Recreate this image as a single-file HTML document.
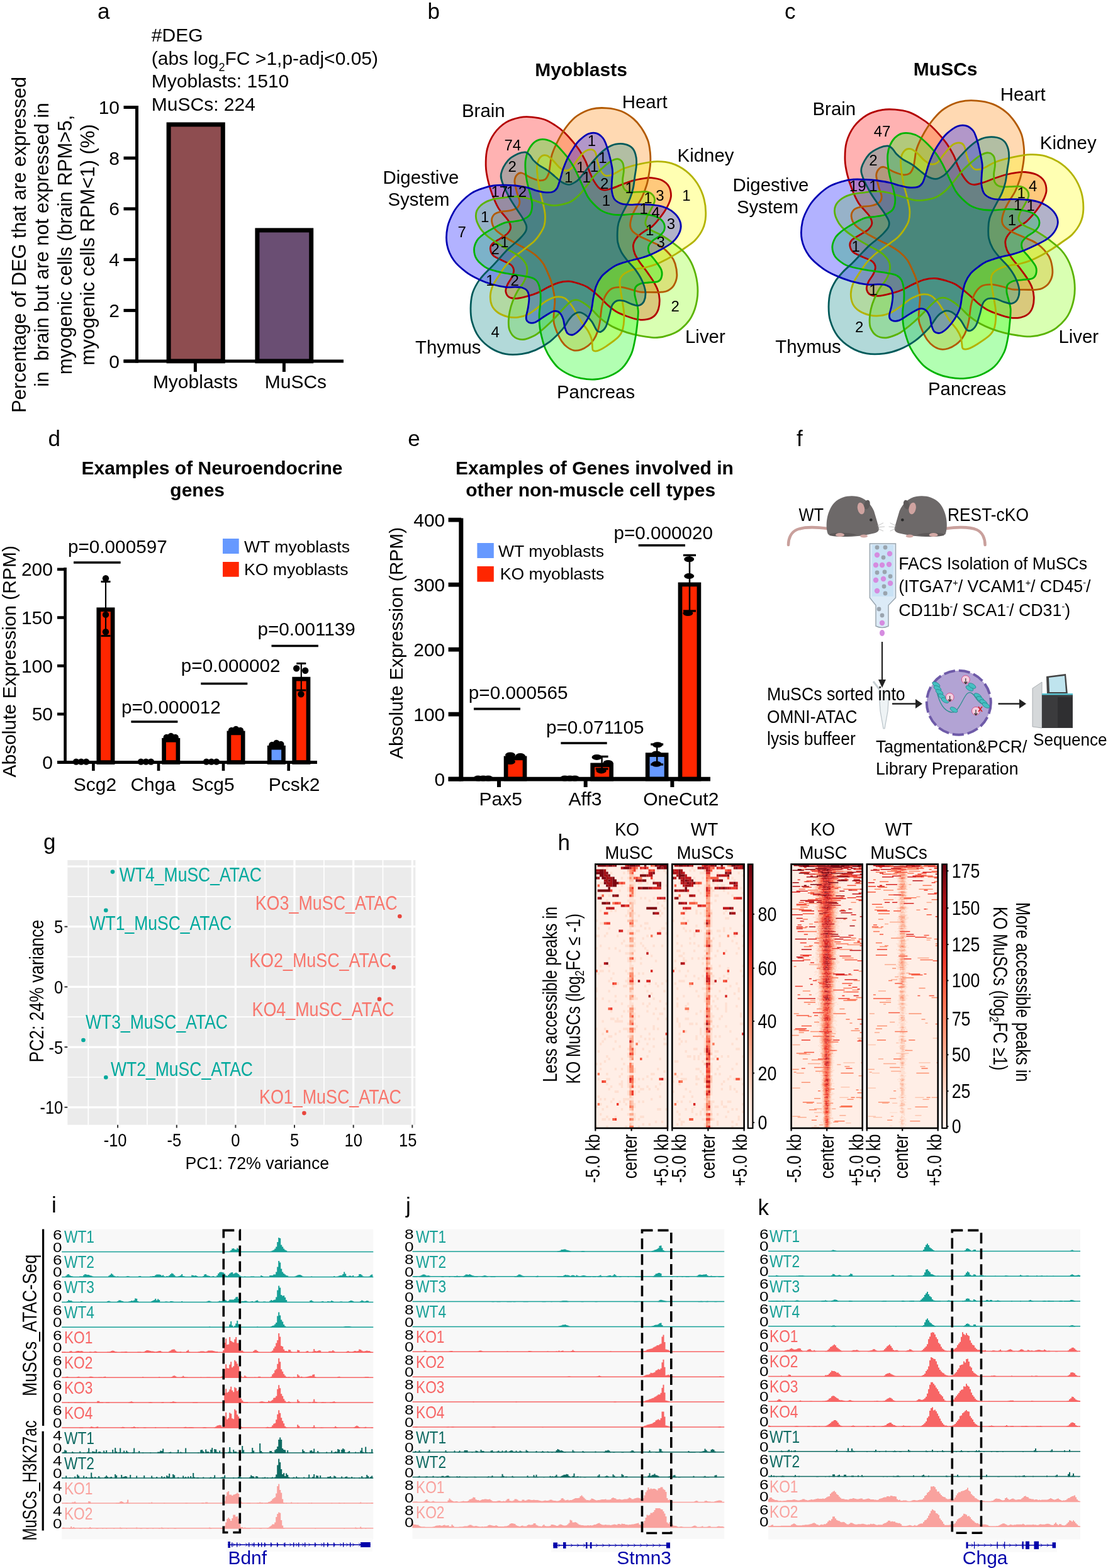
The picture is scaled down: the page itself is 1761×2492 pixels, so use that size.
<!DOCTYPE html>
<html><head><meta charset="utf-8"><title>Figure</title>
<style>html,body{margin:0;padding:0;background:#fff;}svg{display:block;}text{font-family:'Liberation Sans',Arial,Helvetica,sans-serif;}</style></head>
<body><svg width="1761" height="2492" viewBox="0 0 1761 2492">
<rect width="1761" height="2492" fill="#fff"/>
<text x="155.0" y="29.6" font-size="35">a</text>
<text x="240.8" y="66.0" font-size="30">#DEG</text>
<text x="240.8" y="102.8" font-size="30">(abs log<tspan font-size="18" dy="10">2</tspan><tspan dy="-10">FC &gt;1,p-adj&lt;0.05)</tspan></text>
<text x="240.8" y="139.4" font-size="30">Myoblasts: 1510</text>
<text x="240.8" y="175.5" font-size="30">MuSCs: 224</text>
<line x1="217.5" y1="168.0" x2="217.5" y2="576.5" stroke="#000" stroke-width="5"/>
<line x1="196.5" y1="574.0" x2="220.0" y2="574.0" stroke="#000" stroke-width="5"/>
<text x="190.0" y="584.5" font-size="30" text-anchor="end">0</text>
<line x1="196.5" y1="493.4" x2="220.0" y2="493.4" stroke="#000" stroke-width="5"/>
<text x="190.0" y="503.9" font-size="30" text-anchor="end">2</text>
<line x1="196.5" y1="412.6" x2="220.0" y2="412.6" stroke="#000" stroke-width="5"/>
<text x="190.0" y="423.1" font-size="30" text-anchor="end">4</text>
<line x1="196.5" y1="331.9" x2="220.0" y2="331.9" stroke="#000" stroke-width="5"/>
<text x="190.0" y="342.4" font-size="30" text-anchor="end">6</text>
<line x1="196.5" y1="251.2" x2="220.0" y2="251.2" stroke="#000" stroke-width="5"/>
<text x="190.0" y="261.7" font-size="30" text-anchor="end">8</text>
<line x1="196.5" y1="170.5" x2="220.0" y2="170.5" stroke="#000" stroke-width="5"/>
<text x="190.0" y="181.0" font-size="30" text-anchor="end">10</text>
<line x1="196.5" y1="574.0" x2="546.0" y2="574.0" stroke="#000" stroke-width="5"/>
<rect x="268.1" y="197.9" width="86.2" height="376" fill="#8E4D50" stroke="#000" stroke-width="7"/>
<rect x="408.9" y="365.9" width="85.8" height="208" fill="#6A4E73" stroke="#000" stroke-width="7"/>
<line x1="310.4" y1="574.0" x2="310.4" y2="591.0" stroke="#000" stroke-width="5"/>
<line x1="451.4" y1="574.0" x2="451.4" y2="591.0" stroke="#000" stroke-width="5"/>
<text x="310.4" y="616.7" font-size="30" text-anchor="middle">Myoblasts</text>
<text x="469.9" y="616.7" font-size="30" text-anchor="middle">MuSCs</text>
<text transform="translate(41,389) rotate(-90)" x="0" y="0" font-size="31" text-anchor="middle" xml:space="preserve">Percentage of DEG that are expressed</text>
<text transform="translate(77.4,389) rotate(-90)" x="0" y="0" font-size="31" text-anchor="middle" xml:space="preserve">in  brain but are not expressed in</text>
<text transform="translate(114,389) rotate(-90)" x="0" y="0" font-size="31" text-anchor="middle" xml:space="preserve">myogenic cells (brain RPM&gt;5,</text>
<text transform="translate(150,389) rotate(-90)" x="0" y="0" font-size="31" text-anchor="middle" xml:space="preserve">myogenic cells RPM&lt;1) (%)</text>
<text x="679.6" y="30.0" font-size="35">b</text>
<path d="M845.5,186.1C852.0,186.7 859.3,187.9 865.4,190.0C871.5,192.1 876.8,195.6 882.0,198.9C887.2,202.2 891.9,205.8 896.5,210.0C901.1,214.2 905.7,219.6 909.8,224.4C913.9,229.2 917.4,233.4 920.9,238.8C924.4,244.2 928.3,251.0 930.9,256.6C933.5,262.2 934.6,267.2 936.7,272.2C938.8,277.2 940.7,282.2 943.3,286.6C945.9,291.0 949.2,296.2 952.2,298.8C955.2,301.4 957.4,302.2 961.1,302.2C964.8,302.2 969.4,300.5 974.4,298.8C979.4,297.1 985.5,294.2 991.0,292.2C996.5,290.2 1002.2,288.1 1007.7,286.6C1013.2,285.1 1019.7,284.0 1024.3,283.3C1028.9,282.6 1030.8,282.1 1035.4,282.7C1040.0,283.2 1047.5,284.3 1052.1,286.6C1056.7,288.9 1060.8,292.5 1063.2,296.6C1065.6,300.7 1066.5,306.6 1066.5,311.0C1066.5,315.4 1064.9,319.1 1063.2,323.2C1061.5,327.3 1059.1,331.4 1056.5,335.5C1053.9,339.6 1050.9,343.6 1047.6,347.7C1044.3,351.8 1040.4,356.6 1036.5,359.9C1032.6,363.2 1028.2,364.8 1024.3,367.6C1020.4,370.4 1016.2,373.0 1013.2,376.5C1010.2,380.0 1007.3,384.3 1006.6,388.7C1005.9,393.1 1007.1,398.5 1008.8,403.1C1010.5,407.7 1014.2,412.9 1016.6,416.5C1019.0,420.1 1020.8,422.0 1023.0,425.0C1025.2,428.0 1027.3,430.6 1029.9,434.4C1032.5,438.2 1036.2,443.2 1038.8,447.7C1041.4,452.1 1043.8,456.5 1045.4,461.1C1047.0,465.7 1048.0,470.5 1048.2,475.5C1048.4,480.5 1047.9,486.6 1046.5,491.0C1045.1,495.4 1043.0,499.3 1039.9,502.1C1036.8,504.9 1032.2,506.8 1027.7,507.7C1023.2,508.6 1018.4,508.5 1013.2,507.7C1008.0,506.9 1002.2,504.7 996.6,502.7C991.0,500.7 984.9,498.4 979.9,495.5C974.9,492.6 970.7,489.0 966.6,485.5C962.5,482.0 959.2,477.9 955.5,474.4C951.8,470.9 948.1,467.5 944.4,464.4C940.6,461.3 936.9,458.2 933.0,456.0C929.1,453.8 925.7,452.5 920.9,451.0C916.1,449.5 909.8,447.4 904.3,447.1C898.8,446.8 893.1,447.7 887.6,449.3C882.1,450.9 876.5,453.8 871.0,456.5C865.5,459.2 859.8,463.0 854.3,465.4C848.8,467.8 843.2,469.4 837.7,470.9C832.2,472.4 825.8,474.1 821.0,474.3C816.2,474.5 811.7,473.9 808.8,472.0C805.9,470.1 804.2,466.5 803.8,463.2C803.4,459.9 805.0,455.8 806.6,452.1C808.2,448.4 811.6,444.7 813.3,441.0C815.0,437.3 816.8,433.2 816.6,429.9C816.4,426.6 815.2,423.6 812.2,421.0C809.2,418.4 803.4,416.7 798.8,414.3C794.2,411.9 787.6,409.6 784.4,406.6C781.2,403.7 779.8,399.8 779.4,396.6C779.0,393.5 779.5,390.7 782.2,387.7C784.9,384.7 791.4,381.6 795.5,378.8C799.6,376.0 803.9,373.9 806.6,371.1C809.3,368.3 811.2,365.4 811.6,362.2C812.0,359.0 810.4,355.3 808.8,352.2C807.2,349.1 805.0,346.9 802.2,343.3C799.4,339.8 795.5,336.7 792.2,330.9C788.9,325.1 785.0,316.1 782.2,308.7C779.4,301.3 777.2,293.9 775.5,286.5C773.8,279.1 772.4,272.6 772.2,264.3C772.0,256.0 772.2,245.3 774.4,236.6C776.6,227.9 780.5,219.2 785.5,212.2C790.5,205.2 797.5,198.7 804.4,194.4C811.2,190.1 819.8,188.0 826.6,186.6C833.5,185.2 839.0,185.5 845.5,186.1Z" fill="#FF0000" fill-opacity="0.3"/>
<path d="M1019.7,203.8C1023.5,209.5 1027.5,216.9 1029.8,223.5C1032.1,230.0 1032.7,236.9 1033.4,243.0C1034.0,249.2 1034.0,254.6 1033.6,260.3C1033.3,266.1 1032.3,272.0 1031.3,277.6C1030.4,283.1 1029.6,287.9 1027.9,293.7C1026.1,299.5 1023.5,306.8 1020.9,312.4C1018.3,318.0 1015.1,322.4 1012.5,327.3C1009.8,332.2 1007.0,336.9 1005.2,341.9C1003.4,346.9 1001.6,353.1 1001.6,357.2C1001.5,361.3 1002.4,363.8 1004.9,366.8C1007.4,369.8 1011.6,372.5 1016.4,375.3C1021.1,378.0 1027.7,380.5 1033.6,383.4C1039.5,386.3 1046.2,388.6 1051.7,392.5C1057.2,396.4 1063.0,402.5 1066.6,406.9C1070.1,411.3 1071.5,413.7 1073.0,419.0C1074.6,424.3 1076.1,433.0 1075.8,438.8C1075.4,444.5 1073.4,449.5 1071.0,453.4C1068.6,457.3 1064.5,460.2 1061.3,462.0C1058.1,463.8 1055.1,463.8 1051.8,464.2C1048.5,464.7 1045.1,464.5 1041.5,464.5C1037.9,464.5 1034.4,464.5 1030.2,464.4C1026.0,464.3 1020.9,464.7 1016.3,463.9C1011.6,463.1 1007.1,461.0 1002.2,459.8C997.3,458.5 992.0,456.6 987.0,456.4C982.0,456.3 976.4,456.5 972.2,458.8C968.0,461.1 964.5,465.8 961.9,470.5C959.3,475.2 957.8,482.2 956.7,486.9C955.6,491.6 955.6,494.6 955.0,498.6C954.5,502.5 954.4,506.2 953.5,510.9C952.6,515.5 951.5,521.9 949.8,526.7C948.2,531.5 946.3,535.9 943.7,539.7C941.2,543.5 938.2,546.7 934.8,549.3C931.3,552.0 926.9,554.5 923.0,555.8C919.2,557.0 915.4,557.5 911.8,556.8C908.2,556.1 904.5,553.9 901.3,551.5C898.1,549.2 895.4,546.3 892.9,542.6C890.3,538.9 888.1,534.4 885.9,529.5C883.8,524.5 881.2,518.6 880.3,512.8C879.4,507.0 880.3,500.5 880.5,494.6C880.8,488.7 882.0,483.0 881.8,477.6C881.7,472.2 880.6,467.2 879.6,462.3C878.7,457.3 877.6,452.4 876.2,447.8C874.7,443.3 873.2,439.7 871.1,434.8C868.9,430.0 866.5,423.5 863.3,418.7C860.1,413.9 856.3,409.9 852.0,406.2C847.7,402.4 842.7,399.4 837.4,396.2C832.1,393.0 825.9,390.3 820.2,387.1C814.5,383.9 808.6,380.7 803.1,377.0C797.6,373.3 790.9,369.2 787.3,364.9C783.7,360.6 781.8,355.2 781.5,351.1C781.2,347.1 783.2,343.1 785.6,340.6C788.1,338.1 792.3,337.3 796.5,336.3C800.6,335.3 806.5,335.8 810.8,334.7C815.0,333.7 819.6,332.4 822.2,330.0C824.7,327.6 826.0,324.6 825.9,320.4C825.7,316.2 822.6,310.4 821.3,304.9C820.0,299.4 817.7,292.1 817.9,287.5C818.0,282.9 820.2,279.3 822.2,277.3C824.1,275.2 826.1,274.1 829.6,275.0C833.1,275.8 838.8,280.3 843.3,282.2C847.9,284.2 852.8,286.3 856.7,286.7C860.6,287.2 864.1,286.7 866.7,284.8C869.3,282.8 870.9,278.8 872.2,275.2C873.4,271.6 873.4,268.0 874.2,263.0C875.1,258.0 875.1,252.2 877.4,245.2C879.7,238.2 884.2,228.4 888.2,220.8C892.2,213.3 896.7,205.9 901.5,199.8C906.3,193.7 910.7,188.5 917.1,184.1C923.5,179.7 932.2,175.4 940.1,173.3C948.0,171.3 956.4,171.2 964.3,171.8C972.2,172.3 980.5,174.0 987.6,176.8C994.7,179.7 1001.5,184.4 1006.9,188.9C1012.2,193.4 1015.8,198.0 1019.7,203.8Z" fill="#FF8000" fill-opacity="0.3"/>
<path d="M1117.0,363.8C1114.2,370.2 1109.6,376.6 1105.0,381.5C1100.4,386.5 1094.5,389.8 1089.4,393.5C1084.4,397.1 1079.8,400.2 1074.7,403.4C1069.6,406.5 1063.9,409.7 1058.8,412.4C1053.6,415.1 1049.1,417.5 1043.7,419.6C1038.3,421.6 1031.5,423.7 1026.3,425.0C1021.0,426.3 1016.6,426.2 1012.1,427.2C1007.7,428.2 1003.4,429.2 999.5,431.0C995.5,432.8 991.1,435.4 988.7,438.1C986.3,440.8 985.4,443.1 985.1,447.0C984.7,451.0 985.7,456.2 986.4,461.8C987.2,467.4 988.6,474.2 989.5,480.8C990.4,487.3 991.9,494.1 991.9,501.2C992.0,508.2 991.3,517.5 989.7,523.3C988.2,529.0 986.7,531.4 982.5,535.8C978.2,540.3 969.5,546.2 964.2,549.8C958.8,553.4 953.8,556.2 950.2,557.4C946.6,558.5 944.0,558.1 942.6,556.7C941.1,555.4 941.8,552.5 941.4,549.5C941.0,546.5 941.4,542.6 940.2,538.7C939.1,534.8 937.2,530.4 934.6,526.0C932.0,521.6 927.7,516.9 924.7,512.3C921.7,507.8 919.4,503.5 916.6,498.9C913.8,494.3 911.3,489.0 908.1,484.9C904.9,480.7 901.4,476.0 897.3,473.8C893.2,471.6 888.2,471.3 883.8,471.8C879.3,472.3 874.1,475.1 870.5,476.9C866.9,478.7 865.0,480.5 862.1,482.7C859.2,484.9 857.0,487.2 853.1,490.0C849.2,492.8 843.8,497.3 838.8,499.7C833.8,502.1 828.2,503.8 822.8,504.4C817.5,505.0 811.9,504.6 806.6,503.3C801.3,502.0 795.2,499.5 791.0,496.5C786.9,493.5 783.6,489.8 781.7,485.4C779.7,481.0 779.1,475.2 779.3,470.0C779.5,464.8 780.9,459.5 783.1,454.3C785.3,449.1 789.3,443.8 792.6,438.6C796.0,433.3 799.6,427.4 803.3,422.7C807.1,418.0 811.0,413.9 814.9,410.2C818.9,406.5 823.2,403.8 827.2,400.7C831.1,397.7 834.9,394.8 838.6,391.9C842.3,389.0 846.1,386.4 849.2,383.3C852.3,380.2 854.6,377.5 857.2,373.3C859.9,369.2 863.5,363.7 865.0,358.3C866.5,352.9 866.7,347.1 866.3,341.1C866.0,335.2 864.3,328.9 862.8,322.5C861.4,316.0 859.2,309.2 857.9,302.6C856.5,296.0 855.4,289.5 854.7,282.9C854.0,276.3 852.8,268.6 853.6,263.0C854.3,257.5 856.6,252.2 859.2,249.6C861.7,246.9 865.6,246.2 868.9,247.1C872.1,247.9 875.4,251.6 878.6,254.7C881.9,257.7 885.1,262.5 888.3,265.3C891.6,268.0 895.1,270.5 898.3,271.0C901.5,271.4 904.3,270.6 907.4,268.1C910.5,265.5 913.1,260.0 916.7,255.5C920.2,251.1 925.0,244.3 928.8,241.4C932.7,238.4 936.9,237.5 939.8,237.7C942.8,237.9 944.7,239.1 946.4,242.5C948.1,245.9 948.5,253.3 949.9,258.1C951.3,262.8 952.8,267.6 954.7,271.1C956.7,274.5 958.8,277.4 961.4,278.7C964.0,280.0 967.4,279.4 970.3,278.7C973.3,278.0 975.2,276.5 979.0,274.6C982.7,272.7 986.2,269.7 992.8,267.3C999.3,265.0 1009.6,262.1 1018.2,260.3C1026.8,258.5 1036.1,256.7 1044.3,256.6C1052.5,256.5 1059.7,257.1 1067.4,259.7C1075.1,262.2 1083.9,266.8 1090.7,272.1C1097.4,277.4 1103.4,284.1 1108.2,291.6C1112.9,299.0 1116.9,308.1 1119.1,316.8C1121.4,325.5 1122.0,335.8 1121.6,343.6C1121.3,351.5 1119.8,357.5 1117.0,363.8Z" fill="#FFFF00" fill-opacity="0.3"/>
<path d="M1064.7,532.1C1058.3,534.4 1051.0,536.1 1044.3,536.5C1037.7,537.0 1031.4,535.7 1025.0,534.8C1018.6,533.9 1012.4,532.8 1006.0,531.2C999.6,529.5 992.6,527.3 986.5,524.9C980.5,522.5 975.2,520.2 969.7,517.0C964.2,513.7 958.1,509.1 953.5,505.2C949.0,501.4 946.2,497.4 942.5,493.8C938.7,490.3 935.1,486.7 931.1,483.9C927.1,481.1 922.2,478.0 918.5,477.0C914.9,476.1 912.5,476.4 909.2,478.1C905.9,479.8 902.3,483.5 898.5,487.3C894.6,491.1 890.2,496.5 886.0,501.0C881.7,505.4 877.5,509.8 873.1,514.0C868.6,518.2 863.3,523.0 859.4,526.2C855.5,529.4 854.0,531.0 849.6,533.3C845.2,535.5 838.0,539.0 832.8,539.5C827.6,540.0 822.4,538.9 818.6,536.4C814.7,533.8 811.5,528.7 809.8,524.4C808.1,520.1 808.2,515.5 808.3,510.6C808.3,505.7 809.0,500.1 810.2,494.8C811.3,489.5 812.9,484.0 815.0,478.6C817.1,473.2 819.9,467.2 822.6,462.5C825.3,457.8 828.8,454.5 831.2,450.3C833.6,446.0 836.0,441.6 837.0,437.0C838.0,432.3 838.4,426.9 837.0,422.5C835.6,418.0 832.0,413.6 828.5,410.1C824.9,406.6 819.5,403.7 815.9,401.4C812.4,399.2 810.1,398.3 807.0,396.5C804.0,394.8 801.4,393.2 797.6,390.9C793.9,388.6 788.8,385.4 784.6,382.5C780.5,379.6 776.3,376.9 772.7,373.5C769.1,370.1 765.6,366.6 763.0,362.4C760.4,358.1 757.7,352.7 756.8,348.1C756.0,343.5 756.1,338.9 757.8,334.9C759.6,330.9 763.3,326.8 767.4,323.9C771.4,320.9 776.6,318.7 782.2,317.1C787.9,315.4 794.9,314.8 801.2,314.0C807.5,313.3 814.3,312.4 820.1,312.4C825.9,312.5 831.1,313.4 836.1,314.5C841.2,315.6 845.8,317.5 850.4,319.0C855.1,320.5 859.6,322.1 864.1,323.3C868.6,324.6 873.0,326.0 877.3,326.4C881.6,326.8 885.1,326.5 889.9,325.6C894.7,324.7 901.0,323.5 905.9,321.0C910.9,318.6 915.4,314.8 919.7,310.7C924.0,306.6 927.7,301.4 931.7,296.4C935.7,291.4 939.4,285.5 943.5,280.8C947.6,276.1 952.0,272.0 956.4,268.0C960.8,264.0 965.8,259.3 970.0,256.8C974.2,254.2 978.5,252.3 981.8,252.6C985.0,253.0 988.0,255.6 989.6,258.7C991.2,261.8 991.4,266.8 991.4,271.3C991.4,275.7 989.7,281.2 989.6,285.6C989.5,290.1 989.5,294.8 990.9,298.0C992.3,301.2 994.5,303.5 998.1,304.7C1001.7,305.9 1007.3,305.2 1012.5,305.2C1017.6,305.3 1024.6,303.8 1028.9,304.8C1033.1,305.7 1036.3,308.2 1038.2,310.8C1040.1,313.4 1041.0,316.2 1040.3,320.2C1039.5,324.1 1035.9,330.3 1033.8,334.6C1031.7,338.9 1028.9,342.5 1027.6,346.0C1026.3,349.5 1025.3,352.8 1025.8,355.6C1026.3,358.5 1028.6,361.0 1030.8,363.0C1032.9,365.0 1035.1,366.0 1038.6,367.8C1042.1,369.7 1046.1,370.7 1051.5,374.0C1057.0,377.2 1065.0,382.5 1071.3,387.3C1077.6,392.1 1084.2,396.9 1089.1,402.8C1094.0,408.6 1097.8,414.5 1100.9,422.3C1104.1,430.1 1107.0,440.3 1108.1,449.4C1109.3,458.5 1109.3,467.8 1107.8,476.8C1106.3,485.8 1103.3,495.7 1099.0,503.4C1094.8,511.1 1088.0,518.1 1082.2,522.8C1076.5,527.6 1071.0,529.9 1064.7,532.1Z" fill="#80FF00" fill-opacity="0.3"/>
<path d="M905.1,595.5C899.2,592.7 892.4,588.8 887.4,584.5C882.4,580.1 878.6,574.7 875.1,569.6C871.7,564.6 869.0,559.6 866.7,554.2C864.3,548.7 862.7,542.4 861.3,536.6C859.8,530.8 858.6,525.8 857.9,519.5C857.2,513.2 856.9,505.0 857.1,498.7C857.3,492.3 858.7,486.9 859.0,481.3C859.3,475.8 859.5,470.4 858.9,465.2C858.3,460.1 857.2,454.0 855.4,450.3C853.7,446.5 852.0,444.8 848.6,442.9C845.2,441.1 840.3,440.3 835.1,439.2C829.8,438.2 823.1,437.4 817.1,436.5C811.1,435.5 804.8,434.7 798.8,433.4C792.9,432.2 786.0,430.4 781.3,428.9C776.6,427.3 774.5,427.0 770.5,424.1C766.6,421.3 760.4,416.3 757.6,411.7C754.7,407.1 753.4,401.4 753.5,396.5C753.5,391.6 755.9,386.0 758.1,382.2C760.3,378.4 763.3,376.3 766.4,373.8C769.5,371.2 773.1,369.1 776.7,366.9C780.4,364.7 784.0,362.7 788.2,360.5C792.4,358.4 797.2,355.5 801.9,354.1C806.6,352.7 811.5,352.9 816.3,352.1C821.1,351.2 826.5,350.9 830.8,349.0C835.2,347.1 839.8,344.7 842.3,340.9C844.8,337.1 845.7,331.5 845.8,326.3C846.0,321.2 844.0,314.4 843.1,309.8C842.1,305.2 841.0,302.5 840.0,298.6C839.0,294.7 838.0,291.3 837.2,286.5C836.3,281.8 835.4,275.4 835.1,270.2C834.8,265.0 834.6,260.1 835.2,255.2C835.8,250.4 836.8,245.8 838.7,241.3C840.6,236.9 843.5,231.9 846.5,228.7C849.5,225.5 853.1,223.1 856.9,222.1C860.8,221.0 865.5,221.3 869.6,222.4C873.7,223.4 877.7,225.3 881.7,228.2C885.6,231.1 889.2,235.3 893.1,239.6C897.0,243.9 901.4,249.0 904.8,254.0C908.3,258.9 911.3,264.2 914.0,269.3C916.7,274.4 918.7,279.4 920.9,284.3C923.2,289.3 925.3,294.1 927.5,298.8C929.7,303.5 931.6,308.3 934.1,312.4C936.6,316.5 939.0,319.5 942.6,323.2C946.3,327.0 951.2,332.0 956.2,334.9C961.2,337.8 966.9,339.5 972.7,340.6C978.5,341.7 984.8,341.6 991.1,341.5C997.5,341.3 1004.3,340.0 1010.5,339.9C1016.8,339.8 1022.9,340.0 1028.7,340.9C1034.6,341.9 1041.1,343.3 1045.5,345.5C1049.9,347.8 1053.3,351.3 1055.0,354.6C1056.7,358.0 1056.7,362.3 1055.7,365.6C1054.7,368.9 1051.7,371.8 1048.9,374.5C1046.0,377.2 1041.3,379.1 1038.3,381.8C1035.4,384.5 1032.1,387.6 1031.0,390.9C1029.9,394.2 1029.9,397.7 1031.7,401.6C1033.5,405.5 1038.4,409.9 1041.6,414.5C1044.9,419.1 1049.5,424.6 1051.1,429.0C1052.7,433.4 1052.2,437.7 1051.3,440.7C1050.5,443.8 1049.1,446.1 1045.7,447.4C1042.4,448.8 1035.8,448.5 1031.2,449.0C1026.5,449.6 1021.6,449.6 1018.0,450.9C1014.5,452.2 1011.5,454.0 1010.0,456.8C1008.4,459.5 1008.5,463.7 1008.7,467.3C1008.9,471.0 1010.3,474.1 1011.2,478.7C1012.2,483.2 1014.1,487.8 1014.3,494.5C1014.5,501.2 1013.3,510.9 1012.4,518.8C1011.5,526.6 1010.5,534.3 1008.9,541.7C1007.3,549.2 1006.4,556.1 1003.0,563.3C999.6,570.5 994.5,579.4 988.6,585.2C982.8,591.0 975.2,595.0 967.9,598.0C960.7,600.9 952.5,602.4 945.0,603.0C937.5,603.5 929.5,602.4 922.8,601.1C916.2,599.9 911.0,598.3 905.1,595.5Z" fill="#00FF00" fill-opacity="0.3"/>
<path d="M748.0,490.2C748.1,483.0 748.8,474.6 750.5,467.9C752.2,461.2 755.3,455.4 758.5,450.1C761.6,444.7 765.5,440.5 769.5,435.9C773.6,431.3 778.7,426.9 782.8,422.6C787.0,418.3 790.3,414.4 794.3,410.0C798.3,405.6 803.0,400.2 807.0,396.3C810.9,392.4 814.4,389.9 817.9,386.8C821.4,383.6 824.9,380.8 827.8,377.5C830.8,374.3 834.3,370.4 835.7,367.2C837.1,364.0 837.3,361.8 836.5,358.4C835.6,354.9 833.2,351.0 830.6,346.6C827.9,342.1 824.1,336.9 820.7,331.5C817.2,326.2 813.5,321.0 809.9,314.4C806.3,307.8 801.2,298.3 799.0,291.8C796.8,285.3 795.2,281.6 796.6,275.4C798.0,269.3 802.9,260.3 807.3,255.1C811.7,250.0 818.3,246.8 823.0,244.6C827.7,242.4 832.4,241.7 835.6,242.0C838.7,242.4 840.1,244.7 842.1,246.8C844.1,248.9 845.2,251.9 847.7,254.6C850.1,257.2 853.0,260.0 856.8,262.7C860.5,265.4 866.2,267.9 870.3,270.9C874.5,273.8 877.9,277.1 881.6,280.2C885.3,283.2 888.7,287.0 892.5,289.2C896.3,291.3 900.6,293.5 904.6,293.3C908.6,293.1 912.8,290.6 916.5,287.9C920.2,285.2 923.9,280.2 926.6,277.0C929.3,273.9 930.5,271.7 932.7,268.8C934.9,265.9 936.5,263.5 939.6,259.8C942.7,256.2 947.0,250.9 951.1,246.9C955.1,242.8 959.5,238.5 964.1,235.5C968.7,232.6 973.5,230.2 978.5,229.2C983.5,228.1 989.6,228.2 994.0,229.3C998.5,230.3 1002.3,232.4 1005.1,235.5C1007.9,238.5 1009.6,243.1 1010.6,247.6C1011.7,252.0 1011.8,256.7 1011.5,262.0C1011.3,267.3 1010.0,273.4 1009.1,279.4C1008.2,285.5 1007.7,292.6 1006.4,298.6C1005.1,304.6 1003.3,310.2 1001.3,315.3C999.3,320.4 996.5,324.8 994.3,329.2C992.0,333.7 989.7,337.9 987.8,342.2C985.9,346.5 984.0,350.7 982.9,355.0C981.8,359.3 981.5,362.9 981.3,367.9C981.1,372.9 980.8,379.5 981.8,384.9C982.8,390.3 984.8,395.4 987.4,400.4C990.0,405.3 993.7,409.8 997.5,414.6C1001.4,419.5 1006.6,424.2 1010.4,429.4C1014.2,434.6 1017.7,440.0 1020.3,445.8C1022.9,451.5 1025.3,458.4 1025.8,463.9C1026.3,469.5 1025.2,475.5 1023.4,479.1C1021.5,482.7 1018.1,484.9 1014.8,485.6C1011.5,486.3 1007.4,484.3 1003.4,483.1C999.5,481.9 995.2,479.1 991.3,478.2C987.4,477.4 983.3,476.9 980.3,478.1C977.2,479.3 974.9,481.4 972.9,485.2C971.0,489.0 970.4,495.3 968.7,500.9C967.0,506.5 965.2,514.6 963.0,519.0C960.7,523.3 957.7,526.0 955.4,527.1C953.0,528.1 951.1,527.8 948.7,525.2C946.3,522.6 943.8,515.5 940.8,511.4C937.8,507.4 934.0,503.2 930.6,500.7C927.2,498.2 923.7,496.5 920.5,496.4C917.2,496.3 913.9,498.3 911.2,500.3C908.4,502.3 906.8,504.6 904.0,508.4C901.2,512.2 899.1,517.4 894.1,523.2C889.1,528.9 881.2,537.3 874.1,542.9C866.9,548.4 858.7,553.1 851.2,556.4C843.7,559.7 837.1,561.6 829.2,562.7C821.2,563.7 811.7,564.2 803.6,562.7C795.4,561.1 787.2,557.8 780.1,553.3C773.0,548.7 765.8,542.3 760.9,535.3C755.9,528.4 752.4,519.1 750.3,511.6C748.1,504.1 748.0,497.5 748.0,490.2Z" fill="#008080" fill-opacity="0.3"/>
<path d="M733.5,320.6C738.3,315.7 744.1,310.5 749.7,306.9C755.3,303.4 761.3,301.2 767.0,299.3C772.7,297.3 778.2,295.8 784.2,295.0C790.1,294.1 796.8,294.2 802.7,294.2C808.6,294.2 813.8,294.4 819.7,295.0C825.6,295.7 832.7,296.9 838.1,298.2C843.5,299.5 847.6,301.5 852.1,302.8C856.7,304.0 861.0,305.3 865.4,305.7C869.8,306.1 875.0,306.1 878.3,305.0C881.6,303.9 883.3,302.4 885.3,299.1C887.3,295.8 888.4,290.7 890.2,285.4C891.9,280.0 893.4,273.1 895.6,267.1C897.7,261.2 900.1,255.2 903.1,249.4C906.0,243.7 910.1,237.2 913.1,232.8C916.0,228.4 917.2,226.4 920.8,223.1C924.5,219.7 930.4,214.7 934.9,212.8C939.4,211.0 944.1,210.8 948.0,211.9C951.9,213.0 955.7,216.4 958.2,219.3C960.8,222.2 961.7,225.6 963.2,229.3C964.6,232.9 965.8,236.9 967.0,241.3C968.2,245.6 969.5,250.2 970.6,255.2C971.7,260.3 973.2,266.4 973.5,271.6C973.8,276.9 972.8,281.7 972.6,286.9C972.4,292.0 971.7,297.5 972.3,302.4C972.9,307.3 973.8,312.6 976.3,316.2C978.8,319.7 983.1,322.1 987.2,323.6C991.4,325.1 997.2,325.0 1001.1,325.3C1005.1,325.5 1007.6,325.1 1011.0,325.0C1014.5,324.9 1017.5,324.7 1022.0,324.9C1026.4,325.0 1032.5,325.1 1037.7,325.7C1042.9,326.3 1048.1,326.9 1053.0,328.4C1057.9,329.9 1062.7,331.9 1067.0,334.9C1071.2,338.0 1075.8,342.4 1078.3,346.6C1080.9,350.8 1082.3,355.5 1082.2,360.1C1082.0,364.7 1080.1,370.0 1077.5,374.4C1075.0,378.9 1071.4,382.9 1067.0,386.5C1062.6,390.1 1056.6,393.1 1051.2,396.2C1045.7,399.2 1039.7,402.3 1034.3,404.6C1028.9,406.9 1023.9,408.6 1019.0,410.0C1014.0,411.5 1009.4,412.3 1004.8,413.5C1000.2,414.7 995.7,415.9 991.4,417.2C987.1,418.6 982.8,419.9 978.9,421.8C975.1,423.7 972.2,425.7 968.3,428.7C964.5,431.7 959.2,435.5 955.8,439.8C952.3,444.2 949.5,449.2 947.4,454.9C945.3,460.5 944.3,467.1 943.0,473.6C941.7,480.0 941.4,487.7 939.5,493.8C937.7,499.9 934.9,505.1 931.9,510.2C928.9,515.2 925.1,520.5 921.6,524.1C918.1,527.7 914.4,530.8 911.1,531.8C907.9,532.8 904.5,531.9 902.2,530.0C900.0,528.0 898.9,523.9 897.7,520.1C896.5,516.2 896.5,510.9 895.0,507.0C893.6,503.1 891.7,498.8 889.2,496.7C886.7,494.7 883.7,493.7 879.9,494.6C876.1,495.5 871.1,499.2 866.2,502.2C861.4,505.1 855.1,510.5 850.7,512.2C846.4,513.9 842.6,513.4 840.2,512.2C837.8,511.1 836.3,509.2 836.2,505.3C836.0,501.4 838.5,494.0 839.3,488.7C840.0,483.4 841.1,477.8 840.9,473.4C840.7,469.0 839.8,464.9 837.8,462.2C835.9,459.4 832.4,458.0 829.2,457.0C826.1,456.0 823.3,456.3 819.1,456.2C814.8,456.1 810.2,457.2 803.8,456.4C797.4,455.6 788.2,453.6 780.9,451.5C773.5,449.3 766.2,446.5 759.6,443.3C752.9,440.1 747.1,437.3 740.8,432.4C734.4,427.5 726.4,421.1 721.3,413.8C716.3,406.6 712.2,397.8 710.5,388.9C708.8,380.1 709.5,369.5 711.3,360.7C713.1,352.0 717.5,343.3 721.2,336.6C724.9,329.9 728.8,325.6 733.5,320.6Z" fill="#0000FF" fill-opacity="0.3"/>
<path d="M845.5,186.1C852.0,186.7 859.3,187.9 865.4,190.0C871.5,192.1 876.8,195.6 882.0,198.9C887.2,202.2 891.9,205.8 896.5,210.0C901.1,214.2 905.7,219.6 909.8,224.4C913.9,229.2 917.4,233.4 920.9,238.8C924.4,244.2 928.3,251.0 930.9,256.6C933.5,262.2 934.6,267.2 936.7,272.2C938.8,277.2 940.7,282.2 943.3,286.6C945.9,291.0 949.2,296.2 952.2,298.8C955.2,301.4 957.4,302.2 961.1,302.2C964.8,302.2 969.4,300.5 974.4,298.8C979.4,297.1 985.5,294.2 991.0,292.2C996.5,290.2 1002.2,288.1 1007.7,286.6C1013.2,285.1 1019.7,284.0 1024.3,283.3C1028.9,282.6 1030.8,282.1 1035.4,282.7C1040.0,283.2 1047.5,284.3 1052.1,286.6C1056.7,288.9 1060.8,292.5 1063.2,296.6C1065.6,300.7 1066.5,306.6 1066.5,311.0C1066.5,315.4 1064.9,319.1 1063.2,323.2C1061.5,327.3 1059.1,331.4 1056.5,335.5C1053.9,339.6 1050.9,343.6 1047.6,347.7C1044.3,351.8 1040.4,356.6 1036.5,359.9C1032.6,363.2 1028.2,364.8 1024.3,367.6C1020.4,370.4 1016.2,373.0 1013.2,376.5C1010.2,380.0 1007.3,384.3 1006.6,388.7C1005.9,393.1 1007.1,398.5 1008.8,403.1C1010.5,407.7 1014.2,412.9 1016.6,416.5C1019.0,420.1 1020.8,422.0 1023.0,425.0C1025.2,428.0 1027.3,430.6 1029.9,434.4C1032.5,438.2 1036.2,443.2 1038.8,447.7C1041.4,452.1 1043.8,456.5 1045.4,461.1C1047.0,465.7 1048.0,470.5 1048.2,475.5C1048.4,480.5 1047.9,486.6 1046.5,491.0C1045.1,495.4 1043.0,499.3 1039.9,502.1C1036.8,504.9 1032.2,506.8 1027.7,507.7C1023.2,508.6 1018.4,508.5 1013.2,507.7C1008.0,506.9 1002.2,504.7 996.6,502.7C991.0,500.7 984.9,498.4 979.9,495.5C974.9,492.6 970.7,489.0 966.6,485.5C962.5,482.0 959.2,477.9 955.5,474.4C951.8,470.9 948.1,467.5 944.4,464.4C940.6,461.3 936.9,458.2 933.0,456.0C929.1,453.8 925.7,452.5 920.9,451.0C916.1,449.5 909.8,447.4 904.3,447.1C898.8,446.8 893.1,447.7 887.6,449.3C882.1,450.9 876.5,453.8 871.0,456.5C865.5,459.2 859.8,463.0 854.3,465.4C848.8,467.8 843.2,469.4 837.7,470.9C832.2,472.4 825.8,474.1 821.0,474.3C816.2,474.5 811.7,473.9 808.8,472.0C805.9,470.1 804.2,466.5 803.8,463.2C803.4,459.9 805.0,455.8 806.6,452.1C808.2,448.4 811.6,444.7 813.3,441.0C815.0,437.3 816.8,433.2 816.6,429.9C816.4,426.6 815.2,423.6 812.2,421.0C809.2,418.4 803.4,416.7 798.8,414.3C794.2,411.9 787.6,409.6 784.4,406.6C781.2,403.7 779.8,399.8 779.4,396.6C779.0,393.5 779.5,390.7 782.2,387.7C784.9,384.7 791.4,381.6 795.5,378.8C799.6,376.0 803.9,373.9 806.6,371.1C809.3,368.3 811.2,365.4 811.6,362.2C812.0,359.0 810.4,355.3 808.8,352.2C807.2,349.1 805.0,346.9 802.2,343.3C799.4,339.8 795.5,336.7 792.2,330.9C788.9,325.1 785.0,316.1 782.2,308.7C779.4,301.3 777.2,293.9 775.5,286.5C773.8,279.1 772.4,272.6 772.2,264.3C772.0,256.0 772.2,245.3 774.4,236.6C776.6,227.9 780.5,219.2 785.5,212.2C790.5,205.2 797.5,198.7 804.4,194.4C811.2,190.1 819.8,188.0 826.6,186.6C833.5,185.2 839.0,185.5 845.5,186.1Z" fill="none" stroke="#B30000" stroke-width="2.8"/>
<path d="M1019.7,203.8C1023.5,209.5 1027.5,216.9 1029.8,223.5C1032.1,230.0 1032.7,236.9 1033.4,243.0C1034.0,249.2 1034.0,254.6 1033.6,260.3C1033.3,266.1 1032.3,272.0 1031.3,277.6C1030.4,283.1 1029.6,287.9 1027.9,293.7C1026.1,299.5 1023.5,306.8 1020.9,312.4C1018.3,318.0 1015.1,322.4 1012.5,327.3C1009.8,332.2 1007.0,336.9 1005.2,341.9C1003.4,346.9 1001.6,353.1 1001.6,357.2C1001.5,361.3 1002.4,363.8 1004.9,366.8C1007.4,369.8 1011.6,372.5 1016.4,375.3C1021.1,378.0 1027.7,380.5 1033.6,383.4C1039.5,386.3 1046.2,388.6 1051.7,392.5C1057.2,396.4 1063.0,402.5 1066.6,406.9C1070.1,411.3 1071.5,413.7 1073.0,419.0C1074.6,424.3 1076.1,433.0 1075.8,438.8C1075.4,444.5 1073.4,449.5 1071.0,453.4C1068.6,457.3 1064.5,460.2 1061.3,462.0C1058.1,463.8 1055.1,463.8 1051.8,464.2C1048.5,464.7 1045.1,464.5 1041.5,464.5C1037.9,464.5 1034.4,464.5 1030.2,464.4C1026.0,464.3 1020.9,464.7 1016.3,463.9C1011.6,463.1 1007.1,461.0 1002.2,459.8C997.3,458.5 992.0,456.6 987.0,456.4C982.0,456.3 976.4,456.5 972.2,458.8C968.0,461.1 964.5,465.8 961.9,470.5C959.3,475.2 957.8,482.2 956.7,486.9C955.6,491.6 955.6,494.6 955.0,498.6C954.5,502.5 954.4,506.2 953.5,510.9C952.6,515.5 951.5,521.9 949.8,526.7C948.2,531.5 946.3,535.9 943.7,539.7C941.2,543.5 938.2,546.7 934.8,549.3C931.3,552.0 926.9,554.5 923.0,555.8C919.2,557.0 915.4,557.5 911.8,556.8C908.2,556.1 904.5,553.9 901.3,551.5C898.1,549.2 895.4,546.3 892.9,542.6C890.3,538.9 888.1,534.4 885.9,529.5C883.8,524.5 881.2,518.6 880.3,512.8C879.4,507.0 880.3,500.5 880.5,494.6C880.8,488.7 882.0,483.0 881.8,477.6C881.7,472.2 880.6,467.2 879.6,462.3C878.7,457.3 877.6,452.4 876.2,447.8C874.7,443.3 873.2,439.7 871.1,434.8C868.9,430.0 866.5,423.5 863.3,418.7C860.1,413.9 856.3,409.9 852.0,406.2C847.7,402.4 842.7,399.4 837.4,396.2C832.1,393.0 825.9,390.3 820.2,387.1C814.5,383.9 808.6,380.7 803.1,377.0C797.6,373.3 790.9,369.2 787.3,364.9C783.7,360.6 781.8,355.2 781.5,351.1C781.2,347.1 783.2,343.1 785.6,340.6C788.1,338.1 792.3,337.3 796.5,336.3C800.6,335.3 806.5,335.8 810.8,334.7C815.0,333.7 819.6,332.4 822.2,330.0C824.7,327.6 826.0,324.6 825.9,320.4C825.7,316.2 822.6,310.4 821.3,304.9C820.0,299.4 817.7,292.1 817.9,287.5C818.0,282.9 820.2,279.3 822.2,277.3C824.1,275.2 826.1,274.1 829.6,275.0C833.1,275.8 838.8,280.3 843.3,282.2C847.9,284.2 852.8,286.3 856.7,286.7C860.6,287.2 864.1,286.7 866.7,284.8C869.3,282.8 870.9,278.8 872.2,275.2C873.4,271.6 873.4,268.0 874.2,263.0C875.1,258.0 875.1,252.2 877.4,245.2C879.7,238.2 884.2,228.4 888.2,220.8C892.2,213.3 896.7,205.9 901.5,199.8C906.3,193.7 910.7,188.5 917.1,184.1C923.5,179.7 932.2,175.4 940.1,173.3C948.0,171.3 956.4,171.2 964.3,171.8C972.2,172.3 980.5,174.0 987.6,176.8C994.7,179.7 1001.5,184.4 1006.9,188.9C1012.2,193.4 1015.8,198.0 1019.7,203.8Z" fill="none" stroke="#B35A00" stroke-width="2.8"/>
<path d="M1117.0,363.8C1114.2,370.2 1109.6,376.6 1105.0,381.5C1100.4,386.5 1094.5,389.8 1089.4,393.5C1084.4,397.1 1079.8,400.2 1074.7,403.4C1069.6,406.5 1063.9,409.7 1058.8,412.4C1053.6,415.1 1049.1,417.5 1043.7,419.6C1038.3,421.6 1031.5,423.7 1026.3,425.0C1021.0,426.3 1016.6,426.2 1012.1,427.2C1007.7,428.2 1003.4,429.2 999.5,431.0C995.5,432.8 991.1,435.4 988.7,438.1C986.3,440.8 985.4,443.1 985.1,447.0C984.7,451.0 985.7,456.2 986.4,461.8C987.2,467.4 988.6,474.2 989.5,480.8C990.4,487.3 991.9,494.1 991.9,501.2C992.0,508.2 991.3,517.5 989.7,523.3C988.2,529.0 986.7,531.4 982.5,535.8C978.2,540.3 969.5,546.2 964.2,549.8C958.8,553.4 953.8,556.2 950.2,557.4C946.6,558.5 944.0,558.1 942.6,556.7C941.1,555.4 941.8,552.5 941.4,549.5C941.0,546.5 941.4,542.6 940.2,538.7C939.1,534.8 937.2,530.4 934.6,526.0C932.0,521.6 927.7,516.9 924.7,512.3C921.7,507.8 919.4,503.5 916.6,498.9C913.8,494.3 911.3,489.0 908.1,484.9C904.9,480.7 901.4,476.0 897.3,473.8C893.2,471.6 888.2,471.3 883.8,471.8C879.3,472.3 874.1,475.1 870.5,476.9C866.9,478.7 865.0,480.5 862.1,482.7C859.2,484.9 857.0,487.2 853.1,490.0C849.2,492.8 843.8,497.3 838.8,499.7C833.8,502.1 828.2,503.8 822.8,504.4C817.5,505.0 811.9,504.6 806.6,503.3C801.3,502.0 795.2,499.5 791.0,496.5C786.9,493.5 783.6,489.8 781.7,485.4C779.7,481.0 779.1,475.2 779.3,470.0C779.5,464.8 780.9,459.5 783.1,454.3C785.3,449.1 789.3,443.8 792.6,438.6C796.0,433.3 799.6,427.4 803.3,422.7C807.1,418.0 811.0,413.9 814.9,410.2C818.9,406.5 823.2,403.8 827.2,400.7C831.1,397.7 834.9,394.8 838.6,391.9C842.3,389.0 846.1,386.4 849.2,383.3C852.3,380.2 854.6,377.5 857.2,373.3C859.9,369.2 863.5,363.7 865.0,358.3C866.5,352.9 866.7,347.1 866.3,341.1C866.0,335.2 864.3,328.9 862.8,322.5C861.4,316.0 859.2,309.2 857.9,302.6C856.5,296.0 855.4,289.5 854.7,282.9C854.0,276.3 852.8,268.6 853.6,263.0C854.3,257.5 856.6,252.2 859.2,249.6C861.7,246.9 865.6,246.2 868.9,247.1C872.1,247.9 875.4,251.6 878.6,254.7C881.9,257.7 885.1,262.5 888.3,265.3C891.6,268.0 895.1,270.5 898.3,271.0C901.5,271.4 904.3,270.6 907.4,268.1C910.5,265.5 913.1,260.0 916.7,255.5C920.2,251.1 925.0,244.3 928.8,241.4C932.7,238.4 936.9,237.5 939.8,237.7C942.8,237.9 944.7,239.1 946.4,242.5C948.1,245.9 948.5,253.3 949.9,258.1C951.3,262.8 952.8,267.6 954.7,271.1C956.7,274.5 958.8,277.4 961.4,278.7C964.0,280.0 967.4,279.4 970.3,278.7C973.3,278.0 975.2,276.5 979.0,274.6C982.7,272.7 986.2,269.7 992.8,267.3C999.3,265.0 1009.6,262.1 1018.2,260.3C1026.8,258.5 1036.1,256.7 1044.3,256.6C1052.5,256.5 1059.7,257.1 1067.4,259.7C1075.1,262.2 1083.9,266.8 1090.7,272.1C1097.4,277.4 1103.4,284.1 1108.2,291.6C1112.9,299.0 1116.9,308.1 1119.1,316.8C1121.4,325.5 1122.0,335.8 1121.6,343.6C1121.3,351.5 1119.8,357.5 1117.0,363.8Z" fill="none" stroke="#B3B300" stroke-width="2.8"/>
<path d="M1064.7,532.1C1058.3,534.4 1051.0,536.1 1044.3,536.5C1037.7,537.0 1031.4,535.7 1025.0,534.8C1018.6,533.9 1012.4,532.8 1006.0,531.2C999.6,529.5 992.6,527.3 986.5,524.9C980.5,522.5 975.2,520.2 969.7,517.0C964.2,513.7 958.1,509.1 953.5,505.2C949.0,501.4 946.2,497.4 942.5,493.8C938.7,490.3 935.1,486.7 931.1,483.9C927.1,481.1 922.2,478.0 918.5,477.0C914.9,476.1 912.5,476.4 909.2,478.1C905.9,479.8 902.3,483.5 898.5,487.3C894.6,491.1 890.2,496.5 886.0,501.0C881.7,505.4 877.5,509.8 873.1,514.0C868.6,518.2 863.3,523.0 859.4,526.2C855.5,529.4 854.0,531.0 849.6,533.3C845.2,535.5 838.0,539.0 832.8,539.5C827.6,540.0 822.4,538.9 818.6,536.4C814.7,533.8 811.5,528.7 809.8,524.4C808.1,520.1 808.2,515.5 808.3,510.6C808.3,505.7 809.0,500.1 810.2,494.8C811.3,489.5 812.9,484.0 815.0,478.6C817.1,473.2 819.9,467.2 822.6,462.5C825.3,457.8 828.8,454.5 831.2,450.3C833.6,446.0 836.0,441.6 837.0,437.0C838.0,432.3 838.4,426.9 837.0,422.5C835.6,418.0 832.0,413.6 828.5,410.1C824.9,406.6 819.5,403.7 815.9,401.4C812.4,399.2 810.1,398.3 807.0,396.5C804.0,394.8 801.4,393.2 797.6,390.9C793.9,388.6 788.8,385.4 784.6,382.5C780.5,379.6 776.3,376.9 772.7,373.5C769.1,370.1 765.6,366.6 763.0,362.4C760.4,358.1 757.7,352.7 756.8,348.1C756.0,343.5 756.1,338.9 757.8,334.9C759.6,330.9 763.3,326.8 767.4,323.9C771.4,320.9 776.6,318.7 782.2,317.1C787.9,315.4 794.9,314.8 801.2,314.0C807.5,313.3 814.3,312.4 820.1,312.4C825.9,312.5 831.1,313.4 836.1,314.5C841.2,315.6 845.8,317.5 850.4,319.0C855.1,320.5 859.6,322.1 864.1,323.3C868.6,324.6 873.0,326.0 877.3,326.4C881.6,326.8 885.1,326.5 889.9,325.6C894.7,324.7 901.0,323.5 905.9,321.0C910.9,318.6 915.4,314.8 919.7,310.7C924.0,306.6 927.7,301.4 931.7,296.4C935.7,291.4 939.4,285.5 943.5,280.8C947.6,276.1 952.0,272.0 956.4,268.0C960.8,264.0 965.8,259.3 970.0,256.8C974.2,254.2 978.5,252.3 981.8,252.6C985.0,253.0 988.0,255.6 989.6,258.7C991.2,261.8 991.4,266.8 991.4,271.3C991.4,275.7 989.7,281.2 989.6,285.6C989.5,290.1 989.5,294.8 990.9,298.0C992.3,301.2 994.5,303.5 998.1,304.7C1001.7,305.9 1007.3,305.2 1012.5,305.2C1017.6,305.3 1024.6,303.8 1028.9,304.8C1033.1,305.7 1036.3,308.2 1038.2,310.8C1040.1,313.4 1041.0,316.2 1040.3,320.2C1039.5,324.1 1035.9,330.3 1033.8,334.6C1031.7,338.9 1028.9,342.5 1027.6,346.0C1026.3,349.5 1025.3,352.8 1025.8,355.6C1026.3,358.5 1028.6,361.0 1030.8,363.0C1032.9,365.0 1035.1,366.0 1038.6,367.8C1042.1,369.7 1046.1,370.7 1051.5,374.0C1057.0,377.2 1065.0,382.5 1071.3,387.3C1077.6,392.1 1084.2,396.9 1089.1,402.8C1094.0,408.6 1097.8,414.5 1100.9,422.3C1104.1,430.1 1107.0,440.3 1108.1,449.4C1109.3,458.5 1109.3,467.8 1107.8,476.8C1106.3,485.8 1103.3,495.7 1099.0,503.4C1094.8,511.1 1088.0,518.1 1082.2,522.8C1076.5,527.6 1071.0,529.9 1064.7,532.1Z" fill="none" stroke="#5AB300" stroke-width="2.8"/>
<path d="M905.1,595.5C899.2,592.7 892.4,588.8 887.4,584.5C882.4,580.1 878.6,574.7 875.1,569.6C871.7,564.6 869.0,559.6 866.7,554.2C864.3,548.7 862.7,542.4 861.3,536.6C859.8,530.8 858.6,525.8 857.9,519.5C857.2,513.2 856.9,505.0 857.1,498.7C857.3,492.3 858.7,486.9 859.0,481.3C859.3,475.8 859.5,470.4 858.9,465.2C858.3,460.1 857.2,454.0 855.4,450.3C853.7,446.5 852.0,444.8 848.6,442.9C845.2,441.1 840.3,440.3 835.1,439.2C829.8,438.2 823.1,437.4 817.1,436.5C811.1,435.5 804.8,434.7 798.8,433.4C792.9,432.2 786.0,430.4 781.3,428.9C776.6,427.3 774.5,427.0 770.5,424.1C766.6,421.3 760.4,416.3 757.6,411.7C754.7,407.1 753.4,401.4 753.5,396.5C753.5,391.6 755.9,386.0 758.1,382.2C760.3,378.4 763.3,376.3 766.4,373.8C769.5,371.2 773.1,369.1 776.7,366.9C780.4,364.7 784.0,362.7 788.2,360.5C792.4,358.4 797.2,355.5 801.9,354.1C806.6,352.7 811.5,352.9 816.3,352.1C821.1,351.2 826.5,350.9 830.8,349.0C835.2,347.1 839.8,344.7 842.3,340.9C844.8,337.1 845.7,331.5 845.8,326.3C846.0,321.2 844.0,314.4 843.1,309.8C842.1,305.2 841.0,302.5 840.0,298.6C839.0,294.7 838.0,291.3 837.2,286.5C836.3,281.8 835.4,275.4 835.1,270.2C834.8,265.0 834.6,260.1 835.2,255.2C835.8,250.4 836.8,245.8 838.7,241.3C840.6,236.9 843.5,231.9 846.5,228.7C849.5,225.5 853.1,223.1 856.9,222.1C860.8,221.0 865.5,221.3 869.6,222.4C873.7,223.4 877.7,225.3 881.7,228.2C885.6,231.1 889.2,235.3 893.1,239.6C897.0,243.9 901.4,249.0 904.8,254.0C908.3,258.9 911.3,264.2 914.0,269.3C916.7,274.4 918.7,279.4 920.9,284.3C923.2,289.3 925.3,294.1 927.5,298.8C929.7,303.5 931.6,308.3 934.1,312.4C936.6,316.5 939.0,319.5 942.6,323.2C946.3,327.0 951.2,332.0 956.2,334.9C961.2,337.8 966.9,339.5 972.7,340.6C978.5,341.7 984.8,341.6 991.1,341.5C997.5,341.3 1004.3,340.0 1010.5,339.9C1016.8,339.8 1022.9,340.0 1028.7,340.9C1034.6,341.9 1041.1,343.3 1045.5,345.5C1049.9,347.8 1053.3,351.3 1055.0,354.6C1056.7,358.0 1056.7,362.3 1055.7,365.6C1054.7,368.9 1051.7,371.8 1048.9,374.5C1046.0,377.2 1041.3,379.1 1038.3,381.8C1035.4,384.5 1032.1,387.6 1031.0,390.9C1029.9,394.2 1029.9,397.7 1031.7,401.6C1033.5,405.5 1038.4,409.9 1041.6,414.5C1044.9,419.1 1049.5,424.6 1051.1,429.0C1052.7,433.4 1052.2,437.7 1051.3,440.7C1050.5,443.8 1049.1,446.1 1045.7,447.4C1042.4,448.8 1035.8,448.5 1031.2,449.0C1026.5,449.6 1021.6,449.6 1018.0,450.9C1014.5,452.2 1011.5,454.0 1010.0,456.8C1008.4,459.5 1008.5,463.7 1008.7,467.3C1008.9,471.0 1010.3,474.1 1011.2,478.7C1012.2,483.2 1014.1,487.8 1014.3,494.5C1014.5,501.2 1013.3,510.9 1012.4,518.8C1011.5,526.6 1010.5,534.3 1008.9,541.7C1007.3,549.2 1006.4,556.1 1003.0,563.3C999.6,570.5 994.5,579.4 988.6,585.2C982.8,591.0 975.2,595.0 967.9,598.0C960.7,600.9 952.5,602.4 945.0,603.0C937.5,603.5 929.5,602.4 922.8,601.1C916.2,599.9 911.0,598.3 905.1,595.5Z" fill="none" stroke="#00B300" stroke-width="2.8"/>
<path d="M748.0,490.2C748.1,483.0 748.8,474.6 750.5,467.9C752.2,461.2 755.3,455.4 758.5,450.1C761.6,444.7 765.5,440.5 769.5,435.9C773.6,431.3 778.7,426.9 782.8,422.6C787.0,418.3 790.3,414.4 794.3,410.0C798.3,405.6 803.0,400.2 807.0,396.3C810.9,392.4 814.4,389.9 817.9,386.8C821.4,383.6 824.9,380.8 827.8,377.5C830.8,374.3 834.3,370.4 835.7,367.2C837.1,364.0 837.3,361.8 836.5,358.4C835.6,354.9 833.2,351.0 830.6,346.6C827.9,342.1 824.1,336.9 820.7,331.5C817.2,326.2 813.5,321.0 809.9,314.4C806.3,307.8 801.2,298.3 799.0,291.8C796.8,285.3 795.2,281.6 796.6,275.4C798.0,269.3 802.9,260.3 807.3,255.1C811.7,250.0 818.3,246.8 823.0,244.6C827.7,242.4 832.4,241.7 835.6,242.0C838.7,242.4 840.1,244.7 842.1,246.8C844.1,248.9 845.2,251.9 847.7,254.6C850.1,257.2 853.0,260.0 856.8,262.7C860.5,265.4 866.2,267.9 870.3,270.9C874.5,273.8 877.9,277.1 881.6,280.2C885.3,283.2 888.7,287.0 892.5,289.2C896.3,291.3 900.6,293.5 904.6,293.3C908.6,293.1 912.8,290.6 916.5,287.9C920.2,285.2 923.9,280.2 926.6,277.0C929.3,273.9 930.5,271.7 932.7,268.8C934.9,265.9 936.5,263.5 939.6,259.8C942.7,256.2 947.0,250.9 951.1,246.9C955.1,242.8 959.5,238.5 964.1,235.5C968.7,232.6 973.5,230.2 978.5,229.2C983.5,228.1 989.6,228.2 994.0,229.3C998.5,230.3 1002.3,232.4 1005.1,235.5C1007.9,238.5 1009.6,243.1 1010.6,247.6C1011.7,252.0 1011.8,256.7 1011.5,262.0C1011.3,267.3 1010.0,273.4 1009.1,279.4C1008.2,285.5 1007.7,292.6 1006.4,298.6C1005.1,304.6 1003.3,310.2 1001.3,315.3C999.3,320.4 996.5,324.8 994.3,329.2C992.0,333.7 989.7,337.9 987.8,342.2C985.9,346.5 984.0,350.7 982.9,355.0C981.8,359.3 981.5,362.9 981.3,367.9C981.1,372.9 980.8,379.5 981.8,384.9C982.8,390.3 984.8,395.4 987.4,400.4C990.0,405.3 993.7,409.8 997.5,414.6C1001.4,419.5 1006.6,424.2 1010.4,429.4C1014.2,434.6 1017.7,440.0 1020.3,445.8C1022.9,451.5 1025.3,458.4 1025.8,463.9C1026.3,469.5 1025.2,475.5 1023.4,479.1C1021.5,482.7 1018.1,484.9 1014.8,485.6C1011.5,486.3 1007.4,484.3 1003.4,483.1C999.5,481.9 995.2,479.1 991.3,478.2C987.4,477.4 983.3,476.9 980.3,478.1C977.2,479.3 974.9,481.4 972.9,485.2C971.0,489.0 970.4,495.3 968.7,500.9C967.0,506.5 965.2,514.6 963.0,519.0C960.7,523.3 957.7,526.0 955.4,527.1C953.0,528.1 951.1,527.8 948.7,525.2C946.3,522.6 943.8,515.5 940.8,511.4C937.8,507.4 934.0,503.2 930.6,500.7C927.2,498.2 923.7,496.5 920.5,496.4C917.2,496.3 913.9,498.3 911.2,500.3C908.4,502.3 906.8,504.6 904.0,508.4C901.2,512.2 899.1,517.4 894.1,523.2C889.1,528.9 881.2,537.3 874.1,542.9C866.9,548.4 858.7,553.1 851.2,556.4C843.7,559.7 837.1,561.6 829.2,562.7C821.2,563.7 811.7,564.2 803.6,562.7C795.4,561.1 787.2,557.8 780.1,553.3C773.0,548.7 765.8,542.3 760.9,535.3C755.9,528.4 752.4,519.1 750.3,511.6C748.1,504.1 748.0,497.5 748.0,490.2Z" fill="none" stroke="#005A5A" stroke-width="2.8"/>
<path d="M733.5,320.6C738.3,315.7 744.1,310.5 749.7,306.9C755.3,303.4 761.3,301.2 767.0,299.3C772.7,297.3 778.2,295.8 784.2,295.0C790.1,294.1 796.8,294.2 802.7,294.2C808.6,294.2 813.8,294.4 819.7,295.0C825.6,295.7 832.7,296.9 838.1,298.2C843.5,299.5 847.6,301.5 852.1,302.8C856.7,304.0 861.0,305.3 865.4,305.7C869.8,306.1 875.0,306.1 878.3,305.0C881.6,303.9 883.3,302.4 885.3,299.1C887.3,295.8 888.4,290.7 890.2,285.4C891.9,280.0 893.4,273.1 895.6,267.1C897.7,261.2 900.1,255.2 903.1,249.4C906.0,243.7 910.1,237.2 913.1,232.8C916.0,228.4 917.2,226.4 920.8,223.1C924.5,219.7 930.4,214.7 934.9,212.8C939.4,211.0 944.1,210.8 948.0,211.9C951.9,213.0 955.7,216.4 958.2,219.3C960.8,222.2 961.7,225.6 963.2,229.3C964.6,232.9 965.8,236.9 967.0,241.3C968.2,245.6 969.5,250.2 970.6,255.2C971.7,260.3 973.2,266.4 973.5,271.6C973.8,276.9 972.8,281.7 972.6,286.9C972.4,292.0 971.7,297.5 972.3,302.4C972.9,307.3 973.8,312.6 976.3,316.2C978.8,319.7 983.1,322.1 987.2,323.6C991.4,325.1 997.2,325.0 1001.1,325.3C1005.1,325.5 1007.6,325.1 1011.0,325.0C1014.5,324.9 1017.5,324.7 1022.0,324.9C1026.4,325.0 1032.5,325.1 1037.7,325.7C1042.9,326.3 1048.1,326.9 1053.0,328.4C1057.9,329.9 1062.7,331.9 1067.0,334.9C1071.2,338.0 1075.8,342.4 1078.3,346.6C1080.9,350.8 1082.3,355.5 1082.2,360.1C1082.0,364.7 1080.1,370.0 1077.5,374.4C1075.0,378.9 1071.4,382.9 1067.0,386.5C1062.6,390.1 1056.6,393.1 1051.2,396.2C1045.7,399.2 1039.7,402.3 1034.3,404.6C1028.9,406.9 1023.9,408.6 1019.0,410.0C1014.0,411.5 1009.4,412.3 1004.8,413.5C1000.2,414.7 995.7,415.9 991.4,417.2C987.1,418.6 982.8,419.9 978.9,421.8C975.1,423.7 972.2,425.7 968.3,428.7C964.5,431.7 959.2,435.5 955.8,439.8C952.3,444.2 949.5,449.2 947.4,454.9C945.3,460.5 944.3,467.1 943.0,473.6C941.7,480.0 941.4,487.7 939.5,493.8C937.7,499.9 934.9,505.1 931.9,510.2C928.9,515.2 925.1,520.5 921.6,524.1C918.1,527.7 914.4,530.8 911.1,531.8C907.9,532.8 904.5,531.9 902.2,530.0C900.0,528.0 898.9,523.9 897.7,520.1C896.5,516.2 896.5,510.9 895.0,507.0C893.6,503.1 891.7,498.8 889.2,496.7C886.7,494.7 883.7,493.7 879.9,494.6C876.1,495.5 871.1,499.2 866.2,502.2C861.4,505.1 855.1,510.5 850.7,512.2C846.4,513.9 842.6,513.4 840.2,512.2C837.8,511.1 836.3,509.2 836.2,505.3C836.0,501.4 838.5,494.0 839.3,488.7C840.0,483.4 841.1,477.8 840.9,473.4C840.7,469.0 839.8,464.9 837.8,462.2C835.9,459.4 832.4,458.0 829.2,457.0C826.1,456.0 823.3,456.3 819.1,456.2C814.8,456.1 810.2,457.2 803.8,456.4C797.4,455.6 788.2,453.6 780.9,451.5C773.5,449.3 766.2,446.5 759.6,443.3C752.9,440.1 747.1,437.3 740.8,432.4C734.4,427.5 726.4,421.1 721.3,413.8C716.3,406.6 712.2,397.8 710.5,388.9C708.8,380.1 709.5,369.5 711.3,360.7C713.1,352.0 717.5,343.3 721.2,336.6C724.9,329.9 728.8,325.6 733.5,320.6Z" fill="none" stroke="#0000B3" stroke-width="2.8"/>
<text x="923.5" y="121.0" font-size="30" text-anchor="middle" font-weight="bold">Myoblasts</text>
<text x="734.0" y="186.0" font-size="29.4">Brain</text>
<text x="988.8" y="171.5" font-size="29.4">Heart</text>
<text x="1076.6" y="256.5" font-size="29.4">Kidney</text>
<text x="669.0" y="291.6" font-size="29.4" text-anchor="middle">Digestive</text>
<text x="665.5" y="326.8" font-size="29.4" text-anchor="middle">System</text>
<text x="660.0" y="562.2" font-size="29.4">Thymus</text>
<text x="885.0" y="632.5" font-size="29.4">Pancreas</text>
<text x="1089.0" y="544.6" font-size="29.4">Liver</text>
<text x="801.5" y="238.7" font-size="24">74</text>
<text x="807.5" y="272.6" font-size="24">2</text>
<text x="933.7" y="231.9" font-size="24">1</text>
<text x="951.3" y="259.0" font-size="24">1</text>
<text x="916.0" y="274.0" font-size="24">1</text>
<text x="937.7" y="272.6" font-size="24">1</text>
<text x="897.0" y="290.2" font-size="24">1</text>
<text x="925.5" y="290.2" font-size="24">1</text>
<text x="954.0" y="299.7" font-size="24">2</text>
<text x="956.7" y="326.8" font-size="24">1</text>
<text x="993.4" y="306.5" font-size="24">1</text>
<text x="1023.2" y="322.8" font-size="24">1</text>
<text x="1042.2" y="318.7" font-size="24">3</text>
<text x="1084.2" y="318.7" font-size="24">1</text>
<text x="1016.4" y="340.4" font-size="24">1</text>
<text x="1035.4" y="345.8" font-size="24">4</text>
<text x="1059.8" y="363.5" font-size="24">3</text>
<text x="1026.0" y="374.3" font-size="24">1</text>
<text x="1043.5" y="393.3" font-size="24">3</text>
<text x="1066.6" y="495.0" font-size="24">2</text>
<text x="780.4" y="313.3" font-size="24">17</text>
<text x="804.8" y="313.3" font-size="24">1</text>
<text x="823.8" y="313.3" font-size="24">2</text>
<text x="764.0" y="352.6" font-size="24">1</text>
<text x="727.5" y="377.0" font-size="24">7</text>
<text x="795.3" y="393.3" font-size="24">1</text>
<text x="780.4" y="404.2" font-size="24">2</text>
<text x="772.3" y="454.4" font-size="24">1</text>
<text x="811.6" y="454.4" font-size="24">2</text>
<text x="780.4" y="535.7" font-size="24">4</text>
<text x="1247.0" y="29.6" font-size="35">c</text>
<path d="M1422.7,174.2C1429.7,174.8 1437.7,176.0 1444.4,178.2C1451.0,180.4 1456.8,183.9 1462.4,187.4C1468.1,190.8 1473.1,194.4 1478.2,198.8C1483.2,203.1 1488.2,208.6 1492.7,213.6C1497.1,218.5 1500.9,222.9 1504.7,228.4C1508.6,233.9 1512.7,240.9 1515.6,246.7C1518.5,252.4 1519.7,257.6 1521.9,262.7C1524.2,267.8 1526.3,272.9 1529.1,277.5C1531.9,282.1 1535.6,287.4 1538.8,290.0C1542.0,292.7 1544.4,293.5 1548.5,293.5C1552.5,293.5 1557.5,291.8 1562.9,290.0C1568.3,288.3 1574.9,285.4 1581.0,283.3C1587.0,281.2 1593.1,279.0 1599.2,277.5C1605.2,276.0 1612.2,274.8 1617.2,274.1C1622.2,273.4 1624.2,272.9 1629.3,273.5C1634.3,274.1 1642.4,275.1 1647.4,277.5C1652.5,279.9 1656.9,283.6 1659.5,287.8C1662.1,292.0 1663.1,298.0 1663.1,302.6C1663.1,307.1 1661.3,310.9 1659.5,315.1C1657.7,319.3 1655.1,323.6 1652.2,327.8C1649.4,332.0 1646.2,336.1 1642.6,340.3C1638.9,344.5 1634.7,349.4 1630.5,352.9C1626.3,356.3 1621.4,357.9 1617.2,360.8C1613.0,363.6 1608.3,366.3 1605.1,369.9C1601.9,373.5 1598.8,377.9 1598.0,382.5C1597.2,387.0 1598.5,392.5 1600.3,397.3C1602.2,402.0 1606.3,407.3 1608.8,411.0C1611.4,414.8 1613.4,416.7 1615.8,419.8C1618.2,422.8 1620.4,425.5 1623.3,429.4C1626.2,433.3 1630.2,438.5 1633.0,443.1C1635.8,447.7 1638.5,452.1 1640.2,456.9C1641.9,461.6 1643.0,466.6 1643.2,471.7C1643.4,476.8 1642.9,483.1 1641.4,487.6C1639.9,492.2 1637.6,496.2 1634.2,499.0C1630.8,501.9 1625.7,503.8 1620.9,504.8C1616.1,505.7 1610.8,505.6 1605.1,504.8C1599.5,503.9 1593.1,501.7 1587.1,499.6C1581.0,497.5 1574.3,495.2 1568.9,492.2C1563.5,489.3 1558.9,485.6 1554.4,482.0C1550.0,478.3 1546.4,474.2 1542.4,470.5C1538.3,466.9 1534.4,463.4 1530.3,460.3C1526.2,457.1 1522.2,453.9 1517.9,451.6C1513.6,449.3 1509.9,448.0 1504.7,446.5C1499.5,445.0 1492.7,442.8 1486.7,442.5C1480.6,442.2 1474.5,443.1 1468.5,444.7C1462.5,446.4 1456.5,449.4 1450.4,452.1C1444.4,454.9 1438.3,458.8 1432.3,461.3C1426.2,463.8 1420.3,465.4 1414.2,466.9C1408.2,468.5 1401.3,470.3 1396.1,470.4C1390.8,470.6 1385.9,470.0 1382.8,468.1C1379.7,466.2 1377.7,462.4 1377.3,459.0C1377.0,455.6 1378.7,451.4 1380.4,447.6C1382.1,443.8 1385.9,440.0 1387.7,436.2C1389.5,432.4 1391.5,428.2 1391.3,424.8C1391.1,421.4 1389.7,418.3 1386.5,415.7C1383.3,413.0 1377.0,411.2 1371.9,408.8C1366.9,406.3 1359.8,403.9 1356.2,400.9C1352.7,397.8 1351.2,393.8 1350.8,390.6C1350.4,387.3 1350.9,384.5 1353.9,381.4C1356.8,378.4 1363.9,375.1 1368.3,372.3C1372.7,369.4 1377.5,367.2 1380.4,364.4C1383.3,361.5 1385.4,358.5 1385.8,355.2C1386.2,352.0 1384.5,348.2 1382.8,344.9C1381.1,341.7 1378.6,339.4 1375.6,335.8C1372.6,332.1 1368.4,329.0 1364.7,323.0C1361.1,317.1 1356.9,307.8 1353.9,300.2C1350.8,292.6 1348.4,285.0 1346.6,277.4C1344.8,269.8 1343.2,263.1 1343.0,254.6C1342.8,246.0 1343.0,235.0 1345.4,226.1C1347.8,217.2 1352.0,208.3 1357.4,201.0C1362.9,193.8 1370.6,187.1 1378.0,182.7C1385.5,178.3 1394.7,176.1 1402.2,174.7C1409.6,173.3 1415.7,173.6 1422.7,174.2Z" fill="#FF0000" fill-opacity="0.3"/>
<path d="M1612.5,193.1C1616.6,199.0 1621.0,206.6 1623.4,213.3C1625.9,220.1 1626.5,227.1 1627.2,233.3C1627.9,239.6 1627.8,245.1 1627.4,251.0C1627.0,256.8 1625.9,262.8 1624.9,268.4C1623.8,274.1 1622.9,278.9 1621.0,284.8C1619.1,290.7 1616.3,298.3 1613.5,304.0C1610.7,309.8 1607.1,314.2 1604.3,319.3C1601.4,324.3 1598.4,329.2 1596.4,334.4C1594.4,339.5 1592.5,345.8 1592.5,350.1C1592.4,354.3 1593.4,356.8 1596.1,359.9C1598.7,363.0 1603.3,365.8 1608.5,368.6C1613.7,371.5 1620.9,374.0 1627.3,377.0C1633.7,379.9 1641.0,382.3 1647.0,386.4C1652.9,390.4 1659.2,396.7 1663.0,401.3C1666.9,405.9 1668.3,408.3 1670.0,413.8C1671.6,419.3 1673.2,428.3 1672.8,434.3C1672.3,440.2 1670.1,445.3 1667.5,449.3C1664.9,453.3 1660.4,456.3 1657.0,458.1C1653.5,460.0 1650.3,459.9 1646.7,460.3C1643.2,460.7 1639.5,460.5 1635.7,460.5C1631.8,460.5 1628.1,460.4 1623.5,460.3C1619.0,460.2 1613.5,460.6 1608.4,459.8C1603.4,459.0 1598.5,456.8 1593.2,455.5C1587.9,454.2 1582.0,452.3 1576.6,452.1C1571.2,451.9 1565.1,452.1 1560.5,454.5C1556.0,456.9 1552.1,461.7 1549.3,466.5C1546.5,471.4 1544.9,478.6 1543.7,483.4C1542.4,488.3 1542.4,491.3 1541.8,495.4C1541.2,499.5 1541.1,503.2 1540.2,508.0C1539.2,512.9 1537.9,519.4 1536.1,524.3C1534.3,529.2 1532.1,533.8 1529.3,537.6C1526.6,541.5 1523.2,544.7 1519.5,547.4C1515.7,550.2 1510.8,552.7 1506.6,554.0C1502.4,555.2 1498.3,555.7 1494.4,554.9C1490.4,554.2 1486.4,552.0 1483.0,549.6C1479.6,547.2 1476.8,544.3 1474.0,540.5C1471.3,536.8 1468.9,532.2 1466.6,527.1C1464.4,522.1 1461.5,516.0 1460.5,510.1C1459.5,504.1 1460.5,497.4 1460.8,491.3C1461.1,485.3 1462.4,479.4 1462.2,473.9C1462.0,468.3 1460.8,463.2 1459.8,458.1C1458.7,453.0 1457.6,448.0 1456.0,443.3C1454.5,438.6 1452.8,434.9 1450.5,429.9C1448.1,424.9 1445.5,418.3 1442.0,413.3C1438.6,408.4 1434.4,404.3 1429.7,400.5C1425.0,396.6 1419.6,393.4 1413.8,390.2C1408.0,386.9 1401.3,384.1 1395.1,380.8C1388.9,377.6 1382.4,374.3 1376.5,370.5C1370.5,366.7 1363.3,362.4 1359.4,358.0C1355.5,353.5 1353.4,348.0 1353.1,343.8C1352.8,339.6 1354.9,335.5 1357.6,333.0C1360.3,330.4 1364.8,329.6 1369.3,328.6C1373.8,327.6 1380.2,328.1 1384.8,327.0C1389.5,325.9 1394.5,324.6 1397.2,322.1C1400.0,319.7 1401.4,316.6 1401.2,312.3C1401.1,308.0 1397.7,302.0 1396.3,296.3C1394.9,290.7 1392.5,283.2 1392.7,278.4C1392.8,273.7 1395.3,270.0 1397.4,267.9C1399.5,265.7 1401.6,264.7 1405.4,265.5C1409.3,266.4 1415.4,271.0 1420.3,273.0C1425.2,275.0 1430.6,277.2 1434.8,277.6C1439.0,278.1 1442.9,277.6 1445.7,275.6C1448.5,273.6 1450.3,269.5 1451.6,265.8C1453.0,262.1 1452.9,258.4 1453.9,253.2C1454.8,248.1 1454.8,242.1 1457.4,234.9C1460.0,227.7 1465.0,217.7 1469.4,210.0C1473.9,202.3 1478.8,194.8 1484.1,188.6C1489.4,182.3 1494.2,177.0 1501.2,172.5C1508.2,168.0 1517.6,163.6 1526.2,161.6C1534.8,159.5 1543.9,159.4 1552.5,160.1C1561.1,160.7 1570.0,162.4 1577.7,165.4C1585.4,168.3 1592.9,173.2 1598.7,177.8C1604.4,182.4 1608.3,187.2 1612.5,193.1Z" fill="#FF8000" fill-opacity="0.3"/>
<path d="M1717.0,354.3C1714.1,360.8 1709.1,367.4 1704.3,372.5C1699.4,377.6 1693.0,381.1 1687.7,385.0C1682.3,388.9 1677.5,392.3 1672.1,395.7C1666.6,399.2 1660.7,402.7 1655.2,405.7C1649.6,408.7 1644.8,411.3 1639.0,413.6C1633.2,415.9 1625.8,418.1 1620.1,419.5C1614.4,420.8 1609.6,420.8 1604.7,421.8C1599.8,422.9 1595.2,423.8 1590.9,425.7C1586.6,427.6 1581.8,430.3 1579.2,433.1C1576.5,435.8 1575.6,438.2 1575.2,442.2C1574.8,446.3 1575.9,451.7 1576.7,457.5C1577.5,463.3 1579.1,470.3 1580.1,477.0C1581.1,483.8 1582.8,490.7 1582.8,497.9C1582.9,505.1 1582.3,514.4 1580.7,520.2C1579.0,526.0 1577.6,528.4 1573.0,532.8C1568.5,537.2 1559.3,543.1 1553.6,546.7C1547.9,550.3 1542.6,553.2 1538.7,554.4C1534.8,555.6 1532.0,555.2 1530.3,554.0C1528.7,552.7 1529.4,549.8 1528.8,546.9C1528.3,543.9 1528.5,540.1 1527.1,536.2C1525.8,532.3 1523.5,527.9 1520.6,523.5C1517.6,519.1 1512.8,514.3 1509.5,509.7C1506.2,505.0 1503.7,500.5 1500.7,495.8C1497.7,491.1 1494.9,485.7 1491.4,481.4C1487.9,477.1 1484.1,472.2 1479.6,470.0C1475.2,467.8 1469.7,467.4 1464.9,468.0C1460.0,468.5 1454.4,471.4 1450.4,473.3C1446.5,475.1 1444.5,477.0 1441.3,479.2C1438.2,481.5 1435.7,483.9 1431.5,486.8C1427.3,489.7 1421.6,494.3 1416.2,496.8C1410.9,499.2 1405.0,501.1 1399.3,501.7C1393.6,502.4 1387.7,502.1 1382.1,500.8C1376.5,499.5 1369.9,497.0 1365.5,494.0C1361.0,491.0 1357.5,487.3 1355.3,482.8C1353.1,478.2 1352.2,472.2 1352.3,466.9C1352.4,461.5 1353.7,456.0 1355.9,450.5C1358.2,445.0 1362.2,439.5 1365.7,434.0C1369.3,428.6 1373.2,422.5 1377.2,417.6C1381.2,412.7 1385.5,408.4 1389.8,404.7C1394.1,400.9 1398.8,398.0 1403.1,394.9C1407.4,391.7 1411.6,388.8 1415.6,385.8C1419.6,382.8 1423.7,380.1 1427.1,376.9C1430.5,373.7 1432.9,370.9 1435.8,366.6C1438.7,362.3 1442.6,356.6 1444.2,351.1C1445.9,345.6 1446.1,339.6 1445.7,333.4C1445.3,327.3 1443.4,320.8 1441.8,314.2C1440.3,307.6 1437.9,300.5 1436.4,293.8C1434.9,287.0 1433.7,280.2 1432.9,273.4C1432.1,266.7 1430.8,258.8 1431.6,253.1C1432.4,247.4 1434.8,242.2 1437.6,239.4C1440.3,236.7 1444.5,236.0 1448.1,236.8C1451.6,237.7 1455.3,241.4 1458.9,244.4C1462.4,247.5 1465.9,252.5 1469.5,255.2C1473.1,258.0 1476.9,260.6 1480.4,261.1C1483.9,261.6 1487.0,260.7 1490.3,258.1C1493.6,255.4 1496.5,249.7 1500.3,245.2C1504.2,240.6 1509.2,233.8 1513.3,230.8C1517.4,227.7 1522.0,226.8 1525.1,227.0C1528.3,227.2 1530.5,228.4 1532.4,231.9C1534.3,235.3 1535.0,242.8 1536.6,247.7C1538.2,252.6 1539.8,257.5 1541.9,261.1C1544.0,264.6 1546.4,267.7 1549.2,269.0C1552.0,270.3 1555.7,269.6 1558.9,268.9C1562.1,268.2 1564.3,266.6 1568.3,264.7C1572.3,262.7 1576.0,259.7 1583.0,257.2C1589.9,254.7 1600.7,251.8 1609.8,249.9C1618.9,247.9 1628.7,245.9 1637.5,245.7C1646.2,245.4 1653.9,245.9 1662.3,248.4C1670.6,251.0 1680.1,255.5 1687.5,260.8C1694.9,266.2 1701.4,273.0 1706.7,280.5C1711.9,288.1 1716.3,297.3 1718.8,306.1C1721.3,315.0 1722.1,325.5 1721.8,333.6C1721.5,341.6 1720.0,347.8 1717.0,354.3Z" fill="#FFFF00" fill-opacity="0.3"/>
<path d="M1659.8,530.6C1652.9,532.9 1644.9,534.5 1637.7,534.9C1630.6,535.3 1623.7,534.0 1616.9,533.0C1610.0,532.1 1603.4,530.9 1596.6,529.2C1589.8,527.4 1582.3,525.1 1575.9,522.6C1569.4,520.2 1563.9,517.8 1558.0,514.5C1552.0,511.1 1545.4,506.4 1540.4,502.4C1535.5,498.5 1532.4,494.4 1528.4,490.7C1524.3,487.1 1520.4,483.4 1516.0,480.5C1511.7,477.6 1506.3,474.5 1502.3,473.5C1498.3,472.5 1495.8,472.8 1492.2,474.6C1488.5,476.3 1484.7,480.1 1480.5,484.1C1476.3,488.0 1471.5,493.5 1466.9,498.1C1462.3,502.7 1457.7,507.2 1452.8,511.5C1448.0,515.8 1442.1,520.5 1437.8,523.7C1433.5,527.0 1431.8,528.6 1427.0,530.8C1422.1,532.9 1414.2,536.3 1408.5,536.8C1402.8,537.2 1397.2,536.0 1393.0,533.4C1388.9,530.8 1385.5,525.5 1383.6,521.1C1381.8,516.7 1382.0,512.1 1382.1,507.2C1382.2,502.2 1383.0,496.6 1384.2,491.3C1385.5,485.9 1387.3,480.4 1389.6,474.9C1391.9,469.5 1394.9,463.4 1397.9,458.6C1400.8,453.7 1404.6,450.4 1407.2,446.0C1409.9,441.6 1412.5,437.0 1413.5,432.3C1414.6,427.5 1415.1,422.0 1413.5,417.4C1412.0,412.8 1408.0,408.3 1404.2,404.7C1400.4,401.1 1394.5,398.1 1390.6,395.7C1386.7,393.4 1384.2,392.5 1380.9,390.7C1377.6,388.9 1374.7,387.3 1370.7,384.9C1366.6,382.5 1361.1,379.2 1356.6,376.1C1352.1,373.1 1347.7,370.2 1343.8,366.6C1339.9,363.1 1336.3,359.4 1333.4,354.9C1330.6,350.5 1327.8,344.8 1326.9,340.1C1326.0,335.4 1326.2,330.7 1328.1,326.6C1330.0,322.5 1334.0,318.4 1338.4,315.4C1342.7,312.4 1348.2,310.3 1354.3,308.7C1360.3,307.1 1367.9,306.5 1374.7,305.8C1381.5,305.0 1388.8,304.1 1395.1,304.2C1401.4,304.3 1407.0,305.2 1412.5,306.3C1418.0,307.4 1423.0,309.4 1428.1,310.9C1433.2,312.5 1438.1,314.1 1443.0,315.4C1447.9,316.7 1452.7,318.2 1457.4,318.5C1462.1,318.9 1465.9,318.6 1471.1,317.7C1476.2,316.8 1483.1,315.6 1488.5,313.0C1493.9,310.5 1498.8,306.6 1503.5,302.4C1508.2,298.1 1512.2,292.8 1516.6,287.6C1520.9,282.5 1524.9,276.5 1529.4,271.6C1533.9,266.7 1538.6,262.5 1543.4,258.4C1548.2,254.3 1553.6,249.5 1558.2,246.9C1562.8,244.3 1567.5,242.4 1571.1,242.8C1574.7,243.1 1577.9,245.8 1579.7,249.0C1581.4,252.1 1581.5,257.2 1581.5,261.8C1581.5,266.4 1579.7,271.9 1579.6,276.5C1579.5,281.1 1579.4,286.0 1580.9,289.3C1582.5,292.5 1584.9,294.9 1588.8,296.1C1592.7,297.4 1598.9,296.7 1604.5,296.7C1610.1,296.7 1617.7,295.4 1622.3,296.4C1627.0,297.4 1630.4,300.1 1632.5,302.7C1634.6,305.4 1635.5,308.2 1634.7,312.3C1633.9,316.3 1630.0,322.5 1627.7,326.9C1625.4,331.3 1622.4,335.0 1621.0,338.6C1619.5,342.2 1618.4,345.6 1619.0,348.5C1619.6,351.4 1622.1,354.0 1624.4,356.1C1626.7,358.1 1629.2,359.1 1632.9,361.1C1636.7,363.0 1641.0,364.1 1646.9,367.5C1652.8,371.0 1661.5,376.6 1668.2,381.7C1674.9,386.8 1681.9,392.0 1687.2,398.1C1692.5,404.2 1696.4,410.3 1699.8,418.3C1703.2,426.3 1706.3,436.8 1707.5,446.1C1708.6,455.4 1708.6,465.0 1706.9,474.2C1705.2,483.4 1701.9,493.5 1697.3,501.4C1692.6,509.2 1685.2,516.3 1678.9,521.2C1672.7,526.1 1666.7,528.3 1659.8,530.6Z" fill="#80FF00" fill-opacity="0.3"/>
<path d="M1490.1,594.4C1483.6,591.7 1476.2,587.7 1470.7,583.4C1465.2,579.0 1460.9,573.5 1457.0,568.3C1453.0,563.2 1449.8,558.2 1446.9,552.6C1444.1,547.0 1441.9,540.5 1440.1,534.6C1438.2,528.6 1436.6,523.4 1435.7,516.9C1434.8,510.3 1434.4,501.9 1434.6,495.4C1434.8,488.8 1436.4,483.3 1436.7,477.5C1437.0,471.8 1437.3,466.3 1436.6,461.0C1436.0,455.6 1434.8,449.4 1432.9,445.5C1431.1,441.7 1429.1,439.9 1425.4,438.0C1421.8,436.0 1416.5,435.2 1410.7,434.1C1405.0,433.0 1397.8,432.2 1391.2,431.2C1384.6,430.2 1377.8,429.3 1371.4,428.1C1365.0,426.9 1357.7,425.4 1352.6,424.0C1347.6,422.6 1345.4,422.3 1341.2,419.6C1337.0,416.9 1330.4,412.2 1327.3,407.7C1324.3,403.1 1322.8,397.4 1322.8,392.4C1322.9,387.4 1325.4,381.6 1327.7,377.6C1330.0,373.6 1333.3,371.2 1336.6,368.4C1339.9,365.6 1343.7,363.1 1347.6,360.6C1351.5,358.1 1355.4,355.8 1360.0,353.4C1364.5,351.0 1369.8,347.9 1374.9,346.4C1380.0,344.9 1385.3,345.2 1390.6,344.3C1395.8,343.4 1401.7,343.1 1406.4,341.2C1411.1,339.3 1416.2,336.8 1419.0,332.9C1421.7,329.0 1422.7,323.2 1422.8,317.9C1423.0,312.6 1420.9,305.6 1419.9,300.8C1418.8,296.1 1417.6,293.3 1416.5,289.3C1415.5,285.3 1414.4,281.7 1413.5,276.9C1412.6,272.1 1411.5,265.7 1411.0,260.5C1410.6,255.2 1410.3,250.4 1410.8,245.6C1411.3,240.8 1412.2,236.2 1414.1,231.7C1416.0,227.3 1419.0,222.3 1422.2,219.0C1425.5,215.8 1429.2,213.3 1433.4,212.1C1437.6,211.0 1442.9,211.2 1447.5,212.1C1452.1,213.0 1456.7,214.8 1461.1,217.6C1465.6,220.4 1469.9,224.6 1474.3,229.0C1478.6,233.3 1483.5,238.5 1487.3,243.6C1491.2,248.7 1494.3,254.2 1497.2,259.4C1500.1,264.6 1502.3,269.9 1504.8,274.9C1507.2,280.0 1509.5,285.0 1511.9,289.8C1514.3,294.6 1516.3,299.6 1519.0,303.9C1521.8,308.1 1524.3,311.2 1528.3,315.0C1532.3,318.9 1537.6,324.1 1543.0,327.1C1548.5,330.1 1554.7,331.9 1561.0,333.0C1567.3,334.2 1574.2,334.1 1581.1,334.0C1588.0,333.9 1595.4,332.5 1602.2,332.4C1609.1,332.4 1615.7,332.6 1622.0,333.6C1628.4,334.5 1635.5,335.9 1640.3,338.2C1645.0,340.5 1648.6,343.9 1650.4,347.3C1652.2,350.7 1652.3,355.2 1651.2,358.6C1650.1,362.1 1647.0,365.2 1643.8,368.0C1640.7,370.9 1635.7,372.8 1632.4,375.7C1629.2,378.5 1625.6,381.7 1624.3,385.1C1623.1,388.4 1623.2,392.0 1625.1,396.0C1627.0,400.1 1632.4,404.7 1635.9,409.3C1639.4,413.9 1644.4,419.4 1646.2,423.8C1647.9,428.2 1647.4,432.5 1646.5,435.7C1645.5,438.8 1644.0,441.2 1640.4,442.7C1636.7,444.2 1629.4,444.1 1624.4,444.8C1619.4,445.5 1613.9,445.4 1610.1,446.7C1606.3,448.1 1603.0,450.0 1601.3,452.8C1599.6,455.6 1599.7,459.9 1599.9,463.6C1600.1,467.4 1601.6,470.7 1602.6,475.3C1603.7,479.9 1605.8,484.5 1606.2,491.2C1606.5,497.8 1605.5,507.4 1604.7,515.2C1604.0,523.1 1603.2,530.6 1601.7,538.1C1600.2,545.5 1599.3,552.6 1595.8,560.0C1592.2,567.4 1586.7,576.6 1580.5,582.6C1574.2,588.6 1566.1,592.8 1558.3,596.0C1550.4,599.1 1541.7,600.8 1533.5,601.4C1525.4,602.1 1516.7,601.1 1509.4,599.9C1502.2,598.8 1496.5,597.2 1490.1,594.4Z" fill="#00FF00" fill-opacity="0.3"/>
<path d="M1317.0,487.4C1317.1,479.9 1317.8,471.3 1319.7,464.5C1321.6,457.6 1324.9,451.6 1328.3,446.1C1331.8,440.7 1335.9,436.4 1340.2,431.7C1344.6,427.0 1350.1,422.6 1354.6,418.2C1359.1,413.7 1362.6,409.8 1367.0,405.2C1371.3,400.7 1376.4,395.1 1380.7,391.1C1385.0,387.1 1388.8,384.4 1392.6,381.2C1396.4,377.9 1400.2,375.0 1403.4,371.6C1406.7,368.2 1410.4,364.2 1412.0,360.9C1413.5,357.6 1413.7,355.4 1412.8,351.8C1411.8,348.3 1409.2,344.3 1406.3,339.7C1403.4,335.1 1399.2,329.7 1395.4,324.2C1391.7,318.6 1387.6,313.4 1383.6,306.5C1379.7,299.7 1374.3,290.0 1371.9,283.3C1369.5,276.6 1367.8,272.7 1369.3,266.4C1370.9,260.1 1376.3,250.8 1381.1,245.5C1385.9,240.2 1393.1,236.9 1398.2,234.7C1403.3,232.4 1408.4,231.7 1411.8,232.0C1415.3,232.4 1416.7,234.8 1418.9,236.9C1421.0,239.0 1422.2,242.1 1424.8,244.8C1427.5,247.5 1430.6,250.3 1434.7,253.1C1438.8,255.8 1444.9,258.4 1449.4,261.4C1453.9,264.4 1457.7,267.8 1461.7,271.0C1465.8,274.1 1469.5,278.0 1473.7,280.2C1477.9,282.4 1482.5,284.6 1486.9,284.4C1491.3,284.2 1495.9,281.6 1499.9,278.8C1503.9,276.0 1507.9,270.8 1510.8,267.6C1513.8,264.3 1515.2,262.0 1517.5,259.0C1519.9,256.1 1521.7,253.5 1525.0,249.7C1528.3,246.0 1533.1,240.6 1537.5,236.4C1542.0,232.3 1546.7,227.8 1551.7,224.8C1556.7,221.8 1562.0,219.4 1567.5,218.4C1572.9,217.3 1579.6,217.4 1584.4,218.5C1589.2,219.6 1593.4,221.8 1596.5,224.9C1599.5,228.0 1601.3,232.8 1602.5,237.3C1603.7,241.8 1603.8,246.6 1603.5,252.0C1603.3,257.4 1601.8,263.5 1600.9,269.8C1600.0,276.0 1599.4,283.3 1598.0,289.5C1596.6,295.6 1594.7,301.5 1592.5,306.8C1590.4,312.0 1587.3,316.5 1584.9,321.2C1582.5,325.8 1580.0,330.1 1577.9,334.6C1575.9,339.0 1573.8,343.3 1572.6,347.8C1571.4,352.2 1571.0,355.9 1570.9,361.1C1570.7,366.2 1570.4,373.0 1571.5,378.6C1572.6,384.2 1574.8,389.5 1577.7,394.6C1580.6,399.7 1584.6,404.3 1588.8,409.2C1593.0,414.2 1598.7,419.1 1602.9,424.4C1607.0,429.7 1610.9,435.4 1613.8,441.3C1616.6,447.2 1619.2,454.3 1619.8,460.0C1620.4,465.7 1619.1,471.9 1617.1,475.6C1615.1,479.3 1611.4,481.7 1607.8,482.4C1604.2,483.1 1599.7,481.1 1595.5,479.8C1591.2,478.6 1586.5,475.7 1582.2,474.9C1578.0,474.0 1573.5,473.6 1570.2,474.8C1566.9,476.0 1564.3,478.2 1562.2,482.1C1560.1,486.1 1559.5,492.5 1557.7,498.3C1555.8,504.1 1553.8,512.4 1551.4,516.9C1548.9,521.4 1545.7,524.2 1543.1,525.3C1540.5,526.3 1538.5,526.1 1535.8,523.4C1533.2,520.8 1530.5,513.5 1527.2,509.3C1523.9,505.1 1519.8,500.9 1516.1,498.3C1512.4,495.7 1508.5,493.9 1505.0,493.9C1501.5,493.8 1497.9,495.9 1494.9,498.0C1491.9,500.0 1490.2,502.4 1487.1,506.3C1484.0,510.3 1481.7,515.6 1476.3,521.5C1470.8,527.4 1462.2,536.0 1454.4,541.6C1446.6,547.3 1437.6,552.0 1429.4,555.4C1421.3,558.8 1414.1,560.7 1405.4,561.8C1396.8,562.9 1386.5,563.4 1377.6,561.8C1368.7,560.2 1359.8,556.9 1352.1,552.2C1344.3,547.5 1336.5,540.9 1331.1,533.8C1325.6,526.6 1321.8,517.1 1319.5,509.4C1317.2,501.6 1317.0,494.9 1317.0,487.4Z" fill="#008080" fill-opacity="0.3"/>
<path d="M1300.1,310.5C1305.3,305.4 1311.8,300.0 1317.9,296.4C1324.1,292.8 1330.7,290.7 1337.0,288.8C1343.4,287.0 1349.5,285.8 1356.0,285.2C1362.6,284.7 1370.0,285.1 1376.5,285.4C1383.0,285.7 1388.7,286.2 1395.1,287.0C1401.5,287.9 1409.2,289.1 1415.0,290.5C1420.9,291.8 1425.3,293.8 1430.2,295.0C1435.1,296.3 1439.8,297.6 1444.6,298.0C1449.3,298.3 1454.9,298.4 1458.5,297.2C1462.0,296.1 1463.9,294.5 1466.0,291.1C1468.1,287.8 1469.4,282.5 1471.2,277.0C1473.0,271.6 1474.7,264.5 1477.0,258.4C1479.3,252.3 1481.8,246.1 1485.0,240.2C1488.2,234.2 1492.9,227.3 1496.2,222.6C1499.5,217.9 1500.9,215.7 1505.0,212.1C1509.2,208.5 1515.9,203.0 1521.0,201.0C1526.1,199.0 1531.3,198.8 1535.6,199.9C1539.8,201.0 1543.9,204.6 1546.6,207.7C1549.2,210.8 1550.1,214.4 1551.5,218.3C1552.9,222.2 1553.9,226.4 1555.1,231.0C1556.2,235.5 1557.3,240.3 1558.3,245.6C1559.4,250.9 1560.9,257.1 1561.2,262.5C1561.5,268.0 1560.5,272.9 1560.3,278.1C1560.1,283.3 1559.3,289.0 1560.0,294.0C1560.7,299.0 1561.7,304.4 1564.5,308.0C1567.2,311.6 1571.8,314.0 1576.3,315.5C1580.8,317.0 1587.0,316.9 1591.3,317.2C1595.6,317.4 1598.2,316.9 1602.0,316.8C1605.8,316.7 1609.0,316.5 1613.9,316.6C1618.7,316.7 1625.5,316.8 1631.3,317.5C1637.1,318.1 1643.0,318.8 1648.5,320.4C1654.0,322.1 1659.5,324.2 1664.3,327.4C1669.1,330.6 1674.2,335.3 1677.1,339.7C1679.9,344.1 1681.5,348.9 1681.3,353.7C1681.1,358.4 1678.8,363.8 1675.9,368.2C1673.0,372.6 1668.8,376.6 1663.8,380.2C1658.9,383.7 1652.1,386.6 1646.1,389.5C1640.0,392.5 1633.4,395.6 1627.6,398.0C1621.7,400.3 1616.3,402.1 1611.0,403.6C1605.7,405.2 1600.7,405.9 1595.7,407.2C1590.7,408.5 1585.9,409.7 1581.3,411.2C1576.7,412.6 1572.0,413.9 1567.8,415.8C1563.7,417.8 1560.6,419.9 1556.4,423.0C1552.3,426.1 1546.6,430.0 1542.9,434.4C1539.1,438.9 1536.2,444.1 1533.9,449.8C1531.7,455.6 1530.7,462.3 1529.3,468.9C1527.9,475.6 1527.6,483.4 1525.7,489.7C1523.7,495.9 1520.7,501.2 1517.5,506.4C1514.3,511.6 1510.1,517.0 1506.3,520.7C1502.5,524.5 1498.3,527.9 1494.8,529.0C1491.3,530.0 1487.5,529.1 1485.1,527.1C1482.8,525.1 1481.7,520.8 1480.4,516.8C1479.2,512.8 1479.2,507.3 1477.7,503.3C1476.1,499.3 1474.0,495.0 1471.3,492.9C1468.6,490.8 1465.4,489.8 1461.2,490.8C1457.1,491.7 1451.8,495.5 1446.5,498.6C1441.1,501.6 1434.1,507.3 1429.3,509.1C1424.5,510.9 1420.3,510.4 1417.7,509.2C1415.0,508.1 1413.5,506.1 1413.4,502.1C1413.4,498.1 1416.3,490.5 1417.2,485.0C1418.1,479.6 1419.2,473.9 1418.9,469.4C1418.7,464.8 1417.7,460.7 1415.6,457.9C1413.5,455.1 1409.7,453.7 1406.3,452.7C1402.9,451.7 1399.9,451.9 1395.2,451.9C1390.6,451.8 1385.4,453.0 1378.3,452.1C1371.1,451.3 1360.7,449.1 1352.3,446.8C1343.9,444.4 1335.6,441.3 1328.1,437.9C1320.6,434.5 1314.3,431.5 1307.3,426.3C1300.2,421.1 1291.6,414.4 1286.1,406.9C1280.6,399.3 1276.2,390.2 1274.4,381.0C1272.7,371.9 1273.5,360.8 1275.5,351.8C1277.5,342.8 1282.4,333.8 1286.5,326.9C1290.6,320.0 1294.9,315.6 1300.1,310.5Z" fill="#0000FF" fill-opacity="0.3"/>
<path d="M1422.7,174.2C1429.7,174.8 1437.7,176.0 1444.4,178.2C1451.0,180.4 1456.8,183.9 1462.4,187.4C1468.1,190.8 1473.1,194.4 1478.2,198.8C1483.2,203.1 1488.2,208.6 1492.7,213.6C1497.1,218.5 1500.9,222.9 1504.7,228.4C1508.6,233.9 1512.7,240.9 1515.6,246.7C1518.5,252.4 1519.7,257.6 1521.9,262.7C1524.2,267.8 1526.3,272.9 1529.1,277.5C1531.9,282.1 1535.6,287.4 1538.8,290.0C1542.0,292.7 1544.4,293.5 1548.5,293.5C1552.5,293.5 1557.5,291.8 1562.9,290.0C1568.3,288.3 1574.9,285.4 1581.0,283.3C1587.0,281.2 1593.1,279.0 1599.2,277.5C1605.2,276.0 1612.2,274.8 1617.2,274.1C1622.2,273.4 1624.2,272.9 1629.3,273.5C1634.3,274.1 1642.4,275.1 1647.4,277.5C1652.5,279.9 1656.9,283.6 1659.5,287.8C1662.1,292.0 1663.1,298.0 1663.1,302.6C1663.1,307.1 1661.3,310.9 1659.5,315.1C1657.7,319.3 1655.1,323.6 1652.2,327.8C1649.4,332.0 1646.2,336.1 1642.6,340.3C1638.9,344.5 1634.7,349.4 1630.5,352.9C1626.3,356.3 1621.4,357.9 1617.2,360.8C1613.0,363.6 1608.3,366.3 1605.1,369.9C1601.9,373.5 1598.8,377.9 1598.0,382.5C1597.2,387.0 1598.5,392.5 1600.3,397.3C1602.2,402.0 1606.3,407.3 1608.8,411.0C1611.4,414.8 1613.4,416.7 1615.8,419.8C1618.2,422.8 1620.4,425.5 1623.3,429.4C1626.2,433.3 1630.2,438.5 1633.0,443.1C1635.8,447.7 1638.5,452.1 1640.2,456.9C1641.9,461.6 1643.0,466.6 1643.2,471.7C1643.4,476.8 1642.9,483.1 1641.4,487.6C1639.9,492.2 1637.6,496.2 1634.2,499.0C1630.8,501.9 1625.7,503.8 1620.9,504.8C1616.1,505.7 1610.8,505.6 1605.1,504.8C1599.5,503.9 1593.1,501.7 1587.1,499.6C1581.0,497.5 1574.3,495.2 1568.9,492.2C1563.5,489.3 1558.9,485.6 1554.4,482.0C1550.0,478.3 1546.4,474.2 1542.4,470.5C1538.3,466.9 1534.4,463.4 1530.3,460.3C1526.2,457.1 1522.2,453.9 1517.9,451.6C1513.6,449.3 1509.9,448.0 1504.7,446.5C1499.5,445.0 1492.7,442.8 1486.7,442.5C1480.6,442.2 1474.5,443.1 1468.5,444.7C1462.5,446.4 1456.5,449.4 1450.4,452.1C1444.4,454.9 1438.3,458.8 1432.3,461.3C1426.2,463.8 1420.3,465.4 1414.2,466.9C1408.2,468.5 1401.3,470.3 1396.1,470.4C1390.8,470.6 1385.9,470.0 1382.8,468.1C1379.7,466.2 1377.7,462.4 1377.3,459.0C1377.0,455.6 1378.7,451.4 1380.4,447.6C1382.1,443.8 1385.9,440.0 1387.7,436.2C1389.5,432.4 1391.5,428.2 1391.3,424.8C1391.1,421.4 1389.7,418.3 1386.5,415.7C1383.3,413.0 1377.0,411.2 1371.9,408.8C1366.9,406.3 1359.8,403.9 1356.2,400.9C1352.7,397.8 1351.2,393.8 1350.8,390.6C1350.4,387.3 1350.9,384.5 1353.9,381.4C1356.8,378.4 1363.9,375.1 1368.3,372.3C1372.7,369.4 1377.5,367.2 1380.4,364.4C1383.3,361.5 1385.4,358.5 1385.8,355.2C1386.2,352.0 1384.5,348.2 1382.8,344.9C1381.1,341.7 1378.6,339.4 1375.6,335.8C1372.6,332.1 1368.4,329.0 1364.7,323.0C1361.1,317.1 1356.9,307.8 1353.9,300.2C1350.8,292.6 1348.4,285.0 1346.6,277.4C1344.8,269.8 1343.2,263.1 1343.0,254.6C1342.8,246.0 1343.0,235.0 1345.4,226.1C1347.8,217.2 1352.0,208.3 1357.4,201.0C1362.9,193.8 1370.6,187.1 1378.0,182.7C1385.5,178.3 1394.7,176.1 1402.2,174.7C1409.6,173.3 1415.7,173.6 1422.7,174.2Z" fill="none" stroke="#B30000" stroke-width="2.8"/>
<path d="M1612.5,193.1C1616.6,199.0 1621.0,206.6 1623.4,213.3C1625.9,220.1 1626.5,227.1 1627.2,233.3C1627.9,239.6 1627.8,245.1 1627.4,251.0C1627.0,256.8 1625.9,262.8 1624.9,268.4C1623.8,274.1 1622.9,278.9 1621.0,284.8C1619.1,290.7 1616.3,298.3 1613.5,304.0C1610.7,309.8 1607.1,314.2 1604.3,319.3C1601.4,324.3 1598.4,329.2 1596.4,334.4C1594.4,339.5 1592.5,345.8 1592.5,350.1C1592.4,354.3 1593.4,356.8 1596.1,359.9C1598.7,363.0 1603.3,365.8 1608.5,368.6C1613.7,371.5 1620.9,374.0 1627.3,377.0C1633.7,379.9 1641.0,382.3 1647.0,386.4C1652.9,390.4 1659.2,396.7 1663.0,401.3C1666.9,405.9 1668.3,408.3 1670.0,413.8C1671.6,419.3 1673.2,428.3 1672.8,434.3C1672.3,440.2 1670.1,445.3 1667.5,449.3C1664.9,453.3 1660.4,456.3 1657.0,458.1C1653.5,460.0 1650.3,459.9 1646.7,460.3C1643.2,460.7 1639.5,460.5 1635.7,460.5C1631.8,460.5 1628.1,460.4 1623.5,460.3C1619.0,460.2 1613.5,460.6 1608.4,459.8C1603.4,459.0 1598.5,456.8 1593.2,455.5C1587.9,454.2 1582.0,452.3 1576.6,452.1C1571.2,451.9 1565.1,452.1 1560.5,454.5C1556.0,456.9 1552.1,461.7 1549.3,466.5C1546.5,471.4 1544.9,478.6 1543.7,483.4C1542.4,488.3 1542.4,491.3 1541.8,495.4C1541.2,499.5 1541.1,503.2 1540.2,508.0C1539.2,512.9 1537.9,519.4 1536.1,524.3C1534.3,529.2 1532.1,533.8 1529.3,537.6C1526.6,541.5 1523.2,544.7 1519.5,547.4C1515.7,550.2 1510.8,552.7 1506.6,554.0C1502.4,555.2 1498.3,555.7 1494.4,554.9C1490.4,554.2 1486.4,552.0 1483.0,549.6C1479.6,547.2 1476.8,544.3 1474.0,540.5C1471.3,536.8 1468.9,532.2 1466.6,527.1C1464.4,522.1 1461.5,516.0 1460.5,510.1C1459.5,504.1 1460.5,497.4 1460.8,491.3C1461.1,485.3 1462.4,479.4 1462.2,473.9C1462.0,468.3 1460.8,463.2 1459.8,458.1C1458.7,453.0 1457.6,448.0 1456.0,443.3C1454.5,438.6 1452.8,434.9 1450.5,429.9C1448.1,424.9 1445.5,418.3 1442.0,413.3C1438.6,408.4 1434.4,404.3 1429.7,400.5C1425.0,396.6 1419.6,393.4 1413.8,390.2C1408.0,386.9 1401.3,384.1 1395.1,380.8C1388.9,377.6 1382.4,374.3 1376.5,370.5C1370.5,366.7 1363.3,362.4 1359.4,358.0C1355.5,353.5 1353.4,348.0 1353.1,343.8C1352.8,339.6 1354.9,335.5 1357.6,333.0C1360.3,330.4 1364.8,329.6 1369.3,328.6C1373.8,327.6 1380.2,328.1 1384.8,327.0C1389.5,325.9 1394.5,324.6 1397.2,322.1C1400.0,319.7 1401.4,316.6 1401.2,312.3C1401.1,308.0 1397.7,302.0 1396.3,296.3C1394.9,290.7 1392.5,283.2 1392.7,278.4C1392.8,273.7 1395.3,270.0 1397.4,267.9C1399.5,265.7 1401.6,264.7 1405.4,265.5C1409.3,266.4 1415.4,271.0 1420.3,273.0C1425.2,275.0 1430.6,277.2 1434.8,277.6C1439.0,278.1 1442.9,277.6 1445.7,275.6C1448.5,273.6 1450.3,269.5 1451.6,265.8C1453.0,262.1 1452.9,258.4 1453.9,253.2C1454.8,248.1 1454.8,242.1 1457.4,234.9C1460.0,227.7 1465.0,217.7 1469.4,210.0C1473.9,202.3 1478.8,194.8 1484.1,188.6C1489.4,182.3 1494.2,177.0 1501.2,172.5C1508.2,168.0 1517.6,163.6 1526.2,161.6C1534.8,159.5 1543.9,159.4 1552.5,160.1C1561.1,160.7 1570.0,162.4 1577.7,165.4C1585.4,168.3 1592.9,173.2 1598.7,177.8C1604.4,182.4 1608.3,187.2 1612.5,193.1Z" fill="none" stroke="#B35A00" stroke-width="2.8"/>
<path d="M1717.0,354.3C1714.1,360.8 1709.1,367.4 1704.3,372.5C1699.4,377.6 1693.0,381.1 1687.7,385.0C1682.3,388.9 1677.5,392.3 1672.1,395.7C1666.6,399.2 1660.7,402.7 1655.2,405.7C1649.6,408.7 1644.8,411.3 1639.0,413.6C1633.2,415.9 1625.8,418.1 1620.1,419.5C1614.4,420.8 1609.6,420.8 1604.7,421.8C1599.8,422.9 1595.2,423.8 1590.9,425.7C1586.6,427.6 1581.8,430.3 1579.2,433.1C1576.5,435.8 1575.6,438.2 1575.2,442.2C1574.8,446.3 1575.9,451.7 1576.7,457.5C1577.5,463.3 1579.1,470.3 1580.1,477.0C1581.1,483.8 1582.8,490.7 1582.8,497.9C1582.9,505.1 1582.3,514.4 1580.7,520.2C1579.0,526.0 1577.6,528.4 1573.0,532.8C1568.5,537.2 1559.3,543.1 1553.6,546.7C1547.9,550.3 1542.6,553.2 1538.7,554.4C1534.8,555.6 1532.0,555.2 1530.3,554.0C1528.7,552.7 1529.4,549.8 1528.8,546.9C1528.3,543.9 1528.5,540.1 1527.1,536.2C1525.8,532.3 1523.5,527.9 1520.6,523.5C1517.6,519.1 1512.8,514.3 1509.5,509.7C1506.2,505.0 1503.7,500.5 1500.7,495.8C1497.7,491.1 1494.9,485.7 1491.4,481.4C1487.9,477.1 1484.1,472.2 1479.6,470.0C1475.2,467.8 1469.7,467.4 1464.9,468.0C1460.0,468.5 1454.4,471.4 1450.4,473.3C1446.5,475.1 1444.5,477.0 1441.3,479.2C1438.2,481.5 1435.7,483.9 1431.5,486.8C1427.3,489.7 1421.6,494.3 1416.2,496.8C1410.9,499.2 1405.0,501.1 1399.3,501.7C1393.6,502.4 1387.7,502.1 1382.1,500.8C1376.5,499.5 1369.9,497.0 1365.5,494.0C1361.0,491.0 1357.5,487.3 1355.3,482.8C1353.1,478.2 1352.2,472.2 1352.3,466.9C1352.4,461.5 1353.7,456.0 1355.9,450.5C1358.2,445.0 1362.2,439.5 1365.7,434.0C1369.3,428.6 1373.2,422.5 1377.2,417.6C1381.2,412.7 1385.5,408.4 1389.8,404.7C1394.1,400.9 1398.8,398.0 1403.1,394.9C1407.4,391.7 1411.6,388.8 1415.6,385.8C1419.6,382.8 1423.7,380.1 1427.1,376.9C1430.5,373.7 1432.9,370.9 1435.8,366.6C1438.7,362.3 1442.6,356.6 1444.2,351.1C1445.9,345.6 1446.1,339.6 1445.7,333.4C1445.3,327.3 1443.4,320.8 1441.8,314.2C1440.3,307.6 1437.9,300.5 1436.4,293.8C1434.9,287.0 1433.7,280.2 1432.9,273.4C1432.1,266.7 1430.8,258.8 1431.6,253.1C1432.4,247.4 1434.8,242.2 1437.6,239.4C1440.3,236.7 1444.5,236.0 1448.1,236.8C1451.6,237.7 1455.3,241.4 1458.9,244.4C1462.4,247.5 1465.9,252.5 1469.5,255.2C1473.1,258.0 1476.9,260.6 1480.4,261.1C1483.9,261.6 1487.0,260.7 1490.3,258.1C1493.6,255.4 1496.5,249.7 1500.3,245.2C1504.2,240.6 1509.2,233.8 1513.3,230.8C1517.4,227.7 1522.0,226.8 1525.1,227.0C1528.3,227.2 1530.5,228.4 1532.4,231.9C1534.3,235.3 1535.0,242.8 1536.6,247.7C1538.2,252.6 1539.8,257.5 1541.9,261.1C1544.0,264.6 1546.4,267.7 1549.2,269.0C1552.0,270.3 1555.7,269.6 1558.9,268.9C1562.1,268.2 1564.3,266.6 1568.3,264.7C1572.3,262.7 1576.0,259.7 1583.0,257.2C1589.9,254.7 1600.7,251.8 1609.8,249.9C1618.9,247.9 1628.7,245.9 1637.5,245.7C1646.2,245.4 1653.9,245.9 1662.3,248.4C1670.6,251.0 1680.1,255.5 1687.5,260.8C1694.9,266.2 1701.4,273.0 1706.7,280.5C1711.9,288.1 1716.3,297.3 1718.8,306.1C1721.3,315.0 1722.1,325.5 1721.8,333.6C1721.5,341.6 1720.0,347.8 1717.0,354.3Z" fill="none" stroke="#B3B300" stroke-width="2.8"/>
<path d="M1659.8,530.6C1652.9,532.9 1644.9,534.5 1637.7,534.9C1630.6,535.3 1623.7,534.0 1616.9,533.0C1610.0,532.1 1603.4,530.9 1596.6,529.2C1589.8,527.4 1582.3,525.1 1575.9,522.6C1569.4,520.2 1563.9,517.8 1558.0,514.5C1552.0,511.1 1545.4,506.4 1540.4,502.4C1535.5,498.5 1532.4,494.4 1528.4,490.7C1524.3,487.1 1520.4,483.4 1516.0,480.5C1511.7,477.6 1506.3,474.5 1502.3,473.5C1498.3,472.5 1495.8,472.8 1492.2,474.6C1488.5,476.3 1484.7,480.1 1480.5,484.1C1476.3,488.0 1471.5,493.5 1466.9,498.1C1462.3,502.7 1457.7,507.2 1452.8,511.5C1448.0,515.8 1442.1,520.5 1437.8,523.7C1433.5,527.0 1431.8,528.6 1427.0,530.8C1422.1,532.9 1414.2,536.3 1408.5,536.8C1402.8,537.2 1397.2,536.0 1393.0,533.4C1388.9,530.8 1385.5,525.5 1383.6,521.1C1381.8,516.7 1382.0,512.1 1382.1,507.2C1382.2,502.2 1383.0,496.6 1384.2,491.3C1385.5,485.9 1387.3,480.4 1389.6,474.9C1391.9,469.5 1394.9,463.4 1397.9,458.6C1400.8,453.7 1404.6,450.4 1407.2,446.0C1409.9,441.6 1412.5,437.0 1413.5,432.3C1414.6,427.5 1415.1,422.0 1413.5,417.4C1412.0,412.8 1408.0,408.3 1404.2,404.7C1400.4,401.1 1394.5,398.1 1390.6,395.7C1386.7,393.4 1384.2,392.5 1380.9,390.7C1377.6,388.9 1374.7,387.3 1370.7,384.9C1366.6,382.5 1361.1,379.2 1356.6,376.1C1352.1,373.1 1347.7,370.2 1343.8,366.6C1339.9,363.1 1336.3,359.4 1333.4,354.9C1330.6,350.5 1327.8,344.8 1326.9,340.1C1326.0,335.4 1326.2,330.7 1328.1,326.6C1330.0,322.5 1334.0,318.4 1338.4,315.4C1342.7,312.4 1348.2,310.3 1354.3,308.7C1360.3,307.1 1367.9,306.5 1374.7,305.8C1381.5,305.0 1388.8,304.1 1395.1,304.2C1401.4,304.3 1407.0,305.2 1412.5,306.3C1418.0,307.4 1423.0,309.4 1428.1,310.9C1433.2,312.5 1438.1,314.1 1443.0,315.4C1447.9,316.7 1452.7,318.2 1457.4,318.5C1462.1,318.9 1465.9,318.6 1471.1,317.7C1476.2,316.8 1483.1,315.6 1488.5,313.0C1493.9,310.5 1498.8,306.6 1503.5,302.4C1508.2,298.1 1512.2,292.8 1516.6,287.6C1520.9,282.5 1524.9,276.5 1529.4,271.6C1533.9,266.7 1538.6,262.5 1543.4,258.4C1548.2,254.3 1553.6,249.5 1558.2,246.9C1562.8,244.3 1567.5,242.4 1571.1,242.8C1574.7,243.1 1577.9,245.8 1579.7,249.0C1581.4,252.1 1581.5,257.2 1581.5,261.8C1581.5,266.4 1579.7,271.9 1579.6,276.5C1579.5,281.1 1579.4,286.0 1580.9,289.3C1582.5,292.5 1584.9,294.9 1588.8,296.1C1592.7,297.4 1598.9,296.7 1604.5,296.7C1610.1,296.7 1617.7,295.4 1622.3,296.4C1627.0,297.4 1630.4,300.1 1632.5,302.7C1634.6,305.4 1635.5,308.2 1634.7,312.3C1633.9,316.3 1630.0,322.5 1627.7,326.9C1625.4,331.3 1622.4,335.0 1621.0,338.6C1619.5,342.2 1618.4,345.6 1619.0,348.5C1619.6,351.4 1622.1,354.0 1624.4,356.1C1626.7,358.1 1629.2,359.1 1632.9,361.1C1636.7,363.0 1641.0,364.1 1646.9,367.5C1652.8,371.0 1661.5,376.6 1668.2,381.7C1674.9,386.8 1681.9,392.0 1687.2,398.1C1692.5,404.2 1696.4,410.3 1699.8,418.3C1703.2,426.3 1706.3,436.8 1707.5,446.1C1708.6,455.4 1708.6,465.0 1706.9,474.2C1705.2,483.4 1701.9,493.5 1697.3,501.4C1692.6,509.2 1685.2,516.3 1678.9,521.2C1672.7,526.1 1666.7,528.3 1659.8,530.6Z" fill="none" stroke="#5AB300" stroke-width="2.8"/>
<path d="M1490.1,594.4C1483.6,591.7 1476.2,587.7 1470.7,583.4C1465.2,579.0 1460.9,573.5 1457.0,568.3C1453.0,563.2 1449.8,558.2 1446.9,552.6C1444.1,547.0 1441.9,540.5 1440.1,534.6C1438.2,528.6 1436.6,523.4 1435.7,516.9C1434.8,510.3 1434.4,501.9 1434.6,495.4C1434.8,488.8 1436.4,483.3 1436.7,477.5C1437.0,471.8 1437.3,466.3 1436.6,461.0C1436.0,455.6 1434.8,449.4 1432.9,445.5C1431.1,441.7 1429.1,439.9 1425.4,438.0C1421.8,436.0 1416.5,435.2 1410.7,434.1C1405.0,433.0 1397.8,432.2 1391.2,431.2C1384.6,430.2 1377.8,429.3 1371.4,428.1C1365.0,426.9 1357.7,425.4 1352.6,424.0C1347.6,422.6 1345.4,422.3 1341.2,419.6C1337.0,416.9 1330.4,412.2 1327.3,407.7C1324.3,403.1 1322.8,397.4 1322.8,392.4C1322.9,387.4 1325.4,381.6 1327.7,377.6C1330.0,373.6 1333.3,371.2 1336.6,368.4C1339.9,365.6 1343.7,363.1 1347.6,360.6C1351.5,358.1 1355.4,355.8 1360.0,353.4C1364.5,351.0 1369.8,347.9 1374.9,346.4C1380.0,344.9 1385.3,345.2 1390.6,344.3C1395.8,343.4 1401.7,343.1 1406.4,341.2C1411.1,339.3 1416.2,336.8 1419.0,332.9C1421.7,329.0 1422.7,323.2 1422.8,317.9C1423.0,312.6 1420.9,305.6 1419.9,300.8C1418.8,296.1 1417.6,293.3 1416.5,289.3C1415.5,285.3 1414.4,281.7 1413.5,276.9C1412.6,272.1 1411.5,265.7 1411.0,260.5C1410.6,255.2 1410.3,250.4 1410.8,245.6C1411.3,240.8 1412.2,236.2 1414.1,231.7C1416.0,227.3 1419.0,222.3 1422.2,219.0C1425.5,215.8 1429.2,213.3 1433.4,212.1C1437.6,211.0 1442.9,211.2 1447.5,212.1C1452.1,213.0 1456.7,214.8 1461.1,217.6C1465.6,220.4 1469.9,224.6 1474.3,229.0C1478.6,233.3 1483.5,238.5 1487.3,243.6C1491.2,248.7 1494.3,254.2 1497.2,259.4C1500.1,264.6 1502.3,269.9 1504.8,274.9C1507.2,280.0 1509.5,285.0 1511.9,289.8C1514.3,294.6 1516.3,299.6 1519.0,303.9C1521.8,308.1 1524.3,311.2 1528.3,315.0C1532.3,318.9 1537.6,324.1 1543.0,327.1C1548.5,330.1 1554.7,331.9 1561.0,333.0C1567.3,334.2 1574.2,334.1 1581.1,334.0C1588.0,333.9 1595.4,332.5 1602.2,332.4C1609.1,332.4 1615.7,332.6 1622.0,333.6C1628.4,334.5 1635.5,335.9 1640.3,338.2C1645.0,340.5 1648.6,343.9 1650.4,347.3C1652.2,350.7 1652.3,355.2 1651.2,358.6C1650.1,362.1 1647.0,365.2 1643.8,368.0C1640.7,370.9 1635.7,372.8 1632.4,375.7C1629.2,378.5 1625.6,381.7 1624.3,385.1C1623.1,388.4 1623.2,392.0 1625.1,396.0C1627.0,400.1 1632.4,404.7 1635.9,409.3C1639.4,413.9 1644.4,419.4 1646.2,423.8C1647.9,428.2 1647.4,432.5 1646.5,435.7C1645.5,438.8 1644.0,441.2 1640.4,442.7C1636.7,444.2 1629.4,444.1 1624.4,444.8C1619.4,445.5 1613.9,445.4 1610.1,446.7C1606.3,448.1 1603.0,450.0 1601.3,452.8C1599.6,455.6 1599.7,459.9 1599.9,463.6C1600.1,467.4 1601.6,470.7 1602.6,475.3C1603.7,479.9 1605.8,484.5 1606.2,491.2C1606.5,497.8 1605.5,507.4 1604.7,515.2C1604.0,523.1 1603.2,530.6 1601.7,538.1C1600.2,545.5 1599.3,552.6 1595.8,560.0C1592.2,567.4 1586.7,576.6 1580.5,582.6C1574.2,588.6 1566.1,592.8 1558.3,596.0C1550.4,599.1 1541.7,600.8 1533.5,601.4C1525.4,602.1 1516.7,601.1 1509.4,599.9C1502.2,598.8 1496.5,597.2 1490.1,594.4Z" fill="none" stroke="#00B300" stroke-width="2.8"/>
<path d="M1317.0,487.4C1317.1,479.9 1317.8,471.3 1319.7,464.5C1321.6,457.6 1324.9,451.6 1328.3,446.1C1331.8,440.7 1335.9,436.4 1340.2,431.7C1344.6,427.0 1350.1,422.6 1354.6,418.2C1359.1,413.7 1362.6,409.8 1367.0,405.2C1371.3,400.7 1376.4,395.1 1380.7,391.1C1385.0,387.1 1388.8,384.4 1392.6,381.2C1396.4,377.9 1400.2,375.0 1403.4,371.6C1406.7,368.2 1410.4,364.2 1412.0,360.9C1413.5,357.6 1413.7,355.4 1412.8,351.8C1411.8,348.3 1409.2,344.3 1406.3,339.7C1403.4,335.1 1399.2,329.7 1395.4,324.2C1391.7,318.6 1387.6,313.4 1383.6,306.5C1379.7,299.7 1374.3,290.0 1371.9,283.3C1369.5,276.6 1367.8,272.7 1369.3,266.4C1370.9,260.1 1376.3,250.8 1381.1,245.5C1385.9,240.2 1393.1,236.9 1398.2,234.7C1403.3,232.4 1408.4,231.7 1411.8,232.0C1415.3,232.4 1416.7,234.8 1418.9,236.9C1421.0,239.0 1422.2,242.1 1424.8,244.8C1427.5,247.5 1430.6,250.3 1434.7,253.1C1438.8,255.8 1444.9,258.4 1449.4,261.4C1453.9,264.4 1457.7,267.8 1461.7,271.0C1465.8,274.1 1469.5,278.0 1473.7,280.2C1477.9,282.4 1482.5,284.6 1486.9,284.4C1491.3,284.2 1495.9,281.6 1499.9,278.8C1503.9,276.0 1507.9,270.8 1510.8,267.6C1513.8,264.3 1515.2,262.0 1517.5,259.0C1519.9,256.1 1521.7,253.5 1525.0,249.7C1528.3,246.0 1533.1,240.6 1537.5,236.4C1542.0,232.3 1546.7,227.8 1551.7,224.8C1556.7,221.8 1562.0,219.4 1567.5,218.4C1572.9,217.3 1579.6,217.4 1584.4,218.5C1589.2,219.6 1593.4,221.8 1596.5,224.9C1599.5,228.0 1601.3,232.8 1602.5,237.3C1603.7,241.8 1603.8,246.6 1603.5,252.0C1603.3,257.4 1601.8,263.5 1600.9,269.8C1600.0,276.0 1599.4,283.3 1598.0,289.5C1596.6,295.6 1594.7,301.5 1592.5,306.8C1590.4,312.0 1587.3,316.5 1584.9,321.2C1582.5,325.8 1580.0,330.1 1577.9,334.6C1575.9,339.0 1573.8,343.3 1572.6,347.8C1571.4,352.2 1571.0,355.9 1570.9,361.1C1570.7,366.2 1570.4,373.0 1571.5,378.6C1572.6,384.2 1574.8,389.5 1577.7,394.6C1580.6,399.7 1584.6,404.3 1588.8,409.2C1593.0,414.2 1598.7,419.1 1602.9,424.4C1607.0,429.7 1610.9,435.4 1613.8,441.3C1616.6,447.2 1619.2,454.3 1619.8,460.0C1620.4,465.7 1619.1,471.9 1617.1,475.6C1615.1,479.3 1611.4,481.7 1607.8,482.4C1604.2,483.1 1599.7,481.1 1595.5,479.8C1591.2,478.6 1586.5,475.7 1582.2,474.9C1578.0,474.0 1573.5,473.6 1570.2,474.8C1566.9,476.0 1564.3,478.2 1562.2,482.1C1560.1,486.1 1559.5,492.5 1557.7,498.3C1555.8,504.1 1553.8,512.4 1551.4,516.9C1548.9,521.4 1545.7,524.2 1543.1,525.3C1540.5,526.3 1538.5,526.1 1535.8,523.4C1533.2,520.8 1530.5,513.5 1527.2,509.3C1523.9,505.1 1519.8,500.9 1516.1,498.3C1512.4,495.7 1508.5,493.9 1505.0,493.9C1501.5,493.8 1497.9,495.9 1494.9,498.0C1491.9,500.0 1490.2,502.4 1487.1,506.3C1484.0,510.3 1481.7,515.6 1476.3,521.5C1470.8,527.4 1462.2,536.0 1454.4,541.6C1446.6,547.3 1437.6,552.0 1429.4,555.4C1421.3,558.8 1414.1,560.7 1405.4,561.8C1396.8,562.9 1386.5,563.4 1377.6,561.8C1368.7,560.2 1359.8,556.9 1352.1,552.2C1344.3,547.5 1336.5,540.9 1331.1,533.8C1325.6,526.6 1321.8,517.1 1319.5,509.4C1317.2,501.6 1317.0,494.9 1317.0,487.4Z" fill="none" stroke="#005A5A" stroke-width="2.8"/>
<path d="M1300.1,310.5C1305.3,305.4 1311.8,300.0 1317.9,296.4C1324.1,292.8 1330.7,290.7 1337.0,288.8C1343.4,287.0 1349.5,285.8 1356.0,285.2C1362.6,284.7 1370.0,285.1 1376.5,285.4C1383.0,285.7 1388.7,286.2 1395.1,287.0C1401.5,287.9 1409.2,289.1 1415.0,290.5C1420.9,291.8 1425.3,293.8 1430.2,295.0C1435.1,296.3 1439.8,297.6 1444.6,298.0C1449.3,298.3 1454.9,298.4 1458.5,297.2C1462.0,296.1 1463.9,294.5 1466.0,291.1C1468.1,287.8 1469.4,282.5 1471.2,277.0C1473.0,271.6 1474.7,264.5 1477.0,258.4C1479.3,252.3 1481.8,246.1 1485.0,240.2C1488.2,234.2 1492.9,227.3 1496.2,222.6C1499.5,217.9 1500.9,215.7 1505.0,212.1C1509.2,208.5 1515.9,203.0 1521.0,201.0C1526.1,199.0 1531.3,198.8 1535.6,199.9C1539.8,201.0 1543.9,204.6 1546.6,207.7C1549.2,210.8 1550.1,214.4 1551.5,218.3C1552.9,222.2 1553.9,226.4 1555.1,231.0C1556.2,235.5 1557.3,240.3 1558.3,245.6C1559.4,250.9 1560.9,257.1 1561.2,262.5C1561.5,268.0 1560.5,272.9 1560.3,278.1C1560.1,283.3 1559.3,289.0 1560.0,294.0C1560.7,299.0 1561.7,304.4 1564.5,308.0C1567.2,311.6 1571.8,314.0 1576.3,315.5C1580.8,317.0 1587.0,316.9 1591.3,317.2C1595.6,317.4 1598.2,316.9 1602.0,316.8C1605.8,316.7 1609.0,316.5 1613.9,316.6C1618.7,316.7 1625.5,316.8 1631.3,317.5C1637.1,318.1 1643.0,318.8 1648.5,320.4C1654.0,322.1 1659.5,324.2 1664.3,327.4C1669.1,330.6 1674.2,335.3 1677.1,339.7C1679.9,344.1 1681.5,348.9 1681.3,353.7C1681.1,358.4 1678.8,363.8 1675.9,368.2C1673.0,372.6 1668.8,376.6 1663.8,380.2C1658.9,383.7 1652.1,386.6 1646.1,389.5C1640.0,392.5 1633.4,395.6 1627.6,398.0C1621.7,400.3 1616.3,402.1 1611.0,403.6C1605.7,405.2 1600.7,405.9 1595.7,407.2C1590.7,408.5 1585.9,409.7 1581.3,411.2C1576.7,412.6 1572.0,413.9 1567.8,415.8C1563.7,417.8 1560.6,419.9 1556.4,423.0C1552.3,426.1 1546.6,430.0 1542.9,434.4C1539.1,438.9 1536.2,444.1 1533.9,449.8C1531.7,455.6 1530.7,462.3 1529.3,468.9C1527.9,475.6 1527.6,483.4 1525.7,489.7C1523.7,495.9 1520.7,501.2 1517.5,506.4C1514.3,511.6 1510.1,517.0 1506.3,520.7C1502.5,524.5 1498.3,527.9 1494.8,529.0C1491.3,530.0 1487.5,529.1 1485.1,527.1C1482.8,525.1 1481.7,520.8 1480.4,516.8C1479.2,512.8 1479.2,507.3 1477.7,503.3C1476.1,499.3 1474.0,495.0 1471.3,492.9C1468.6,490.8 1465.4,489.8 1461.2,490.8C1457.1,491.7 1451.8,495.5 1446.5,498.6C1441.1,501.6 1434.1,507.3 1429.3,509.1C1424.5,510.9 1420.3,510.4 1417.7,509.2C1415.0,508.1 1413.5,506.1 1413.4,502.1C1413.4,498.1 1416.3,490.5 1417.2,485.0C1418.1,479.6 1419.2,473.9 1418.9,469.4C1418.7,464.8 1417.7,460.7 1415.6,457.9C1413.5,455.1 1409.7,453.7 1406.3,452.7C1402.9,451.7 1399.9,451.9 1395.2,451.9C1390.6,451.8 1385.4,453.0 1378.3,452.1C1371.1,451.3 1360.7,449.1 1352.3,446.8C1343.9,444.4 1335.6,441.3 1328.1,437.9C1320.6,434.5 1314.3,431.5 1307.3,426.3C1300.2,421.1 1291.6,414.4 1286.1,406.9C1280.6,399.3 1276.2,390.2 1274.4,381.0C1272.7,371.9 1273.5,360.8 1275.5,351.8C1277.5,342.8 1282.4,333.8 1286.5,326.9C1290.6,320.0 1294.9,315.6 1300.1,310.5Z" fill="none" stroke="#0000B3" stroke-width="2.8"/>
<text x="1502.7" y="120.4" font-size="30" text-anchor="middle" font-weight="bold">MuSCs</text>
<text x="1291.5" y="183.4" font-size="29.4">Brain</text>
<text x="1589.8" y="160.0" font-size="29.4">Heart</text>
<text x="1652.8" y="237.1" font-size="29.4">Kidney</text>
<text x="1225.0" y="303.8" font-size="29.4" text-anchor="middle">Digestive</text>
<text x="1220.0" y="339.0" font-size="29.4" text-anchor="middle">System</text>
<text x="1232.2" y="561.3" font-size="29.4">Thymus</text>
<text x="1475.0" y="628.0" font-size="29.4">Pancreas</text>
<text x="1682.4" y="544.6" font-size="29.4">Liver</text>
<text x="1388.7" y="216.7" font-size="24">47</text>
<text x="1381.3" y="263.0" font-size="24">2</text>
<text x="1349.8" y="303.8" font-size="24">19</text>
<text x="1381.3" y="303.8" font-size="24">1</text>
<text x="1616.6" y="315.0" font-size="24">1</text>
<text x="1635.0" y="303.8" font-size="24">4</text>
<text x="1611.0" y="333.5" font-size="24">1</text>
<text x="1631.4" y="335.3" font-size="24">1</text>
<text x="1601.7" y="357.5" font-size="24">1</text>
<text x="1353.5" y="400.0" font-size="24">1</text>
<text x="1381.3" y="468.7" font-size="24">1</text>
<text x="1359.0" y="528.0" font-size="24">2</text>
<text x="76.5" y="709.0" font-size="35">d</text>
<text x="337.0" y="753.7" font-size="30" text-anchor="middle" font-weight="bold">Examples of Neuroendocrine</text>
<text x="313.7" y="788.7" font-size="30" text-anchor="middle" font-weight="bold">genes</text>
<text transform="translate(25,1051.3) rotate(-90)" font-size="30" text-anchor="middle">Absolute Expression (RPM)</text>
<line x1="103.6" y1="902.0" x2="103.6" y2="1214.1" stroke="#000" stroke-width="4.6"/>
<line x1="91.0" y1="1211.6" x2="103.6" y2="1211.6" stroke="#000" stroke-width="4.6"/>
<text x="84.0" y="1222.1" font-size="30" text-anchor="end">0</text>
<line x1="91.0" y1="1134.9" x2="103.6" y2="1134.9" stroke="#000" stroke-width="4.6"/>
<text x="84.0" y="1145.4" font-size="30" text-anchor="end">50</text>
<line x1="91.0" y1="1058.2" x2="103.6" y2="1058.2" stroke="#000" stroke-width="4.6"/>
<text x="84.0" y="1068.7" font-size="30" text-anchor="end">100</text>
<line x1="91.0" y1="981.5" x2="103.6" y2="981.5" stroke="#000" stroke-width="4.6"/>
<text x="84.0" y="992.0" font-size="30" text-anchor="end">150</text>
<line x1="91.0" y1="904.8" x2="103.6" y2="904.8" stroke="#000" stroke-width="4.6"/>
<text x="84.0" y="915.3" font-size="30" text-anchor="end">200</text>
<rect x="156.8" y="968.8" width="22.3" height="242.8" fill="#FF2600" stroke="#000" stroke-width="6.7"/>
<rect x="260.6" y="1176.3" width="22.3" height="35.2" fill="#FF2600" stroke="#000" stroke-width="6.7"/>
<rect x="363.9" y="1164.9" width="22.3" height="46.6" fill="#FF2600" stroke="#000" stroke-width="6.7"/>
<rect x="428.2" y="1188.2" width="22.3" height="23.3" fill="#6699FF" stroke="#000" stroke-width="6.7"/>
<rect x="467.7" y="1079.1" width="22.3" height="132.4" fill="#FF2600" stroke="#000" stroke-width="6.7"/>
<line x1="91.0" y1="1211.6" x2="504.0" y2="1211.6" stroke="#000" stroke-width="5"/>
<line x1="148.4" y1="1211.6" x2="148.4" y2="1225.0" stroke="#000" stroke-width="4.6"/>
<line x1="252.0" y1="1211.6" x2="252.0" y2="1225.0" stroke="#000" stroke-width="4.6"/>
<line x1="355.0" y1="1211.6" x2="355.0" y2="1225.0" stroke="#000" stroke-width="4.6"/>
<line x1="458.7" y1="1211.6" x2="458.7" y2="1225.0" stroke="#000" stroke-width="4.6"/>
<line x1="168.0" y1="924.4" x2="168.0" y2="1010.6" stroke="#000" stroke-width="2.2"/>
<line x1="160.5" y1="924.4" x2="175.5" y2="924.4" stroke="#000" stroke-width="3.0"/>
<line x1="160.5" y1="1010.6" x2="175.5" y2="1010.6" stroke="#000" stroke-width="3.0"/>
<circle cx="168.0" cy="919.2" r="5.2" fill="#000"/>
<circle cx="168.0" cy="976.9" r="5.2" fill="#000"/>
<circle cx="168.0" cy="1004.3" r="5.2" fill="#000"/>
<circle cx="121.0" cy="1210.6" r="5.2" fill="#000"/>
<circle cx="129.0" cy="1210.6" r="5.2" fill="#000"/>
<circle cx="137.0" cy="1210.6" r="5.2" fill="#000"/>
<circle cx="224.0" cy="1210.6" r="5.2" fill="#000"/>
<circle cx="232.0" cy="1210.6" r="5.2" fill="#000"/>
<circle cx="240.0" cy="1210.6" r="5.2" fill="#000"/>
<circle cx="328.0" cy="1210.6" r="5.2" fill="#000"/>
<circle cx="336.0" cy="1210.6" r="5.2" fill="#000"/>
<circle cx="344.0" cy="1210.6" r="5.2" fill="#000"/>
<circle cx="264.7" cy="1172.0" r="5.2" fill="#000"/>
<circle cx="271.7" cy="1170.0" r="5.2" fill="#000"/>
<circle cx="278.7" cy="1172.0" r="5.2" fill="#000"/>
<circle cx="368.0" cy="1161.0" r="5.2" fill="#000"/>
<circle cx="375.0" cy="1159.0" r="5.2" fill="#000"/>
<circle cx="382.0" cy="1161.0" r="5.2" fill="#000"/>
<circle cx="432.4" cy="1184.0" r="5.2" fill="#000"/>
<circle cx="439.4" cy="1181.0" r="5.2" fill="#000"/>
<circle cx="446.4" cy="1183.0" r="5.2" fill="#000"/>
<line x1="478.8" y1="1054.4" x2="478.8" y2="1097.0" stroke="#000" stroke-width="2.2"/>
<line x1="471.3" y1="1054.4" x2="486.3" y2="1054.4" stroke="#000" stroke-width="3.0"/>
<line x1="471.3" y1="1097.0" x2="486.3" y2="1097.0" stroke="#000" stroke-width="3.0"/>
<circle cx="471.2" cy="1062.2" r="5.2" fill="#000"/>
<circle cx="485.2" cy="1065.8" r="5.2" fill="#000"/>
<circle cx="478.4" cy="1103.3" r="5.2" fill="#000"/>
<text x="108.0" y="879.0" font-size="29.7">p=0.000597</text>
<line x1="117.0" y1="894.0" x2="191.7" y2="894.0" stroke="#000" stroke-width="3.6"/>
<text x="193.0" y="1133.7" font-size="29.7">p=0.000012</text>
<line x1="208.4" y1="1147.0" x2="282.4" y2="1147.0" stroke="#000" stroke-width="3.6"/>
<text x="287.8" y="1067.6" font-size="29.7">p=0.000002</text>
<line x1="319.3" y1="1086.5" x2="393.3" y2="1086.5" stroke="#000" stroke-width="3.6"/>
<text x="409.4" y="1010.4" font-size="29.7">p=0.001139</text>
<line x1="431.5" y1="1026.5" x2="505.9" y2="1026.5" stroke="#000" stroke-width="3.6"/>
<text x="151.0" y="1257.0" font-size="30" text-anchor="middle">Scg2</text>
<text x="243.3" y="1257.0" font-size="30" text-anchor="middle">Chga</text>
<text x="338.4" y="1257.0" font-size="30" text-anchor="middle">Scg5</text>
<text x="467.5" y="1257.0" font-size="30" text-anchor="middle">Pcsk2</text>
<rect x="354.0" y="856.0" width="25.7" height="24.0" fill="#6699FF"/>
<text x="388.0" y="878.0" font-size="26.6">WT myoblasts</text>
<rect x="354.0" y="893.0" width="25.7" height="23.7" fill="#FF2600"/>
<text x="388.0" y="913.8" font-size="26.6">KO myoblasts</text>
<text x="648.3" y="709.0" font-size="35">e</text>
<text x="945.0" y="753.7" font-size="30" text-anchor="middle" font-weight="bold">Examples of Genes involved in</text>
<text x="938.7" y="788.7" font-size="30" text-anchor="middle" font-weight="bold">other non-muscle cell types</text>
<text transform="translate(640,1021.9) rotate(-90)" font-size="30" text-anchor="middle">Absolute Expression (RPM)</text>
<line x1="732.8" y1="823.5" x2="732.8" y2="1241.6" stroke="#000" stroke-width="7"/>
<line x1="712.6" y1="1238.1" x2="733.0" y2="1238.1" stroke="#000" stroke-width="6.8"/>
<text x="707.3" y="1248.6" font-size="30" text-anchor="end">0</text>
<line x1="712.6" y1="1135.1" x2="733.0" y2="1135.1" stroke="#000" stroke-width="6.8"/>
<text x="707.3" y="1145.6" font-size="30" text-anchor="end">100</text>
<line x1="712.6" y1="1032.2" x2="733.0" y2="1032.2" stroke="#000" stroke-width="6.8"/>
<text x="707.3" y="1042.7" font-size="30" text-anchor="end">200</text>
<line x1="712.6" y1="929.2" x2="733.0" y2="929.2" stroke="#000" stroke-width="6.8"/>
<text x="707.3" y="939.7" font-size="30" text-anchor="end">300</text>
<line x1="712.6" y1="826.2" x2="733.0" y2="826.2" stroke="#000" stroke-width="6.8"/>
<text x="707.3" y="836.7" font-size="30" text-anchor="end">400</text>
<rect x="804.1" y="1204.9" width="29.9" height="33.1" fill="#FF2600" stroke="#000" stroke-width="6.7"/>
<rect x="941.7" y="1215.8" width="29.9" height="22.3" fill="#FF2600" stroke="#000" stroke-width="6.7"/>
<rect x="1029.2" y="1199.6" width="29.9" height="38.4" fill="#6699FF" stroke="#000" stroke-width="6.7"/>
<rect x="1081.0" y="928.9" width="29.9" height="309.2" fill="#FF2600" stroke="#000" stroke-width="6.7"/>
<line x1="712.6" y1="1238.1" x2="1129.0" y2="1238.1" stroke="#000" stroke-width="6.8"/>
<line x1="793.0" y1="1238.1" x2="793.0" y2="1251.0" stroke="#000" stroke-width="6"/>
<line x1="930.7" y1="1238.1" x2="930.7" y2="1251.0" stroke="#000" stroke-width="6"/>
<line x1="1068.4" y1="1238.1" x2="1068.4" y2="1251.0" stroke="#000" stroke-width="6"/>
<line x1="1096.0" y1="882.4" x2="1096.0" y2="971.0" stroke="#000" stroke-width="2.5"/>
<line x1="1086.0" y1="882.4" x2="1106.0" y2="882.4" stroke="#000" stroke-width="3.3"/>
<line x1="1086.0" y1="971.0" x2="1106.0" y2="971.0" stroke="#000" stroke-width="3.3"/>
<ellipse cx="1095.2" cy="888.8" rx="8" ry="4.5" fill="#000"/>
<ellipse cx="1095.2" cy="915.6" rx="8" ry="4.5" fill="#000"/>
<ellipse cx="1093.4" cy="974.6" rx="8" ry="4.5" fill="#000"/>
<line x1="1044.2" y1="1183.0" x2="1044.2" y2="1215.0" stroke="#000" stroke-width="2.5"/>
<line x1="1034.2" y1="1183.0" x2="1054.2" y2="1183.0" stroke="#000" stroke-width="3.3"/>
<line x1="1034.2" y1="1215.0" x2="1054.2" y2="1215.0" stroke="#000" stroke-width="3.3"/>
<ellipse cx="1045.0" cy="1183.8" rx="8" ry="4.5" fill="#000"/>
<ellipse cx="1043.3" cy="1198.0" rx="8" ry="4.5" fill="#000"/>
<ellipse cx="1043.3" cy="1214.2" rx="8" ry="4.5" fill="#000"/>
<line x1="956.6" y1="1202.4" x2="956.6" y2="1222.0" stroke="#000" stroke-width="2.5"/>
<line x1="946.6" y1="1202.4" x2="966.6" y2="1202.4" stroke="#000" stroke-width="3.3"/>
<line x1="946.6" y1="1222.0" x2="966.6" y2="1222.0" stroke="#000" stroke-width="3.3"/>
<ellipse cx="948.6" cy="1203.4" rx="8" ry="4.5" fill="#000"/>
<ellipse cx="966.5" cy="1212.4" rx="8" ry="4.5" fill="#000"/>
<ellipse cx="955.7" cy="1224.9" rx="8" ry="4.5" fill="#000"/>
<ellipse cx="811.0" cy="1199.9" rx="8" ry="4.5" fill="#000"/>
<ellipse cx="827.0" cy="1201.6" rx="8" ry="4.5" fill="#000"/>
<ellipse cx="811.0" cy="1210.6" rx="8" ry="4.5" fill="#000"/>
<ellipse cx="760.0" cy="1237.1" rx="8" ry="4.5" fill="#000"/>
<ellipse cx="768.0" cy="1237.1" rx="8" ry="4.5" fill="#000"/>
<ellipse cx="776.0" cy="1237.1" rx="8" ry="4.5" fill="#000"/>
<ellipse cx="897.7" cy="1237.1" rx="8" ry="4.5" fill="#000"/>
<ellipse cx="905.7" cy="1237.1" rx="8" ry="4.5" fill="#000"/>
<ellipse cx="913.7" cy="1237.1" rx="8" ry="4.5" fill="#000"/>
<text x="744.8" y="1110.5" font-size="29.7">p=0.000565</text>
<line x1="753.0" y1="1126.6" x2="827.0" y2="1126.6" stroke="#000" stroke-width="3.6"/>
<text x="868.0" y="1166.0" font-size="29.7">p=0.071105</text>
<line x1="891.4" y1="1181.0" x2="964.7" y2="1181.0" stroke="#000" stroke-width="3.6"/>
<text x="975.4" y="857.4" font-size="29.7">p=0.000020</text>
<line x1="1014.7" y1="866.7" x2="1089.0" y2="866.7" stroke="#000" stroke-width="3.6"/>
<text x="795.8" y="1280.3" font-size="30" text-anchor="middle">Pax5</text>
<text x="930.0" y="1280.3" font-size="30" text-anchor="middle">Aff3</text>
<text x="1082.3" y="1280.3" font-size="30" text-anchor="middle">OneCut2</text>
<rect x="758.4" y="863.0" width="26.4" height="24.0" fill="#6699FF"/>
<text x="792.0" y="885.2" font-size="26.6">WT myoblasts</text>
<rect x="758.4" y="900.0" width="26.4" height="24.6" fill="#FF2600"/>
<text x="794.8" y="921.0" font-size="26.6">KO myoblasts</text>
<text x="1266.0" y="709.0" font-size="35">f</text>
<g><path d="M1316,840 C1300,838 1280,836 1266,842 C1257,846 1253,856 1253,866" fill="none" stroke="#C9A09C" stroke-width="4.5" stroke-linecap="round"/><path d="M1316,849 C1311,836 1314,812 1326,799 C1336,789 1350,787 1362,789 C1374,791 1384,800 1389,812 C1392,822 1395,832 1397,840 C1397,845 1393,847 1387,848 C1375,851 1360,853 1340,853 C1328,853 1320,852 1316,849 Z" fill="#6D6969"/><path d="M1320,848 C1335,846 1350,846 1362,850 C1350,853 1330,853 1318,851 Z" fill="#5C5858"/><ellipse cx="1378" cy="802" rx="4.5" ry="7.5" fill="#5E5A5A" transform="rotate(15 1378 802)"/><ellipse cx="1368.5" cy="808" rx="5.5" ry="9.5" fill="#CFA3A0" transform="rotate(-12 1368.5 808)"/><circle cx="1384.3" cy="826.3" r="2.3" fill="#2A2A2A"/><ellipse cx="1335" cy="850" rx="7" ry="3" fill="#D3A9A5"/><ellipse cx="1373" cy="852" rx="6" ry="2.6" fill="#D3A9A5"/><path d="M1394,836 l10,-5 M1395,838 l11,-1 M1395,840 l9,4" stroke="#AAA" stroke-width="0.7" fill="none"/></g>
<g transform="translate(2818.6,0) scale(-1,1)"><path d="M1316,840 C1300,838 1280,836 1266,842 C1257,846 1253,856 1253,866" fill="none" stroke="#C9A09C" stroke-width="4.5" stroke-linecap="round"/><path d="M1316,849 C1311,836 1314,812 1326,799 C1336,789 1350,787 1362,789 C1374,791 1384,800 1389,812 C1392,822 1395,832 1397,840 C1397,845 1393,847 1387,848 C1375,851 1360,853 1340,853 C1328,853 1320,852 1316,849 Z" fill="#6D6969"/><path d="M1320,848 C1335,846 1350,846 1362,850 C1350,853 1330,853 1318,851 Z" fill="#5C5858"/><ellipse cx="1378" cy="802" rx="4.5" ry="7.5" fill="#5E5A5A" transform="rotate(15 1378 802)"/><ellipse cx="1368.5" cy="808" rx="5.5" ry="9.5" fill="#CFA3A0" transform="rotate(-12 1368.5 808)"/><circle cx="1384.3" cy="826.3" r="2.3" fill="#2A2A2A"/><ellipse cx="1335" cy="850" rx="7" ry="3" fill="#D3A9A5"/><ellipse cx="1373" cy="852" rx="6" ry="2.6" fill="#D3A9A5"/><path d="M1394,836 l10,-5 M1395,838 l11,-1 M1395,840 l9,4" stroke="#AAA" stroke-width="0.7" fill="none"/></g>
<text x="1269.5" y="828.3" font-size="29" textLength="39.5" lengthAdjust="spacingAndGlyphs">WT</text>
<text x="1506" y="828.3" font-size="29" textLength="128.9" lengthAdjust="spacingAndGlyphs">REST-cKO</text>
<path d="M1382.4,864 L1423.5,864 L1423.5,950 L1412,962 L1412,995 Q1402,1000 1392,995 L1392,962 L1382.4,950 Z" fill="#DCEBF7" stroke="#9AA6B0" stroke-width="1.5"/>
<rect x="1386" y="866" width="34" height="82" fill="#C9E2F5"/>
<circle cx="1394" cy="870" r="3.4" fill="#9AA4AE"/>
<circle cx="1407" cy="870" r="3.4" fill="#9AA4AE"/>
<circle cx="1394" cy="882" r="4.2" fill="#D58CE0"/>
<circle cx="1404" cy="886" r="3.4" fill="#9AA4AE"/>
<circle cx="1414" cy="880" r="4.2" fill="#D58CE0"/>
<circle cx="1392" cy="898" r="4.2" fill="#D58CE0"/>
<circle cx="1402" cy="898" r="4.2" fill="#D58CE0"/>
<circle cx="1413" cy="897" r="4.2" fill="#D58CE0"/>
<circle cx="1394" cy="910" r="3.4" fill="#9AA4AE"/>
<circle cx="1406" cy="909" r="3.4" fill="#9AA4AE"/>
<circle cx="1392" cy="922" r="4.2" fill="#D58CE0"/>
<circle cx="1404" cy="920" r="4.2" fill="#D58CE0"/>
<circle cx="1415" cy="916" r="3.4" fill="#9AA4AE"/>
<circle cx="1405" cy="932" r="3.4" fill="#9AA4AE"/>
<circle cx="1415" cy="927" r="4.2" fill="#D58CE0"/>
<circle cx="1394" cy="939" r="4.2" fill="#D58CE0"/>
<circle cx="1407" cy="943" r="3.4" fill="#9AA4AE"/>
<circle cx="1397" cy="968" r="3.4" fill="#9AA4AE"/>
<circle cx="1402" cy="978" r="3.4" fill="#9AA4AE"/>
<circle cx="1402" cy="990" r="4.2" fill="#D58CE0"/>
<ellipse cx="1402" cy="1006" rx="4" ry="5" fill="#D58CE0"/>
<text x="1428.2" y="905.3" font-size="28" textLength="299.8" lengthAdjust="spacingAndGlyphs">FACS Isolation of MuSCs</text>
<text x="1428.2" y="941.2" font-size="28" textLength="305.2" lengthAdjust="spacingAndGlyphs">(ITGA7<tspan font-size="15" dy="-10">+</tspan><tspan dy="10">/ VCAM1</tspan><tspan font-size="15" dy="-10">+</tspan><tspan dy="10">/ CD45</tspan><tspan font-size="15" dy="-10">-</tspan><tspan dy="10">/</tspan></text>
<text x="1428.2" y="978.8" font-size="28" textLength="272.9" lengthAdjust="spacingAndGlyphs">CD11b<tspan font-size="15" dy="-10">-</tspan><tspan dy="10">/ SCA1</tspan><tspan font-size="15" dy="-10">-</tspan><tspan dy="10">/ CD31</tspan><tspan font-size="15" dy="-10">-</tspan><tspan dy="10">)</tspan></text>
<line x1="1402.0" y1="1020.0" x2="1402.0" y2="1085.0" stroke="#222" stroke-width="2.2"/>
<path d="M1396,1080 L1402,1093 L1408,1080 Z" fill="#222"/>
<path d="M1397,1098 L1413,1098 L1411,1130 L1406,1158 L1404,1158 L1399,1130 Z" fill="#EEF3F5" stroke="#B8C2C8" stroke-width="1.2"/>
<path d="M1388,1083 L1398,1096" stroke="#C8D0D4" stroke-width="3"/>
<text x="1219" y="1112.6" font-size="29" textLength="219.7" lengthAdjust="spacingAndGlyphs">MuSCs sorted into</text>
<text x="1219" y="1149" font-size="29" textLength="143.6" lengthAdjust="spacingAndGlyphs">OMNI-ATAC</text>
<text x="1219" y="1183.5" font-size="29" textLength="140.8" lengthAdjust="spacingAndGlyphs">lysis buffeer</text>
<line x1="1418.0" y1="1118.5" x2="1457.0" y2="1118.5" stroke="#222" stroke-width="2.6"/>
<path d="M1455,1111 L1466,1118.5 L1455,1126 Z" fill="#222"/>
<line x1="1586.5" y1="1118.5" x2="1622.0" y2="1118.5" stroke="#222" stroke-width="2.6"/>
<path d="M1620,1111 L1631,1118.5 L1620,1126 Z" fill="#222"/>
<circle cx="1523.8" cy="1116.7" r="51" fill="#B2A3D4" stroke="#6E5AA8" stroke-width="4" stroke-dasharray="18 6"/>
<path d="M1488,1095 C1492,1115 1500,1130 1512,1132 C1522,1134 1528,1115 1535,1105 C1540,1098 1545,1100 1550,1108 C1555,1116 1562,1122 1568,1118" fill="none" stroke="#2E8F8F" stroke-width="1.3"/>
<ellipse cx="1488" cy="1088" rx="6.5" ry="3.3" transform="rotate(30 1488 1088)" fill="#46BFC2" stroke="#23898C" stroke-width="0.8"/>
<ellipse cx="1490" cy="1094" rx="6.5" ry="3.3" transform="rotate(30 1490 1094)" fill="#46BFC2" stroke="#23898C" stroke-width="0.8"/>
<ellipse cx="1493" cy="1100" rx="6.5" ry="3.3" transform="rotate(30 1493 1100)" fill="#46BFC2" stroke="#23898C" stroke-width="0.8"/>
<ellipse cx="1497" cy="1107" rx="6.5" ry="3.3" transform="rotate(30 1497 1107)" fill="#46BFC2" stroke="#23898C" stroke-width="0.8"/>
<ellipse cx="1502" cy="1113" rx="6.5" ry="3.3" transform="rotate(30 1502 1113)" fill="#46BFC2" stroke="#23898C" stroke-width="0.8"/>
<ellipse cx="1541" cy="1094" rx="6.5" ry="3.3" transform="rotate(30 1541 1094)" fill="#46BFC2" stroke="#23898C" stroke-width="0.8"/>
<ellipse cx="1545" cy="1090" rx="6.5" ry="3.3" transform="rotate(30 1545 1090)" fill="#46BFC2" stroke="#23898C" stroke-width="0.8"/>
<ellipse cx="1554" cy="1106" rx="6.5" ry="3.3" transform="rotate(30 1554 1106)" fill="#46BFC2" stroke="#23898C" stroke-width="0.8"/>
<ellipse cx="1558" cy="1111" rx="6.5" ry="3.3" transform="rotate(30 1558 1111)" fill="#46BFC2" stroke="#23898C" stroke-width="0.8"/>
<ellipse cx="1563" cy="1116" rx="6.5" ry="3.3" transform="rotate(30 1563 1116)" fill="#46BFC2" stroke="#23898C" stroke-width="0.8"/>
<ellipse cx="1567" cy="1121" rx="6.5" ry="3.3" transform="rotate(30 1567 1121)" fill="#46BFC2" stroke="#23898C" stroke-width="0.8"/>
<ellipse cx="1516" cy="1128" rx="6.5" ry="3.3" transform="rotate(30 1516 1128)" fill="#46BFC2" stroke="#23898C" stroke-width="0.8"/>
<circle cx="1509.6" cy="1108" r="6.5" fill="#F6CFE0" stroke="#D6508A" stroke-width="1"/>
<path d="M1509.6,1106 v8 m-2.5,-2.5 l2.5,3 l2.5,-3" fill="none" stroke="#333" stroke-width="1.2"/>
<circle cx="1534.8" cy="1080" r="6.5" fill="#F6CFE0" stroke="#D6508A" stroke-width="1"/>
<path d="M1534.8,1078 v8 m-2.5,-2.5 l2.5,3 l2.5,-3" fill="none" stroke="#333" stroke-width="1.2"/>
<circle cx="1551" cy="1130" r="6.5" fill="#F6CFE0" stroke="#D6508A" stroke-width="1"/>
<path d="M1551,1128 v8 m-2.5,-2.5 l2.5,3 l2.5,-3" fill="none" stroke="#333" stroke-width="1.2"/>
<path d="M1555,1123 l6,8 m0,-8 l-6,8" stroke="#D02020" stroke-width="1.5"/>
<path d="M1641,1094 L1656,1084 L1656,1157 L1641,1155 Z" fill="#D5D8DA" stroke="#9A9FA3" stroke-width="0.8"/>
<rect x="1656" y="1104" width="49" height="53" fill="#3B3B3D"/>
<rect x="1681" y="1108" width="23" height="48" fill="#2F2F31"/>
<path d="M1663,1075 L1694,1071 L1697,1104 L1664,1104 Z" fill="#444"/><path d="M1667,1077 L1692,1074 L1694,1100 L1668,1100 Z" fill="#BFE4EE"/>
<rect x="1656" y="1102" width="49" height="2.5" fill="#5CC5D3"/>
<text x="1392" y="1195.6" font-size="28.5" textLength="240.4" lengthAdjust="spacingAndGlyphs">Tagmentation&amp;PCR/</text>
<text x="1392" y="1231.3" font-size="28.5" textLength="226.5" lengthAdjust="spacingAndGlyphs">Library Preparation</text>
<text x="1642" y="1184.6" font-size="28.5" textLength="117.6" lengthAdjust="spacingAndGlyphs">Sequence</text>
<text x="69.0" y="1350.0" font-size="35">g</text>
<rect x="107.3" y="1367.0" width="553.0" height="420.7" fill="#EBEBEB"/>
<g stroke="#fff">
<line x1="140.3" y1="1367" x2="140.3" y2="1787.7" stroke-width="1.7"/>
<line x1="233.9" y1="1367" x2="233.9" y2="1787.7" stroke-width="1.7"/>
<line x1="327.6" y1="1367" x2="327.6" y2="1787.7" stroke-width="1.7"/>
<line x1="421.2" y1="1367" x2="421.2" y2="1787.7" stroke-width="1.7"/>
<line x1="514.9" y1="1367" x2="514.9" y2="1787.7" stroke-width="1.7"/>
<line x1="608.5" y1="1367" x2="608.5" y2="1787.7" stroke-width="1.7"/>
<line x1="107.3" y1="1424.9" x2="660.3" y2="1424.9" stroke-width="1.7"/>
<line x1="107.3" y1="1520.6" x2="660.3" y2="1520.6" stroke-width="1.7"/>
<line x1="107.3" y1="1616.2" x2="660.3" y2="1616.2" stroke-width="1.7"/>
<line x1="107.3" y1="1712.0" x2="660.3" y2="1712.0" stroke-width="1.7"/>
<line x1="187.1" y1="1367" x2="187.1" y2="1787.7" stroke-width="3.2"/>
<line x1="280.8" y1="1367" x2="280.8" y2="1787.7" stroke-width="3.2"/>
<line x1="374.4" y1="1367" x2="374.4" y2="1787.7" stroke-width="3.2"/>
<line x1="468.0" y1="1367" x2="468.0" y2="1787.7" stroke-width="3.2"/>
<line x1="561.7" y1="1367" x2="561.7" y2="1787.7" stroke-width="3.2"/>
<line x1="655.3" y1="1367" x2="655.3" y2="1787.7" stroke-width="3.2"/>
<line x1="107.3" y1="1377.0" x2="660.3" y2="1377.0" stroke-width="3.2"/>
<line x1="107.3" y1="1472.7" x2="660.3" y2="1472.7" stroke-width="3.2"/>
<line x1="107.3" y1="1568.4" x2="660.3" y2="1568.4" stroke-width="3.2"/>
<line x1="107.3" y1="1664.1" x2="660.3" y2="1664.1" stroke-width="3.2"/>
<line x1="107.3" y1="1759.8" x2="660.3" y2="1759.8" stroke-width="3.2"/>
</g>
<line x1="187.1" y1="1787.7" x2="187.1" y2="1792.5" stroke="#333" stroke-width="2"/>
<text x="183.1" y="1822.2" font-size="29" text-anchor="middle" textLength="36.9" lengthAdjust="spacingAndGlyphs">-10</text>
<line x1="280.8" y1="1787.7" x2="280.8" y2="1792.5" stroke="#333" stroke-width="2"/>
<text x="276.8" y="1822.2" font-size="29" text-anchor="middle" textLength="22.7" lengthAdjust="spacingAndGlyphs">-5</text>
<line x1="374.4" y1="1787.7" x2="374.4" y2="1792.5" stroke="#333" stroke-width="2"/>
<text x="374.4" y="1822.2" font-size="29" text-anchor="middle" textLength="14.2" lengthAdjust="spacingAndGlyphs">0</text>
<line x1="468.0" y1="1787.7" x2="468.0" y2="1792.5" stroke="#333" stroke-width="2"/>
<text x="468.0" y="1822.2" font-size="29" text-anchor="middle" textLength="14.2" lengthAdjust="spacingAndGlyphs">5</text>
<line x1="561.7" y1="1787.7" x2="561.7" y2="1792.5" stroke="#333" stroke-width="2"/>
<text x="561.7" y="1822.2" font-size="29" text-anchor="middle" textLength="28.4" lengthAdjust="spacingAndGlyphs">10</text>
<line x1="655.3" y1="1787.7" x2="655.3" y2="1792.5" stroke="#333" stroke-width="2"/>
<text x="648.3" y="1822.2" font-size="29" text-anchor="middle" textLength="28.4" lengthAdjust="spacingAndGlyphs">15</text>
<line x1="102.5" y1="1472.7" x2="107.3" y2="1472.7" stroke="#333" stroke-width="2"/>
<text x="100.3" y="1483.2" font-size="29" text-anchor="end" textLength="14.2" lengthAdjust="spacingAndGlyphs">5</text>
<line x1="102.5" y1="1568.4" x2="107.3" y2="1568.4" stroke="#333" stroke-width="2"/>
<text x="100.3" y="1578.9" font-size="29" text-anchor="end" textLength="14.2" lengthAdjust="spacingAndGlyphs">0</text>
<line x1="102.5" y1="1664.1" x2="107.3" y2="1664.1" stroke="#333" stroke-width="2"/>
<text x="100.3" y="1674.6" font-size="29" text-anchor="end" textLength="22.7" lengthAdjust="spacingAndGlyphs">-5</text>
<line x1="102.5" y1="1759.8" x2="107.3" y2="1759.8" stroke="#333" stroke-width="2"/>
<text x="100.3" y="1770.3" font-size="29" text-anchor="end" textLength="36.9" lengthAdjust="spacingAndGlyphs">-10</text>
<text x="294.5" y="1858.2" font-size="28.4" textLength="228.7" lengthAdjust="spacingAndGlyphs">PC1: 72% variance</text>
<text transform="translate(68.8,1575.1) rotate(-90)" font-size="31" text-anchor="middle" textLength="226.6" lengthAdjust="spacingAndGlyphs">PC2: 24% variance</text>
<circle cx="179" cy="1385.6" r="3.3" fill="#00A99D"/>
<circle cx="168.3" cy="1446.7" r="3.3" fill="#00A99D"/>
<circle cx="132.5" cy="1653" r="3.3" fill="#00A99D"/>
<circle cx="168.3" cy="1712.2" r="3.3" fill="#00A99D"/>
<circle cx="635.3" cy="1456.2" r="3.3" fill="#E8453C"/>
<circle cx="625.8" cy="1537.4" r="3.3" fill="#E8453C"/>
<circle cx="603" cy="1587.9" r="3.3" fill="#E8453C"/>
<circle cx="483.4" cy="1769.1" r="3.3" fill="#E8453C"/>
<text x="189.8" y="1401" font-size="31" fill="#00A99D" textLength="226" lengthAdjust="spacingAndGlyphs">WT4_MuSC_ATAC</text>
<text x="142.4" y="1478.2" font-size="31" fill="#00A99D" textLength="226" lengthAdjust="spacingAndGlyphs">WT1_MuSC_ATAC</text>
<text x="136" y="1634.5" font-size="31" fill="#00A99D" textLength="226" lengthAdjust="spacingAndGlyphs">WT3_MuSC_ATAC</text>
<text x="176" y="1710" font-size="31" fill="#00A99D" textLength="226" lengthAdjust="spacingAndGlyphs">WT2_MuSC_ATAC</text>
<text x="405.7" y="1445.9" font-size="31" fill="#F8766D" textLength="226" lengthAdjust="spacingAndGlyphs">KO3_MuSC_ATAC</text>
<text x="396.2" y="1537.4" font-size="31" fill="#F8766D" textLength="226" lengthAdjust="spacingAndGlyphs">KO2_MuSC_ATAC</text>
<text x="400.5" y="1615" font-size="31" fill="#F8766D" textLength="226" lengthAdjust="spacingAndGlyphs">KO4_MuSC_ATAC</text>
<text x="412" y="1754" font-size="31" fill="#F8766D" textLength="226" lengthAdjust="spacingAndGlyphs">KO1_MuSC_ATAC</text>
<text x="886.5" y="1351.0" font-size="35">h</text>
<rect x="946.3" y="1373.5" width="114.7" height="419.5" fill="#ffeee6"/>
<path d="M956.4 1379.5h3.4M963.2 1379.5h3.4M963.2 1383.5h3.4M1010.4 1383.5h3.4M1017.1 1383.5h3.4M1044.1 1383.5h3.4M1054.3 1383.5h3.4M969.9 1387.5h3.4M990.2 1387.5h3.4M996.9 1387.5h3.4M1020.5 1387.5h3.4M1027.3 1387.5h3.4M1057.6 1387.5h3.4M946.3 1391.5h3.4M1007.0 1391.5h3.4M986.8 1395.5h3.4M996.9 1395.5h3.4M1037.4 1399.5h3.4M953.0 1403.5h6.7M1000.3 1403.5h10.1M1013.8 1403.5h6.7M1027.3 1403.5h3.4M986.8 1407.5h3.4M1007.0 1407.5h3.4M1057.6 1407.5h3.4M996.9 1411.5h3.4M1007.0 1411.5h3.4M983.4 1415.5h3.4M996.9 1415.5h3.4M1007.0 1415.5h3.4M946.3 1419.4h3.4M1007.0 1419.4h3.4M953.0 1423.4h3.4M966.5 1423.4h3.4M996.9 1423.4h3.4M1007.0 1423.4h3.4M1000.3 1427.4h6.7M1017.1 1427.4h3.4M1023.9 1427.4h3.4M1037.4 1427.4h3.4M963.2 1431.4h3.4M996.9 1431.4h13.5M1030.6 1431.4h3.4M1054.3 1431.4h3.4M1007.0 1435.4h3.4M1044.1 1435.4h3.4M1000.3 1439.4h3.4M1050.9 1439.4h3.4M1054.3 1443.4h3.4M953.0 1447.4h3.4M969.9 1447.4h3.4M976.7 1447.4h3.4M996.9 1447.4h6.7M1047.5 1447.4h3.4M996.9 1451.4h3.4M1007.0 1451.4h3.4M1050.9 1451.4h3.4M993.5 1455.4h3.4M1013.8 1455.4h3.4M1047.5 1455.4h3.4M1000.3 1459.4h3.4M946.3 1463.4h3.4M1007.0 1463.4h6.7M953.0 1467.4h6.7M1023.9 1467.4h6.7M1057.6 1467.4h3.4M1007.0 1471.4h3.4M1017.1 1471.4h3.4M949.7 1475.4h3.4M966.5 1475.4h3.4M1000.3 1475.4h3.4M1023.9 1475.4h3.4M1030.6 1475.4h3.4M1050.9 1475.4h6.7M996.9 1479.4h10.1M1010.4 1479.4h6.7M1047.5 1479.4h3.4M963.2 1483.4h3.4M996.9 1483.4h3.4M1007.0 1483.4h3.4M1057.6 1483.4h3.4M946.3 1487.4h6.7M959.8 1487.4h3.4M980.0 1487.4h3.4M1003.6 1487.4h3.4M1027.3 1487.4h3.4M1007.0 1491.4h3.4M1020.5 1491.4h3.4M990.2 1495.4h3.4M986.8 1499.3h3.4M1000.3 1499.3h10.1M1017.1 1499.3h3.4M953.0 1503.3h3.4M993.5 1503.3h6.7M1007.0 1503.3h3.4M1020.5 1503.3h3.4M1037.4 1503.3h3.4M1050.9 1503.3h3.4M946.3 1507.3h3.4M966.5 1507.3h3.4M976.7 1507.3h3.4M1000.3 1507.3h6.7M1023.9 1507.3h3.4M983.4 1511.3h3.4M1000.3 1511.3h10.1M1027.3 1511.3h3.4M993.5 1515.3h6.7M1000.3 1519.3h6.7M1034.0 1519.3h3.4M966.5 1523.3h3.4M996.9 1523.3h3.4M1007.0 1523.3h3.4M1017.1 1523.3h3.4M996.9 1527.3h3.4M1003.6 1527.3h6.7M1040.8 1527.3h3.4M1000.3 1531.3h3.4M1017.1 1531.3h3.4M953.0 1535.3h3.4M966.5 1535.3h3.4M1000.3 1535.3h6.7M953.0 1543.3h6.7M966.5 1543.3h3.4M993.5 1543.3h3.4M1000.3 1543.3h3.4M949.7 1547.3h3.4M973.3 1547.3h3.4M996.9 1547.3h3.4M1013.8 1547.3h3.4M1020.5 1547.3h3.4M1007.0 1551.3h3.4M969.9 1555.3h3.4M996.9 1555.3h3.4M966.5 1559.3h3.4M993.5 1559.3h6.7M1007.0 1559.3h3.4M1057.6 1559.3h3.4M980.0 1563.3h3.4M996.9 1563.3h3.4M1007.0 1563.3h3.4M1030.6 1563.3h3.4M1040.8 1563.3h3.4M1050.9 1563.3h3.4M973.3 1567.3h3.4M990.2 1567.3h6.7M1000.3 1567.3h3.4M1023.9 1567.3h3.4M1044.1 1567.3h3.4M946.3 1571.3h3.4M946.3 1575.3h3.4M966.5 1575.3h3.4M1003.6 1575.3h3.4M1027.3 1575.3h3.4M1054.3 1575.3h3.4M1000.3 1579.3h6.7M1034.0 1579.3h3.4M976.7 1583.2h3.4M993.5 1583.2h3.4M1007.0 1583.2h3.4M946.3 1587.2h3.4M956.4 1587.2h3.4M1007.0 1587.2h6.7M1037.4 1587.2h3.4M966.5 1591.2h3.4M976.7 1591.2h3.4M1000.3 1591.2h3.4M1047.5 1591.2h3.4M986.8 1595.2h3.4M1000.3 1595.2h6.7M1020.5 1595.2h3.4M1030.6 1595.2h3.4M1057.6 1595.2h3.4M996.9 1599.2h6.7M1027.3 1599.2h3.4M1007.0 1603.2h3.4M1040.8 1603.2h3.4M1054.3 1603.2h3.4M969.9 1607.2h3.4M990.2 1607.2h3.4M996.9 1607.2h3.4M1027.3 1607.2h3.4M1007.0 1611.2h3.4M1037.4 1611.2h3.4M1047.5 1611.2h6.7M986.8 1615.2h3.4M1007.0 1615.2h3.4M1013.8 1615.2h3.4M969.9 1619.2h6.7M980.0 1619.2h3.4M1007.0 1619.2h3.4M1044.1 1619.2h3.4M1057.6 1619.2h3.4M956.4 1623.2h3.4M976.7 1623.2h13.5M996.9 1627.2h3.4M1007.0 1627.2h3.4M1000.3 1631.2h6.7M1010.4 1631.2h3.4M1037.4 1631.2h3.4M946.3 1635.2h3.4M959.8 1635.2h3.4M990.2 1635.2h10.1M1023.9 1635.2h3.4M1037.4 1635.2h3.4M1044.1 1635.2h3.4M983.4 1639.2h3.4M996.9 1639.2h3.4M1007.0 1639.2h3.4M956.4 1643.2h3.4M976.7 1643.2h3.4M1000.3 1643.2h6.7M1030.6 1643.2h3.4M966.5 1647.2h6.7M996.9 1647.2h3.4M1017.1 1647.2h3.4M959.8 1651.2h3.4M1023.9 1651.2h3.4M1030.6 1651.2h3.4M1037.4 1651.2h3.4M1054.3 1651.2h3.4M956.4 1655.2h3.4M976.7 1655.2h3.4M1013.8 1655.2h3.4M953.0 1659.2h3.4M1027.3 1659.2h3.4M1054.3 1659.2h6.7M983.4 1663.2h3.4M1037.4 1663.2h3.4M973.3 1667.2h3.4M996.9 1667.2h3.4M1007.0 1667.2h3.4M1020.5 1667.2h3.4M949.7 1671.1h3.4M1007.0 1671.1h3.4M1030.6 1671.1h3.4M996.9 1675.1h3.4M1007.0 1675.1h3.4M963.2 1679.1h3.4M996.9 1679.1h3.4M1027.3 1679.1h3.4M966.5 1683.1h3.4M986.8 1683.1h3.4M1047.5 1683.1h3.4M959.8 1687.1h3.4M1000.3 1687.1h3.4M946.3 1691.1h3.4M953.0 1691.1h3.4M990.2 1691.1h3.4M996.9 1695.1h3.4M953.0 1699.1h3.4M976.7 1699.1h3.4M986.8 1699.1h3.4M996.9 1699.1h3.4M1007.0 1699.1h3.4M1044.1 1699.1h3.4M996.9 1703.1h3.4M1007.0 1703.1h3.4M1054.3 1703.1h3.4M963.2 1707.1h3.4M986.8 1707.1h3.4M1000.3 1707.1h6.7M1034.0 1707.1h6.7M983.4 1711.1h3.4M996.9 1711.1h3.4M1027.3 1711.1h3.4M949.7 1715.1h3.4M963.2 1715.1h6.7M996.9 1715.1h3.4M1007.0 1715.1h3.4M1013.8 1715.1h3.4M1020.5 1715.1h3.4M1034.0 1715.1h3.4M1054.3 1715.1h3.4M986.8 1719.1h3.4M996.9 1719.1h3.4M1007.0 1719.1h3.4M963.2 1723.1h3.4M983.4 1723.1h6.7M996.9 1723.1h3.4M1047.5 1723.1h3.4M969.9 1727.1h3.4M986.8 1727.1h3.4M996.9 1727.1h3.4M1007.0 1727.1h3.4M1013.8 1727.1h3.4M1027.3 1727.1h3.4M1040.8 1727.1h3.4M966.5 1731.1h3.4M1003.6 1731.1h3.4M1017.1 1731.1h6.7M1030.6 1731.1h3.4M1044.1 1731.1h3.4M976.7 1735.1h6.7M996.9 1735.1h3.4M1007.0 1735.1h3.4M1013.8 1735.1h3.4M996.9 1739.1h3.4M1007.0 1739.1h3.4M949.7 1743.1h3.4M1003.6 1743.1h3.4M1047.5 1743.1h3.4M953.0 1747.1h3.4M959.8 1747.1h3.4M973.3 1747.1h3.4M990.2 1747.1h16.9M1034.0 1747.1h3.4M969.9 1751.0h3.4M983.4 1751.0h3.4M990.2 1751.0h3.4M1013.8 1751.0h3.4M1020.5 1751.0h3.4M953.0 1755.0h3.4M993.5 1755.0h3.4M1007.0 1755.0h3.4M946.3 1759.0h3.4M963.2 1759.0h3.4M1007.0 1759.0h3.4M956.4 1763.0h3.4M986.8 1763.0h3.4M1044.1 1763.0h6.7M1057.6 1763.0h3.4M1003.6 1767.0h3.4M953.0 1771.0h3.4M996.9 1771.0h3.4M1007.0 1771.0h3.4M963.2 1775.0h3.4M976.7 1775.0h3.4M1000.3 1775.0h10.1M1017.1 1775.0h6.7M956.4 1779.0h6.7M966.5 1779.0h3.4M1007.0 1779.0h3.4M1013.8 1779.0h3.4M1000.3 1783.0h6.7M1040.8 1783.0h3.4M1050.9 1783.0h3.4M1003.6 1787.0h3.4M1020.5 1787.0h3.4M1030.6 1787.0h3.4M946.3 1791.0h3.4M963.2 1791.0h3.4M993.5 1791.0h3.4M1013.8 1791.0h3.4M1057.6 1791.0h3.4" stroke="#fee0d2" stroke-width="4.00"/>
<path d="M996.9 1383.5h3.4M1000.3 1391.5h6.7M1003.6 1395.5h3.4M1000.3 1399.5h6.7M1003.6 1407.5h3.4M1000.3 1419.4h3.4M1003.6 1435.4h3.4M1003.6 1439.4h3.4M1000.3 1443.4h6.7M1003.6 1451.4h3.4M1003.6 1455.4h3.4M1003.6 1459.4h3.4M996.9 1463.4h3.4M1000.3 1471.4h3.4M1000.3 1515.3h3.4M1000.3 1527.3h3.4M1000.3 1539.3h3.4M1003.6 1543.3h3.4M1003.6 1567.3h3.4M1000.3 1575.3h3.4M1003.6 1587.2h3.4M1003.6 1599.2h3.4M1003.6 1611.2h3.4M1000.3 1619.2h6.7M1007.0 1635.2h3.4M1000.3 1647.2h3.4M1003.6 1659.2h3.4M1003.6 1663.2h3.4M1000.3 1683.1h3.4M1003.6 1691.1h3.4M1000.3 1723.1h3.4M1000.3 1731.1h3.4M1000.3 1743.1h3.4M1003.6 1751.0h3.4M1003.6 1755.0h3.4M1000.3 1763.0h3.4M1000.3 1787.0h3.4" stroke="#fdc7b1" stroke-width="4.00"/>
<path d="M1000.3 1407.5h3.4M1000.3 1435.4h3.4M1003.6 1447.4h3.4M1000.3 1451.4h3.4M1000.3 1455.4h3.4M1000.3 1463.4h3.4M1003.6 1471.4h3.4M1003.6 1491.4h3.4M1000.3 1495.4h6.7M1000.3 1503.3h6.7M1003.6 1515.3h3.4M1003.6 1539.3h3.4M1000.3 1555.3h3.4M1000.3 1563.3h6.7M1000.3 1571.3h6.7M1000.3 1583.2h3.4M1000.3 1587.2h3.4M1000.3 1607.2h6.7M1003.6 1623.2h3.4M1003.6 1647.2h3.4M1000.3 1651.2h6.7M1000.3 1659.2h3.4M1000.3 1671.1h3.4M1000.3 1679.1h6.7M1000.3 1727.1h3.4M1000.3 1751.0h3.4M1000.3 1755.0h3.4M1003.6 1763.0h3.4M1000.3 1771.0h6.7" stroke="#fcad91" stroke-width="4.00"/>
<path d="M1000.3 1383.5h3.4M1000.3 1387.5h3.4M1000.3 1395.5h3.4M1003.6 1423.4h3.4M1003.6 1463.4h3.4M1000.3 1491.4h3.4M1000.3 1547.3h6.7M1003.6 1551.3h3.4M1003.6 1583.2h3.4M1000.3 1603.2h6.7M1000.3 1611.2h3.4M1000.3 1615.2h3.4M1000.3 1623.2h3.4M1000.3 1627.2h3.4M1000.3 1639.2h3.4M1003.6 1655.2h3.4M1000.3 1663.2h3.4M1000.3 1667.2h3.4M1003.6 1671.1h3.4M1003.6 1683.1h3.4M1003.6 1695.1h3.4M1000.3 1699.1h6.7M1000.3 1703.1h6.7M1000.3 1711.1h3.4M1003.6 1723.1h3.4M1000.3 1735.1h3.4M1000.3 1739.1h3.4M1003.6 1759.0h3.4M1003.6 1779.0h3.4" stroke="#fc9272" stroke-width="4.00"/>
<path d="M1037.4 1375.5h3.4M1010.4 1379.5h3.4M1003.6 1383.5h3.4M1013.8 1395.5h6.7M1000.3 1411.5h3.4M1000.3 1415.5h6.7M1003.6 1419.4h3.4M973.3 1435.4h3.4M1003.6 1467.4h3.4M1000.3 1483.4h6.7M1034.0 1487.4h3.4M1000.3 1523.3h3.4M1000.3 1551.3h3.4M1003.6 1555.3h3.4M1000.3 1635.2h6.7M963.2 1639.2h3.4M1003.6 1639.2h3.4M1010.4 1659.2h3.4M1000.3 1691.1h3.4M1000.3 1695.1h3.4M949.7 1707.1h3.4M1003.6 1711.1h3.4M1003.6 1719.1h3.4M949.7 1755.0h3.4M1000.3 1759.0h3.4M1000.3 1779.0h3.4M1000.3 1791.0h6.7" stroke="#fb7757" stroke-width="4.00"/>
<path d="M1034.0 1375.5h3.4M1003.6 1379.5h3.4M1034.0 1383.5h3.4M1003.6 1387.5h3.4M1007.0 1395.5h3.4M983.4 1403.5h3.4M990.2 1403.5h3.4M949.7 1407.5h3.4M956.4 1423.4h3.4M983.4 1435.4h3.4M959.8 1467.4h3.4M1000.3 1467.4h3.4M1003.6 1523.3h3.4M946.3 1543.3h3.4M976.7 1563.3h3.4M966.5 1603.2h3.4M1003.6 1615.2h3.4M1003.6 1627.2h3.4M1003.6 1667.2h3.4M1003.6 1675.1h3.4M1017.1 1683.1h3.4M1003.6 1715.1h3.4M959.8 1719.1h3.4M1003.6 1727.1h3.4M973.3 1779.0h3.4" stroke="#f75a40" stroke-width="4.00"/>
<path d="M1007.0 1379.5h3.4M1020.5 1379.5h3.4M1027.3 1379.5h3.4M1007.0 1383.5h3.4M1030.6 1383.5h3.4M1037.4 1383.5h3.4M1010.4 1395.5h3.4M1034.0 1395.5h3.4M986.8 1403.5h3.4M1003.6 1411.5h3.4M969.9 1415.5h3.4M1000.3 1423.4h3.4M976.7 1435.4h6.7M993.5 1439.4h3.4M959.8 1451.4h6.7M963.2 1467.4h6.7M1000.3 1559.3h6.7M973.3 1563.3h3.4M969.9 1603.2h3.4M1057.6 1643.2h3.4M1000.3 1675.1h3.4M1047.5 1715.1h3.4M956.4 1719.1h3.4M1000.3 1719.1h3.4M1003.6 1735.1h3.4M1003.6 1739.1h3.4M980.0 1755.0h3.4M976.7 1779.0h3.4" stroke="#ef3b2c" stroke-width="4.00"/>
<path d="M993.5 1375.5h3.4M1017.1 1379.5h3.4M1037.4 1411.5h13.5M1044.1 1427.4h3.4M1050.9 1427.4h3.4M996.9 1439.4h3.4M986.8 1479.4h3.4M1044.1 1483.4h6.7M1034.0 1543.3h3.4M1027.3 1559.3h6.7M1000.3 1655.2h3.4M1000.3 1715.1h3.4M1050.9 1715.1h3.4" stroke="#d72422" stroke-width="4.00"/>
<path d="M1013.8 1375.5h3.4M986.8 1379.5h3.4M1000.3 1379.5h3.4M1023.9 1379.5h3.4M1030.6 1387.5h3.4M1030.6 1391.5h3.4M1034.0 1411.5h3.4M1047.5 1427.4h3.4M1054.3 1427.4h3.4M986.8 1439.4h6.7M963.2 1443.4h3.4M969.9 1443.4h6.7M1040.8 1451.4h3.4M983.4 1479.4h3.4M1027.3 1515.3h3.4M959.8 1531.3h3.4" stroke="#be151a" stroke-width="4.00"/>
<path d="M963.2 1375.5h3.4M973.3 1375.5h3.4M996.9 1375.5h3.4M1010.4 1375.5h3.4M1044.1 1375.5h3.4M1050.9 1379.5h3.4M946.3 1383.5h6.7M959.8 1383.5h3.4M959.8 1387.5h3.4M1034.0 1387.5h3.4M959.8 1391.5h6.7M1027.3 1391.5h3.4M1034.0 1391.5h3.4M949.7 1395.5h3.4M963.2 1395.5h10.1M959.8 1399.5h6.7M969.9 1399.5h3.4M1013.8 1399.5h6.7M963.2 1403.5h10.1M1040.8 1403.5h6.7M966.5 1407.5h6.7M1044.1 1407.5h3.4M1017.1 1411.5h3.4M1030.6 1411.5h3.4M976.7 1423.4h3.4M949.7 1427.4h3.4M963.2 1435.4h3.4M966.5 1443.4h3.4M1044.1 1451.4h3.4M1013.8 1559.3h3.4M1030.6 1583.2h3.4" stroke="#a50f15" stroke-width="4.00"/>
<path d="M949.7 1375.5h13.5M966.5 1375.5h6.7M976.7 1375.5h3.4M1000.3 1375.5h10.1M1023.9 1375.5h3.4M1040.8 1375.5h3.4M1047.5 1375.5h13.5M990.2 1379.5h10.1M1044.1 1379.5h6.7M1054.3 1379.5h6.7M953.0 1383.5h6.7M946.3 1387.5h13.5M963.2 1387.5h3.4M1037.4 1387.5h3.4M953.0 1391.5h6.7M966.5 1391.5h3.4M1017.1 1391.5h10.1M946.3 1395.5h3.4M956.4 1395.5h6.7M973.3 1395.5h3.4M966.5 1399.5h3.4M973.3 1399.5h6.7M1010.4 1399.5h3.4M1020.5 1399.5h6.7M959.8 1403.5h3.4M973.3 1403.5h10.1M1037.4 1403.5h3.4M1047.5 1403.5h3.4M963.2 1407.5h3.4M973.3 1407.5h6.7M1047.5 1407.5h3.4M966.5 1411.5h3.4M1013.8 1411.5h3.4M1020.5 1411.5h10.1M949.7 1415.5h20.2M973.3 1423.4h3.4M980.0 1423.4h3.4M953.0 1427.4h3.4M956.4 1435.4h6.7M966.5 1435.4h3.4M1027.3 1443.4h16.9M1037.4 1451.4h3.4M963.2 1531.3h3.4" stroke="#7c0510" stroke-width="4.00"/>
<rect x="946.3" y="1373.5" width="114.7" height="419.5" fill="none" stroke="#000" stroke-width="2.6"/>
<rect x="1068.3" y="1373.5" width="114.3" height="419.5" fill="#ffeee6"/>
<path d="M1078.4 1379.5h3.4M1098.6 1379.5h3.4M1095.2 1383.5h3.4M1101.9 1383.5h3.4M1179.2 1383.5h3.4M1112.0 1387.5h10.1M1128.8 1387.5h3.4M1138.9 1387.5h3.4M1172.5 1387.5h3.4M1071.7 1391.5h3.4M1179.2 1391.5h3.4M1101.9 1395.5h3.4M1115.4 1395.5h3.4M1162.4 1395.5h3.4M1165.8 1399.5h3.4M1078.4 1403.5h3.4M1132.2 1403.5h3.4M1108.6 1407.5h3.4M1118.7 1407.5h3.4M1138.9 1407.5h3.4M1145.6 1407.5h6.7M1085.1 1411.5h3.4M1118.7 1411.5h3.4M1175.9 1411.5h3.4M1108.6 1415.5h3.4M1118.7 1415.5h3.4M1128.8 1415.5h6.7M1149.0 1415.5h3.4M1091.8 1419.4h3.4M1112.0 1419.4h3.4M1118.7 1419.4h3.4M1128.8 1419.4h3.4M1155.7 1419.4h3.4M1179.2 1419.4h3.4M1118.7 1423.4h3.4M1128.8 1423.4h3.4M1135.5 1423.4h6.7M1162.4 1423.4h3.4M1078.4 1427.4h3.4M1101.9 1431.4h3.4M1135.5 1431.4h3.4M1128.8 1435.4h3.4M1088.5 1447.4h3.4M1105.3 1447.4h3.4M1118.7 1447.4h3.4M1128.8 1447.4h3.4M1152.3 1447.4h3.4M1162.4 1447.4h3.4M1175.9 1447.4h3.4M1105.3 1451.4h3.4M1112.0 1451.4h3.4M1118.7 1451.4h3.4M1149.0 1451.4h3.4M1118.7 1455.4h3.4M1128.8 1455.4h3.4M1085.1 1459.4h3.4M1128.8 1459.4h3.4M1152.3 1459.4h6.7M1068.3 1463.4h3.4M1091.8 1463.4h3.4M1118.7 1463.4h3.4M1128.8 1463.4h3.4M1128.8 1467.4h3.4M1105.3 1471.4h3.4M1118.7 1471.4h3.4M1128.8 1471.4h3.4M1179.2 1471.4h3.4M1085.1 1475.4h3.4M1118.7 1475.4h6.7M1149.0 1475.4h3.4M1159.1 1475.4h3.4M1088.5 1479.4h3.4M1095.2 1479.4h3.4M1112.0 1479.4h3.4M1128.8 1479.4h3.4M1138.9 1479.4h6.7M1149.0 1479.4h3.4M1101.9 1483.4h3.4M1118.7 1483.4h3.4M1128.8 1483.4h3.4M1075.0 1487.4h3.4M1101.9 1487.4h3.4M1118.7 1487.4h3.4M1142.3 1487.4h3.4M1165.8 1487.4h3.4M1179.2 1487.4h3.4M1095.2 1491.4h3.4M1118.7 1491.4h3.4M1132.2 1491.4h3.4M1118.7 1495.4h3.4M1162.4 1495.4h3.4M1075.0 1499.3h3.4M1095.2 1499.3h3.4M1101.9 1499.3h3.4M1118.7 1499.3h3.4M1128.8 1499.3h3.4M1142.3 1499.3h3.4M1169.2 1499.3h3.4M1081.7 1503.3h3.4M1108.6 1503.3h3.4M1142.3 1503.3h3.4M1179.2 1503.3h3.4M1128.8 1507.3h3.4M1172.5 1507.3h3.4M1075.0 1511.3h6.7M1101.9 1511.3h3.4M1118.7 1511.3h3.4M1128.8 1511.3h3.4M1138.9 1511.3h3.4M1152.3 1511.3h3.4M1085.1 1515.3h3.4M1169.2 1515.3h3.4M1078.4 1519.3h6.7M1118.7 1519.3h3.4M1135.5 1519.3h3.4M1085.1 1523.3h3.4M1098.6 1523.3h3.4M1108.6 1523.3h3.4M1115.4 1523.3h6.7M1128.8 1523.3h3.4M1071.7 1527.3h3.4M1085.1 1527.3h6.7M1115.4 1531.3h3.4M1125.4 1535.3h6.7M1142.3 1535.3h3.4M1179.2 1535.3h3.4M1071.7 1539.3h3.4M1118.7 1539.3h3.4M1155.7 1539.3h3.4M1078.4 1543.3h3.4M1091.8 1543.3h3.4M1118.7 1543.3h3.4M1175.9 1543.3h3.4M1155.7 1547.3h3.4M1088.5 1551.3h3.4M1101.9 1551.3h3.4M1115.4 1551.3h3.4M1128.8 1551.3h6.7M1149.0 1551.3h3.4M1179.2 1551.3h3.4M1108.6 1555.3h3.4M1118.7 1555.3h3.4M1128.8 1555.3h3.4M1142.3 1555.3h3.4M1155.7 1555.3h3.4M1078.4 1559.3h10.1M1118.7 1559.3h3.4M1128.8 1559.3h6.7M1071.7 1563.3h3.4M1118.7 1563.3h3.4M1128.8 1563.3h6.7M1169.2 1563.3h3.4M1095.2 1567.3h3.4M1159.1 1567.3h3.4M1075.0 1571.3h3.4M1115.4 1571.3h6.7M1128.8 1571.3h3.4M1152.3 1571.3h3.4M1172.5 1571.3h3.4M1105.3 1575.3h3.4M1142.3 1575.3h3.4M1172.5 1575.3h3.4M1118.7 1579.3h3.4M1165.8 1579.3h3.4M1085.1 1583.2h3.4M1108.6 1583.2h3.4M1118.7 1583.2h3.4M1128.8 1583.2h3.4M1135.5 1583.2h3.4M1075.0 1587.2h3.4M1118.7 1587.2h3.4M1138.9 1587.2h3.4M1172.5 1587.2h3.4M1118.7 1591.2h3.4M1132.2 1591.2h3.4M1075.0 1595.2h3.4M1091.8 1595.2h3.4M1152.3 1595.2h3.4M1075.0 1599.2h3.4M1088.5 1599.2h3.4M1128.8 1599.2h3.4M1135.5 1599.2h3.4M1152.3 1599.2h3.4M1169.2 1599.2h3.4M1128.8 1603.2h3.4M1138.9 1603.2h3.4M1152.3 1603.2h3.4M1091.8 1607.2h3.4M1112.0 1607.2h3.4M1118.7 1607.2h3.4M1152.3 1607.2h3.4M1105.3 1611.2h3.4M1118.7 1611.2h3.4M1128.8 1611.2h3.4M1175.9 1611.2h3.4M1118.7 1615.2h3.4M1128.8 1615.2h6.7M1145.6 1615.2h3.4M1175.9 1615.2h3.4M1075.0 1619.2h3.4M1088.5 1619.2h6.7M1118.7 1619.2h3.4M1128.8 1619.2h3.4M1142.3 1619.2h3.4M1075.0 1623.2h3.4M1118.7 1623.2h3.4M1078.4 1627.2h3.4M1095.2 1627.2h6.7M1105.3 1627.2h3.4M1128.8 1627.2h3.4M1175.9 1627.2h6.7M1078.4 1631.2h3.4M1118.7 1631.2h3.4M1132.2 1631.2h3.4M1138.9 1631.2h3.4M1152.3 1631.2h3.4M1112.0 1635.2h3.4M1118.7 1635.2h3.4M1088.5 1639.2h3.4M1112.0 1639.2h3.4M1118.7 1639.2h3.4M1128.8 1639.2h3.4M1159.1 1639.2h3.4M1078.4 1643.2h3.4M1112.0 1643.2h3.4M1118.7 1643.2h3.4M1128.8 1643.2h3.4M1105.3 1647.2h3.4M1115.4 1647.2h3.4M1128.8 1647.2h3.4M1135.5 1647.2h3.4M1142.3 1647.2h3.4M1078.4 1651.2h3.4M1105.3 1651.2h3.4M1118.7 1651.2h3.4M1128.8 1651.2h3.4M1169.2 1651.2h3.4M1081.7 1655.2h3.4M1088.5 1655.2h3.4M1118.7 1655.2h3.4M1128.8 1655.2h3.4M1078.4 1659.2h3.4M1118.7 1659.2h3.4M1128.8 1659.2h3.4M1162.4 1659.2h3.4M1118.7 1663.2h3.4M1128.8 1663.2h3.4M1101.9 1667.2h6.7M1128.8 1667.2h3.4M1169.2 1667.2h6.7M1088.5 1671.1h3.4M1128.8 1671.1h3.4M1135.5 1671.1h6.7M1112.0 1675.1h3.4M1118.7 1675.1h3.4M1091.8 1679.1h6.7M1101.9 1679.1h3.4M1108.6 1679.1h3.4M1135.5 1679.1h3.4M1145.6 1679.1h3.4M1155.7 1679.1h3.4M1179.2 1679.1h3.4M1101.9 1683.1h3.4M1108.6 1683.1h3.4M1118.7 1683.1h3.4M1128.8 1683.1h6.7M1071.7 1687.1h6.7M1115.4 1687.1h3.4M1128.8 1691.1h3.4M1169.2 1691.1h3.4M1128.8 1695.1h3.4M1142.3 1695.1h3.4M1105.3 1699.1h6.7M1128.8 1699.1h3.4M1138.9 1699.1h3.4M1162.4 1699.1h3.4M1112.0 1703.1h3.4M1128.8 1703.1h3.4M1081.7 1707.1h3.4M1115.4 1707.1h3.4M1135.5 1707.1h3.4M1142.3 1707.1h3.4M1075.0 1711.1h3.4M1105.3 1711.1h3.4M1118.7 1711.1h3.4M1159.1 1711.1h3.4M1081.7 1715.1h10.1M1105.3 1715.1h6.7M1155.7 1715.1h3.4M1165.8 1715.1h3.4M1175.9 1715.1h3.4M1068.3 1719.1h3.4M1149.0 1719.1h3.4M1078.4 1723.1h3.4M1105.3 1723.1h3.4M1128.8 1723.1h3.4M1145.6 1723.1h3.4M1179.2 1723.1h3.4M1118.7 1727.1h3.4M1128.8 1727.1h3.4M1159.1 1727.1h3.4M1088.5 1731.1h3.4M1128.8 1731.1h3.4M1145.6 1731.1h3.4M1159.1 1731.1h3.4M1165.8 1731.1h3.4M1068.3 1735.1h3.4M1095.2 1735.1h3.4M1118.7 1735.1h3.4M1128.8 1735.1h3.4M1169.2 1735.1h3.4M1118.7 1739.1h3.4M1128.8 1739.1h3.4M1179.2 1739.1h3.4M1085.1 1743.1h3.4M1098.6 1743.1h3.4M1118.7 1747.1h3.4M1075.0 1751.0h3.4M1081.7 1751.0h3.4M1095.2 1751.0h3.4M1128.8 1751.0h6.7M1145.6 1751.0h3.4M1155.7 1751.0h6.7M1118.7 1755.0h3.4M1128.8 1755.0h3.4M1145.6 1755.0h3.4M1179.2 1755.0h3.4M1101.9 1759.0h3.4M1118.7 1759.0h3.4M1128.8 1759.0h3.4M1135.5 1759.0h6.7M1149.0 1759.0h6.7M1088.5 1763.0h3.4M1098.6 1763.0h3.4M1115.4 1763.0h6.7M1128.8 1763.0h3.4M1162.4 1763.0h3.4M1169.2 1763.0h3.4M1075.0 1767.0h3.4M1098.6 1767.0h3.4M1112.0 1767.0h3.4M1118.7 1767.0h3.4M1125.4 1767.0h6.7M1155.7 1767.0h3.4M1179.2 1767.0h3.4M1078.4 1771.0h3.4M1105.3 1771.0h3.4M1112.0 1771.0h3.4M1118.7 1771.0h3.4M1138.9 1771.0h3.4M1128.8 1775.0h3.4M1152.3 1775.0h3.4M1172.5 1775.0h3.4M1078.4 1779.0h3.4M1115.4 1779.0h6.7M1132.2 1779.0h3.4M1172.5 1779.0h3.4M1081.7 1783.0h6.7M1138.9 1783.0h3.4M1162.4 1783.0h3.4M1075.0 1787.0h3.4M1081.7 1787.0h3.4M1118.7 1787.0h3.4M1138.9 1787.0h3.4M1169.2 1787.0h3.4M1118.7 1791.0h3.4M1128.8 1791.0h3.4M1162.4 1791.0h3.4" stroke="#fee0d2" stroke-width="4.00"/>
<path d="M1118.7 1383.5h3.4M1125.4 1403.5h3.4M1128.8 1411.5h3.4M1128.8 1451.4h3.4M1118.7 1467.4h3.4M1125.4 1475.4h3.4M1122.1 1487.4h3.4M1128.8 1495.4h3.4M1118.7 1503.3h3.4M1128.8 1503.3h3.4M1122.1 1507.3h3.4M1122.1 1511.3h3.4M1122.1 1519.3h6.7M1125.4 1527.3h3.4M1128.8 1539.3h3.4M1128.8 1547.3h3.4M1125.4 1579.3h3.4M1125.4 1599.2h3.4M1128.8 1623.2h3.4M1118.7 1627.2h3.4M1128.8 1635.2h3.4M1125.4 1643.2h3.4M1118.7 1667.2h3.4M1118.7 1671.1h3.4M1128.8 1675.1h3.4M1118.7 1691.1h3.4M1128.8 1711.1h3.4M1118.7 1715.1h3.4M1128.8 1715.1h3.4M1118.7 1719.1h3.4M1128.8 1719.1h3.4M1125.4 1747.1h3.4M1122.1 1767.0h3.4M1128.8 1771.0h3.4M1128.8 1779.0h3.4" stroke="#fdc7b1" stroke-width="4.00"/>
<path d="M1125.4 1399.5h3.4M1122.1 1403.5h3.4M1122.1 1407.5h3.4M1125.4 1427.4h3.4M1122.1 1431.4h6.7M1122.1 1439.4h3.4M1122.1 1459.4h6.7M1122.1 1479.4h3.4M1125.4 1487.4h3.4M1125.4 1507.3h3.4M1125.4 1511.3h3.4M1125.4 1515.3h3.4M1122.1 1527.3h3.4M1125.4 1531.3h3.4M1122.1 1535.3h3.4M1122.1 1543.3h6.7M1122.1 1567.3h3.4M1122.1 1575.3h3.4M1122.1 1579.3h3.4M1122.1 1619.2h6.7M1122.1 1631.2h6.7M1122.1 1643.2h3.4M1122.1 1687.1h3.4M1122.1 1731.1h3.4M1125.4 1743.1h3.4M1122.1 1747.1h3.4M1122.1 1751.0h3.4M1122.1 1775.0h6.7M1125.4 1787.0h3.4" stroke="#fcad91" stroke-width="4.00"/>
<path d="M1155.7 1375.5h3.4M1125.4 1407.5h3.4M1122.1 1427.4h3.4M1125.4 1439.4h3.4M1122.1 1443.4h6.7M1125.4 1447.4h3.4M1122.1 1451.4h3.4M1125.4 1471.4h3.4M1125.4 1479.4h3.4M1122.1 1491.4h3.4M1125.4 1495.4h3.4M1125.4 1499.3h3.4M1122.1 1531.3h3.4M1125.4 1547.3h3.4M1125.4 1567.3h3.4M1122.1 1571.3h3.4M1125.4 1575.3h3.4M1122.1 1583.2h3.4M1122.1 1591.2h6.7M1125.4 1595.2h3.4M1122.1 1599.2h3.4M1122.1 1611.2h6.7M1125.4 1647.2h3.4M1122.1 1659.2h6.7M1125.4 1687.1h3.4M1071.7 1707.1h3.4M1125.4 1731.1h3.4M1122.1 1743.1h3.4M1125.4 1751.0h3.4M1125.4 1755.0h3.4M1122.1 1763.0h6.7M1122.1 1783.0h6.7M1122.1 1787.0h3.4" stroke="#fc9272" stroke-width="4.00"/>
<path d="M1159.1 1375.5h3.4M1128.8 1379.5h3.4M1122.1 1391.5h6.7M1125.4 1395.5h3.4M1122.1 1399.5h3.4M1078.4 1423.4h3.4M1125.4 1423.4h3.4M1105.3 1435.4h3.4M1122.1 1435.4h6.7M1122.1 1447.4h3.4M1125.4 1451.4h3.4M1122.1 1455.4h3.4M1081.7 1467.4h6.7M1122.1 1471.4h3.4M1122.1 1483.4h3.4M1155.7 1487.4h3.4M1125.4 1491.4h3.4M1122.1 1495.4h3.4M1122.1 1499.3h3.4M1122.1 1515.3h3.4M1125.4 1523.3h3.4M1095.2 1563.3h3.4M1122.1 1563.3h3.4M1122.1 1595.2h3.4M1088.5 1603.2h6.7M1125.4 1603.2h3.4M1122.1 1607.2h6.7M1125.4 1615.2h3.4M1125.4 1623.2h3.4M1125.4 1635.2h3.4M1122.1 1647.2h3.4M1122.1 1651.2h6.7M1132.2 1659.2h3.4M1125.4 1663.2h3.4M1122.1 1679.1h3.4M1125.4 1695.1h3.4M1122.1 1707.1h6.7M1125.4 1715.1h3.4M1081.7 1719.1h3.4M1122.1 1723.1h3.4M1071.7 1755.0h3.4M1122.1 1755.0h3.4M1122.1 1759.0h3.4" stroke="#fb7757" stroke-width="4.00"/>
<path d="M1132.2 1379.5h3.4M1128.8 1383.5h3.4M1152.3 1383.5h3.4M1122.1 1395.5h3.4M1128.8 1395.5h13.4M1155.7 1395.5h3.4M1105.3 1403.5h3.4M1112.0 1403.5h3.4M1071.7 1407.5h3.4M1125.4 1411.5h3.4M1122.1 1419.4h6.7M1095.2 1435.4h10.1M1081.7 1451.4h3.4M1125.4 1463.4h3.4M1125.4 1467.4h3.4M1125.4 1539.3h3.4M1125.4 1551.3h3.4M1149.0 1559.3h3.4M1098.6 1563.3h3.4M1125.4 1583.2h3.4M1125.4 1587.2h3.4M1125.4 1627.2h3.4M1085.1 1639.2h3.4M1122.1 1639.2h3.4M1122.1 1655.2h3.4M1125.4 1667.2h3.4M1122.1 1675.1h3.4M1125.4 1679.1h3.4M1125.4 1683.1h3.4M1138.9 1683.1h3.4M1122.1 1699.1h6.7M1122.1 1715.1h3.4M1169.2 1715.1h6.7M1078.4 1719.1h3.4M1125.4 1723.1h3.4M1122.1 1735.1h3.4M1125.4 1739.1h3.4M1122.1 1771.0h3.4M1095.2 1779.0h6.7M1122.1 1791.0h3.4" stroke="#f75a40" stroke-width="4.00"/>
<path d="M1115.4 1375.5h3.4M1142.3 1379.5h3.4M1149.0 1379.5h3.4M1155.7 1383.5h6.7M1108.6 1403.5h3.4M1162.4 1411.5h6.7M1125.4 1415.5h3.4M1122.1 1423.4h3.4M1165.8 1427.4h3.4M1115.4 1439.4h6.7M1085.1 1451.4h3.4M1125.4 1455.4h3.4M1122.1 1463.4h3.4M1088.5 1467.4h3.4M1108.6 1479.4h3.4M1165.8 1483.4h3.4M1122.1 1503.3h3.4M1149.0 1515.3h3.4M1122.1 1523.3h3.4M1068.3 1543.3h3.4M1155.7 1543.3h3.4M1122.1 1547.3h3.4M1152.3 1559.3h3.4M1125.4 1563.3h3.4M1125.4 1571.3h3.4M1122.1 1587.2h3.4M1122.1 1603.2h3.4M1122.1 1623.2h3.4M1125.4 1655.2h3.4M1122.1 1663.2h3.4M1125.4 1671.1h3.4M1122.1 1703.1h6.7M1122.1 1711.1h3.4M1125.4 1771.0h3.4M1122.1 1779.0h6.7" stroke="#ef3b2c" stroke-width="4.00"/>
<path d="M1125.4 1375.5h3.4M1125.4 1379.5h3.4M1138.9 1379.5h3.4M1122.1 1387.5h6.7M1122.1 1411.5h3.4M1159.1 1411.5h3.4M1169.2 1411.5h3.4M1091.8 1415.5h3.4M1122.1 1415.5h3.4M1169.2 1427.4h10.1M1108.6 1439.4h6.7M1085.1 1443.4h3.4M1091.8 1443.4h6.7M1105.3 1479.4h3.4M1125.4 1483.4h3.4M1169.2 1483.4h3.4M1122.1 1539.3h3.4M1122.1 1551.3h3.4M1122.1 1555.3h6.7M1125.4 1559.3h3.4M1152.3 1583.2h3.4M1122.1 1615.2h3.4M1125.4 1639.2h3.4M1179.2 1643.2h3.4M1122.1 1683.1h3.4M1125.4 1691.1h3.4M1122.1 1695.1h3.4M1125.4 1711.1h3.4M1122.1 1727.1h6.7M1122.1 1739.1h3.4M1101.9 1755.0h3.4M1125.4 1759.0h3.4" stroke="#d72422" stroke-width="4.00"/>
<path d="M1095.2 1375.5h3.4M1118.7 1375.5h6.7M1175.9 1375.5h3.4M1118.7 1379.5h3.4M1145.6 1379.5h3.4M1172.5 1379.5h6.7M1071.7 1383.5h6.7M1125.4 1383.5h3.4M1075.0 1387.5h3.4M1085.1 1387.5h3.4M1155.7 1387.5h3.4M1088.5 1391.5h3.4M1138.9 1391.5h3.4M1145.6 1391.5h10.1M1071.7 1395.5h3.4M1081.7 1395.5h3.4M1088.5 1395.5h10.1M1095.2 1399.5h3.4M1135.5 1399.5h3.4M1081.7 1403.5h3.4M1088.5 1403.5h3.4M1098.6 1403.5h3.4M1169.2 1403.5h3.4M1085.1 1407.5h3.4M1098.6 1407.5h3.4M1165.8 1407.5h3.4M1138.9 1411.5h3.4M1155.7 1411.5h3.4M1075.0 1415.5h3.4M1101.9 1423.4h3.4M1085.1 1435.4h3.4M1088.5 1443.4h3.4M1149.0 1443.4h10.1M1125.4 1503.3h3.4M1085.1 1531.3h3.4M1122.1 1559.3h3.4M1135.5 1559.3h3.4M1122.1 1635.2h3.4M1122.1 1667.2h3.4M1122.1 1671.1h3.4M1125.4 1675.1h3.4M1122.1 1691.1h3.4M1122.1 1719.1h6.7M1125.4 1735.1h3.4M1125.4 1791.0h3.4" stroke="#be151a" stroke-width="4.00"/>
<path d="M1071.7 1375.5h6.7M1085.1 1375.5h6.7M1098.6 1375.5h3.4M1128.8 1375.5h6.7M1169.2 1375.5h6.7M1108.6 1379.5h6.7M1122.1 1379.5h3.4M1165.8 1379.5h3.4M1068.3 1383.5h3.4M1081.7 1383.5h3.4M1122.1 1383.5h3.4M1068.3 1387.5h6.7M1081.7 1387.5h3.4M1075.0 1391.5h3.4M1142.3 1391.5h3.4M1085.1 1395.5h3.4M1081.7 1399.5h6.7M1091.8 1399.5h3.4M1138.9 1399.5h3.4M1085.1 1403.5h3.4M1095.2 1403.5h3.4M1159.1 1403.5h6.7M1088.5 1407.5h10.1M1169.2 1407.5h3.4M1135.5 1411.5h3.4M1145.6 1411.5h3.4M1152.3 1411.5h3.4M1078.4 1415.5h10.1M1095.2 1423.4h6.7M1071.7 1427.4h3.4M1081.7 1435.4h3.4M1088.5 1435.4h3.4M1162.4 1443.4h3.4M1162.4 1451.4h6.7M1122.1 1467.4h3.4M1081.7 1531.3h3.4M1122.1 1627.2h3.4" stroke="#a50f15" stroke-width="4.00"/>
<path d="M1078.4 1375.5h6.7M1091.8 1375.5h3.4M1135.5 1375.5h3.4M1145.6 1375.5h3.4M1162.4 1375.5h6.7M1179.2 1375.5h3.4M1115.4 1379.5h3.4M1169.2 1379.5h3.4M1179.2 1379.5h3.4M1078.4 1383.5h3.4M1078.4 1387.5h3.4M1152.3 1387.5h3.4M1159.1 1387.5h3.4M1078.4 1391.5h10.1M1155.7 1391.5h3.4M1068.3 1395.5h3.4M1078.4 1395.5h3.4M1088.5 1399.5h3.4M1098.6 1399.5h3.4M1132.2 1399.5h3.4M1142.3 1399.5h6.7M1091.8 1403.5h3.4M1101.9 1403.5h3.4M1165.8 1403.5h3.4M1088.5 1411.5h3.4M1142.3 1411.5h3.4M1149.0 1411.5h3.4M1071.7 1415.5h3.4M1088.5 1415.5h3.4M1075.0 1427.4h3.4M1078.4 1435.4h3.4M1159.1 1443.4h3.4M1159.1 1451.4h3.4" stroke="#7c0510" stroke-width="4.00"/>
<rect x="1068.3" y="1373.5" width="114.3" height="419.5" fill="none" stroke="#000" stroke-width="2.6"/>
<rect x="1257.6" y="1373.5" width="113.1" height="419.5" fill="#ffeee6"/>
<path d="M1294.0 1378.7h2.0M1289.9 1380.2h4.0M1334.3 1383.2h2.0M1330.3 1386.2h2.0M1334.3 1386.2h2.0M1291.9 1387.7h4.0M1332.3 1389.2h4.0M1287.9 1390.7h6.1M1332.3 1390.7h2.0M1291.9 1392.2h6.1M1289.9 1395.2h6.1M1332.3 1395.2h2.0M1291.9 1396.7h4.0M1332.3 1396.7h2.0M1287.9 1398.2h2.0M1294.0 1398.2h2.0M1330.3 1398.2h2.0M1291.9 1401.2h6.1M1334.3 1401.2h2.0M1294.0 1402.7h6.1M1332.3 1402.7h2.0M1336.4 1402.7h2.0M1340.4 1402.7h2.0M1287.9 1404.2h2.0M1291.9 1404.2h2.0M1332.3 1404.2h4.0M1294.0 1407.2h4.0M1332.3 1407.2h2.0M1294.0 1408.7h2.0M1332.3 1408.7h4.0M1294.0 1410.2h2.0M1338.4 1410.2h2.0M1291.9 1411.7h4.0M1332.3 1411.7h4.0M1294.0 1413.2h2.0M1332.3 1413.2h2.0M1338.4 1413.2h2.0M1328.3 1414.7h4.0M1334.3 1414.7h2.0M1287.9 1416.2h2.0M1294.0 1416.2h4.0M1328.3 1416.2h4.0M1332.3 1417.7h6.1M1294.0 1419.2h4.0M1332.3 1419.2h2.0M1338.4 1419.2h2.0M1328.3 1420.7h8.1M1330.3 1422.2h6.1M1294.0 1423.7h2.0M1291.9 1425.2h2.0M1296.0 1425.2h2.0M1330.3 1425.2h2.0M1294.0 1426.7h6.1M1289.9 1428.2h2.0M1330.3 1429.7h4.0M1296.0 1432.7h2.0M1330.3 1432.7h2.0M1296.0 1434.2h2.0M1330.3 1434.2h2.0M1338.4 1435.7h2.0M1296.0 1437.2h2.0M1330.3 1437.2h4.0M1298.0 1438.7h2.0M1291.9 1440.2h2.0M1296.0 1440.2h2.0M1328.3 1440.2h4.0M1336.4 1440.2h2.0M1294.0 1441.7h2.0M1330.3 1441.7h4.0M1296.0 1443.2h2.0M1294.0 1444.7h4.0M1330.3 1444.7h2.0M1289.9 1446.2h2.0M1296.0 1446.2h2.0M1328.3 1446.2h2.0M1298.0 1447.7h2.0M1328.3 1447.7h4.0M1296.0 1449.2h4.0M1328.3 1449.2h4.0M1298.0 1450.7h2.0M1330.3 1450.7h2.0M1294.0 1452.2h2.0M1298.0 1452.2h2.0M1326.3 1452.2h6.1M1289.9 1453.7h2.0M1296.0 1453.7h4.0M1328.3 1453.7h2.0M1336.4 1453.7h2.0M1296.0 1455.2h4.0M1296.0 1456.7h4.0M1328.3 1456.7h2.0M1291.9 1458.1h8.1M1328.3 1458.1h4.0M1296.0 1459.6h2.0M1296.0 1461.1h2.0M1296.0 1462.6h4.0M1328.3 1462.6h4.0M1334.3 1462.6h2.0M1296.0 1464.1h2.0M1330.3 1464.1h4.0M1330.3 1465.6h4.0M1336.4 1465.6h2.0M1296.0 1467.1h4.0M1328.3 1467.1h6.1M1294.0 1468.6h6.1M1328.3 1468.6h4.0M1294.0 1470.1h8.1M1330.3 1470.1h2.0M1296.0 1471.6h4.0M1328.3 1471.6h6.1M1296.0 1473.1h4.0M1328.3 1473.1h6.1M1294.0 1474.6h2.0M1298.0 1474.6h2.0M1328.3 1474.6h4.0M1328.3 1476.1h6.1M1296.0 1477.6h4.0M1328.3 1477.6h2.0M1296.0 1479.1h4.0M1326.3 1479.1h8.1M1336.4 1479.1h2.0M1298.0 1480.6h4.0M1328.3 1480.6h4.0M1296.0 1482.1h4.0M1328.3 1482.1h6.1M1336.4 1482.1h2.0M1328.3 1483.6h4.0M1294.0 1485.1h2.0M1298.0 1485.1h2.0M1334.3 1485.1h2.0M1296.0 1486.6h6.1M1326.3 1486.6h6.1M1296.0 1489.6h6.1M1328.3 1489.6h2.0M1326.3 1491.1h4.0M1334.3 1491.1h2.0M1298.0 1492.6h2.0M1328.3 1494.1h4.0M1298.0 1495.6h2.0M1328.3 1495.6h2.0M1296.0 1497.1h6.1M1326.3 1498.6h8.1M1296.0 1500.1h2.0M1326.3 1501.6h4.0M1332.3 1501.6h2.0M1296.0 1503.1h6.1M1332.3 1503.1h2.0M1291.9 1504.6h2.0M1298.0 1504.6h2.0M1328.3 1504.6h4.0M1298.0 1506.1h4.0M1328.3 1506.1h2.0M1296.0 1507.6h4.0M1298.0 1509.1h2.0M1328.3 1509.1h4.0M1296.0 1510.6h2.0M1328.3 1510.6h4.0M1298.0 1512.1h2.0M1328.3 1512.1h2.0M1296.0 1513.6h6.1M1328.3 1513.6h2.0M1296.0 1515.1h6.1M1296.0 1516.6h2.0M1328.3 1516.6h2.0M1298.0 1518.1h4.0M1326.3 1518.1h4.0M1332.3 1518.1h2.0M1296.0 1519.6h6.1M1326.3 1519.6h2.0M1330.3 1519.6h2.0M1291.9 1521.1h2.0M1298.0 1521.1h2.0M1328.3 1521.1h2.0M1289.9 1522.6h2.0M1296.0 1522.6h6.1M1328.3 1522.6h4.0M1296.0 1524.1h6.1M1328.3 1524.1h4.0M1296.0 1525.6h2.0M1300.0 1525.6h2.0M1328.3 1525.6h2.0M1296.0 1527.1h6.1M1326.3 1527.1h6.1M1298.0 1528.6h4.0M1326.3 1528.6h8.1M1298.0 1530.1h4.0M1328.3 1530.1h6.1M1296.0 1531.6h4.0M1330.3 1531.6h2.0M1328.3 1533.1h2.0M1296.0 1534.6h4.0M1326.3 1534.6h4.0M1298.0 1536.1h2.0M1328.3 1536.1h2.0M1298.0 1537.6h2.0M1326.3 1537.6h4.0M1326.3 1539.1h4.0M1332.3 1539.1h2.0M1298.0 1540.6h4.0M1300.0 1542.0h2.0M1324.2 1542.0h8.1M1296.0 1543.5h2.0M1300.0 1543.5h2.0M1324.2 1543.5h2.0M1294.0 1545.0h8.1M1326.3 1545.0h2.0M1300.0 1546.5h2.0M1326.3 1546.5h6.1M1296.0 1548.0h2.0M1300.0 1548.0h2.0M1294.0 1549.5h2.0M1300.0 1549.5h4.0M1326.3 1549.5h2.0M1298.0 1551.0h6.1M1324.2 1551.0h6.1M1300.0 1552.5h2.0M1326.3 1552.5h4.0M1300.0 1554.0h4.0M1300.0 1555.5h2.0M1326.3 1555.5h2.0M1330.3 1555.5h2.0M1298.0 1558.5h4.0M1326.3 1558.5h4.0M1298.0 1560.0h2.0M1326.3 1560.0h4.0M1332.3 1560.0h2.0M1296.0 1561.5h2.0M1326.3 1561.5h2.0M1324.2 1563.0h4.0M1296.0 1564.5h2.0M1300.0 1564.5h2.0M1326.3 1564.5h2.0M1300.0 1566.0h2.0M1326.3 1566.0h2.0M1298.0 1567.5h4.0M1326.3 1567.5h2.0M1300.0 1569.0h2.0M1326.3 1569.0h2.0M1300.0 1570.5h2.0M1324.2 1570.5h4.0M1300.0 1572.0h4.0M1326.3 1572.0h2.0M1302.0 1573.5h2.0M1300.0 1575.0h2.0M1326.3 1575.0h2.0M1300.0 1576.5h2.0M1326.3 1576.5h4.0M1298.0 1578.0h6.1M1324.2 1578.0h2.0M1296.0 1579.5h2.0M1300.0 1581.0h4.0M1324.2 1581.0h4.0M1300.0 1582.5h2.0M1324.2 1582.5h4.0M1300.0 1584.0h2.0M1326.3 1584.0h2.0M1298.0 1585.5h6.1M1326.3 1585.5h2.0M1330.3 1585.5h2.0M1298.0 1587.0h2.0M1326.3 1587.0h4.0M1298.0 1588.5h4.0M1326.3 1588.5h2.0M1326.3 1590.0h2.0M1302.0 1591.5h4.0M1324.2 1591.5h2.0M1300.0 1593.0h4.0M1322.2 1593.0h8.1M1300.0 1594.5h4.0M1326.3 1594.5h2.0M1296.0 1596.0h2.0M1300.0 1596.0h4.0M1330.3 1596.0h2.0M1300.0 1597.5h4.0M1324.2 1597.5h4.0M1302.0 1599.0h2.0M1302.0 1600.5h2.0M1324.2 1600.5h2.0M1300.0 1602.0h2.0M1324.2 1602.0h2.0M1324.2 1603.5h2.0M1302.0 1605.0h2.0M1324.2 1605.0h2.0M1298.0 1606.5h2.0M1302.0 1606.5h4.0M1324.2 1606.5h2.0M1324.2 1608.0h4.0M1324.2 1609.5h4.0M1300.0 1611.0h4.0M1302.0 1612.5h2.0M1302.0 1614.0h2.0M1324.2 1614.0h2.0M1328.3 1614.0h2.0M1300.0 1615.5h6.1M1324.2 1615.5h2.0M1324.2 1617.0h4.0M1302.0 1618.5h2.0M1324.2 1618.5h2.0M1300.0 1620.0h4.0M1324.2 1620.0h2.0M1302.0 1621.5h2.0M1324.2 1621.5h4.0M1298.0 1623.0h2.0M1302.0 1623.0h2.0M1324.2 1623.0h6.1M1304.1 1624.5h2.0M1300.0 1625.9h4.0M1322.2 1625.9h2.0M1326.3 1625.9h2.0M1298.0 1627.4h2.0M1302.0 1627.4h2.0M1324.2 1627.4h2.0M1300.0 1628.9h4.0M1322.2 1628.9h2.0M1328.3 1628.9h2.0M1298.0 1630.4h2.0M1302.0 1630.4h2.0M1324.2 1630.4h2.0M1304.1 1631.9h2.0M1324.2 1631.9h2.0M1302.0 1633.4h2.0M1326.3 1633.4h2.0M1302.0 1634.9h2.0M1322.2 1634.9h6.1M1324.2 1636.4h4.0M1302.0 1637.9h2.0M1322.2 1637.9h6.1M1322.2 1639.4h8.1M1300.0 1642.4h6.1M1302.0 1643.9h4.0M1322.2 1643.9h6.1M1300.0 1645.4h6.1M1322.2 1645.4h2.0M1298.0 1648.4h2.0M1322.2 1648.4h6.1M1302.0 1649.9h2.0M1322.2 1649.9h4.0M1328.3 1649.9h2.0M1302.0 1651.4h2.0M1324.2 1651.4h2.0M1302.0 1652.9h2.0M1302.0 1654.4h2.0M1324.2 1654.4h2.0M1302.0 1655.9h4.0M1302.0 1657.4h2.0M1324.2 1657.4h2.0M1304.1 1658.9h2.0M1322.2 1658.9h2.0M1302.0 1660.4h4.0M1322.2 1660.4h2.0M1328.3 1660.4h2.0M1300.0 1661.9h2.0M1322.2 1661.9h4.0M1302.0 1663.4h4.0M1322.2 1663.4h2.0M1324.2 1664.9h2.0M1304.1 1666.4h2.0M1322.2 1666.4h4.0M1302.0 1667.9h4.0M1322.2 1667.9h2.0M1304.1 1669.4h2.0M1302.0 1670.9h4.0M1324.2 1670.9h2.0M1304.1 1672.4h2.0M1322.2 1672.4h2.0M1326.3 1673.9h2.0M1304.1 1675.4h2.0M1322.2 1675.4h4.0M1302.0 1676.9h4.0M1322.2 1676.9h2.0M1304.1 1678.4h2.0M1322.2 1678.4h4.0M1304.1 1679.9h2.0M1322.2 1679.9h2.0M1304.1 1681.4h2.0M1322.2 1681.4h2.0M1322.2 1682.9h2.0M1322.2 1684.4h2.0M1304.1 1685.9h2.0M1322.2 1685.9h4.0M1304.1 1687.4h2.0M1322.2 1687.4h2.0M1304.1 1688.9h2.0M1322.2 1688.9h4.0M1304.1 1690.4h2.0M1322.2 1690.4h2.0M1300.0 1691.9h2.0M1304.1 1691.9h2.0M1322.2 1691.9h2.0M1304.1 1693.4h2.0M1322.2 1693.4h2.0M1304.1 1694.9h4.0M1320.2 1694.9h4.0M1322.2 1696.4h2.0M1306.1 1697.9h2.0M1320.2 1697.9h4.0M1304.1 1699.4h2.0M1304.1 1700.9h2.0M1320.2 1700.9h6.1M1322.2 1702.4h2.0M1302.0 1703.9h2.0M1322.2 1703.9h2.0M1302.0 1705.4h2.0M1320.2 1705.4h2.0M1306.1 1706.9h2.0M1320.2 1706.9h2.0M1304.1 1708.4h4.0M1320.2 1708.4h4.0M1304.1 1709.8h2.0M1322.2 1709.8h2.0M1306.1 1711.3h2.0M1320.2 1711.3h2.0M1304.1 1712.8h4.0M1320.2 1712.8h2.0M1306.1 1714.3h2.0M1304.1 1715.8h2.0M1320.2 1715.8h4.0M1320.2 1717.3h4.0M1304.1 1718.8h4.0M1320.2 1718.8h4.0M1320.2 1720.3h2.0M1322.2 1721.8h4.0M1304.1 1723.3h2.0M1304.1 1724.8h2.0M1320.2 1726.3h2.0M1324.2 1726.3h2.0M1304.1 1727.8h4.0M1320.2 1727.8h2.0M1306.1 1730.8h2.0M1304.1 1732.3h4.0M1320.2 1733.8h2.0M1304.1 1735.3h4.0M1320.2 1735.3h2.0M1306.1 1736.8h2.0M1320.2 1736.8h4.0M1306.1 1738.3h2.0M1320.2 1738.3h6.1M1306.1 1739.8h2.0M1322.2 1739.8h2.0M1306.1 1741.3h2.0M1320.2 1741.3h2.0M1306.1 1742.8h2.0M1320.2 1742.8h2.0M1306.1 1744.3h2.0M1320.2 1744.3h2.0M1306.1 1745.8h2.0M1320.2 1745.8h2.0M1306.1 1747.3h2.0M1320.2 1747.3h6.1M1306.1 1748.8h2.0M1320.2 1748.8h2.0M1306.1 1750.3h2.0M1320.2 1750.3h2.0M1306.1 1751.8h2.0M1320.2 1751.8h2.0M1306.1 1753.3h2.0M1306.1 1754.8h2.0M1320.2 1754.8h4.0M1306.1 1756.3h2.0M1320.2 1756.3h2.0M1306.1 1757.8h2.0M1320.2 1757.8h2.0M1306.1 1759.3h2.0M1306.1 1760.8h2.0M1320.2 1760.8h2.0M1306.1 1762.3h2.0M1320.2 1762.3h2.0M1304.1 1763.8h4.0M1320.2 1763.8h2.0M1304.1 1765.3h2.0M1320.2 1765.3h2.0M1306.1 1766.8h2.0M1320.2 1766.8h2.0M1306.1 1768.3h2.0M1320.2 1768.3h2.0M1306.1 1769.8h2.0M1320.2 1769.8h2.0M1308.1 1771.3h2.0M1318.2 1771.3h4.0M1308.1 1772.8h2.0M1320.2 1772.8h2.0M1308.1 1774.3h2.0M1318.2 1774.3h4.0M1306.1 1778.8h2.0M1318.2 1780.3h2.0M1322.2 1780.3h2.0M1304.1 1783.3h2.0M1304.1 1784.8h6.1M1308.1 1787.8h2.0M1318.2 1787.8h2.0M1308.1 1789.3h2.0M1318.2 1789.3h2.0M1308.1 1790.8h2.0M1318.2 1790.8h2.0M1306.1 1792.3h4.0" stroke="#fee0d2" stroke-width="1.50"/>
<path d="M1296.0 1378.7h4.0M1294.0 1380.2h2.0M1328.3 1383.2h2.0M1332.3 1383.2h2.0M1294.0 1386.2h4.0M1328.3 1386.2h2.0M1332.3 1386.2h2.0M1296.0 1387.7h4.0M1328.3 1389.2h4.0M1294.0 1390.7h4.0M1330.3 1390.7h2.0M1296.0 1395.2h2.0M1330.3 1395.2h2.0M1296.0 1396.7h4.0M1296.0 1398.2h2.0M1328.3 1398.2h2.0M1296.0 1399.7h4.0M1328.3 1399.7h2.0M1328.3 1401.2h4.0M1296.0 1404.2h4.0M1328.3 1404.2h4.0M1328.3 1405.7h4.0M1328.3 1407.2h4.0M1296.0 1408.7h4.0M1330.3 1408.7h2.0M1296.0 1410.2h2.0M1296.0 1411.7h4.0M1296.0 1413.2h4.0M1328.3 1413.2h4.0M1326.3 1414.7h2.0M1298.0 1416.2h4.0M1326.3 1416.2h2.0M1328.3 1417.7h4.0M1298.0 1419.2h2.0M1328.3 1419.2h4.0M1326.3 1420.7h2.0M1328.3 1422.2h2.0M1296.0 1423.7h2.0M1298.0 1425.2h4.0M1326.3 1425.2h4.0M1300.0 1426.7h2.0M1328.3 1429.7h2.0M1298.0 1432.7h2.0M1328.3 1432.7h2.0M1298.0 1435.7h2.0M1298.0 1437.2h4.0M1326.3 1437.2h4.0M1298.0 1440.2h4.0M1326.3 1440.2h2.0M1296.0 1441.7h4.0M1328.3 1441.7h2.0M1298.0 1443.2h4.0M1326.3 1443.2h6.1M1298.0 1444.7h4.0M1326.3 1444.7h4.0M1298.0 1446.2h4.0M1324.2 1446.2h4.0M1326.3 1447.7h2.0M1300.0 1449.2h2.0M1326.3 1449.2h2.0M1300.0 1450.7h2.0M1326.3 1450.7h4.0M1300.0 1452.2h2.0M1300.0 1453.7h2.0M1326.3 1453.7h2.0M1326.3 1455.2h4.0M1300.0 1456.7h4.0M1326.3 1456.7h2.0M1300.0 1458.1h2.0M1298.0 1459.6h4.0M1326.3 1459.6h2.0M1298.0 1461.1h2.0M1326.3 1461.1h4.0M1300.0 1462.6h2.0M1326.3 1462.6h2.0M1298.0 1464.1h4.0M1328.3 1464.1h2.0M1328.3 1465.6h2.0M1300.0 1467.1h2.0M1326.3 1467.1h2.0M1300.0 1468.6h4.0M1326.3 1468.6h2.0M1326.3 1470.1h4.0M1300.0 1471.6h2.0M1326.3 1471.6h2.0M1300.0 1474.6h4.0M1326.3 1474.6h2.0M1298.0 1476.1h4.0M1326.3 1476.1h2.0M1300.0 1477.6h4.0M1324.2 1477.6h4.0M1300.0 1482.1h2.0M1324.2 1482.1h4.0M1298.0 1483.6h4.0M1300.0 1485.1h2.0M1324.2 1486.6h2.0M1298.0 1488.1h4.0M1324.2 1489.6h4.0M1322.2 1491.1h2.0M1300.0 1492.6h2.0M1298.0 1494.1h4.0M1326.3 1494.1h2.0M1300.0 1495.6h2.0M1326.3 1495.6h2.0M1324.2 1498.6h2.0M1298.0 1500.1h4.0M1326.3 1500.1h2.0M1300.0 1501.6h4.0M1326.3 1503.1h4.0M1300.0 1504.6h2.0M1326.3 1504.6h2.0M1324.2 1506.1h4.0M1300.0 1507.6h6.1M1300.0 1509.1h4.0M1326.3 1509.1h2.0M1298.0 1510.6h4.0M1326.3 1510.6h2.0M1300.0 1512.1h4.0M1324.2 1512.1h4.0M1302.0 1513.6h4.0M1326.3 1513.6h2.0M1302.0 1515.1h2.0M1324.2 1515.1h4.0M1298.0 1516.6h4.0M1326.3 1516.6h2.0M1324.2 1518.1h2.0M1300.0 1521.1h2.0M1324.2 1521.1h4.0M1302.0 1522.6h2.0M1326.3 1522.6h2.0M1298.0 1525.6h2.0M1302.0 1525.6h2.0M1326.3 1525.6h2.0M1324.2 1527.1h2.0M1302.0 1530.1h2.0M1326.3 1530.1h2.0M1300.0 1531.6h4.0M1326.3 1531.6h2.0M1326.3 1533.1h2.0M1300.0 1534.6h4.0M1324.2 1534.6h2.0M1300.0 1536.1h4.0M1324.2 1536.1h4.0M1300.0 1537.6h2.0M1324.2 1537.6h2.0M1324.2 1540.6h4.0M1302.0 1542.0h2.0M1302.0 1543.5h2.0M1322.2 1543.5h2.0M1326.3 1543.5h2.0M1302.0 1545.0h2.0M1324.2 1545.0h2.0M1302.0 1546.5h2.0M1302.0 1548.0h2.0M1304.1 1549.5h2.0M1322.2 1549.5h4.0M1322.2 1551.0h2.0M1324.2 1552.5h2.0M1302.0 1555.5h2.0M1324.2 1555.5h2.0M1324.2 1557.0h4.0M1302.0 1558.5h2.0M1324.2 1558.5h2.0M1300.0 1560.0h4.0M1324.2 1561.5h2.0M1322.2 1563.0h2.0M1302.0 1564.5h2.0M1324.2 1564.5h2.0M1302.0 1566.0h4.0M1324.2 1566.0h2.0M1302.0 1567.5h2.0M1324.2 1567.5h2.0M1302.0 1569.0h2.0M1324.2 1569.0h2.0M1302.0 1570.5h4.0M1322.2 1570.5h2.0M1304.1 1572.0h2.0M1322.2 1572.0h4.0M1304.1 1573.5h2.0M1322.2 1573.5h2.0M1302.0 1575.0h2.0M1324.2 1575.0h2.0M1302.0 1576.5h2.0M1324.2 1576.5h2.0M1304.1 1578.0h2.0M1322.2 1578.0h2.0M1302.0 1579.5h2.0M1322.2 1579.5h4.0M1304.1 1581.0h2.0M1322.2 1581.0h2.0M1302.0 1582.5h2.0M1302.0 1584.0h2.0M1324.2 1584.0h2.0M1304.1 1585.5h2.0M1324.2 1585.5h2.0M1300.0 1587.0h4.0M1324.2 1587.0h2.0M1302.0 1588.5h2.0M1324.2 1588.5h2.0M1302.0 1590.0h2.0M1322.2 1590.0h4.0M1322.2 1591.5h2.0M1304.1 1593.0h2.0M1324.2 1594.5h2.0M1324.2 1596.0h2.0M1304.1 1597.5h2.0M1322.2 1597.5h2.0M1322.2 1599.0h4.0M1304.1 1600.5h2.0M1322.2 1600.5h2.0M1302.0 1602.0h4.0M1322.2 1603.5h2.0M1304.1 1605.0h2.0M1322.2 1606.5h2.0M1302.0 1608.0h4.0M1322.2 1608.0h2.0M1322.2 1609.5h2.0M1304.1 1611.0h2.0M1322.2 1611.0h2.0M1306.1 1612.5h2.0M1322.2 1612.5h2.0M1304.1 1614.0h2.0M1322.2 1615.5h2.0M1302.0 1617.0h4.0M1322.2 1618.5h2.0M1304.1 1620.0h2.0M1322.2 1620.0h2.0M1304.1 1621.5h2.0M1322.2 1621.5h2.0M1304.1 1623.0h2.0M1322.2 1623.0h2.0M1306.1 1624.5h2.0M1322.2 1624.5h2.0M1304.1 1625.9h4.0M1304.1 1627.4h2.0M1322.2 1627.4h2.0M1304.1 1628.9h2.0M1320.2 1628.9h2.0M1304.1 1630.4h2.0M1322.2 1630.4h2.0M1322.2 1631.9h2.0M1304.1 1633.4h2.0M1322.2 1633.4h4.0M1304.1 1634.9h4.0M1320.2 1634.9h2.0M1304.1 1636.4h2.0M1322.2 1636.4h2.0M1304.1 1637.9h4.0M1304.1 1640.9h2.0M1322.2 1640.9h2.0M1306.1 1643.9h2.0M1306.1 1645.4h2.0M1304.1 1648.4h2.0M1304.1 1649.9h2.0M1304.1 1651.4h2.0M1322.2 1651.4h2.0M1304.1 1652.9h2.0M1322.2 1652.9h2.0M1304.1 1654.4h2.0M1322.2 1654.4h2.0M1322.2 1657.4h2.0M1306.1 1658.9h2.0M1320.2 1658.9h2.0M1306.1 1660.4h2.0M1320.2 1660.4h2.0M1304.1 1661.9h2.0M1306.1 1663.4h2.0M1304.1 1664.9h4.0M1322.2 1664.9h2.0M1320.2 1666.4h2.0M1306.1 1669.4h2.0M1306.1 1670.9h2.0M1320.2 1670.9h4.0M1306.1 1672.4h2.0M1320.2 1672.4h2.0M1320.2 1676.9h2.0M1320.2 1679.9h2.0M1306.1 1681.4h2.0M1320.2 1681.4h2.0M1320.2 1684.4h2.0M1306.1 1685.9h2.0M1320.2 1685.9h2.0M1306.1 1687.4h2.0M1320.2 1687.4h2.0M1340.4 1688.9h18.2M1306.1 1690.4h2.0M1320.2 1690.4h2.0M1306.1 1691.9h2.0M1320.2 1691.9h2.0M1306.1 1693.4h2.0M1320.2 1693.4h2.0M1320.2 1696.4h2.0M1306.1 1699.4h2.0M1320.2 1699.4h2.0M1306.1 1700.9h2.0M1320.2 1702.4h2.0M1306.1 1703.9h2.0M1320.2 1703.9h2.0M1306.1 1705.4h2.0M1306.1 1709.8h2.0M1320.2 1709.8h2.0M1308.1 1711.3h2.0M1318.2 1712.8h2.0M1320.2 1714.3h2.0M1306.1 1715.8h2.0M1306.1 1717.3h2.0M1306.1 1720.3h2.0M1306.1 1721.8h2.0M1320.2 1721.8h2.0M1320.2 1723.3h2.0M1306.1 1724.8h2.0M1320.2 1724.8h2.0M1306.1 1726.3h2.0M1336.4 1727.8h14.1M1306.1 1729.3h2.0M1320.2 1729.3h2.0M1320.2 1732.3h2.0M1366.7 1732.3h4.0M1306.1 1733.8h2.0M1308.1 1736.8h2.0M1318.2 1738.3h2.0M1320.2 1739.8h2.0M1308.1 1741.3h2.0M1318.2 1741.3h2.0M1308.1 1742.8h2.0M1308.1 1744.3h2.0M1334.3 1744.3h14.1M1308.1 1745.8h2.0M1318.2 1745.8h2.0M1366.7 1745.8h4.0M1308.1 1747.3h2.0M1318.2 1747.3h2.0M1308.1 1748.8h2.0M1318.2 1748.8h2.0M1308.1 1751.8h2.0M1318.2 1751.8h2.0M1308.1 1753.3h2.0M1308.1 1754.8h2.0M1308.1 1756.3h2.0M1318.2 1757.8h2.0M1318.2 1759.3h2.0M1308.1 1760.8h2.0M1318.2 1760.8h2.0M1308.1 1763.8h2.0M1318.2 1763.8h2.0M1308.1 1765.3h2.0M1318.2 1765.3h2.0M1318.2 1766.8h2.0M1294.0 1768.3h12.1M1308.1 1769.8h2.0M1318.2 1769.8h2.0M1318.2 1772.8h2.0M1308.1 1775.8h2.0M1318.2 1775.8h2.0M1308.1 1777.3h2.0M1318.2 1777.3h6.1M1308.1 1778.8h2.0M1318.2 1778.8h2.0M1308.1 1780.3h2.0M1308.1 1781.8h2.0M1318.2 1781.8h2.0M1308.1 1783.3h2.0M1318.2 1783.3h2.0M1318.2 1784.8h4.0M1344.4 1784.8h8.1M1308.1 1786.3h2.0M1318.2 1786.3h2.0M1294.0 1789.3h4.0M1318.2 1792.3h2.0" stroke="#fdc7b1" stroke-width="1.50"/>
<path d="M1330.3 1383.2h2.0M1298.0 1386.2h2.0M1324.2 1389.2h4.0M1298.0 1390.7h2.0M1326.3 1390.7h4.0M1326.3 1392.2h4.0M1300.0 1393.7h2.0M1298.0 1395.2h2.0M1328.3 1395.2h2.0M1300.0 1396.7h2.0M1298.0 1398.2h4.0M1326.3 1398.2h2.0M1300.0 1399.7h2.0M1326.3 1399.7h2.0M1298.0 1401.2h4.0M1326.3 1401.2h2.0M1300.0 1402.7h2.0M1300.0 1404.2h2.0M1326.3 1404.2h2.0M1326.3 1407.2h2.0M1300.0 1408.7h2.0M1326.3 1408.7h4.0M1298.0 1410.2h2.0M1328.3 1410.2h2.0M1300.0 1413.2h2.0M1326.3 1413.2h2.0M1300.0 1414.7h4.0M1324.2 1414.7h2.0M1302.0 1416.2h2.0M1326.3 1417.7h2.0M1300.0 1419.2h4.0M1324.2 1419.2h4.0M1326.3 1422.2h2.0M1298.0 1423.7h2.0M1302.0 1423.7h2.0M1324.2 1423.7h4.0M1304.1 1425.2h2.0M1324.2 1425.2h2.0M1300.0 1429.7h2.0M1324.2 1429.7h4.0M1326.3 1432.7h2.0M1300.0 1435.7h2.0M1302.0 1437.2h2.0M1322.2 1437.2h4.0M1300.0 1438.7h2.0M1302.0 1440.2h2.0M1324.2 1440.2h2.0M1300.0 1441.7h2.0M1302.0 1444.7h2.0M1324.2 1444.7h2.0M1302.0 1446.2h2.0M1324.2 1447.7h2.0M1302.0 1449.2h2.0M1324.2 1449.2h2.0M1324.2 1452.2h2.0M1302.0 1453.7h2.0M1324.2 1453.7h2.0M1300.0 1455.2h2.0M1324.2 1455.2h2.0M1304.1 1456.7h2.0M1322.2 1456.7h4.0M1302.0 1458.1h2.0M1324.2 1458.1h4.0M1302.0 1459.6h2.0M1324.2 1459.6h2.0M1300.0 1461.1h4.0M1302.0 1462.6h2.0M1324.2 1462.6h2.0M1324.2 1464.1h4.0M1324.2 1465.6h4.0M1302.0 1467.1h2.0M1324.2 1467.1h2.0M1304.1 1468.6h2.0M1302.0 1470.1h2.0M1324.2 1470.1h2.0M1302.0 1471.6h4.0M1324.2 1471.6h2.0M1300.0 1473.1h4.0M1324.2 1473.1h4.0M1304.1 1474.6h2.0M1322.2 1474.6h4.0M1306.1 1477.6h2.0M1322.2 1477.6h2.0M1300.0 1479.1h4.0M1324.2 1479.1h2.0M1302.0 1480.6h2.0M1302.0 1482.1h2.0M1302.0 1483.6h2.0M1326.3 1483.6h2.0M1302.0 1485.1h2.0M1302.0 1486.6h2.0M1302.0 1488.1h2.0M1302.0 1489.6h2.0M1324.2 1491.1h2.0M1302.0 1492.6h4.0M1322.2 1492.6h4.0M1302.0 1494.1h2.0M1324.2 1495.6h2.0M1302.0 1497.1h2.0M1324.2 1497.1h2.0M1302.0 1498.6h2.0M1302.0 1500.1h2.0M1324.2 1500.1h2.0M1304.1 1501.6h2.0M1324.2 1501.6h2.0M1324.2 1504.6h2.0M1302.0 1506.1h2.0M1304.1 1509.1h2.0M1324.2 1509.1h2.0M1302.0 1510.6h2.0M1324.2 1510.6h2.0M1304.1 1512.1h2.0M1322.2 1512.1h2.0M1324.2 1513.6h2.0M1304.1 1515.1h2.0M1302.0 1516.6h2.0M1322.2 1516.6h4.0M1302.0 1518.1h2.0M1302.0 1519.6h4.0M1322.2 1519.6h4.0M1302.0 1521.1h2.0M1324.2 1522.6h2.0M1302.0 1524.1h2.0M1324.2 1525.6h2.0M1302.0 1527.1h2.0M1322.2 1527.1h2.0M1322.2 1528.6h4.0M1324.2 1530.1h2.0M1304.1 1531.6h2.0M1324.2 1531.6h2.0M1285.9 1533.1h18.2M1324.2 1533.1h2.0M1304.1 1534.6h2.0M1322.2 1534.6h2.0M1322.2 1536.1h2.0M1302.0 1537.6h2.0M1304.1 1539.1h2.0M1322.2 1539.1h4.0M1302.0 1540.6h2.0M1322.2 1540.6h2.0M1304.1 1542.0h4.0M1322.2 1542.0h2.0M1304.1 1543.5h4.0M1304.1 1545.0h2.0M1322.2 1545.0h2.0M1304.1 1546.5h2.0M1304.1 1548.0h2.0M1322.2 1548.0h2.0M1306.1 1549.5h2.0M1304.1 1551.0h2.0M1304.1 1554.0h4.0M1296.0 1557.0h10.1M1322.2 1557.0h2.0M1304.1 1558.5h2.0M1322.2 1558.5h2.0M1324.2 1560.0h2.0M1318.2 1563.0h4.0M1304.1 1564.5h2.0M1320.2 1566.0h4.0M1304.1 1569.0h2.0M1322.2 1569.0h2.0M1306.1 1572.0h2.0M1320.2 1573.5h2.0M1304.1 1575.0h2.0M1322.2 1575.0h2.0M1322.2 1576.5h2.0M1306.1 1578.0h2.0M1320.2 1578.0h2.0M1304.1 1579.5h2.0M1304.1 1582.5h2.0M1322.2 1582.5h2.0M1304.1 1584.0h2.0M1322.2 1584.0h2.0M1322.2 1585.5h2.0M1304.1 1587.0h2.0M1304.1 1588.5h2.0M1322.2 1588.5h2.0M1287.9 1590.0h8.1M1304.1 1590.0h2.0M1306.1 1591.5h4.0M1308.1 1593.0h2.0M1320.2 1593.0h2.0M1306.1 1594.5h2.0M1322.2 1594.5h2.0M1304.1 1596.0h2.0M1322.2 1596.0h2.0M1306.1 1597.5h2.0M1320.2 1597.5h2.0M1304.1 1599.0h4.0M1320.2 1599.0h2.0M1306.1 1600.5h2.0M1320.2 1600.5h2.0M1306.1 1602.0h2.0M1322.2 1602.0h2.0M1306.1 1605.0h2.0M1320.2 1605.0h4.0M1320.2 1606.5h2.0M1306.1 1608.0h2.0M1320.2 1608.0h2.0M1320.2 1609.5h2.0M1306.1 1611.0h2.0M1320.2 1611.0h2.0M1304.1 1612.5h2.0M1320.2 1612.5h2.0M1306.1 1614.0h2.0M1320.2 1614.0h4.0M1306.1 1615.5h2.0M1320.2 1615.5h2.0M1320.2 1617.0h4.0M1304.1 1618.5h4.0M1320.2 1618.5h2.0M1320.2 1621.5h2.0M1306.1 1623.0h2.0M1320.2 1623.0h2.0M1308.1 1624.5h2.0M1320.2 1624.5h2.0M1320.2 1625.9h2.0M1306.1 1627.4h2.0M1320.2 1627.4h2.0M1306.1 1628.9h2.0M1320.2 1630.4h2.0M1306.1 1631.9h2.0M1320.2 1631.9h2.0M1306.1 1633.4h2.0M1308.1 1634.9h2.0M1318.2 1634.9h2.0M1306.1 1636.4h2.0M1320.2 1636.4h2.0M1320.2 1637.9h2.0M1306.1 1640.9h2.0M1306.1 1642.4h2.0M1320.2 1642.4h8.1M1320.2 1643.9h2.0M1320.2 1645.4h2.0M1306.1 1648.4h2.0M1320.2 1648.4h2.0M1306.1 1649.9h2.0M1320.2 1649.9h2.0M1362.6 1649.9h8.1M1306.1 1652.9h2.0M1320.2 1654.4h2.0M1306.1 1655.9h2.0M1304.1 1657.4h4.0M1320.2 1657.4h2.0M1259.6 1660.4h12.1M1320.2 1661.9h2.0M1320.2 1663.4h2.0M1320.2 1664.9h2.0M1306.1 1666.4h2.0M1306.1 1667.9h2.0M1320.2 1667.9h2.0M1308.1 1669.4h2.0M1308.1 1672.4h2.0M1318.2 1672.4h2.0M1304.1 1673.9h6.1M1320.2 1673.9h4.0M1269.7 1675.4h18.2M1306.1 1675.4h2.0M1320.2 1675.4h2.0M1306.1 1676.9h2.0M1306.1 1678.4h2.0M1320.2 1678.4h2.0M1306.1 1679.9h2.0M1318.2 1679.9h2.0M1320.2 1682.9h2.0M1308.1 1685.9h2.0M1306.1 1688.9h2.0M1320.2 1688.9h2.0M1283.9 1690.4h20.2M1308.1 1690.4h2.0M1308.1 1691.9h2.0M1330.3 1691.9h6.1M1308.1 1693.4h2.0M1318.2 1694.9h2.0M1308.1 1697.9h2.0M1318.2 1699.4h2.0M1308.1 1700.9h2.0M1318.2 1700.9h2.0M1318.2 1702.4h2.0M1265.7 1705.4h12.1M1318.2 1705.4h2.0M1308.1 1706.9h2.0M1318.2 1706.9h2.0M1308.1 1708.4h2.0M1318.2 1708.4h2.0M1318.2 1709.8h2.0M1318.2 1711.3h2.0M1308.1 1712.8h2.0M1318.2 1714.3h2.0M1308.1 1715.8h2.0M1308.1 1718.8h2.0M1318.2 1718.8h2.0M1308.1 1720.3h2.0M1318.2 1720.3h2.0M1318.2 1721.8h2.0M1306.1 1723.3h2.0M1318.2 1723.3h2.0M1308.1 1726.3h2.0M1318.2 1726.3h2.0M1308.1 1727.8h2.0M1318.2 1727.8h2.0M1259.6 1729.3h12.1M1308.1 1729.3h2.0M1318.2 1729.3h2.0M1308.1 1730.8h2.0M1308.1 1733.8h2.0M1318.2 1733.8h2.0M1308.1 1735.3h2.0M1318.2 1736.8h2.0M1308.1 1738.3h2.0M1318.2 1739.8h2.0M1318.2 1742.8h2.0M1318.2 1744.3h2.0M1316.2 1747.3h2.0M1308.1 1750.3h2.0M1318.2 1750.3h2.0M1298.0 1753.3h8.1M1318.2 1754.8h2.0M1318.2 1756.3h2.0M1308.1 1757.8h2.0M1308.1 1759.3h2.0M1316.2 1759.3h2.0M1294.0 1762.3h12.1M1308.1 1762.3h2.0M1318.2 1762.3h2.0M1322.2 1762.3h6.1M1308.1 1766.8h2.0M1308.1 1768.3h2.0M1318.2 1768.3h2.0M1316.2 1771.3h2.0M1310.1 1772.8h2.0M1316.2 1772.8h2.0M1334.3 1772.8h10.1M1259.6 1774.3h12.1M1267.7 1775.8h14.1M1316.2 1777.3h2.0M1316.2 1780.3h2.0M1310.1 1781.8h2.0M1310.1 1784.8h2.0M1302.0 1787.8h6.1M1310.1 1787.8h2.0M1316.2 1787.8h2.0M1310.1 1789.3h2.0M1316.2 1789.3h2.0M1310.1 1790.8h2.0M1316.2 1790.8h2.0M1316.2 1792.3h2.0" stroke="#fcad91" stroke-width="1.50"/>
<path d="M1322.2 1384.7h2.0M1342.4 1384.7h12.1M1300.0 1390.7h2.0M1302.0 1393.7h2.0M1300.0 1395.2h2.0M1326.3 1395.2h2.0M1302.0 1396.7h2.0M1324.2 1398.2h2.0M1302.0 1399.7h2.0M1324.2 1399.7h2.0M1346.5 1399.7h2.0M1302.0 1402.7h2.0M1302.0 1404.2h2.0M1324.2 1404.2h2.0M1324.2 1405.7h4.0M1324.2 1407.2h2.0M1300.0 1410.2h2.0M1326.3 1410.2h2.0M1322.2 1411.7h4.0M1324.2 1413.2h2.0M1304.1 1414.7h2.0M1322.2 1414.7h2.0M1304.1 1416.2h4.0M1322.2 1416.2h4.0M1324.2 1417.7h2.0M1322.2 1419.2h2.0M1322.2 1420.7h4.0M1300.0 1423.7h2.0M1302.0 1425.2h2.0M1336.4 1425.2h6.1M1302.0 1426.7h4.0M1302.0 1429.7h2.0M1322.2 1429.7h2.0M1324.2 1432.7h2.0M1352.5 1434.2h8.1M1277.8 1435.7h20.2M1302.0 1435.7h2.0M1306.1 1437.2h2.0M1302.0 1438.7h2.0M1304.1 1440.2h4.0M1322.2 1440.2h2.0M1302.0 1441.7h2.0M1302.0 1443.2h2.0M1324.2 1443.2h2.0M1304.1 1444.7h2.0M1322.2 1446.2h2.0M1320.2 1447.7h4.0M1304.1 1449.2h2.0M1320.2 1449.2h4.0M1302.0 1450.7h4.0M1324.2 1450.7h2.0M1322.2 1452.2h2.0M1304.1 1453.7h2.0M1322.2 1453.7h2.0M1302.0 1455.2h6.1M1322.2 1455.2h2.0M1306.1 1456.7h2.0M1304.1 1458.1h2.0M1322.2 1459.6h2.0M1324.2 1461.1h2.0M1304.1 1462.6h2.0M1302.0 1464.1h2.0M1300.0 1465.6h4.0M1322.2 1465.6h2.0M1304.1 1467.1h4.0M1322.2 1467.1h2.0M1285.9 1468.6h6.1M1304.1 1470.1h2.0M1322.2 1471.6h2.0M1265.7 1474.6h4.0M1306.1 1474.6h2.0M1320.2 1474.6h2.0M1302.0 1476.1h2.0M1324.2 1476.1h2.0M1304.1 1477.6h2.0M1308.1 1477.6h2.0M1320.2 1477.6h2.0M1304.1 1480.6h2.0M1304.1 1482.1h2.0M1320.2 1482.1h4.0M1324.2 1483.6h2.0M1304.1 1486.6h4.0M1320.2 1486.6h4.0M1304.1 1488.1h2.0M1322.2 1489.6h2.0M1320.2 1491.1h2.0M1320.2 1492.6h2.0M1306.1 1494.1h2.0M1324.2 1494.1h2.0M1352.5 1494.1h6.1M1302.0 1495.6h4.0M1322.2 1497.1h2.0M1304.1 1498.6h2.0M1320.2 1498.6h4.0M1304.1 1500.1h2.0M1322.2 1500.1h2.0M1322.2 1501.6h2.0M1346.5 1501.6h20.2M1302.0 1503.1h2.0M1322.2 1503.1h4.0M1302.0 1504.6h2.0M1304.1 1506.1h4.0M1322.2 1506.1h2.0M1308.1 1507.6h2.0M1320.2 1507.6h2.0M1320.2 1509.1h4.0M1334.3 1509.1h20.2M1304.1 1510.6h2.0M1320.2 1512.1h2.0M1306.1 1513.6h2.0M1320.2 1513.6h4.0M1320.2 1515.1h4.0M1304.1 1516.6h2.0M1304.1 1518.1h2.0M1304.1 1521.1h2.0M1322.2 1521.1h2.0M1304.1 1522.6h2.0M1322.2 1522.6h2.0M1338.4 1522.6h18.2M1304.1 1525.6h2.0M1322.2 1525.6h2.0M1304.1 1527.1h2.0M1302.0 1528.6h4.0M1304.1 1530.1h2.0M1322.2 1530.1h2.0M1304.1 1533.1h2.0M1322.2 1533.1h2.0M1304.1 1536.1h4.0M1320.2 1536.1h2.0M1304.1 1537.6h2.0M1322.2 1537.6h2.0M1306.1 1539.1h2.0M1304.1 1540.6h2.0M1318.2 1542.0h4.0M1320.2 1543.5h2.0M1364.6 1543.5h6.1M1306.1 1545.0h4.0M1320.2 1545.0h2.0M1322.2 1546.5h4.0M1320.2 1549.5h2.0M1346.5 1549.5h8.1M1306.1 1551.0h2.0M1320.2 1551.0h2.0M1302.0 1552.5h4.0M1308.1 1554.0h2.0M1304.1 1555.5h2.0M1322.2 1555.5h2.0M1306.1 1558.5h2.0M1356.6 1558.5h10.1M1304.1 1560.0h2.0M1322.2 1561.5h2.0M1322.2 1564.5h2.0M1306.1 1566.0h2.0M1304.1 1567.5h2.0M1322.2 1567.5h2.0M1306.1 1570.5h2.0M1320.2 1570.5h2.0M1316.2 1572.0h2.0M1320.2 1572.0h2.0M1306.1 1573.5h4.0M1354.5 1573.5h10.1M1275.8 1575.0h12.1M1304.1 1576.5h2.0M1320.2 1576.5h2.0M1306.1 1579.5h2.0M1320.2 1579.5h2.0M1306.1 1581.0h2.0M1320.2 1581.0h2.0M1306.1 1584.0h2.0M1320.2 1584.0h2.0M1306.1 1585.5h2.0M1322.2 1587.0h2.0M1306.1 1590.0h2.0M1320.2 1590.0h2.0M1318.2 1591.5h4.0M1306.1 1593.0h2.0M1304.1 1594.5h2.0M1283.9 1596.0h4.0M1306.1 1596.0h2.0M1320.2 1596.0h2.0M1318.2 1597.5h2.0M1308.1 1599.0h2.0M1318.2 1599.0h2.0M1318.2 1602.0h4.0M1298.0 1603.5h10.1M1320.2 1603.5h2.0M1334.3 1603.5h8.1M1306.1 1606.5h2.0M1308.1 1608.0h2.0M1261.6 1611.0h8.1M1308.1 1611.0h2.0M1318.2 1611.0h2.0M1316.2 1612.5h4.0M1318.2 1614.0h2.0M1308.1 1615.5h2.0M1306.1 1617.0h2.0M1306.1 1620.0h4.0M1320.2 1620.0h2.0M1306.1 1621.5h2.0M1308.1 1623.0h2.0M1318.2 1623.0h2.0M1294.0 1624.5h8.1M1310.1 1624.5h2.0M1318.2 1624.5h2.0M1308.1 1625.9h2.0M1318.2 1625.9h2.0M1350.5 1625.9h4.0M1308.1 1627.4h2.0M1308.1 1628.9h2.0M1318.2 1628.9h2.0M1306.1 1630.4h2.0M1318.2 1630.4h2.0M1308.1 1631.9h2.0M1320.2 1633.4h2.0M1316.2 1634.9h2.0M1261.6 1636.4h18.2M1318.2 1637.9h2.0M1352.5 1637.9h14.1M1287.9 1639.4h14.1M1269.7 1640.9h8.1M1308.1 1640.9h2.0M1320.2 1640.9h2.0M1308.1 1642.4h2.0M1318.2 1642.4h2.0M1308.1 1643.9h2.0M1314.2 1643.9h2.0M1318.2 1643.9h2.0M1257.6 1645.4h12.1M1308.1 1645.4h2.0M1316.2 1645.4h4.0M1318.2 1648.4h2.0M1308.1 1649.9h2.0M1318.2 1649.9h2.0M1306.1 1651.4h2.0M1320.2 1651.4h2.0M1320.2 1652.9h2.0M1306.1 1654.4h2.0M1308.1 1655.9h2.0M1308.1 1657.4h2.0M1308.1 1658.9h2.0M1316.2 1658.9h4.0M1308.1 1660.4h2.0M1306.1 1661.9h4.0M1308.1 1663.4h2.0M1308.1 1664.9h2.0M1318.2 1664.9h2.0M1318.2 1666.4h2.0M1308.1 1667.9h2.0M1314.2 1669.4h2.0M1308.1 1670.9h2.0M1318.2 1670.9h2.0M1318.2 1673.9h2.0M1308.1 1675.4h2.0M1308.1 1676.9h2.0M1308.1 1678.4h2.0M1318.2 1678.4h2.0M1308.1 1679.9h2.0M1318.2 1681.4h2.0M1275.8 1682.9h8.1M1289.9 1684.4h20.2M1318.2 1684.4h2.0M1310.1 1685.9h2.0M1318.2 1685.9h2.0M1308.1 1688.9h2.0M1318.2 1690.4h2.0M1318.2 1691.9h2.0M1310.1 1693.4h2.0M1318.2 1693.4h2.0M1308.1 1694.9h2.0M1316.2 1694.9h2.0M1342.4 1694.9h8.1M1318.2 1696.4h2.0M1318.2 1697.9h2.0M1259.6 1699.4h10.1M1308.1 1699.4h2.0M1310.1 1700.9h2.0M1296.0 1702.4h14.1M1316.2 1702.4h2.0M1261.6 1703.9h4.0M1308.1 1703.9h2.0M1318.2 1703.9h2.0M1308.1 1705.4h2.0M1310.1 1706.9h2.0M1316.2 1706.9h2.0M1308.1 1709.8h2.0M1364.6 1709.8h6.1M1310.1 1711.3h2.0M1316.2 1711.3h2.0M1310.1 1712.8h2.0M1316.2 1712.8h2.0M1308.1 1714.3h2.0M1318.2 1715.8h2.0M1308.1 1717.3h2.0M1318.2 1717.3h2.0M1273.8 1720.3h14.1M1310.1 1720.3h2.0M1308.1 1721.8h2.0M1308.1 1723.3h2.0M1318.2 1724.8h2.0M1316.2 1726.3h2.0M1310.1 1727.8h2.0M1318.2 1730.8h8.1M1308.1 1732.3h2.0M1310.1 1733.8h2.0M1318.2 1735.3h2.0M1310.1 1736.8h2.0M1316.2 1736.8h2.0M1308.1 1739.8h2.0M1310.1 1741.3h2.0M1310.1 1742.8h2.0M1316.2 1744.3h2.0M1360.6 1744.3h10.1M1294.0 1745.8h10.1M1310.1 1745.8h2.0M1316.2 1745.8h2.0M1310.1 1747.3h2.0M1346.5 1747.3h10.1M1310.1 1751.8h2.0M1316.2 1751.8h2.0M1281.8 1753.3h10.1M1318.2 1753.3h6.1M1310.1 1756.3h2.0M1310.1 1759.3h2.0M1316.2 1760.8h2.0M1316.2 1762.3h2.0M1285.9 1763.8h12.1M1310.1 1763.8h2.0M1314.2 1763.8h4.0M1310.1 1765.3h2.0M1310.1 1769.8h2.0M1316.2 1769.8h2.0M1310.1 1771.3h4.0M1312.1 1772.8h4.0M1296.0 1774.3h4.0M1310.1 1774.3h2.0M1316.2 1774.3h2.0M1310.1 1775.8h2.0M1316.2 1775.8h2.0M1310.1 1778.8h2.0M1316.2 1781.8h2.0M1310.1 1783.3h2.0M1324.2 1783.3h8.1M1316.2 1784.8h2.0M1310.1 1786.3h2.0M1316.2 1786.3h2.0M1289.9 1792.3h12.1" stroke="#fc9272" stroke-width="1.50"/>
<path d="M1338.4 1378.7h2.0M1364.6 1378.7h4.0M1324.2 1380.2h12.1M1273.8 1381.7h6.1M1296.0 1381.7h2.0M1338.4 1381.7h2.0M1326.3 1383.2h2.0M1340.4 1384.7h2.0M1300.0 1387.7h4.0M1322.2 1389.2h2.0M1336.4 1389.2h2.0M1324.2 1390.7h2.0M1322.2 1392.2h4.0M1304.1 1393.7h4.0M1350.5 1393.7h4.0M1302.0 1395.2h2.0M1302.0 1398.2h4.0M1322.2 1398.2h2.0M1281.8 1399.7h8.1M1302.0 1401.2h2.0M1324.2 1401.2h2.0M1358.6 1401.2h4.0M1304.1 1402.7h4.0M1358.6 1404.2h12.1M1322.2 1405.7h2.0M1320.2 1407.2h4.0M1330.3 1410.2h6.1M1304.1 1411.7h4.0M1269.7 1413.2h10.1M1302.0 1413.2h2.0M1320.2 1413.2h4.0M1340.4 1413.2h26.3M1283.9 1414.7h16.2M1320.2 1414.7h2.0M1320.2 1416.2h2.0M1287.9 1417.7h14.1M1304.1 1419.2h2.0M1320.2 1419.2h2.0M1306.1 1420.7h2.0M1320.2 1420.7h2.0M1322.2 1422.2h2.0M1304.1 1423.7h2.0M1308.1 1425.2h2.0M1320.2 1425.2h4.0M1306.1 1426.7h2.0M1304.1 1429.7h4.0M1306.1 1431.2h2.0M1318.2 1431.2h2.0M1304.1 1437.2h2.0M1265.7 1438.7h20.2M1304.1 1438.7h4.0M1308.1 1440.2h2.0M1320.2 1440.2h2.0M1271.7 1441.7h12.1M1304.1 1443.2h2.0M1322.2 1443.2h2.0M1257.6 1444.7h20.2M1306.1 1444.7h2.0M1322.2 1444.7h2.0M1352.5 1444.7h2.0M1304.1 1446.2h8.1M1318.2 1446.2h4.0M1308.1 1449.2h2.0M1306.1 1450.7h2.0M1322.2 1450.7h2.0M1320.2 1452.2h2.0M1306.1 1453.7h2.0M1320.2 1455.2h2.0M1320.2 1456.7h2.0M1322.2 1458.1h2.0M1304.1 1459.6h2.0M1320.2 1459.6h2.0M1275.8 1461.1h8.1M1304.1 1461.1h2.0M1322.2 1461.1h2.0M1340.4 1461.1h4.0M1320.2 1462.6h4.0M1320.2 1464.1h4.0M1304.1 1465.6h2.0M1322.2 1470.1h2.0M1320.2 1471.6h2.0M1304.1 1473.1h2.0M1322.2 1473.1h2.0M1269.7 1474.6h12.1M1318.2 1474.6h2.0M1304.1 1476.1h2.0M1310.1 1477.6h2.0M1316.2 1477.6h2.0M1304.1 1479.1h4.0M1322.2 1479.1h2.0M1277.8 1480.6h20.2M1306.1 1480.6h2.0M1306.1 1482.1h4.0M1304.1 1483.6h2.0M1322.2 1483.6h2.0M1318.2 1486.6h2.0M1304.1 1489.6h4.0M1320.2 1489.6h2.0M1296.0 1491.1h14.1M1314.2 1491.1h2.0M1318.2 1491.1h2.0M1352.5 1491.1h8.1M1306.1 1492.6h2.0M1310.1 1492.6h2.0M1304.1 1494.1h2.0M1320.2 1494.1h4.0M1322.2 1495.6h2.0M1304.1 1497.1h4.0M1320.2 1497.1h2.0M1306.1 1498.6h4.0M1356.6 1498.6h12.1M1320.2 1500.1h2.0M1328.3 1500.1h20.2M1306.1 1501.6h4.0M1320.2 1501.6h2.0M1285.9 1503.1h6.1M1304.1 1503.1h2.0M1277.8 1504.6h12.1M1306.1 1504.6h2.0M1322.2 1504.6h2.0M1320.2 1506.1h2.0M1306.1 1507.6h2.0M1318.2 1507.6h2.0M1306.1 1509.1h2.0M1322.2 1510.6h2.0M1306.1 1512.1h2.0M1306.1 1515.1h4.0M1318.2 1515.1h2.0M1320.2 1516.6h2.0M1306.1 1518.1h2.0M1320.2 1518.1h4.0M1306.1 1519.6h2.0M1320.2 1521.1h2.0M1306.1 1522.6h2.0M1304.1 1524.1h2.0M1306.1 1525.6h2.0M1320.2 1525.6h2.0M1306.1 1527.1h2.0M1318.2 1527.1h4.0M1320.2 1528.6h2.0M1306.1 1530.1h2.0M1322.2 1531.6h2.0M1306.1 1534.6h2.0M1320.2 1534.6h2.0M1261.6 1536.1h4.0M1306.1 1537.6h2.0M1298.0 1539.1h6.1M1320.2 1539.1h2.0M1306.1 1540.6h2.0M1320.2 1540.6h2.0M1308.1 1542.0h2.0M1308.1 1543.5h2.0M1318.2 1543.5h2.0M1318.2 1545.0h2.0M1306.1 1546.5h2.0M1320.2 1548.0h2.0M1308.1 1549.5h4.0M1318.2 1549.5h2.0M1308.1 1551.0h2.0M1316.2 1551.0h4.0M1306.1 1552.5h2.0M1322.2 1552.5h2.0M1318.2 1554.0h14.1M1306.1 1557.0h2.0M1320.2 1557.0h2.0M1318.2 1558.5h4.0M1306.1 1560.0h2.0M1320.2 1560.0h4.0M1300.0 1561.5h8.1M1320.2 1561.5h2.0M1314.2 1563.0h4.0M1320.2 1564.5h2.0M1316.2 1566.0h2.0M1320.2 1567.5h2.0M1306.1 1569.0h2.0M1320.2 1569.0h2.0M1310.1 1570.5h2.0M1318.2 1570.5h2.0M1340.4 1570.5h14.1M1308.1 1572.0h2.0M1318.2 1572.0h2.0M1312.1 1573.5h4.0M1318.2 1573.5h2.0M1306.1 1575.0h4.0M1320.2 1575.0h2.0M1306.1 1576.5h2.0M1340.4 1576.5h4.0M1308.1 1578.0h6.1M1308.1 1579.5h4.0M1316.2 1579.5h4.0M1285.9 1581.0h4.0M1308.1 1581.0h2.0M1306.1 1582.5h2.0M1320.2 1582.5h2.0M1320.2 1585.5h2.0M1360.6 1585.5h10.1M1306.1 1587.0h2.0M1320.2 1587.0h2.0M1306.1 1588.5h2.0M1320.2 1588.5h2.0M1346.5 1588.5h16.2M1340.4 1590.0h20.2M1310.1 1591.5h4.0M1316.2 1591.5h2.0M1277.8 1593.0h18.2M1310.1 1593.0h2.0M1316.2 1593.0h4.0M1308.1 1594.5h2.0M1320.2 1594.5h2.0M1308.1 1596.0h2.0M1318.2 1596.0h2.0M1308.1 1597.5h2.0M1310.1 1599.0h4.0M1316.2 1599.0h2.0M1318.2 1600.5h2.0M1308.1 1602.0h2.0M1308.1 1603.5h2.0M1318.2 1603.5h2.0M1318.2 1605.0h2.0M1316.2 1606.5h4.0M1312.1 1608.0h2.0M1316.2 1608.0h4.0M1310.1 1609.5h2.0M1316.2 1609.5h4.0M1310.1 1611.0h2.0M1324.2 1611.0h20.2M1308.1 1612.5h2.0M1314.2 1612.5h2.0M1308.1 1614.0h2.0M1283.9 1615.5h6.1M1318.2 1615.5h2.0M1308.1 1617.0h2.0M1318.2 1617.0h2.0M1344.4 1620.0h6.1M1308.1 1621.5h2.0M1310.1 1623.0h2.0M1314.2 1623.0h2.0M1314.2 1624.5h4.0M1310.1 1625.9h4.0M1316.2 1625.9h2.0M1310.1 1627.4h2.0M1318.2 1627.4h2.0M1310.1 1628.9h4.0M1308.1 1630.4h4.0M1318.2 1631.9h2.0M1308.1 1633.4h2.0M1318.2 1633.4h2.0M1312.1 1634.9h4.0M1358.6 1634.9h6.1M1318.2 1636.4h2.0M1308.1 1637.9h4.0M1316.2 1637.9h2.0M1318.2 1640.9h2.0M1316.2 1643.9h2.0M1314.2 1645.4h2.0M1291.9 1646.9h18.2M1318.2 1646.9h8.1M1308.1 1648.4h4.0M1316.2 1648.4h2.0M1314.2 1649.9h4.0M1318.2 1651.4h2.0M1308.1 1652.9h2.0M1364.6 1652.9h4.0M1308.1 1654.4h2.0M1314.2 1655.9h18.2M1318.2 1657.4h2.0M1310.1 1658.9h2.0M1310.1 1660.4h2.0M1318.2 1660.4h2.0M1318.2 1661.9h2.0M1318.2 1663.4h2.0M1308.1 1666.4h2.0M1316.2 1666.4h2.0M1318.2 1667.9h2.0M1310.1 1669.4h2.0M1316.2 1669.4h2.0M1328.3 1669.4h2.0M1310.1 1672.4h2.0M1265.7 1673.9h16.2M1310.1 1673.9h2.0M1316.2 1673.9h2.0M1318.2 1676.9h2.0M1316.2 1679.9h2.0M1308.1 1681.4h4.0M1318.2 1682.9h2.0M1316.2 1684.4h2.0M1312.1 1685.9h4.0M1308.1 1687.4h2.0M1318.2 1687.4h2.0M1318.2 1688.9h2.0M1310.1 1694.9h4.0M1294.0 1696.4h16.2M1310.1 1697.9h2.0M1316.2 1697.9h2.0M1310.1 1699.4h4.0M1316.2 1699.4h2.0M1312.1 1700.9h2.0M1316.2 1700.9h2.0M1314.2 1702.4h2.0M1310.1 1703.9h2.0M1310.1 1705.4h2.0M1316.2 1705.4h2.0M1336.4 1705.4h20.2M1312.1 1706.9h2.0M1316.2 1708.4h2.0M1316.2 1709.8h2.0M1314.2 1712.8h2.0M1310.1 1714.3h2.0M1310.1 1715.8h2.0M1312.1 1720.3h2.0M1316.2 1720.3h2.0M1310.1 1721.8h2.0M1316.2 1723.3h2.0M1308.1 1724.8h2.0M1316.2 1727.8h2.0M1310.1 1729.3h2.0M1310.1 1730.8h2.0M1310.1 1732.3h2.0M1318.2 1732.3h2.0M1360.6 1732.3h4.0M1300.0 1733.8h4.0M1316.2 1733.8h2.0M1310.1 1735.3h2.0M1314.2 1735.3h4.0M1362.6 1736.8h8.1M1310.1 1738.3h2.0M1316.2 1739.8h2.0M1312.1 1741.3h2.0M1316.2 1741.3h2.0M1316.2 1742.8h2.0M1352.5 1744.3h6.1M1312.1 1745.8h2.0M1312.1 1747.3h4.0M1310.1 1748.8h8.1M1316.2 1750.3h2.0M1275.8 1751.8h18.2M1314.2 1751.8h2.0M1310.1 1753.3h2.0M1316.2 1753.3h2.0M1310.1 1754.8h2.0M1316.2 1754.8h2.0M1310.1 1757.8h2.0M1316.2 1757.8h2.0M1336.4 1757.8h18.2M1312.1 1759.3h2.0M1334.3 1759.3h20.2M1310.1 1760.8h2.0M1310.1 1762.3h2.0M1312.1 1763.8h2.0M1316.2 1765.3h2.0M1310.1 1766.8h2.0M1316.2 1766.8h2.0M1316.2 1768.3h2.0M1314.2 1769.8h2.0M1314.2 1771.3h2.0M1312.1 1775.8h4.0M1310.1 1777.3h4.0M1316.2 1778.8h2.0M1289.9 1780.3h8.1M1310.1 1780.3h2.0M1326.3 1781.8h16.2M1316.2 1783.3h2.0M1312.1 1786.3h2.0M1312.1 1789.3h4.0M1312.1 1790.8h4.0M1310.1 1792.3h4.0" stroke="#fb7757" stroke-width="1.50"/>
<path d="M1296.0 1375.7h2.0M1350.5 1377.2h4.0M1360.6 1380.2h4.0M1287.9 1383.2h12.1M1304.1 1383.2h2.0M1324.2 1383.2h2.0M1312.1 1384.7h2.0M1320.2 1384.7h2.0M1324.2 1384.7h16.2M1304.1 1387.7h2.0M1318.2 1387.7h2.0M1277.8 1389.2h4.0M1296.0 1389.2h10.1M1304.1 1390.7h2.0M1322.2 1390.7h2.0M1334.3 1390.7h18.2M1304.1 1395.2h2.0M1324.2 1395.2h2.0M1356.6 1395.2h8.1M1342.4 1396.7h4.0M1320.2 1398.2h2.0M1304.1 1399.7h4.0M1320.2 1399.7h4.0M1277.8 1401.2h2.0M1285.9 1401.2h6.1M1304.1 1401.2h4.0M1322.2 1401.2h2.0M1364.6 1401.2h4.0M1308.1 1402.7h4.0M1314.2 1402.7h2.0M1304.1 1404.2h2.0M1322.2 1404.2h2.0M1306.1 1405.7h2.0M1318.2 1407.2h2.0M1346.5 1407.2h14.1M1302.0 1408.7h4.0M1320.2 1408.7h2.0M1324.2 1408.7h2.0M1275.8 1410.2h14.1M1302.0 1410.2h4.0M1324.2 1410.2h2.0M1320.2 1411.7h2.0M1304.1 1413.2h2.0M1318.2 1414.7h2.0M1310.1 1416.2h10.1M1302.0 1417.7h2.0M1283.9 1419.2h10.1M1308.1 1419.2h2.0M1318.2 1419.2h2.0M1287.9 1420.7h4.0M1304.1 1420.7h2.0M1318.2 1420.7h2.0M1324.2 1422.2h2.0M1322.2 1423.7h2.0M1306.1 1425.2h2.0M1318.2 1425.2h2.0M1320.2 1426.7h12.1M1296.0 1428.2h14.1M1283.9 1429.7h16.2M1318.2 1429.7h4.0M1360.6 1429.7h10.1M1308.1 1431.2h4.0M1316.2 1431.2h2.0M1320.2 1431.2h16.2M1300.0 1432.7h8.1M1322.2 1432.7h2.0M1269.7 1434.2h8.1M1306.1 1434.2h2.0M1308.1 1437.2h6.1M1318.2 1437.2h4.0M1310.1 1440.2h4.0M1318.2 1440.2h2.0M1304.1 1441.7h2.0M1322.2 1441.7h6.1M1318.2 1443.2h4.0M1269.7 1446.2h20.2M1312.1 1446.2h2.0M1336.4 1446.2h6.1M1316.2 1447.7h4.0M1306.1 1449.2h2.0M1318.2 1449.2h2.0M1318.2 1450.7h4.0M1275.8 1452.2h18.2M1308.1 1452.2h2.0M1314.2 1452.2h4.0M1308.1 1453.7h2.0M1312.1 1453.7h2.0M1320.2 1453.7h2.0M1308.1 1455.2h2.0M1318.2 1455.2h2.0M1308.1 1456.7h4.0M1318.2 1456.7h2.0M1306.1 1458.1h2.0M1306.1 1459.6h4.0M1306.1 1461.1h2.0M1318.2 1461.1h4.0M1306.1 1462.6h2.0M1354.5 1462.6h6.1M1304.1 1464.1h2.0M1308.1 1464.1h2.0M1294.0 1465.6h6.1M1308.1 1467.1h2.0M1318.2 1467.1h4.0M1306.1 1470.1h2.0M1316.2 1470.1h2.0M1320.2 1470.1h2.0M1306.1 1471.6h2.0M1310.1 1471.6h2.0M1279.8 1473.1h4.0M1306.1 1473.1h2.0M1320.2 1473.1h2.0M1308.1 1474.6h2.0M1314.2 1474.6h4.0M1322.2 1476.1h2.0M1312.1 1477.6h4.0M1318.2 1477.6h2.0M1318.2 1479.1h2.0M1308.1 1480.6h2.0M1312.1 1482.1h2.0M1318.2 1482.1h2.0M1306.1 1483.6h2.0M1310.1 1486.6h2.0M1306.1 1488.1h4.0M1318.2 1488.1h2.0M1318.2 1489.6h2.0M1310.1 1491.1h4.0M1316.2 1491.1h2.0M1308.1 1492.6h2.0M1316.2 1492.6h4.0M1364.6 1492.6h6.1M1340.4 1494.1h12.1M1306.1 1495.6h2.0M1318.2 1495.6h4.0M1362.6 1495.6h4.0M1308.1 1497.1h2.0M1318.2 1497.1h2.0M1326.3 1497.1h10.1M1294.0 1498.6h8.1M1306.1 1500.1h4.0M1316.2 1500.1h2.0M1366.7 1500.1h4.0M1316.2 1501.6h2.0M1320.2 1503.1h2.0M1304.1 1504.6h2.0M1308.1 1506.1h2.0M1310.1 1507.6h8.1M1308.1 1509.1h2.0M1316.2 1509.1h2.0M1306.1 1510.6h2.0M1320.2 1510.6h2.0M1308.1 1513.6h4.0M1318.2 1513.6h2.0M1310.1 1515.1h4.0M1306.1 1516.6h2.0M1306.1 1521.1h2.0M1320.2 1522.6h2.0M1306.1 1524.1h2.0M1275.8 1525.6h12.1M1342.4 1525.6h20.2M1306.1 1528.6h2.0M1320.2 1530.1h2.0M1306.1 1531.6h2.0M1320.2 1531.6h2.0M1306.1 1533.1h2.0M1318.2 1533.1h4.0M1308.1 1534.6h2.0M1318.2 1536.1h2.0M1320.2 1537.6h2.0M1318.2 1539.1h2.0M1316.2 1542.0h2.0M1310.1 1543.5h2.0M1314.2 1543.5h4.0M1310.1 1545.0h2.0M1316.2 1545.0h2.0M1308.1 1546.5h2.0M1320.2 1546.5h2.0M1306.1 1548.0h4.0M1310.1 1551.0h2.0M1320.2 1552.5h2.0M1310.1 1554.0h8.1M1306.1 1555.5h2.0M1318.2 1555.5h4.0M1318.2 1557.0h2.0M1308.1 1558.5h4.0M1316.2 1558.5h2.0M1310.1 1561.5h2.0M1338.4 1563.0h16.2M1306.1 1564.5h2.0M1308.1 1566.0h4.0M1306.1 1567.5h4.0M1318.2 1569.0h2.0M1308.1 1570.5h2.0M1312.1 1570.5h6.1M1310.1 1572.0h6.1M1310.1 1573.5h2.0M1316.2 1573.5h2.0M1324.2 1573.5h18.2M1318.2 1575.0h2.0M1308.1 1576.5h2.0M1344.4 1576.5h20.2M1314.2 1578.0h2.0M1318.2 1578.0h2.0M1312.1 1579.5h2.0M1267.7 1581.0h4.0M1310.1 1581.0h2.0M1318.2 1581.0h2.0M1316.2 1584.0h4.0M1308.1 1587.0h2.0M1318.2 1587.0h2.0M1310.1 1588.5h2.0M1318.2 1588.5h2.0M1312.1 1593.0h4.0M1312.1 1596.0h2.0M1312.1 1597.5h2.0M1316.2 1597.5h2.0M1314.2 1599.0h2.0M1308.1 1600.5h2.0M1314.2 1600.5h2.0M1310.1 1602.0h2.0M1316.2 1603.5h2.0M1308.1 1605.0h2.0M1316.2 1605.0h2.0M1308.1 1606.5h4.0M1310.1 1608.0h2.0M1314.2 1608.0h2.0M1312.1 1609.5h2.0M1312.1 1611.0h2.0M1316.2 1611.0h2.0M1310.1 1612.5h2.0M1265.7 1614.0h20.2M1294.0 1614.0h6.1M1310.1 1614.0h2.0M1310.1 1615.5h4.0M1316.2 1615.5h2.0M1308.1 1618.5h2.0M1318.2 1618.5h2.0M1316.2 1620.0h4.0M1362.6 1620.0h8.1M1316.2 1621.5h4.0M1312.1 1623.0h2.0M1316.2 1623.0h2.0M1316.2 1627.4h2.0M1273.8 1630.4h16.2M1312.1 1630.4h2.0M1316.2 1630.4h2.0M1310.1 1631.9h2.0M1316.2 1631.9h2.0M1310.1 1634.9h2.0M1308.1 1636.4h2.0M1312.1 1636.4h2.0M1316.2 1636.4h2.0M1269.7 1637.9h16.2M1312.1 1637.9h2.0M1366.7 1640.9h4.0M1316.2 1642.4h2.0M1310.1 1643.9h4.0M1310.1 1645.4h4.0M1310.1 1646.9h2.0M1312.1 1648.4h2.0M1310.1 1649.9h4.0M1308.1 1651.4h2.0M1316.2 1651.4h2.0M1310.1 1652.9h2.0M1318.2 1652.9h2.0M1318.2 1654.4h2.0M1310.1 1655.9h2.0M1312.1 1658.9h4.0M1312.1 1660.4h6.1M1314.2 1661.9h2.0M1310.1 1663.4h2.0M1316.2 1663.4h2.0M1314.2 1664.9h2.0M1312.1 1669.4h2.0M1318.2 1669.4h10.1M1310.1 1670.9h2.0M1277.8 1672.4h16.2M1314.2 1672.4h4.0M1312.1 1673.9h4.0M1310.1 1675.4h2.0M1316.2 1675.4h4.0M1310.1 1676.9h2.0M1314.2 1676.9h4.0M1316.2 1678.4h2.0M1310.1 1679.9h2.0M1314.2 1679.9h2.0M1300.0 1682.9h10.1M1310.1 1684.4h2.0M1314.2 1684.4h2.0M1316.2 1685.9h2.0M1310.1 1688.9h2.0M1368.7 1688.9h2.0M1316.2 1690.4h2.0M1316.2 1691.9h2.0M1314.2 1694.9h2.0M1310.1 1696.4h2.0M1273.8 1697.9h6.1M1312.1 1697.9h2.0M1344.4 1697.9h10.1M1314.2 1699.4h2.0M1314.2 1700.9h2.0M1310.1 1702.4h4.0M1316.2 1703.9h2.0M1314.2 1705.4h2.0M1314.2 1706.9h2.0M1310.1 1708.4h2.0M1314.2 1708.4h2.0M1310.1 1709.8h2.0M1312.1 1711.3h4.0M1312.1 1712.8h2.0M1316.2 1714.3h2.0M1310.1 1717.3h2.0M1316.2 1717.3h2.0M1312.1 1718.8h2.0M1316.2 1718.8h2.0M1314.2 1720.3h2.0M1310.1 1724.8h2.0M1310.1 1726.3h2.0M1314.2 1726.3h2.0M1312.1 1727.8h4.0M1316.2 1729.3h2.0M1312.1 1730.8h6.1M1316.2 1732.3h2.0M1312.1 1736.8h4.0M1316.2 1738.3h2.0M1310.1 1739.8h2.0M1314.2 1741.3h2.0M1314.2 1745.8h2.0M1310.1 1750.3h2.0M1314.2 1754.8h2.0M1316.2 1756.3h2.0M1312.1 1757.8h2.0M1314.2 1759.3h2.0M1312.1 1760.8h2.0M1314.2 1765.3h2.0M1310.1 1768.3h2.0M1312.1 1769.8h2.0M1314.2 1774.3h2.0M1314.2 1777.3h2.0M1312.1 1778.8h2.0M1312.1 1781.8h2.0M1312.1 1784.8h4.0M1314.2 1786.3h2.0M1312.1 1787.8h2.0M1314.2 1792.3h2.0" stroke="#f75a40" stroke-width="1.50"/>
<path d="M1285.9 1375.7h10.1M1269.7 1377.2h2.0M1277.8 1378.7h4.0M1300.0 1378.7h8.1M1368.7 1378.7h2.0M1322.2 1380.2h2.0M1320.2 1381.7h2.0M1360.6 1381.7h8.1M1322.2 1383.2h2.0M1289.9 1384.7h10.1M1308.1 1384.7h4.0M1318.2 1384.7h2.0M1271.7 1386.2h16.2M1322.2 1386.2h6.1M1360.6 1386.2h10.1M1306.1 1389.2h2.0M1310.1 1389.2h2.0M1302.0 1390.7h2.0M1320.2 1392.2h2.0M1348.5 1392.2h14.1M1316.2 1393.7h6.1M1354.5 1393.7h16.2M1304.1 1396.7h2.0M1322.2 1396.7h10.1M1267.7 1398.2h4.0M1306.1 1398.2h2.0M1310.1 1398.2h2.0M1314.2 1398.2h2.0M1318.2 1398.2h2.0M1332.3 1398.2h4.0M1310.1 1399.7h2.0M1318.2 1399.7h2.0M1318.2 1401.2h4.0M1368.7 1401.2h2.0M1306.1 1404.2h2.0M1320.2 1404.2h2.0M1308.1 1405.7h2.0M1320.2 1405.7h2.0M1312.1 1407.2h4.0M1306.1 1408.7h2.0M1322.2 1408.7h2.0M1320.2 1410.2h4.0M1300.0 1411.7h4.0M1310.1 1411.7h4.0M1326.3 1411.7h6.1M1306.1 1414.7h6.1M1314.2 1414.7h4.0M1354.5 1414.7h8.1M1308.1 1416.2h2.0M1304.1 1417.7h2.0M1320.2 1417.7h4.0M1306.1 1419.2h2.0M1316.2 1419.2h2.0M1308.1 1420.7h4.0M1291.9 1422.2h8.1M1320.2 1422.2h2.0M1306.1 1423.7h2.0M1316.2 1425.2h2.0M1308.1 1426.7h4.0M1332.3 1426.7h8.1M1346.5 1426.7h14.1M1310.1 1428.2h2.0M1312.1 1429.7h4.0M1314.2 1431.2h2.0M1308.1 1432.7h4.0M1314.2 1432.7h2.0M1318.2 1432.7h4.0M1308.1 1434.2h2.0M1265.7 1437.2h16.2M1314.2 1437.2h4.0M1308.1 1438.7h2.0M1314.2 1440.2h4.0M1306.1 1443.2h6.1M1316.2 1443.2h2.0M1308.1 1444.7h2.0M1320.2 1444.7h2.0M1316.2 1446.2h2.0M1300.0 1447.7h10.1M1310.1 1449.2h8.1M1316.2 1450.7h2.0M1312.1 1452.2h2.0M1318.2 1452.2h2.0M1310.1 1453.7h2.0M1314.2 1453.7h6.1M1310.1 1455.2h8.1M1308.1 1458.1h4.0M1320.2 1458.1h2.0M1314.2 1459.6h2.0M1318.2 1459.6h2.0M1308.1 1462.6h4.0M1314.2 1462.6h2.0M1306.1 1464.1h2.0M1306.1 1465.6h4.0M1318.2 1465.6h2.0M1310.1 1467.1h2.0M1316.2 1467.1h2.0M1267.7 1470.1h6.1M1310.1 1470.1h4.0M1308.1 1471.6h2.0M1314.2 1471.6h2.0M1318.2 1471.6h2.0M1318.2 1473.1h2.0M1310.1 1474.6h4.0M1308.1 1476.1h2.0M1320.2 1476.1h2.0M1320.2 1479.1h2.0M1267.7 1480.6h10.1M1326.3 1480.6h2.0M1310.1 1482.1h2.0M1314.2 1482.1h2.0M1277.8 1485.1h6.1M1308.1 1486.6h2.0M1314.2 1486.6h4.0M1310.1 1488.1h2.0M1314.2 1488.1h4.0M1308.1 1489.6h2.0M1314.2 1492.6h2.0M1310.1 1494.1h2.0M1314.2 1494.1h6.1M1312.1 1497.1h2.0M1362.6 1497.1h4.0M1271.7 1498.6h10.1M1316.2 1498.6h4.0M1310.1 1501.6h2.0M1318.2 1501.6h2.0M1306.1 1503.1h4.0M1366.7 1503.1h4.0M1318.2 1504.6h4.0M1318.2 1506.1h2.0M1322.2 1507.6h12.1M1318.2 1509.1h2.0M1318.2 1510.6h2.0M1308.1 1512.1h6.1M1316.2 1512.1h4.0M1312.1 1513.6h6.1M1316.2 1515.1h2.0M1308.1 1516.6h2.0M1318.2 1516.6h2.0M1271.7 1518.1h18.2M1308.1 1518.1h4.0M1318.2 1518.1h2.0M1275.8 1519.6h10.1M1308.1 1519.6h2.0M1312.1 1519.6h2.0M1316.2 1519.6h6.1M1334.3 1519.6h18.2M1316.2 1521.1h4.0M1318.2 1522.6h2.0M1308.1 1524.1h2.0M1310.1 1525.6h2.0M1316.2 1525.6h2.0M1308.1 1527.1h2.0M1314.2 1527.1h4.0M1362.6 1527.1h8.1M1308.1 1528.6h2.0M1316.2 1528.6h2.0M1287.9 1530.1h6.1M1316.2 1530.1h4.0M1308.1 1531.6h2.0M1308.1 1533.1h2.0M1316.2 1533.1h2.0M1310.1 1534.6h4.0M1318.2 1534.6h2.0M1308.1 1536.1h4.0M1314.2 1536.1h4.0M1310.1 1537.6h2.0M1316.2 1537.6h4.0M1308.1 1539.1h2.0M1312.1 1539.1h2.0M1318.2 1540.6h2.0M1312.1 1542.0h2.0M1356.6 1542.0h8.1M1312.1 1543.5h2.0M1314.2 1545.0h2.0M1316.2 1546.5h4.0M1312.1 1548.0h2.0M1318.2 1548.0h2.0M1314.2 1549.5h4.0M1312.1 1551.0h4.0M1310.1 1552.5h2.0M1308.1 1555.5h4.0M1308.1 1557.0h4.0M1291.9 1558.5h6.1M1314.2 1558.5h2.0M1308.1 1561.5h2.0M1316.2 1561.5h4.0M1302.0 1563.0h12.1M1308.1 1564.5h4.0M1312.1 1566.0h2.0M1318.2 1566.0h2.0M1348.5 1566.0h4.0M1263.7 1567.5h12.1M1316.2 1567.5h2.0M1310.1 1569.0h2.0M1354.5 1569.0h8.1M1316.2 1575.0h2.0M1318.2 1576.5h2.0M1316.2 1578.0h2.0M1314.2 1579.5h2.0M1312.1 1581.0h2.0M1316.2 1581.0h2.0M1308.1 1582.5h4.0M1316.2 1582.5h4.0M1338.4 1582.5h4.0M1308.1 1584.0h2.0M1308.1 1585.5h2.0M1316.2 1585.5h4.0M1332.3 1587.0h18.2M1308.1 1588.5h2.0M1308.1 1590.0h4.0M1314.2 1590.0h2.0M1314.2 1591.5h2.0M1310.1 1594.5h2.0M1318.2 1594.5h2.0M1314.2 1596.0h2.0M1310.1 1597.5h2.0M1310.1 1600.5h4.0M1316.2 1600.5h2.0M1314.2 1602.0h4.0M1310.1 1603.5h6.1M1310.1 1605.0h2.0M1312.1 1606.5h4.0M1291.9 1609.5h18.2M1314.2 1609.5h2.0M1314.2 1611.0h2.0M1312.1 1612.5h2.0M1312.1 1614.0h6.1M1314.2 1615.5h2.0M1310.1 1617.0h2.0M1316.2 1617.0h2.0M1316.2 1618.5h2.0M1310.1 1620.0h4.0M1312.1 1621.5h2.0M1312.1 1624.5h2.0M1314.2 1625.9h2.0M1314.2 1627.4h2.0M1366.7 1627.4h4.0M1314.2 1628.9h4.0M1314.2 1630.4h2.0M1312.1 1631.9h4.0M1310.1 1633.4h2.0M1316.2 1633.4h2.0M1263.7 1634.9h18.2M1310.1 1636.4h2.0M1314.2 1636.4h2.0M1314.2 1637.9h2.0M1302.0 1639.4h20.2M1310.1 1640.9h2.0M1314.2 1640.9h4.0M1310.1 1642.4h4.0M1314.2 1648.4h2.0M1273.8 1652.9h14.1M1312.1 1652.9h6.1M1324.2 1652.9h10.1M1312.1 1654.4h2.0M1362.6 1654.4h8.1M1312.1 1655.9h2.0M1310.1 1657.4h2.0M1314.2 1657.4h4.0M1310.1 1661.9h4.0M1316.2 1661.9h2.0M1312.1 1663.4h4.0M1312.1 1664.9h2.0M1316.2 1664.9h2.0M1310.1 1666.4h6.1M1310.1 1667.9h8.1M1314.2 1670.9h4.0M1312.1 1672.4h2.0M1314.2 1675.4h2.0M1310.1 1678.4h2.0M1314.2 1678.4h2.0M1312.1 1679.9h2.0M1316.2 1681.4h2.0M1312.1 1684.4h2.0M1310.1 1687.4h2.0M1316.2 1687.4h2.0M1310.1 1690.4h2.0M1310.1 1691.9h2.0M1314.2 1691.9h2.0M1314.2 1693.4h4.0M1312.1 1696.4h2.0M1316.2 1696.4h2.0M1314.2 1697.9h2.0M1312.1 1703.9h4.0M1312.1 1705.4h2.0M1312.1 1708.4h2.0M1314.2 1709.8h2.0M1312.1 1714.3h4.0M1316.2 1715.8h2.0M1310.1 1718.8h2.0M1312.1 1721.8h6.1M1310.1 1723.3h2.0M1312.1 1724.8h6.1M1312.1 1726.3h2.0M1312.1 1729.3h2.0M1314.2 1732.3h2.0M1312.1 1733.8h2.0M1312.1 1735.3h2.0M1312.1 1738.3h4.0M1312.1 1739.8h2.0M1312.1 1742.8h4.0M1310.1 1744.3h2.0M1314.2 1750.3h2.0M1312.1 1751.8h2.0M1312.1 1753.3h2.0M1312.1 1756.3h4.0M1314.2 1760.8h2.0M1312.1 1765.3h2.0M1312.1 1766.8h4.0M1312.1 1768.3h4.0M1312.1 1774.3h2.0M1314.2 1778.8h2.0M1312.1 1780.3h4.0M1314.2 1781.8h2.0M1314.2 1783.3h2.0M1314.2 1787.8h2.0" stroke="#ef3b2c" stroke-width="1.50"/>
<path d="M1312.1 1375.7h2.0M1318.2 1375.7h2.0M1308.1 1378.7h2.0M1312.1 1378.7h4.0M1316.2 1380.2h2.0M1340.4 1380.2h8.1M1298.0 1381.7h2.0M1356.6 1381.7h4.0M1314.2 1384.7h4.0M1300.0 1386.2h4.0M1281.8 1389.2h14.1M1308.1 1389.2h2.0M1316.2 1389.2h6.1M1344.4 1389.2h10.1M1316.2 1390.7h2.0M1320.2 1390.7h2.0M1352.5 1390.7h18.2M1318.2 1392.2h2.0M1308.1 1393.7h2.0M1312.1 1393.7h2.0M1318.2 1395.2h2.0M1322.2 1395.2h2.0M1364.6 1395.2h4.0M1306.1 1396.7h4.0M1316.2 1396.7h2.0M1320.2 1396.7h2.0M1308.1 1398.2h2.0M1312.1 1398.2h2.0M1316.2 1398.2h2.0M1342.4 1398.2h6.1M1308.1 1399.7h2.0M1312.1 1399.7h6.1M1279.8 1401.2h6.1M1312.1 1402.7h2.0M1308.1 1404.2h4.0M1316.2 1404.2h4.0M1314.2 1405.7h2.0M1298.0 1407.2h12.1M1316.2 1407.2h2.0M1314.2 1408.7h2.0M1306.1 1410.2h2.0M1312.1 1410.2h2.0M1318.2 1410.2h2.0M1308.1 1411.7h2.0M1314.2 1411.7h2.0M1306.1 1413.2h2.0M1312.1 1414.7h2.0M1265.7 1416.2h18.2M1257.6 1417.7h14.1M1306.1 1417.7h4.0M1310.1 1419.2h4.0M1364.6 1419.2h6.1M1312.1 1420.7h6.1M1314.2 1423.7h2.0M1318.2 1423.7h4.0M1310.1 1425.2h6.1M1360.6 1425.2h6.1M1316.2 1426.7h4.0M1312.1 1428.2h2.0M1316.2 1428.2h28.3M1308.1 1429.7h4.0M1312.1 1431.2h2.0M1364.6 1431.2h6.1M1279.8 1432.7h14.1M1316.2 1432.7h2.0M1310.1 1434.2h2.0M1304.1 1435.7h8.1M1314.2 1435.7h2.0M1328.3 1438.7h8.1M1306.1 1441.7h2.0M1312.1 1441.7h2.0M1320.2 1441.7h2.0M1312.1 1444.7h4.0M1314.2 1446.2h2.0M1273.8 1447.7h20.2M1310.1 1447.7h2.0M1314.2 1447.7h2.0M1310.1 1452.2h2.0M1257.6 1453.7h18.2M1352.5 1453.7h8.1M1312.1 1456.7h6.1M1312.1 1458.1h4.0M1318.2 1458.1h2.0M1265.7 1459.6h10.1M1316.2 1459.6h2.0M1308.1 1461.1h2.0M1312.1 1461.1h2.0M1312.1 1462.6h2.0M1316.2 1462.6h4.0M1271.7 1464.1h6.1M1310.1 1464.1h4.0M1316.2 1464.1h4.0M1312.1 1465.6h2.0M1320.2 1465.6h2.0M1314.2 1467.1h2.0M1308.1 1470.1h2.0M1318.2 1470.1h2.0M1312.1 1471.6h2.0M1316.2 1471.6h2.0M1265.7 1473.1h10.1M1308.1 1473.1h4.0M1265.7 1476.1h10.1M1306.1 1476.1h2.0M1308.1 1479.1h8.1M1316.2 1482.1h2.0M1316.2 1483.6h6.1M1304.1 1485.1h8.1M1316.2 1485.1h2.0M1312.1 1486.6h2.0M1348.5 1486.6h8.1M1310.1 1489.6h2.0M1316.2 1489.6h2.0M1334.3 1489.6h18.2M1283.9 1492.6h14.1M1312.1 1492.6h2.0M1308.1 1494.1h2.0M1312.1 1494.1h2.0M1310.1 1495.6h2.0M1316.2 1495.6h2.0M1310.1 1497.1h2.0M1314.2 1497.1h4.0M1310.1 1498.6h6.1M1310.1 1500.1h6.1M1318.2 1500.1h2.0M1312.1 1501.6h2.0M1310.1 1503.1h4.0M1316.2 1503.1h4.0M1308.1 1504.6h2.0M1310.1 1506.1h2.0M1314.2 1506.1h4.0M1310.1 1509.1h2.0M1314.2 1509.1h2.0M1308.1 1510.6h4.0M1314.2 1510.6h4.0M1314.2 1512.1h2.0M1314.2 1515.1h2.0M1316.2 1516.6h2.0M1314.2 1518.1h4.0M1310.1 1519.6h2.0M1314.2 1519.6h2.0M1308.1 1521.1h4.0M1267.7 1522.6h10.1M1308.1 1522.6h4.0M1310.1 1524.1h2.0M1314.2 1524.1h2.0M1308.1 1525.6h2.0M1318.2 1525.6h2.0M1257.6 1527.1h20.2M1310.1 1527.1h4.0M1310.1 1528.6h2.0M1318.2 1528.6h2.0M1310.1 1530.1h2.0M1310.1 1531.6h2.0M1318.2 1531.6h2.0M1312.1 1533.1h2.0M1316.2 1534.6h2.0M1308.1 1537.6h2.0M1314.2 1539.1h4.0M1308.1 1540.6h2.0M1312.1 1540.6h2.0M1310.1 1542.0h2.0M1314.2 1542.0h2.0M1312.1 1545.0h2.0M1310.1 1546.5h6.1M1310.1 1548.0h2.0M1314.2 1548.0h4.0M1324.2 1548.0h18.2M1348.5 1548.0h4.0M1312.1 1549.5h2.0M1328.3 1549.5h18.2M1308.1 1552.5h2.0M1312.1 1552.5h2.0M1316.2 1552.5h4.0M1285.9 1555.5h4.0M1314.2 1555.5h4.0M1316.2 1557.0h2.0M1342.4 1557.0h20.2M1308.1 1560.0h2.0M1316.2 1560.0h4.0M1287.9 1564.5h4.0M1314.2 1564.5h2.0M1318.2 1564.5h2.0M1314.2 1566.0h2.0M1310.1 1567.5h2.0M1318.2 1567.5h2.0M1308.1 1569.0h2.0M1312.1 1569.0h2.0M1362.6 1572.0h4.0M1314.2 1575.0h2.0M1310.1 1576.5h2.0M1316.2 1576.5h2.0M1314.2 1581.0h2.0M1312.1 1582.5h2.0M1356.6 1582.5h8.1M1310.1 1584.0h4.0M1267.7 1587.0h28.3M1310.1 1587.0h2.0M1314.2 1588.5h4.0M1316.2 1590.0h4.0M1316.2 1594.5h2.0M1310.1 1596.0h2.0M1316.2 1596.0h2.0M1314.2 1597.5h2.0M1312.1 1602.0h2.0M1312.1 1605.0h4.0M1312.1 1617.0h4.0M1310.1 1618.5h6.1M1314.2 1620.0h2.0M1310.1 1621.5h2.0M1314.2 1621.5h2.0M1312.1 1627.4h2.0M1314.2 1642.4h2.0M1310.1 1651.4h4.0M1310.1 1654.4h2.0M1316.2 1654.4h2.0M1310.1 1664.9h2.0M1312.1 1670.9h2.0M1312.1 1676.9h2.0M1312.1 1678.4h2.0M1310.1 1682.9h2.0M1314.2 1682.9h4.0M1312.1 1687.4h2.0M1312.1 1688.9h2.0M1316.2 1688.9h2.0M1314.2 1690.4h2.0M1312.1 1691.9h2.0M1312.1 1693.4h2.0M1314.2 1696.4h2.0M1312.1 1709.8h2.0M1312.1 1715.8h2.0M1312.1 1717.3h2.0M1314.2 1718.8h2.0M1314.2 1729.3h2.0M1314.2 1733.8h2.0M1314.2 1739.8h2.0M1312.1 1744.3h4.0M1312.1 1750.3h2.0M1314.2 1753.3h2.0M1314.2 1757.8h2.0M1312.1 1762.3h4.0M1312.1 1783.3h2.0" stroke="#d72422" stroke-width="1.50"/>
<path d="M1302.0 1374.2h2.0M1324.2 1374.2h8.1M1350.5 1375.7h12.1M1294.0 1377.2h6.1M1342.4 1377.2h8.1M1368.7 1377.2h2.0M1310.1 1378.7h2.0M1316.2 1378.7h2.0M1314.2 1380.2h2.0M1318.2 1380.2h4.0M1322.2 1381.7h16.2M1346.5 1381.7h6.1M1300.0 1383.2h4.0M1306.1 1383.2h2.0M1318.2 1383.2h4.0M1300.0 1384.7h8.1M1308.1 1386.2h2.0M1314.2 1389.2h2.0M1338.4 1389.2h6.1M1306.1 1390.7h6.1M1318.2 1390.7h2.0M1287.9 1392.2h4.0M1314.2 1392.2h4.0M1310.1 1393.7h2.0M1306.1 1395.2h2.0M1314.2 1395.2h4.0M1320.2 1395.2h2.0M1310.1 1396.7h2.0M1314.2 1396.7h2.0M1318.2 1396.7h2.0M1360.6 1402.7h6.1M1312.1 1404.2h4.0M1312.1 1405.7h2.0M1310.1 1407.2h2.0M1259.6 1408.7h12.1M1308.1 1408.7h4.0M1316.2 1408.7h2.0M1308.1 1410.2h2.0M1316.2 1410.2h2.0M1316.2 1411.7h4.0M1308.1 1413.2h2.0M1312.1 1413.2h2.0M1316.2 1413.2h4.0M1348.5 1414.7h6.1M1334.3 1416.2h8.1M1316.2 1417.7h4.0M1314.2 1419.2h2.0M1291.9 1420.7h12.1M1354.5 1420.7h14.1M1318.2 1422.2h2.0M1308.1 1423.7h2.0M1312.1 1423.7h2.0M1316.2 1423.7h2.0M1366.7 1425.2h4.0M1312.1 1426.7h4.0M1314.2 1428.2h2.0M1316.2 1429.7h2.0M1271.7 1431.2h34.3M1312.1 1432.7h2.0M1312.1 1435.7h2.0M1310.1 1438.7h18.2M1308.1 1441.7h2.0M1312.1 1443.2h2.0M1310.1 1444.7h2.0M1316.2 1444.7h4.0M1348.5 1444.7h4.0M1312.1 1447.7h2.0M1334.3 1447.7h10.1M1314.2 1450.7h2.0M1336.4 1450.7h18.2M1366.7 1456.7h4.0M1316.2 1458.1h2.0M1310.1 1459.6h4.0M1310.1 1461.1h2.0M1314.2 1461.1h2.0M1310.1 1465.6h2.0M1314.2 1465.6h4.0M1312.1 1467.1h2.0M1306.1 1468.6h20.2M1314.2 1470.1h2.0M1285.9 1473.1h10.1M1312.1 1473.1h6.1M1314.2 1476.1h6.1M1316.2 1479.1h2.0M1310.1 1480.6h16.2M1308.1 1483.6h2.0M1312.1 1485.1h2.0M1318.2 1485.1h2.0M1320.2 1488.1h14.1M1312.1 1489.6h4.0M1263.7 1492.6h18.2M1326.3 1492.6h14.1M1308.1 1495.6h2.0M1312.1 1495.6h4.0M1314.2 1501.6h2.0M1310.1 1504.6h2.0M1314.2 1504.6h2.0M1312.1 1506.1h2.0M1330.3 1506.1h8.1M1273.8 1509.1h16.2M1312.1 1509.1h2.0M1350.5 1510.6h18.2M1310.1 1516.6h2.0M1314.2 1516.6h2.0M1312.1 1518.1h2.0M1265.7 1521.1h10.1M1312.1 1521.1h2.0M1312.1 1524.1h2.0M1316.2 1524.1h12.1M1312.1 1525.6h4.0M1308.1 1530.1h2.0M1312.1 1530.1h4.0M1310.1 1533.1h2.0M1314.2 1533.1h2.0M1314.2 1534.6h2.0M1312.1 1536.1h2.0M1310.1 1539.1h2.0M1310.1 1540.6h2.0M1314.2 1540.6h4.0M1312.1 1557.0h4.0M1312.1 1558.5h2.0M1310.1 1560.0h6.1M1316.2 1564.5h2.0M1314.2 1567.5h2.0M1314.2 1569.0h4.0M1310.1 1575.0h4.0M1312.1 1576.5h2.0M1314.2 1584.0h2.0M1312.1 1585.5h4.0M1312.1 1590.0h2.0M1312.1 1594.5h4.0M1312.1 1633.4h4.0M1312.1 1640.9h2.0M1312.1 1646.9h6.1M1314.2 1651.4h2.0M1314.2 1654.4h2.0M1312.1 1657.4h2.0M1312.1 1681.4h4.0M1312.1 1682.9h2.0M1314.2 1687.4h2.0M1314.2 1688.9h2.0M1312.1 1690.4h2.0M1314.2 1715.8h2.0M1314.2 1717.3h2.0M1312.1 1723.3h4.0M1312.1 1732.3h2.0M1312.1 1754.8h2.0" stroke="#be151a" stroke-width="1.50"/>
<path d="M1259.6 1374.2h6.1M1298.0 1374.2h4.0M1356.6 1374.2h6.1M1261.6 1375.7h6.1M1298.0 1375.7h14.1M1314.2 1375.7h4.0M1334.3 1375.7h2.0M1271.7 1377.2h4.0M1318.2 1378.7h4.0M1340.4 1378.7h14.1M1336.4 1380.2h4.0M1352.5 1380.2h8.1M1364.6 1380.2h6.1M1300.0 1381.7h14.1M1318.2 1381.7h2.0M1310.1 1383.2h2.0M1316.2 1383.2h2.0M1360.6 1384.7h10.1M1310.1 1386.2h4.0M1318.2 1386.2h4.0M1346.5 1386.2h14.1M1340.4 1387.7h16.2M1312.1 1389.2h2.0M1330.3 1392.2h18.2M1281.8 1393.7h18.2M1314.2 1393.7h2.0M1322.2 1393.7h28.3M1308.1 1395.2h2.0M1312.1 1395.2h2.0M1312.1 1396.7h2.0M1336.4 1398.2h6.1M1356.6 1398.2h10.1M1291.9 1399.7h4.0M1354.5 1399.7h14.1M1308.1 1401.2h10.1M1259.6 1402.7h10.1M1310.1 1405.7h2.0M1316.2 1405.7h4.0M1273.8 1408.7h12.1M1312.1 1408.7h2.0M1318.2 1408.7h2.0M1310.1 1413.2h2.0M1366.7 1413.2h4.0M1314.2 1417.7h2.0M1300.0 1422.2h12.1M1314.2 1422.2h4.0M1328.3 1423.7h14.1M1285.9 1434.2h8.1M1298.0 1434.2h8.1M1312.1 1434.2h18.2M1316.2 1435.7h16.2M1314.2 1441.7h6.1M1314.2 1443.2h2.0M1308.1 1450.7h6.1M1302.0 1452.2h6.1M1328.3 1459.6h18.2M1316.2 1461.1h2.0M1314.2 1464.1h2.0M1350.5 1471.6h8.1M1310.1 1476.1h2.0M1310.1 1483.6h2.0M1314.2 1485.1h2.0M1320.2 1485.1h12.1M1312.1 1488.1h2.0M1314.2 1503.1h2.0M1316.2 1504.6h2.0M1312.1 1510.6h2.0M1312.1 1516.6h2.0M1314.2 1521.1h2.0M1312.1 1522.6h6.1M1312.1 1528.6h4.0M1312.1 1531.6h6.1M1314.2 1537.6h2.0M1314.2 1552.5h2.0M1312.1 1555.5h2.0M1312.1 1561.5h4.0M1312.1 1564.5h2.0M1312.1 1567.5h2.0M1314.2 1576.5h2.0M1314.2 1582.5h2.0M1310.1 1585.5h2.0M1312.1 1587.0h2.0M1316.2 1587.0h2.0M1312.1 1588.5h2.0M1312.1 1675.4h2.0" stroke="#a50f15" stroke-width="1.50"/>
<path d="M1265.7 1374.2h32.3M1304.1 1374.2h20.2M1332.3 1374.2h24.2M1362.6 1374.2h8.1M1267.7 1375.7h18.2M1320.2 1375.7h14.1M1336.4 1375.7h14.1M1362.6 1375.7h8.1M1275.8 1377.2h18.2M1300.0 1377.2h42.4M1354.5 1377.2h14.1M1322.2 1378.7h16.2M1296.0 1380.2h18.2M1267.7 1381.7h6.1M1279.8 1381.7h16.2M1314.2 1381.7h4.0M1368.7 1381.7h2.0M1259.6 1383.2h18.2M1308.1 1383.2h2.0M1312.1 1383.2h4.0M1304.1 1386.2h4.0M1314.2 1386.2h4.0M1269.7 1387.7h16.2M1306.1 1387.7h12.1M1320.2 1387.7h20.2M1366.7 1389.2h4.0M1312.1 1390.7h4.0M1298.0 1392.2h16.2M1310.1 1395.2h2.0M1368.7 1395.2h2.0M1330.3 1399.7h16.2M1316.2 1402.7h16.2M1287.9 1405.7h18.2M1277.8 1407.2h4.0M1310.1 1410.2h2.0M1314.2 1410.2h2.0M1314.2 1413.2h2.0M1310.1 1417.7h4.0M1312.1 1422.2h2.0M1310.1 1423.7h2.0M1310.1 1441.7h2.0M1312.1 1476.1h2.0M1312.1 1483.6h4.0M1312.1 1504.6h2.0M1312.1 1537.6h2.0M1314.2 1587.0h2.0" stroke="#7c0510" stroke-width="1.50"/>
<rect x="1257.6" y="1373.5" width="113.1" height="419.5" fill="none" stroke="#000" stroke-width="2.6"/>
<rect x="1377.8" y="1373.5" width="112.9" height="419.5" fill="#ffeee6"/>
<path d="M1426.2 1375.7h2.0M1440.3 1380.2h2.0M1438.3 1384.7h2.0M1440.3 1387.7h2.0M1426.2 1389.2h2.0M1440.3 1389.2h2.0M1426.2 1390.7h2.0M1440.3 1390.7h2.0M1424.2 1393.7h6.0M1440.3 1393.7h2.0M1424.2 1395.2h4.0M1440.3 1395.2h2.0M1426.2 1396.7h2.0M1440.3 1396.7h2.0M1426.2 1398.2h4.0M1438.3 1398.2h2.0M1426.2 1399.7h2.0M1438.3 1399.7h2.0M1442.3 1399.7h2.0M1426.2 1401.2h2.0M1428.2 1402.7h4.0M1438.3 1402.7h4.0M1426.2 1404.2h4.0M1438.3 1404.2h4.0M1426.2 1405.7h2.0M1440.3 1405.7h4.0M1426.2 1407.2h4.0M1440.3 1407.2h2.0M1424.2 1408.7h4.0M1440.3 1408.7h2.0M1426.2 1410.2h2.0M1440.3 1410.2h2.0M1444.3 1410.2h2.0M1426.2 1411.7h2.0M1424.2 1413.2h2.0M1426.2 1414.7h10.1M1438.3 1414.7h2.0M1428.2 1416.2h4.0M1436.3 1416.2h2.0M1426.2 1417.7h2.0M1440.3 1417.7h2.0M1426.2 1419.2h2.0M1430.2 1419.2h2.0M1440.3 1419.2h2.0M1428.2 1420.7h2.0M1438.3 1420.7h2.0M1440.3 1422.2h2.0M1424.2 1423.7h4.0M1440.3 1423.7h2.0M1428.2 1425.2h4.0M1436.3 1425.2h4.0M1422.2 1426.7h2.0M1428.2 1426.7h2.0M1428.2 1428.2h2.0M1426.2 1429.7h2.0M1438.3 1429.7h4.0M1428.2 1431.2h4.0M1434.2 1431.2h4.0M1440.3 1431.2h2.0M1424.2 1432.7h6.0M1438.3 1432.7h4.0M1428.2 1434.2h2.0M1438.3 1434.2h2.0M1428.2 1435.7h2.0M1428.2 1437.2h2.0M1438.3 1437.2h4.0M1428.2 1438.7h2.0M1432.2 1438.7h2.0M1436.3 1438.7h2.0M1430.2 1440.2h2.0M1436.3 1440.2h4.0M1426.2 1441.7h4.0M1440.3 1441.7h2.0M1424.2 1443.2h4.0M1440.3 1443.2h4.0M1426.2 1444.7h4.0M1438.3 1444.7h4.0M1426.2 1446.2h2.0M1434.2 1446.2h6.0M1432.2 1447.7h2.0M1436.3 1447.7h4.0M1426.2 1449.2h6.0M1436.3 1449.2h6.0M1426.2 1450.7h4.0M1438.3 1450.7h2.0M1430.2 1452.2h8.1M1428.2 1453.7h2.0M1438.3 1453.7h4.0M1428.2 1455.2h2.0M1440.3 1455.2h2.0M1438.3 1456.7h2.0M1426.2 1458.1h4.0M1438.3 1458.1h6.0M1438.3 1459.6h6.0M1426.2 1461.1h4.0M1440.3 1461.1h2.0M1426.2 1462.6h4.0M1438.3 1462.6h2.0M1426.2 1464.1h4.0M1438.3 1464.1h2.0M1438.3 1465.6h4.0M1428.2 1467.1h2.0M1438.3 1467.1h2.0M1426.2 1468.6h2.0M1430.2 1468.6h2.0M1438.3 1468.6h2.0M1428.2 1470.1h2.0M1438.3 1470.1h2.0M1428.2 1471.6h2.0M1440.3 1473.1h2.0M1428.2 1474.6h4.0M1434.2 1474.6h2.0M1438.3 1474.6h2.0M1426.2 1476.1h2.0M1440.3 1476.1h2.0M1430.2 1477.6h8.1M1438.3 1479.1h4.0M1422.2 1480.6h2.0M1426.2 1480.6h4.0M1428.2 1482.1h4.0M1438.3 1482.1h4.0M1428.2 1483.6h2.0M1426.2 1485.1h4.0M1438.3 1485.1h2.0M1428.2 1486.6h4.0M1438.3 1486.6h2.0M1426.2 1488.1h4.0M1424.2 1489.6h6.0M1436.3 1491.1h2.0M1430.2 1492.6h2.0M1434.2 1492.6h2.0M1442.3 1492.6h2.0M1426.2 1494.1h4.0M1438.3 1494.1h6.0M1428.2 1495.6h2.0M1428.2 1497.1h2.0M1438.3 1497.1h2.0M1428.2 1498.6h4.0M1438.3 1498.6h2.0M1424.2 1500.1h6.0M1426.2 1501.6h4.0M1426.2 1503.1h2.0M1438.3 1503.1h4.0M1426.2 1504.6h2.0M1428.2 1506.1h2.0M1442.3 1506.1h2.0M1430.2 1507.6h2.0M1434.2 1507.6h4.0M1424.2 1509.1h2.0M1438.3 1509.1h2.0M1426.2 1510.6h2.0M1438.3 1512.1h2.0M1430.2 1513.6h2.0M1434.2 1513.6h4.0M1440.3 1513.6h2.0M1426.2 1515.1h6.0M1436.3 1515.1h4.0M1428.2 1516.6h2.0M1438.3 1516.6h2.0M1428.2 1518.1h2.0M1438.3 1518.1h4.0M1442.3 1519.6h2.0M1426.2 1521.1h4.0M1438.3 1521.1h4.0M1428.2 1522.6h2.0M1438.3 1522.6h4.0M1428.2 1524.1h2.0M1426.2 1525.6h4.0M1438.3 1525.6h4.0M1428.2 1527.1h2.0M1438.3 1527.1h2.0M1426.2 1528.6h2.0M1438.3 1528.6h2.0M1440.3 1530.1h2.0M1426.2 1531.6h4.0M1438.3 1531.6h4.0M1426.2 1533.1h2.0M1438.3 1533.1h6.0M1424.2 1534.6h2.0M1424.2 1536.1h6.0M1438.3 1536.1h2.0M1426.2 1537.6h2.0M1438.3 1537.6h4.0M1426.2 1539.1h4.0M1438.3 1539.1h2.0M1426.2 1540.6h4.0M1438.3 1540.6h2.0M1432.2 1542.0h2.0M1436.3 1542.0h4.0M1430.2 1543.5h4.0M1438.3 1543.5h2.0M1442.3 1543.5h2.0M1428.2 1545.0h4.0M1436.3 1545.0h4.0M1428.2 1546.5h2.0M1438.3 1546.5h2.0M1426.2 1548.0h4.0M1438.3 1548.0h2.0M1428.2 1549.5h2.0M1432.2 1549.5h2.0M1436.3 1549.5h2.0M1426.2 1551.0h8.1M1436.3 1551.0h4.0M1428.2 1552.5h2.0M1430.2 1554.0h4.0M1424.2 1555.5h4.0M1428.2 1557.0h2.0M1428.2 1558.5h2.0M1438.3 1558.5h2.0M1428.2 1560.0h2.0M1426.2 1561.5h4.0M1438.3 1561.5h4.0M1434.2 1563.0h4.0M1428.2 1564.5h2.0M1438.3 1564.5h4.0M1430.2 1566.0h2.0M1438.3 1566.0h2.0M1428.2 1567.5h2.0M1426.2 1569.0h2.0M1438.3 1569.0h4.0M1428.2 1570.5h2.0M1434.2 1570.5h6.0M1434.2 1572.0h6.0M1430.2 1573.5h8.1M1428.2 1575.0h2.0M1438.3 1575.0h2.0M1428.2 1576.5h2.0M1438.3 1576.5h2.0M1436.3 1578.0h4.0M1430.2 1579.5h2.0M1434.2 1579.5h4.0M1428.2 1581.0h2.0M1440.3 1581.0h2.0M1438.3 1582.5h6.0M1428.2 1584.0h2.0M1438.3 1584.0h2.0M1428.2 1585.5h2.0M1438.3 1585.5h2.0M1428.2 1587.0h2.0M1438.3 1587.0h4.0M1428.2 1588.5h2.0M1438.3 1588.5h2.0M1426.2 1590.0h4.0M1438.3 1590.0h2.0M1428.2 1591.5h2.0M1432.2 1591.5h4.0M1428.2 1593.0h8.1M1428.2 1594.5h2.0M1438.3 1594.5h2.0M1426.2 1596.0h2.0M1438.3 1596.0h2.0M1428.2 1597.5h4.0M1436.3 1597.5h6.0M1432.2 1599.0h6.0M1428.2 1600.5h2.0M1426.2 1602.0h2.0M1430.2 1602.0h2.0M1438.3 1602.0h2.0M1428.2 1603.5h2.0M1436.3 1603.5h2.0M1430.2 1605.0h2.0M1436.3 1605.0h4.0M1430.2 1606.5h2.0M1436.3 1606.5h2.0M1430.2 1608.0h10.1M1430.2 1609.5h2.0M1436.3 1609.5h2.0M1430.2 1611.0h4.0M1436.3 1611.0h6.0M1430.2 1612.5h6.0M1428.2 1614.0h2.0M1428.2 1615.5h2.0M1432.2 1615.5h2.0M1436.3 1615.5h2.0M1428.2 1618.5h4.0M1428.2 1620.0h2.0M1428.2 1621.5h4.0M1438.3 1621.5h2.0M1430.2 1623.0h2.0M1434.2 1623.0h6.0M1428.2 1624.5h10.1M1440.3 1624.5h2.0M1428.2 1625.9h10.1M1430.2 1627.4h2.0M1436.3 1627.4h4.0M1426.2 1628.9h2.0M1430.2 1628.9h8.1M1430.2 1630.4h2.0M1436.3 1630.4h2.0M1430.2 1631.9h2.0M1436.3 1631.9h4.0M1428.2 1633.4h2.0M1438.3 1633.4h2.0M1432.2 1634.9h4.0M1438.3 1634.9h2.0M1430.2 1636.4h2.0M1440.3 1636.4h2.0M1430.2 1637.9h2.0M1434.2 1637.9h4.0M1438.3 1640.9h2.0M1430.2 1642.4h4.0M1436.3 1642.4h4.0M1432.2 1643.9h6.0M1430.2 1645.4h6.0M1428.2 1646.9h2.0M1438.3 1646.9h2.0M1428.2 1648.4h6.0M1436.3 1648.4h2.0M1432.2 1649.9h4.0M1428.2 1651.4h2.0M1438.3 1651.4h2.0M1428.2 1652.9h4.0M1436.3 1652.9h4.0M1428.2 1654.4h4.0M1430.2 1655.9h2.0M1434.2 1655.9h4.0M1428.2 1657.4h2.0M1432.2 1658.9h6.0M1430.2 1660.4h10.1M1428.2 1663.4h4.0M1436.3 1663.4h4.0M1436.3 1666.4h2.0M1430.2 1667.9h2.0M1438.3 1667.9h4.0M1432.2 1669.4h2.0M1430.2 1670.9h2.0M1432.2 1672.4h4.0M1430.2 1675.4h2.0M1438.3 1675.4h2.0M1430.2 1676.9h2.0M1436.3 1676.9h2.0M1440.3 1676.9h2.0M1428.2 1678.4h2.0M1430.2 1679.9h2.0M1436.3 1679.9h2.0M1428.2 1681.4h2.0M1436.3 1681.4h2.0M1438.3 1682.9h4.0M1428.2 1684.4h2.0M1434.2 1684.4h4.0M1430.2 1685.9h10.1M1426.2 1687.4h2.0M1430.2 1687.4h2.0M1436.3 1687.4h2.0M1430.2 1690.4h2.0M1436.3 1690.4h2.0M1430.2 1691.9h2.0M1436.3 1691.9h4.0M1430.2 1693.4h2.0M1436.3 1693.4h2.0M1432.2 1694.9h4.0M1430.2 1696.4h2.0M1436.3 1696.4h2.0M1430.2 1697.9h8.1M1430.2 1699.4h8.1M1432.2 1700.9h4.0M1432.2 1702.4h6.0M1430.2 1703.9h8.1M1428.2 1705.4h12.1M1432.2 1706.9h6.0M1430.2 1708.4h2.0M1434.2 1708.4h2.0M1430.2 1709.8h2.0M1436.3 1709.8h4.0M1430.2 1711.3h8.1M1432.2 1712.8h6.0M1428.2 1714.3h4.0M1436.3 1714.3h2.0M1426.2 1715.8h2.0M1430.2 1717.3h2.0M1436.3 1717.3h2.0M1428.2 1718.8h4.0M1434.2 1718.8h4.0M1430.2 1720.3h6.0M1436.3 1721.8h2.0M1436.3 1723.3h4.0M1430.2 1724.8h2.0M1436.3 1724.8h2.0M1430.2 1726.3h2.0M1436.3 1726.3h2.0M1432.2 1727.8h6.0M1436.3 1729.3h4.0M1426.2 1730.8h2.0M1430.2 1730.8h2.0M1436.3 1730.8h2.0M1430.2 1732.3h2.0M1430.2 1733.8h2.0M1436.3 1733.8h2.0M1436.3 1735.3h2.0M1436.3 1736.8h2.0M1436.3 1738.3h2.0M1430.2 1739.8h2.0M1436.3 1739.8h2.0M1430.2 1741.3h2.0M1434.2 1741.3h6.0M1428.2 1742.8h10.1M1428.2 1744.3h4.0M1436.3 1744.3h4.0M1430.2 1745.8h6.0M1432.2 1747.3h8.1M1430.2 1748.8h4.0M1430.2 1750.3h2.0M1434.2 1750.3h4.0M1432.2 1751.8h8.1M1430.2 1753.3h2.0M1436.3 1753.3h2.0M1430.2 1754.8h2.0M1438.3 1756.3h2.0M1428.2 1757.8h2.0M1436.3 1757.8h2.0M1432.2 1759.3h2.0M1430.2 1760.8h2.0M1434.2 1760.8h2.0M1430.2 1762.3h2.0M1436.3 1762.3h2.0M1432.2 1763.8h6.0M1430.2 1765.3h4.0M1436.3 1765.3h2.0M1436.3 1766.8h2.0M1414.1 1768.3h12.1M1430.2 1768.3h2.0M1436.3 1768.3h2.0M1432.2 1769.8h6.0M1434.2 1771.3h4.0M1432.2 1772.8h2.0M1436.3 1772.8h2.0M1432.2 1774.3h4.0M1430.2 1775.8h2.0M1434.2 1775.8h4.0M1432.2 1777.3h2.0M1436.3 1777.3h2.0M1432.2 1778.8h8.1M1436.3 1780.3h2.0M1430.2 1781.8h2.0M1436.3 1781.8h4.0M1428.2 1783.3h4.0M1434.2 1783.3h2.0M1434.2 1784.8h4.0M1430.2 1786.3h2.0M1436.3 1786.3h2.0M1432.2 1787.8h4.0M1438.3 1787.8h2.0M1414.1 1789.3h4.0M1430.2 1789.3h6.0M1432.2 1790.8h2.0M1436.3 1790.8h2.0" stroke="#fee0d2" stroke-width="1.50"/>
<path d="M1428.2 1375.7h2.0M1438.3 1380.2h2.0M1426.2 1383.2h4.0M1440.3 1383.2h2.0M1432.2 1384.7h6.0M1438.3 1387.7h2.0M1428.2 1389.2h2.0M1438.3 1389.2h2.0M1436.3 1392.2h6.0M1438.3 1393.7h2.0M1438.3 1395.2h2.0M1428.2 1396.7h2.0M1438.3 1396.7h2.0M1430.2 1398.2h4.0M1436.3 1398.2h2.0M1428.2 1399.7h4.0M1436.3 1399.7h2.0M1428.2 1401.2h2.0M1438.3 1401.2h2.0M1432.2 1402.7h6.0M1438.3 1405.7h2.0M1430.2 1407.2h4.0M1438.3 1407.2h2.0M1428.2 1410.2h2.0M1438.3 1410.2h2.0M1428.2 1411.7h2.0M1438.3 1413.2h4.0M1436.3 1414.7h2.0M1432.2 1416.2h4.0M1428.2 1417.7h2.0M1428.2 1419.2h2.0M1436.3 1419.2h4.0M1430.2 1420.7h2.0M1436.3 1420.7h2.0M1438.3 1422.2h2.0M1428.2 1423.7h2.0M1432.2 1425.2h4.0M1432.2 1428.2h4.0M1428.2 1429.7h4.0M1436.3 1429.7h2.0M1432.2 1431.2h2.0M1430.2 1432.7h2.0M1430.2 1434.2h8.1M1430.2 1437.2h8.1M1430.2 1438.7h2.0M1434.2 1438.7h2.0M1432.2 1440.2h4.0M1438.3 1441.7h2.0M1428.2 1443.2h2.0M1438.3 1443.2h2.0M1430.2 1446.2h4.0M1434.2 1447.7h2.0M1432.2 1449.2h4.0M1430.2 1450.7h2.0M1434.2 1450.7h4.0M1430.2 1453.7h8.1M1430.2 1455.2h2.0M1434.2 1455.2h6.0M1428.2 1459.6h4.0M1434.2 1461.1h6.0M1430.2 1462.6h4.0M1436.3 1462.6h2.0M1430.2 1464.1h2.0M1436.3 1464.1h2.0M1430.2 1467.1h4.0M1436.3 1467.1h2.0M1432.2 1468.6h6.0M1430.2 1470.1h2.0M1430.2 1471.6h2.0M1434.2 1471.6h2.0M1438.3 1471.6h2.0M1428.2 1473.1h2.0M1438.3 1473.1h2.0M1432.2 1474.6h2.0M1436.3 1474.6h2.0M1428.2 1476.1h2.0M1436.3 1476.1h4.0M1428.2 1479.1h4.0M1436.3 1479.1h2.0M1434.2 1482.1h4.0M1438.3 1483.6h2.0M1432.2 1486.6h6.0M1430.2 1488.1h2.0M1438.3 1488.1h2.0M1430.2 1489.6h2.0M1436.3 1489.6h4.0M1432.2 1492.6h2.0M1436.3 1492.6h2.0M1430.2 1494.1h2.0M1430.2 1495.6h2.0M1438.3 1495.6h2.0M1430.2 1497.1h2.0M1434.2 1497.1h4.0M1434.2 1498.6h4.0M1430.2 1500.1h2.0M1438.3 1500.1h2.0M1430.2 1501.6h8.1M1428.2 1503.1h2.0M1428.2 1504.6h2.0M1438.3 1504.6h2.0M1432.2 1506.1h2.0M1438.3 1506.1h2.0M1432.2 1507.6h2.0M1428.2 1509.1h8.1M1428.2 1510.6h2.0M1438.3 1510.6h2.0M1430.2 1512.1h2.0M1434.2 1512.1h4.0M1432.2 1513.6h2.0M1432.2 1515.1h4.0M1430.2 1521.1h2.0M1430.2 1522.6h2.0M1436.3 1522.6h2.0M1436.3 1525.6h2.0M1430.2 1527.1h2.0M1434.2 1527.1h4.0M1428.2 1528.6h4.0M1436.3 1528.6h2.0M1428.2 1530.1h2.0M1438.3 1530.1h2.0M1436.3 1531.6h2.0M1428.2 1533.1h4.0M1436.3 1533.1h2.0M1428.2 1534.6h4.0M1436.3 1534.6h4.0M1430.2 1536.1h4.0M1436.3 1536.1h2.0M1428.2 1537.6h2.0M1436.3 1537.6h2.0M1430.2 1539.1h4.0M1436.3 1539.1h2.0M1430.2 1542.0h2.0M1434.2 1542.0h2.0M1434.2 1543.5h4.0M1432.2 1545.0h4.0M1430.2 1546.5h2.0M1430.2 1548.0h2.0M1436.3 1548.0h2.0M1430.2 1549.5h2.0M1434.2 1549.5h2.0M1434.2 1551.0h2.0M1438.3 1552.5h2.0M1428.2 1555.5h2.0M1438.3 1555.5h2.0M1430.2 1557.0h2.0M1438.3 1557.0h2.0M1430.2 1558.5h2.0M1436.3 1558.5h2.0M1430.2 1560.0h2.0M1438.3 1560.0h2.0M1430.2 1561.5h2.0M1436.3 1561.5h2.0M1430.2 1564.5h2.0M1432.2 1566.0h2.0M1436.3 1566.0h2.0M1438.3 1567.5h2.0M1430.2 1570.5h4.0M1432.2 1572.0h2.0M1436.3 1575.0h2.0M1436.3 1576.5h2.0M1430.2 1578.0h6.0M1432.2 1579.5h2.0M1430.2 1581.0h8.1M1428.2 1582.5h4.0M1436.3 1582.5h2.0M1436.3 1584.0h2.0M1436.3 1585.5h2.0M1436.3 1587.0h2.0M1430.2 1588.5h4.0M1436.3 1588.5h2.0M1408.0 1590.0h8.1M1430.2 1590.0h2.0M1430.2 1594.5h2.0M1436.3 1594.5h2.0M1428.2 1596.0h4.0M1436.3 1596.0h2.0M1432.2 1597.5h4.0M1430.2 1599.0h2.0M1430.2 1600.5h8.1M1432.2 1602.0h2.0M1436.3 1602.0h2.0M1430.2 1603.5h6.0M1432.2 1605.0h4.0M1432.2 1606.5h4.0M1432.2 1609.5h4.0M1434.2 1611.0h2.0M1430.2 1614.0h2.0M1434.2 1614.0h4.0M1434.2 1615.5h2.0M1430.2 1617.0h2.0M1436.3 1617.0h2.0M1434.2 1618.5h4.0M1430.2 1620.0h8.1M1432.2 1621.5h2.0M1436.3 1621.5h2.0M1432.2 1623.0h2.0M1432.2 1627.4h4.0M1432.2 1630.4h4.0M1432.2 1631.9h4.0M1430.2 1633.4h2.0M1436.3 1633.4h2.0M1434.2 1636.4h4.0M1432.2 1637.9h2.0M1430.2 1640.9h4.0M1436.3 1640.9h2.0M1434.2 1642.4h2.0M1430.2 1646.9h2.0M1436.3 1646.9h2.0M1434.2 1648.4h2.0M1482.6 1649.9h8.1M1430.2 1651.4h2.0M1436.3 1651.4h2.0M1434.2 1652.9h2.0M1432.2 1655.9h2.0M1424.2 1657.4h4.0M1430.2 1657.4h2.0M1434.2 1657.4h4.0M1379.8 1660.4h12.1M1430.2 1661.9h4.0M1436.3 1661.9h2.0M1432.2 1663.4h4.0M1430.2 1664.9h8.1M1430.2 1666.4h6.0M1432.2 1667.9h2.0M1436.3 1667.9h2.0M1434.2 1669.4h2.0M1432.2 1670.9h6.0M1424.2 1673.9h20.2M1436.3 1675.4h2.0M1432.2 1676.9h4.0M1430.2 1678.4h4.0M1436.3 1678.4h2.0M1432.2 1679.9h4.0M1430.2 1681.4h2.0M1434.2 1681.4h2.0M1432.2 1682.9h2.0M1436.3 1682.9h2.0M1430.2 1684.4h4.0M1432.2 1687.4h4.0M1430.2 1688.9h2.0M1436.3 1688.9h2.0M1460.5 1688.9h18.1M1432.2 1691.9h4.0M1432.2 1693.4h4.0M1434.2 1696.4h2.0M1385.9 1705.4h12.1M1432.2 1708.4h2.0M1432.2 1709.8h4.0M1432.2 1714.3h4.0M1430.2 1715.8h4.0M1436.3 1715.8h2.0M1432.2 1718.8h2.0M1430.2 1721.8h6.0M1430.2 1723.3h2.0M1432.2 1724.8h4.0M1432.2 1726.3h4.0M1379.8 1729.3h12.1M1434.2 1729.3h2.0M1432.2 1730.8h4.0M1434.2 1732.3h4.0M1432.2 1733.8h4.0M1432.2 1735.3h4.0M1432.2 1736.8h4.0M1432.2 1738.3h4.0M1432.2 1739.8h4.0M1432.2 1741.3h2.0M1454.4 1744.3h14.1M1434.2 1748.8h2.0M1432.2 1750.3h2.0M1418.1 1753.3h8.1M1434.2 1753.3h2.0M1432.2 1754.8h6.0M1430.2 1756.3h2.0M1434.2 1756.3h4.0M1430.2 1757.8h6.0M1432.2 1760.8h2.0M1432.2 1762.3h4.0M1442.3 1762.3h6.0M1434.2 1765.3h2.0M1430.2 1766.8h6.0M1432.2 1768.3h4.0M1454.4 1772.8h10.1M1379.8 1774.3h12.1M1387.9 1775.8h14.1M1432.2 1775.8h2.0M1430.2 1778.8h2.0M1432.2 1780.3h4.0M1432.2 1781.8h4.0M1432.2 1783.3h2.0M1432.2 1784.8h2.0M1432.2 1786.3h4.0M1432.2 1792.3h4.0" stroke="#fdc7b1" stroke-width="1.50"/>
<path d="M1436.3 1375.7h4.0M1436.3 1380.2h2.0M1438.3 1383.2h2.0M1430.2 1389.2h8.1M1428.2 1390.7h2.0M1438.3 1390.7h2.0M1432.2 1392.2h4.0M1430.2 1393.7h8.1M1428.2 1395.2h2.0M1430.2 1396.7h2.0M1436.3 1396.7h2.0M1434.2 1398.2h2.0M1432.2 1399.7h4.0M1466.5 1399.7h2.0M1430.2 1401.2h8.1M1430.2 1404.2h6.0M1428.2 1405.7h2.0M1444.3 1405.7h4.0M1436.3 1407.2h2.0M1428.2 1408.7h4.0M1436.3 1408.7h4.0M1436.3 1410.2h2.0M1430.2 1411.7h2.0M1434.2 1411.7h6.0M1436.3 1413.2h2.0M1438.3 1417.7h2.0M1432.2 1419.2h4.0M1432.2 1420.7h4.0M1430.2 1423.7h2.0M1436.3 1423.7h4.0M1456.4 1425.2h6.0M1430.2 1426.7h6.0M1430.2 1428.2h2.0M1432.2 1429.7h4.0M1432.2 1432.7h6.0M1472.6 1434.2h8.1M1430.2 1435.7h2.0M1434.2 1435.7h2.0M1436.3 1441.7h2.0M1430.2 1443.2h4.0M1436.3 1443.2h2.0M1430.2 1444.7h8.1M1432.2 1450.7h2.0M1432.2 1455.2h2.0M1428.2 1456.7h10.1M1430.2 1458.1h2.0M1436.3 1458.1h2.0M1432.2 1459.6h6.0M1430.2 1461.1h2.0M1434.2 1462.6h2.0M1434.2 1464.1h2.0M1414.1 1465.6h18.1M1436.3 1465.6h2.0M1434.2 1467.1h2.0M1406.0 1468.6h6.0M1432.2 1470.1h2.0M1436.3 1470.1h2.0M1432.2 1471.6h2.0M1436.3 1471.6h2.0M1430.2 1473.1h8.1M1385.9 1474.6h4.0M1432.2 1479.1h4.0M1432.2 1482.1h2.0M1430.2 1485.1h8.1M1432.2 1488.1h6.0M1432.2 1489.6h2.0M1432.2 1494.1h6.0M1472.6 1494.1h6.0M1434.2 1495.6h4.0M1432.2 1497.1h2.0M1432.2 1498.6h2.0M1432.2 1500.1h6.0M1430.2 1503.1h2.0M1436.3 1503.1h2.0M1430.2 1504.6h2.0M1436.3 1504.6h2.0M1430.2 1506.1h2.0M1434.2 1506.1h4.0M1436.3 1509.1h2.0M1430.2 1510.6h4.0M1436.3 1510.6h2.0M1432.2 1512.1h2.0M1430.2 1516.6h2.0M1436.3 1516.6h2.0M1430.2 1518.1h8.1M1432.2 1521.1h6.0M1432.2 1522.6h4.0M1458.4 1522.6h18.1M1430.2 1524.1h2.0M1430.2 1525.6h2.0M1434.2 1525.6h2.0M1432.2 1527.1h2.0M1430.2 1530.1h2.0M1434.2 1530.1h4.0M1430.2 1531.6h6.0M1406.0 1533.1h18.1M1432.2 1533.1h4.0M1432.2 1534.6h4.0M1434.2 1536.1h2.0M1434.2 1539.1h2.0M1430.2 1540.6h4.0M1436.3 1540.6h2.0M1432.2 1546.5h6.0M1440.3 1546.5h6.0M1432.2 1548.0h4.0M1422.2 1552.5h6.0M1430.2 1552.5h2.0M1436.3 1552.5h2.0M1430.2 1555.5h2.0M1434.2 1555.5h4.0M1416.1 1557.0h10.1M1434.2 1557.0h4.0M1432.2 1558.5h4.0M1436.3 1560.0h2.0M1432.2 1561.5h4.0M1432.2 1564.5h2.0M1436.3 1564.5h2.0M1434.2 1566.0h2.0M1430.2 1567.5h2.0M1434.2 1567.5h4.0M1436.3 1569.0h2.0M1395.9 1575.0h12.1M1430.2 1575.0h6.0M1430.2 1576.5h2.0M1434.2 1576.5h2.0M1432.2 1582.5h2.0M1430.2 1584.0h2.0M1434.2 1584.0h2.0M1430.2 1585.5h2.0M1430.2 1587.0h4.0M1434.2 1588.5h2.0M1432.2 1590.0h2.0M1436.3 1590.0h2.0M1432.2 1594.5h4.0M1404.0 1596.0h4.0M1432.2 1596.0h4.0M1434.2 1602.0h2.0M1381.8 1611.0h8.1M1432.2 1614.0h2.0M1434.2 1617.0h2.0M1432.2 1618.5h2.0M1414.1 1624.5h8.1M1470.5 1625.9h4.0M1432.2 1633.4h2.0M1432.2 1636.4h2.0M1389.9 1640.9h8.1M1434.2 1640.9h2.0M1432.2 1646.9h4.0M1434.2 1651.4h2.0M1432.2 1652.9h2.0M1432.2 1654.4h4.0M1432.2 1657.4h2.0M1434.2 1661.9h2.0M1434.2 1667.9h2.0M1432.2 1675.4h4.0M1434.2 1678.4h2.0M1432.2 1681.4h2.0M1395.9 1682.9h8.1M1434.2 1682.9h2.0M1432.2 1688.9h4.0M1404.0 1690.4h20.2M1432.2 1690.4h4.0M1462.5 1694.9h8.1M1432.2 1696.4h2.0M1379.8 1699.4h10.1M1416.1 1702.4h16.1M1381.8 1703.9h4.0M1434.2 1715.8h2.0M1432.2 1717.3h4.0M1432.2 1723.3h4.0M1430.2 1729.3h4.0M1432.2 1732.3h2.0M1432.2 1744.3h4.0M1480.6 1744.3h10.1M1414.1 1745.8h10.1M1466.5 1747.3h10.1M1402.0 1753.3h10.1M1432.2 1753.3h2.0M1432.2 1756.3h2.0M1416.1 1774.3h4.0" stroke="#fcad91" stroke-width="1.50"/>
<path d="M1416.1 1375.7h4.0M1430.2 1375.7h4.0M1450.4 1378.7h10.1M1484.7 1378.7h6.0M1434.2 1380.2h2.0M1442.3 1380.2h14.1M1393.9 1381.7h6.0M1416.1 1381.7h2.0M1440.3 1381.7h20.2M1416.1 1383.2h4.0M1430.2 1383.2h2.0M1436.3 1383.2h2.0M1444.3 1384.7h18.1M1420.1 1387.7h14.1M1436.3 1387.7h2.0M1430.2 1390.7h2.0M1430.2 1395.2h2.0M1434.2 1396.7h2.0M1436.3 1404.2h2.0M1430.2 1405.7h2.0M1434.2 1405.7h4.0M1434.2 1407.2h2.0M1430.2 1410.2h6.0M1432.2 1411.7h2.0M1389.9 1413.2h10.1M1426.2 1413.2h10.1M1460.5 1413.2h22.2M1404.0 1414.7h16.1M1430.2 1417.7h2.0M1436.3 1422.2h2.0M1432.2 1423.7h2.0M1404.0 1429.7h16.1M1432.2 1435.7h2.0M1391.9 1441.7h12.1M1430.2 1441.7h2.0M1434.2 1441.7h2.0M1434.2 1443.2h2.0M1472.6 1444.7h2.0M1456.4 1446.2h6.0M1432.2 1458.1h4.0M1395.9 1461.1h8.1M1432.2 1461.1h2.0M1432.2 1464.1h2.0M1432.2 1465.6h2.0M1434.2 1470.1h2.0M1389.9 1474.6h12.1M1430.2 1476.1h2.0M1434.2 1476.1h2.0M1430.2 1483.6h8.1M1434.2 1489.6h2.0M1416.1 1491.1h20.2M1472.6 1491.1h8.1M1432.2 1495.6h2.0M1486.7 1500.1h4.0M1406.0 1503.1h6.0M1432.2 1503.1h4.0M1398.0 1504.6h12.1M1434.2 1510.6h2.0M1432.2 1516.6h4.0M1432.2 1524.1h4.0M1432.2 1525.6h2.0M1432.2 1528.6h4.0M1430.2 1537.6h6.0M1418.1 1539.1h6.0M1434.2 1540.6h2.0M1432.2 1552.5h4.0M1434.2 1554.0h18.1M1432.2 1555.5h2.0M1432.2 1557.0h2.0M1432.2 1567.5h2.0M1460.5 1570.5h10.1M1432.2 1576.5h2.0M1434.2 1582.5h2.0M1432.2 1584.0h2.0M1432.2 1585.5h4.0M1480.6 1585.5h10.1M1434.2 1587.0h2.0M1434.2 1590.0h2.0M1398.0 1593.0h18.1M1444.3 1611.0h20.2M1432.2 1617.0h2.0M1464.5 1620.0h6.0M1434.2 1621.5h2.0M1393.9 1630.4h16.1M1434.2 1633.4h2.0M1391.9 1634.9h10.1M1432.2 1651.4h2.0M1436.3 1654.4h4.0M1438.3 1669.4h12.1M1414.1 1696.4h16.1M1456.4 1705.4h20.2M1420.1 1733.8h4.0M1472.6 1744.3h6.0M1395.9 1751.8h18.1M1454.4 1759.3h20.2M1410.1 1780.3h8.1M1446.3 1781.8h16.1" stroke="#fc9272" stroke-width="1.50"/>
<path d="M1379.8 1374.2h2.0M1434.2 1375.7h2.0M1462.5 1375.7h2.0M1462.5 1377.2h12.1M1420.1 1378.7h16.1M1462.5 1378.7h4.0M1432.2 1380.2h2.0M1420.1 1383.2h6.0M1410.1 1384.7h16.1M1391.9 1386.2h16.1M1480.6 1386.2h10.1M1434.2 1387.7h2.0M1442.3 1387.7h10.1M1416.1 1389.2h10.1M1432.2 1390.7h6.0M1454.4 1390.7h18.1M1474.6 1393.7h16.1M1436.3 1395.2h2.0M1432.2 1396.7h2.0M1387.9 1398.2h4.0M1398.0 1401.2h14.1M1484.7 1401.2h6.0M1432.2 1405.7h2.0M1466.5 1407.2h14.1M1432.2 1408.7h4.0M1395.9 1410.2h14.1M1434.2 1417.7h4.0M1432.2 1422.2h4.0M1434.2 1423.7h2.0M1436.3 1426.7h20.2M1480.6 1429.7h10.1M1432.2 1441.7h2.0M1389.9 1446.2h20.2M1395.9 1452.2h18.1M1434.2 1465.6h2.0M1400.0 1473.1h4.0M1432.2 1476.1h2.0M1387.9 1480.6h10.1M1484.7 1492.6h6.0M1391.9 1498.6h10.1M1486.7 1503.1h4.0M1432.2 1504.6h4.0M1462.5 1525.6h20.2M1432.2 1530.1h2.0M1412.1 1558.5h6.0M1432.2 1560.0h4.0M1434.2 1564.5h2.0M1428.2 1569.0h8.1M1387.9 1581.0h4.0M1486.7 1627.4h4.0M1422.2 1639.4h20.2M1393.9 1652.9h14.1M1444.3 1652.9h10.1M1420.1 1682.9h12.1M1488.7 1688.9h2.0M1464.5 1697.9h10.1" stroke="#fb7757" stroke-width="1.50"/>
<path d="M1432.2 1374.2h2.0M1406.0 1375.7h10.1M1468.5 1375.7h18.1M1398.0 1378.7h4.0M1436.3 1378.7h14.1M1460.5 1380.2h8.1M1418.1 1381.7h8.1M1476.6 1381.7h4.0M1432.2 1383.2h4.0M1426.2 1384.7h6.0M1480.6 1384.7h10.1M1422.2 1386.2h2.0M1428.2 1386.2h14.1M1402.0 1389.2h14.1M1468.5 1392.2h14.1M1456.4 1393.7h6.0M1466.5 1393.7h2.0M1432.2 1395.2h4.0M1377.8 1417.7h14.1M1432.2 1417.7h2.0M1412.1 1422.2h8.1M1436.3 1428.2h12.1M1385.9 1437.2h16.1M1420.1 1447.7h12.1M1472.6 1453.7h8.1M1387.9 1470.1h6.0M1385.9 1473.1h10.1M1398.0 1485.1h6.0M1468.5 1486.6h8.1M1391.9 1518.1h18.1M1428.2 1519.6h14.1M1482.6 1527.1h8.1M1444.3 1548.0h18.1M1468.5 1548.0h4.0M1448.4 1549.5h18.1M1422.2 1563.0h12.1M1458.4 1582.5h4.0M1476.6 1582.5h8.1M1387.9 1587.0h28.2M1412.1 1609.5h18.1" stroke="#f75a40" stroke-width="1.50"/>
<path d="M1381.8 1374.2h4.0M1422.2 1374.2h10.1M1442.3 1374.2h10.1M1414.1 1377.2h6.0M1442.3 1377.2h6.0M1486.7 1377.2h4.0M1426.2 1381.7h14.1M1464.5 1387.7h8.1M1458.4 1389.2h6.0M1462.5 1393.7h4.0M1484.7 1395.2h6.0M1480.6 1402.7h6.0M1379.8 1408.7h12.1M1468.5 1414.7h6.0M1484.7 1419.2h6.0M1474.6 1420.7h14.1M1468.5 1444.7h4.0M1393.9 1447.7h20.2M1486.7 1456.7h4.0M1430.2 1480.6h16.1M1440.3 1488.1h14.1M1454.4 1489.6h18.1M1393.9 1509.1h16.1M1436.3 1524.1h12.1" stroke="#ef3b2c" stroke-width="1.50"/>
<path d="M1400.0 1374.2h22.2M1434.2 1374.2h4.0M1476.6 1374.2h14.1M1454.4 1375.7h8.1M1391.9 1377.2h4.0M1474.6 1377.2h12.1M1456.4 1380.2h4.0M1484.7 1380.2h6.0M1387.9 1381.7h6.0M1424.2 1386.2h4.0M1466.5 1386.2h14.1M1398.0 1387.7h6.0M1418.1 1392.2h14.1M1450.4 1392.2h18.1M1402.0 1393.7h18.1M1442.3 1393.7h14.1M1379.8 1402.7h10.1M1408.0 1405.7h18.1M1398.0 1407.2h4.0M1393.9 1408.7h12.1M1420.1 1422.2h12.1M1406.0 1434.2h8.1M1418.1 1434.2h8.1M1436.3 1435.7h16.1M1440.3 1485.1h12.1" stroke="#d72422" stroke-width="1.50"/>
<path d="M1385.9 1374.2h14.1M1438.3 1374.2h4.0M1452.4 1374.2h24.2M1387.9 1375.7h18.1M1440.3 1375.7h14.1M1395.9 1377.2h18.1M1420.1 1377.2h22.2M1448.4 1377.2h14.1M1416.1 1380.2h16.1M1400.0 1381.7h16.1M1383.8 1383.2h14.1M1486.7 1389.2h4.0M1450.4 1399.7h16.1" stroke="#be151a" stroke-width="1.50"/>
<rect x="1377.8" y="1373.5" width="112.9" height="419.5" fill="none" stroke="#000" stroke-width="2.6"/>
<line x1="946.3" y1="1793.0" x2="946.3" y2="1797.5" stroke="#000" stroke-width="2.2"/>
<line x1="1003.6" y1="1793.0" x2="1003.6" y2="1797.5" stroke="#000" stroke-width="2.2"/>
<line x1="1061.0" y1="1793.0" x2="1061.0" y2="1797.5" stroke="#000" stroke-width="2.2"/>
<line x1="1068.3" y1="1793.0" x2="1068.3" y2="1797.5" stroke="#000" stroke-width="2.2"/>
<line x1="1125.4" y1="1793.0" x2="1125.4" y2="1797.5" stroke="#000" stroke-width="2.2"/>
<line x1="1182.6" y1="1793.0" x2="1182.6" y2="1797.5" stroke="#000" stroke-width="2.2"/>
<line x1="1257.6" y1="1793.0" x2="1257.6" y2="1797.5" stroke="#000" stroke-width="2.2"/>
<line x1="1314.2" y1="1793.0" x2="1314.2" y2="1797.5" stroke="#000" stroke-width="2.2"/>
<line x1="1370.7" y1="1793.0" x2="1370.7" y2="1797.5" stroke="#000" stroke-width="2.2"/>
<line x1="1377.8" y1="1793.0" x2="1377.8" y2="1797.5" stroke="#000" stroke-width="2.2"/>
<line x1="1434.2" y1="1793.0" x2="1434.2" y2="1797.5" stroke="#000" stroke-width="2.2"/>
<line x1="1490.7" y1="1793.0" x2="1490.7" y2="1797.5" stroke="#000" stroke-width="2.2"/>
<defs><linearGradient id="cb1" x1="0" y1="1" x2="0" y2="0"><stop offset="0" stop-color="#fff5f0"/><stop offset="0.125" stop-color="#fee0d2"/><stop offset="0.25" stop-color="#fcbba1"/><stop offset="0.375" stop-color="#fc9272"/><stop offset="0.5" stop-color="#fb6a4a"/><stop offset="0.625" stop-color="#ef3b2c"/><stop offset="0.75" stop-color="#cb181d"/><stop offset="0.875" stop-color="#a50f15"/><stop offset="1" stop-color="#67000d"/></linearGradient></defs>
<rect x="1188.8" y="1373.5" width="7.6" height="419.5" fill="url(#cb1)" stroke="#000" stroke-width="2.2"/>
<defs><linearGradient id="cb2" x1="0" y1="1" x2="0" y2="0"><stop offset="0" stop-color="#fff5f0"/><stop offset="0.125" stop-color="#fee0d2"/><stop offset="0.25" stop-color="#fcbba1"/><stop offset="0.375" stop-color="#fc9272"/><stop offset="0.5" stop-color="#fb6a4a"/><stop offset="0.625" stop-color="#ef3b2c"/><stop offset="0.75" stop-color="#cb181d"/><stop offset="0.875" stop-color="#a50f15"/><stop offset="1" stop-color="#67000d"/></linearGradient></defs>
<rect x="1497.3" y="1373.5" width="7.6" height="419.5" fill="url(#cb2)" stroke="#000" stroke-width="2.2"/>
<line x1="1196.5" y1="1452.8" x2="1199.0" y2="1452.8" stroke="#000" stroke-width="2"/>
<text x="1204.6" y="1463.8" font-size="30.5" textLength="29.8" lengthAdjust="spacingAndGlyphs">80</text>
<line x1="1196.5" y1="1538.7" x2="1199.0" y2="1538.7" stroke="#000" stroke-width="2"/>
<text x="1204.6" y="1549.7" font-size="30.5" textLength="29.8" lengthAdjust="spacingAndGlyphs">60</text>
<line x1="1196.5" y1="1623.0" x2="1199.0" y2="1623.0" stroke="#000" stroke-width="2"/>
<text x="1204.6" y="1634.0" font-size="30.5" textLength="29.8" lengthAdjust="spacingAndGlyphs">40</text>
<line x1="1196.5" y1="1705.5" x2="1199.0" y2="1705.5" stroke="#000" stroke-width="2"/>
<text x="1204.6" y="1716.5" font-size="30.5" textLength="29.8" lengthAdjust="spacingAndGlyphs">20</text>
<line x1="1196.5" y1="1784.0" x2="1199.0" y2="1784.0" stroke="#000" stroke-width="2"/>
<text x="1204.6" y="1795.0" font-size="30.5" textLength="14.9" lengthAdjust="spacingAndGlyphs">0</text>
<line x1="1505.0" y1="1384.2" x2="1507.5" y2="1384.2" stroke="#000" stroke-width="2"/>
<text x="1512.7" y="1395.2" font-size="30.5" textLength="44.7" lengthAdjust="spacingAndGlyphs">175</text>
<line x1="1505.0" y1="1443.2" x2="1507.5" y2="1443.2" stroke="#000" stroke-width="2"/>
<text x="1512.7" y="1454.2" font-size="30.5" textLength="44.7" lengthAdjust="spacingAndGlyphs">150</text>
<line x1="1505.0" y1="1501.0" x2="1507.5" y2="1501.0" stroke="#000" stroke-width="2"/>
<text x="1512.7" y="1512.0" font-size="30.5" textLength="44.7" lengthAdjust="spacingAndGlyphs">125</text>
<line x1="1505.0" y1="1558.4" x2="1507.5" y2="1558.4" stroke="#000" stroke-width="2"/>
<text x="1512.7" y="1569.4" font-size="30.5" textLength="44.7" lengthAdjust="spacingAndGlyphs">100</text>
<line x1="1505.0" y1="1619.0" x2="1507.5" y2="1619.0" stroke="#000" stroke-width="2"/>
<text x="1512.7" y="1630.0" font-size="30.5" textLength="29.8" lengthAdjust="spacingAndGlyphs">75</text>
<line x1="1505.0" y1="1676.3" x2="1507.5" y2="1676.3" stroke="#000" stroke-width="2"/>
<text x="1512.7" y="1687.3" font-size="30.5" textLength="29.8" lengthAdjust="spacingAndGlyphs">50</text>
<line x1="1505.0" y1="1734.1" x2="1507.5" y2="1734.1" stroke="#000" stroke-width="2"/>
<text x="1512.7" y="1745.1" font-size="30.5" textLength="29.8" lengthAdjust="spacingAndGlyphs">25</text>
<line x1="1505.0" y1="1790.3" x2="1507.5" y2="1790.3" stroke="#000" stroke-width="2"/>
<text x="1512.7" y="1801.3" font-size="30.5" textLength="14.9" lengthAdjust="spacingAndGlyphs">0</text>
<text x="996.6" y="1328.1" font-size="30.3" text-anchor="middle" textLength="38.9" lengthAdjust="spacingAndGlyphs">KO</text>
<text x="999.7" y="1364.6" font-size="30.3" text-anchor="middle" textLength="76.2" lengthAdjust="spacingAndGlyphs">MuSC</text>
<text x="1119.5" y="1328.1" font-size="30.3" text-anchor="middle" textLength="43.3" lengthAdjust="spacingAndGlyphs">WT</text>
<text x="1120.8" y="1364.6" font-size="30.3" text-anchor="middle" textLength="90.5" lengthAdjust="spacingAndGlyphs">MuSCs</text>
<text x="1307.7" y="1328.1" font-size="30.3" text-anchor="middle" textLength="38.9" lengthAdjust="spacingAndGlyphs">KO</text>
<text x="1308.5" y="1364.6" font-size="30.3" text-anchor="middle" textLength="76.2" lengthAdjust="spacingAndGlyphs">MuSC</text>
<text x="1428.5" y="1328.1" font-size="30.3" text-anchor="middle" textLength="43.3" lengthAdjust="spacingAndGlyphs">WT</text>
<text x="1428.5" y="1364.6" font-size="30.3" text-anchor="middle" textLength="90.5" lengthAdjust="spacingAndGlyphs">MuSCs</text>
<text transform="translate(952.8,1802.4) rotate(-90)" font-size="30.5" text-anchor="end" textLength="77.7" lengthAdjust="spacingAndGlyphs">-5.0 kb</text>
<text transform="translate(1011.5,1802.4) rotate(-90)" font-size="30.5" text-anchor="end" textLength="70.8" lengthAdjust="spacingAndGlyphs">center</text>
<text transform="translate(1061.5,1802.4) rotate(-90)" font-size="30.5" text-anchor="end" textLength="82.9" lengthAdjust="spacingAndGlyphs">+5.0 kb</text>
<text transform="translate(1090.0,1802.4) rotate(-90)" font-size="30.5" text-anchor="end" textLength="77.7" lengthAdjust="spacingAndGlyphs">-5.0 kb</text>
<text transform="translate(1135.8,1802.4) rotate(-90)" font-size="30.5" text-anchor="end" textLength="70.8" lengthAdjust="spacingAndGlyphs">center</text>
<text transform="translate(1186.7,1802.4) rotate(-90)" font-size="30.5" text-anchor="end" textLength="82.9" lengthAdjust="spacingAndGlyphs">+5.0 kb</text>
<text transform="translate(1273.0,1802.4) rotate(-90)" font-size="30.5" text-anchor="end" textLength="77.7" lengthAdjust="spacingAndGlyphs">-5.0 kb</text>
<text transform="translate(1324.7,1802.4) rotate(-90)" font-size="30.5" text-anchor="end" textLength="70.8" lengthAdjust="spacingAndGlyphs">center</text>
<text transform="translate(1372.0,1802.4) rotate(-90)" font-size="30.5" text-anchor="end" textLength="82.9" lengthAdjust="spacingAndGlyphs">+5.0 kb</text>
<text transform="translate(1399.0,1802.4) rotate(-90)" font-size="30.5" text-anchor="end" textLength="77.7" lengthAdjust="spacingAndGlyphs">-5.0 kb</text>
<text transform="translate(1443.0,1802.4) rotate(-90)" font-size="30.5" text-anchor="end" textLength="70.8" lengthAdjust="spacingAndGlyphs">center</text>
<text transform="translate(1495.7,1802.4) rotate(-90)" font-size="30.5" text-anchor="end" textLength="82.9" lengthAdjust="spacingAndGlyphs">+5.0 kb</text>
<text transform="translate(885,1580.3) rotate(-90)" font-size="30.5" text-anchor="middle" textLength="278.7" lengthAdjust="spacingAndGlyphs">Less accessible peaks in</text>
<text transform="translate(921.9,1587.2) rotate(-90)" font-size="30.5" text-anchor="middle" textLength="270.4" lengthAdjust="spacingAndGlyphs">KO MuSCs (log<tspan font-size="20" dy="6">2</tspan><tspan dy="-6">FC ≤ -1)</tspan></text>
<text transform="translate(1615,1576.7) rotate(90)" font-size="30.5" text-anchor="middle" textLength="285.6" lengthAdjust="spacingAndGlyphs">More accessible peaks in</text>
<text transform="translate(1578.8,1571.2) rotate(90)" font-size="30.5" text-anchor="middle" textLength="260.5" lengthAdjust="spacingAndGlyphs">KO MuSCs (log<tspan font-size="20" dy="6">2</tspan><tspan dy="-6">FC ≥1)</tspan></text>
<text x="82.0" y="1927.0" font-size="35">i</text>
<rect x="98.2" y="1953.6" width="495.1" height="492.8" fill="#F8F8F8"/>
<path d="M98.2,1990.1h12V1989.6h4V1990.1h48V1989.1h6V1990.1h56V1989.6h2V1990.1h138V1988.6h2V1987.1h2V1984.6h2V1984.1h2V1985.6h2V1986.1h2V1983.6h2V1985.1h2V1988.1h2V1990.1h46V1989.1h2V1988.6h2V1987.6h2V1986.6h2V1984.6h2V1981.6h2V1974.1h2V1967.1h2V1968.1h2V1978.6h2V1981.6h2V1984.6h2V1986.6h2V1987.6h2V1989.1h2V1990.1h16V1989.6h2V1990.1h116V1990.1Z" fill="#17A097"/>
<line x1="98.2" y1="1989.5" x2="593.3" y2="1989.5" stroke="#17A097" stroke-width="1.5"/>
<text transform="translate(98.5,1969.8) scale(1.22,1)" font-size="21.5" text-anchor="end">6</text>
<text transform="translate(98.5,1989.5) scale(1.22,1)" font-size="21.5" text-anchor="end">0</text>
<text x="101.9" y="1975.3" font-size="27.5" fill="#17A097" textLength="48.1" lengthAdjust="spacingAndGlyphs">WT1</text>
<path d="M98.2,2030.0h4V2029.0h2V2027.5h2V2025.5h2V2025.0h2V2027.0h2V2028.0h2V2028.5h2V2029.0h2V2030.0h6V2029.0h2V2028.5h6V2026.5h2V2025.0h2V2025.5h2V2026.0h4V2027.0h2V2027.5h2V2028.5h2V2030.0h18V2029.0h2V2030.0h4V2027.5h2V2026.0h2V2024.0h2V2025.5h2V2027.5h2V2028.5h2V2029.0h2V2028.5h2V2029.0h2V2030.0h8V2029.0h2V2028.5h2V2028.0h2V2028.5h2V2029.0h8V2030.0h4V2029.0h2V2028.0h4V2029.0h2V2030.0h10V2029.5h2V2028.5h4V2028.0h4V2026.5h2V2025.5h6V2026.0h2V2027.5h2V2026.5h2V2028.5h2V2029.0h2V2028.0h2V2028.5h2V2027.0h2V2025.0h2V2023.5h2V2024.5h2V2026.5h2V2028.5h2V2029.0h2V2028.5h2V2028.0h2V2027.0h2V2025.0h2V2028.0h2V2028.5h2V2029.5h2V2030.0h6V2029.0h2V2026.5h2V2027.0h2V2027.5h2V2027.0h2V2028.0h2V2030.0h2V2029.0h4V2029.5h2V2028.0h2V2025.5h2V2025.0h2V2027.0h2V2027.5h2V2028.0h2V2030.0h2V2028.5h2V2028.0h2V2029.0h4V2027.0h2V2024.0h2V2022.0h2V2021.5h2V2022.0h2V2022.5h2V2024.5h2V2027.0h2V2028.0h2V2026.0h2V2024.0h2V2022.5h2V2022.0h2V2024.5h2V2023.5h2V2022.5h2V2023.5h2V2025.0h2V2027.0h2V2028.5h2V2030.0h2V2029.0h2V2028.5h2V2029.5h2V2030.0h4V2029.0h2V2028.5h6V2029.0h2V2030.0h8V2027.0h2V2028.0h2V2030.0h8V2029.0h2V2027.0h6V2025.5h4V2021.5h2V2013.5h2V2004.0h2V2006.5h2V2016.5h2V2021.5h2V2024.0h2V2025.5h2V2027.0h2V2027.5h2V2029.0h2V2030.0h8V2028.5h2V2027.5h2V2026.5h2V2026.0h4V2027.0h2V2028.5h2V2030.0h8V2029.5h2V2029.0h2V2028.5h2V2029.0h2V2030.0h32V2028.0h2V2029.0h2V2030.0h2V2028.5h2V2027.5h2V2027.0h4V2025.0h2V2021.5h2V2024.5h2V2028.0h2V2028.5h2V2027.5h4V2028.5h2V2027.0h2V2029.5h2V2030.0h4V2028.0h2V2025.0h4V2026.5h2V2028.5h2V2030.0h8V2028.5h2V2026.5h2V2025.5h2V2030.0Z" fill="#17A097"/>
<line x1="98.2" y1="2029.4" x2="593.3" y2="2029.4" stroke="#17A097" stroke-width="1.5"/>
<text transform="translate(98.5,2009.7) scale(1.22,1)" font-size="21.5" text-anchor="end">6</text>
<text transform="translate(98.5,2029.4) scale(1.22,1)" font-size="21.5" text-anchor="end">0</text>
<text x="101.9" y="2015.2" font-size="27.5" fill="#17A097" textLength="48.1" lengthAdjust="spacingAndGlyphs">WT2</text>
<path d="M98.2,2070.0h4V2069.0h4V2068.0h2V2066.0h2V2067.0h4V2068.5h2V2069.5h2V2069.0h4V2070.0h4V2069.0h2V2068.0h2V2068.5h2V2069.0h2V2070.0h34V2069.0h2V2068.0h2V2067.5h2V2068.5h2V2070.0h10V2068.0h2V2066.5h4V2067.5h2V2068.0h2V2069.0h2V2070.0h4V2069.0h2V2068.5h2V2068.0h2V2067.0h2V2067.5h2V2066.5h2V2063.5h2V2064.0h2V2068.0h2V2070.0h18V2069.0h2V2068.0h2V2067.0h2V2066.0h2V2064.0h2V2066.5h2V2064.5h2V2066.0h2V2069.0h2V2070.0h4V2069.0h2V2068.5h4V2069.0h4V2068.0h4V2068.5h2V2070.0h10V2069.0h2V2068.0h2V2069.0h2V2070.0h10V2069.0h4V2070.0h22V2068.5h2V2067.5h4V2068.5h2V2070.0h10V2068.5h2V2067.5h2V2068.0h2V2067.5h2V2065.5h4V2066.5h2V2068.0h2V2067.5h2V2065.5h8V2064.0h2V2061.5h2V2061.0h2V2064.0h2V2068.0h2V2068.5h2V2068.0h4V2067.5h4V2068.5h2V2069.0h4V2068.5h2V2068.0h2V2069.0h2V2068.5h2V2067.0h2V2066.5h2V2068.5h2V2070.0h4V2069.0h2V2068.5h4V2069.0h2V2070.0h4V2067.5h2V2066.0h2V2067.0h2V2066.0h2V2065.5h2V2061.5h2V2050.5h2V2043.5h2V2046.5h2V2058.0h2V2059.5h2V2059.0h2V2062.0h2V2066.0h2V2069.0h2V2070.0h32V2069.0h2V2067.0h2V2066.5h2V2068.0h2V2070.0h10V2069.5h2V2068.5h2V2068.0h2V2069.0h2V2070.0h2V2069.0h2V2068.0h2V2068.5h4V2067.0h2V2068.0h2V2069.5h2V2069.0h2V2070.0h6V2068.5h4V2070.0h8V2069.0h2V2068.0h2V2067.0h4V2068.0h2V2069.0h2V2070.0h6V2069.0h2V2068.0h2V2066.5h2V2067.5h2V2068.5h2V2068.0h2V2067.0h2V2067.5h2V2069.0h2V2070.0h4V2070.0Z" fill="#17A097"/>
<line x1="98.2" y1="2069.4" x2="593.3" y2="2069.4" stroke="#17A097" stroke-width="1.5"/>
<text transform="translate(98.5,2049.7) scale(1.22,1)" font-size="21.5" text-anchor="end">6</text>
<text transform="translate(98.5,2069.4) scale(1.22,1)" font-size="21.5" text-anchor="end">0</text>
<text x="101.9" y="2055.2" font-size="27.5" fill="#17A097" textLength="48.1" lengthAdjust="spacingAndGlyphs">WT3</text>
<path d="M98.2,2109.9h116V2109.4h2V2109.9h116V2108.4h2V2109.9h30V2104.9h2V2099.9h2V2106.4h2V2108.9h2V2106.9h2V2103.4h2V2098.9h2V2104.4h2V2107.4h2V2109.9h24V2108.9h2V2108.4h2V2108.9h2V2109.9h16V2108.9h2V2107.9h2V2106.9h2V2106.4h2V2104.4h2V2101.9h2V2091.4h2V2085.4h2V2090.4h2V2097.4h2V2100.4h2V2104.9h2V2107.4h2V2108.9h2V2109.9h76V2108.9h2V2109.9h12V2108.4h2V2107.9h8V2108.4h2V2108.9h2V2109.9h32V2109.9Z" fill="#17A097"/>
<line x1="98.2" y1="2109.3" x2="593.3" y2="2109.3" stroke="#17A097" stroke-width="1.5"/>
<text transform="translate(98.5,2089.6) scale(1.22,1)" font-size="21.5" text-anchor="end">6</text>
<text transform="translate(98.5,2109.3) scale(1.22,1)" font-size="21.5" text-anchor="end">0</text>
<text x="101.9" y="2095.1" font-size="27.5" fill="#17A097" textLength="48.1" lengthAdjust="spacingAndGlyphs">WT4</text>
<path d="M98.2,2149.9V2148.4h6V2149.9h4V2148.9h2V2147.4h2V2146.9h2V2148.4h2V2148.9h2V2148.4h2V2147.4h2V2146.9h4V2147.4h2V2146.9h2V2147.4h2V2148.9h2V2149.9h6V2148.9h2V2147.9h2V2148.4h2V2148.9h2V2148.4h2V2147.4h2V2147.9h2V2148.9h2V2149.9h6V2148.9h4V2149.9h2V2148.9h2V2148.4h4V2147.9h2V2146.9h2V2146.4h2V2146.9h2V2147.9h2V2148.4h2V2148.9h2V2149.9h4V2148.4h6V2147.9h4V2148.9h2V2149.9h10V2148.9h4V2148.4h6V2148.9h2V2149.4h2V2148.4h2V2146.9h2V2145.9h4V2146.4h2V2146.9h2V2147.4h4V2147.9h2V2148.4h2V2147.9h2V2147.4h2V2146.9h4V2148.4h2V2149.9h8V2148.9h2V2147.4h2V2146.4h2V2144.9h2V2144.4h4V2146.4h2V2147.9h2V2148.4h4V2147.9h2V2148.9h2V2149.9h6V2146.9h2V2145.4h2V2148.4h2V2149.9h12V2148.4h2V2147.9h2V2147.4h6V2147.9h2V2148.4h2V2147.4h2V2146.4h8V2146.9h2V2147.4h2V2147.9h4V2148.9h2V2149.9h6V2145.9h2V2133.9h2V2127.4h2V2136.9h2V2136.4h2V2124.9h2V2130.9h2V2132.4h2V2133.4h2V2128.4h2V2124.9h2V2134.4h4V2139.4h2V2146.4h4V2147.9h2V2149.9h12V2148.9h2V2146.9h2V2145.4h4V2146.9h2V2148.4h2V2149.9h4V2148.9h6V2149.9h6V2148.9h2V2147.9h2V2146.4h2V2142.9h2V2139.9h2V2134.4h2V2129.9h2V2118.9h2V2124.4h2V2138.9h2V2139.9h2V2144.4h2V2146.9h4V2147.4h2V2144.9h2V2145.4h2V2147.9h2V2148.9h8V2145.4h2V2145.9h2V2149.9h10V2147.4h2V2146.9h2V2149.9h6V2147.9h2V2143.9h2V2146.9h2V2147.4h2V2146.9h2V2145.9h2V2146.4h2V2148.9h2V2149.9h10V2147.4h6V2145.9h2V2147.4h2V2148.9h2V2149.9h16V2147.9h2V2146.9h2V2147.9h2V2148.4h4V2147.9h2V2146.9h4V2147.4h2V2146.9h2V2144.4h2V2144.9h2V2146.4h2V2147.4h4V2146.9h2V2146.4h2V2146.9h4V2147.9h2V2148.9h2V2149.9Z" fill="#F76565"/>
<line x1="98.2" y1="2149.3" x2="593.3" y2="2149.3" stroke="#F76565" stroke-width="1.5"/>
<text transform="translate(98.5,2129.6) scale(1.22,1)" font-size="21.5" text-anchor="end">6</text>
<text transform="translate(98.5,2149.3) scale(1.22,1)" font-size="21.5" text-anchor="end">0</text>
<text x="101.9" y="2135.1" font-size="27.5" fill="#F76565" textLength="45.5" lengthAdjust="spacingAndGlyphs">KO1</text>
<path d="M98.2,2189.8h6V2188.3h2V2187.8h2V2188.8h2V2189.8h12V2188.3h2V2187.8h2V2188.8h2V2189.8h12V2188.8h2V2187.8h4V2188.3h2V2189.8h8V2188.8h6V2189.8h2V2188.3h2V2187.8h2V2189.8h58V2188.3h2V2189.8h22V2189.3h2V2188.3h2V2189.8h18V2188.3h2V2186.8h2V2186.3h2V2187.3h2V2188.8h2V2189.8h6V2188.3h2V2186.8h2V2188.3h2V2188.8h4V2189.8h20V2188.8h2V2189.8h8V2188.8h6V2189.8h16V2188.3h2V2187.3h2V2184.8h2V2175.8h2V2168.3h2V2174.3h2V2174.8h2V2168.8h2V2164.3h2V2173.3h2V2171.3h2V2161.8h2V2163.8h2V2167.3h2V2171.3h2V2178.8h2V2186.8h2V2189.8h2V2188.8h2V2186.3h2V2187.8h2V2189.8h12V2188.8h2V2189.8h4V2187.8h4V2189.3h2V2189.8h14V2187.8h2V2184.3h2V2182.3h2V2177.8h2V2175.8h2V2167.8h2V2158.8h2V2164.3h2V2176.3h2V2179.8h2V2183.8h2V2186.3h2V2188.3h2V2188.8h2V2188.3h2V2188.8h2V2189.8h4V2188.3h2V2188.8h2V2189.8h2V2184.3h2V2186.3h2V2188.8h2V2187.8h2V2188.8h2V2189.8h2V2188.8h2V2188.3h2V2187.8h2V2187.3h2V2186.8h4V2184.8h2V2184.3h2V2188.3h2V2189.8h34V2188.3h2V2187.8h2V2188.8h2V2189.8h36V2188.8h2V2188.3h6V2189.3h2V2189.8h4V2189.8Z" fill="#F76565"/>
<line x1="98.2" y1="2189.2" x2="593.3" y2="2189.2" stroke="#F76565" stroke-width="1.5"/>
<text transform="translate(98.5,2169.5) scale(1.22,1)" font-size="21.5" text-anchor="end">6</text>
<text transform="translate(98.5,2189.2) scale(1.22,1)" font-size="21.5" text-anchor="end">0</text>
<text x="101.9" y="2175.0" font-size="27.5" fill="#F76565" textLength="45.5" lengthAdjust="spacingAndGlyphs">KO2</text>
<path d="M98.2,2229.7h10V2228.7h2V2229.7h8V2228.7h10V2228.2h2V2228.7h6V2229.7h18V2226.7h4V2228.7h6V2229.7h4V2228.7h6V2229.7h30V2228.7h2V2227.7h2V2227.2h2V2228.2h2V2229.7h24V2228.7h2V2228.2h2V2228.7h2V2229.7h14V2228.7h2V2228.2h2V2229.7h10V2228.7h2V2228.2h2V2227.2h2V2227.7h2V2228.2h2V2229.7h26V2228.7h8V2229.7h40V2226.7h2V2213.7h2V2207.2h2V2213.2h2V2211.7h2V2208.2h2V2203.7h2V2209.7h2V2212.2h2V2204.7h2V2206.2h2V2210.7h2V2208.7h2V2217.2h2V2222.7h2V2225.7h2V2227.7h2V2228.2h6V2229.7h18V2227.7h2V2227.2h4V2227.7h2V2228.2h2V2228.7h2V2228.2h2V2226.2h2V2227.2h2V2226.2h2V2224.7h2V2221.7h2V2221.2h2V2218.7h2V2207.7h2V2201.2h2V2206.2h2V2215.2h2V2218.7h2V2223.2h2V2226.2h2V2228.7h2V2228.2h2V2227.2h2V2228.2h2V2229.7h10V2224.2h2V2226.7h2V2229.7h14V2228.7h4V2229.7h2V2227.7h2V2223.7h2V2227.7h2V2228.2h2V2229.7h6V2228.7h2V2228.2h2V2228.7h4V2229.7h6V2228.7h4V2227.7h2V2227.2h2V2228.7h2V2229.7h58V2229.7Z" fill="#F76565"/>
<line x1="98.2" y1="2229.1" x2="593.3" y2="2229.1" stroke="#F76565" stroke-width="1.5"/>
<text transform="translate(98.5,2209.4) scale(1.22,1)" font-size="21.5" text-anchor="end">6</text>
<text transform="translate(98.5,2229.1) scale(1.22,1)" font-size="21.5" text-anchor="end">0</text>
<text x="101.9" y="2214.9" font-size="27.5" fill="#F76565" textLength="45.5" lengthAdjust="spacingAndGlyphs">KO3</text>
<path d="M98.2,2269.7h28V2268.7h6V2269.7h10V2268.7h2V2267.2h2V2267.7h2V2268.7h2V2269.2h2V2267.7h2V2267.2h2V2269.7h36V2268.7h2V2267.7h2V2268.2h2V2269.7h10V2268.7h2V2268.2h2V2267.2h2V2268.2h2V2269.7h2V2268.7h2V2269.7h8V2268.7h4V2269.7h14V2268.2h2V2269.7h18V2268.7h2V2269.7h24V2268.2h2V2267.7h2V2268.7h4V2268.2h6V2268.7h2V2269.7h14V2268.7h2V2268.2h2V2268.7h2V2269.7h12V2268.7h2V2267.2h2V2265.7h2V2265.2h2V2264.7h2V2265.2h2V2267.7h2V2263.7h2V2252.2h2V2244.7h2V2255.7h2V2253.7h2V2245.2h2V2246.7h2V2254.2h2V2255.2h2V2239.7h2V2241.7h2V2248.2h2V2251.2h2V2258.2h2V2267.2h2V2268.7h2V2269.7h36V2268.7h2V2267.7h2V2268.2h2V2268.7h2V2267.7h2V2265.2h2V2262.7h2V2261.7h2V2256.2h2V2247.7h2V2241.2h2V2245.7h2V2253.2h2V2258.2h2V2262.2h2V2266.7h2V2268.7h2V2269.7h16V2264.2h2V2266.2h2V2269.7h20V2268.2h2V2265.2h2V2268.7h2V2269.7h6V2269.2h2V2268.7h2V2269.2h2V2269.7h16V2268.7h2V2266.7h2V2268.2h2V2269.7h26V2268.2h2V2266.7h2V2265.7h2V2266.7h2V2268.2h2V2269.7h6V2268.7h2V2267.7h2V2269.7h8V2268.7h2V2269.7Z" fill="#F76565"/>
<line x1="98.2" y1="2269.1" x2="593.3" y2="2269.1" stroke="#F76565" stroke-width="1.5"/>
<text transform="translate(98.5,2249.4) scale(1.22,1)" font-size="21.5" text-anchor="end">6</text>
<text transform="translate(98.5,2269.1) scale(1.22,1)" font-size="21.5" text-anchor="end">0</text>
<text x="101.9" y="2254.9" font-size="27.5" fill="#F76565" textLength="45.5" lengthAdjust="spacingAndGlyphs">KO4</text>
<path d="M98.2,2309.6h2V2307.6h2V2304.6h2V2305.6h2V2309.6h8V2307.1h2V2308.6h2V2309.6h8V2306.6h2V2309.6h4V2308.6h2V2309.6h4V2307.6h2V2301.6h2V2308.6h2V2309.6h2V2306.6h2V2307.1h2V2307.6h2V2303.6h2V2309.6h2V2307.1h4V2309.6h4V2305.6h2V2308.1h2V2305.1h2V2309.6h4V2308.6h2V2309.6h2V2304.1h2V2309.6h2V2301.1h2V2307.1h2V2309.6h2V2308.1h2V2301.6h2V2309.6h2V2308.6h2V2305.6h2V2308.6h2V2305.6h2V2307.6h2V2309.6h6V2308.1h2V2301.6h2V2309.6h6V2306.1h2V2309.6h4V2308.6h2V2309.6h10V2308.6h2V2309.6h10V2307.6h4V2305.6h2V2306.1h2V2302.6h2V2309.6h8V2308.1h2V2307.6h2V2309.6h8V2308.6h2V2304.1h2V2309.6h2V2307.6h2V2308.6h2V2309.6h4V2301.6h2V2309.6h18V2308.6h2V2309.6h2V2304.6h2V2304.1h2V2306.6h2V2309.6h2V2303.6h2V2307.1h4V2309.6h2V2304.1h2V2301.1h2V2309.6h2V2303.1h2V2303.6h2V2307.6h2V2308.6h2V2305.6h2V2309.6h4V2305.6h2V2309.6h2V2308.6h2V2309.6h2V2307.6h2V2300.1h2V2307.6h2V2309.6h2V2304.1h2V2307.1h4V2309.6h8V2298.1h2V2304.6h2V2309.6h10V2308.1h2V2301.1h2V2305.6h2V2309.6h8V2294.1h2V2306.1h2V2308.1h2V2309.6h10V2306.1h4V2308.1h2V2309.6h2V2304.6h2V2303.1h2V2299.1h2V2288.1h2V2284.6h2V2288.1h2V2302.1h2V2304.1h2V2304.6h2V2309.6h2V2305.1h2V2309.6h22V2303.6h2V2306.1h2V2308.6h4V2309.6h4V2305.6h2V2305.1h2V2307.1h2V2302.6h2V2309.6h4V2306.1h2V2308.6h2V2309.6h10V2307.6h2V2309.6h6V2305.6h2V2309.6h2V2308.1h2V2307.1h2V2307.6h2V2303.1h2V2304.1h2V2309.6h2V2304.1h2V2302.1h2V2303.6h2V2308.6h2V2309.6h2V2307.6h2V2306.1h2V2309.6h8V2307.6h2V2309.6h2V2308.6h2V2309.6h2V2305.6h2V2301.1h2V2307.6h2V2309.6h2V2299.6h2V2308.1h2V2309.6h2V2308.6h4V2303.1h2V2309.6Z" fill="#0E6A62"/>
<line x1="98.2" y1="2309.0" x2="593.3" y2="2309.0" stroke="#0E6A62" stroke-width="1.5"/>
<text transform="translate(98.5,2289.3) scale(1.22,1)" font-size="21.5" text-anchor="end">4</text>
<text transform="translate(98.5,2309.0) scale(1.22,1)" font-size="21.5" text-anchor="end">0</text>
<text x="101.9" y="2294.8" font-size="27.5" fill="#0E6A62" textLength="48.1" lengthAdjust="spacingAndGlyphs">WT1</text>
<path d="M98.2,2349.6V2348.1h2V2349.6h4V2345.6h2V2349.6h4V2348.1h2V2349.6h6V2346.6h2V2349.6h2V2343.6h2V2345.6h2V2349.6h6V2345.6h2V2349.6h2V2347.1h2V2349.6h4V2348.6h2V2340.6h2V2347.6h2V2349.6h2V2347.1h2V2349.6h4V2346.1h2V2348.6h2V2349.6h6V2347.1h2V2345.1h2V2347.1h2V2349.6h2V2347.6h2V2347.1h2V2349.6h4V2343.1h2V2345.1h2V2349.6h6V2344.1h2V2347.6h2V2347.1h2V2346.1h2V2346.6h2V2349.6h4V2344.1h2V2349.6h8V2345.6h2V2349.6h10V2345.1h2V2349.6h10V2345.6h2V2348.6h2V2349.6h4V2347.1h2V2349.6h6V2346.1h2V2348.6h2V2347.1h2V2349.6h2V2345.1h2V2346.6h2V2342.1h2V2348.6h2V2348.1h2V2343.1h2V2344.6h2V2349.6h4V2347.6h2V2349.6h6V2345.6h2V2348.6h2V2347.1h2V2349.6h2V2346.6h2V2349.6h2V2346.1h2V2348.6h2V2341.1h2V2347.6h2V2349.6h2V2348.1h4V2349.6h6V2347.6h2V2349.6h8V2348.6h2V2347.6h2V2349.6h2V2348.1h2V2344.6h2V2349.6h8V2348.1h2V2347.6h4V2344.6h2V2349.6h12V2348.1h2V2349.6h6V2347.1h2V2342.6h2V2348.1h2V2349.6h12V2347.6h2V2344.6h2V2346.1h2V2346.6h2V2349.6h2V2346.1h2V2346.6h2V2349.6h6V2348.6h4V2347.6h2V2349.6h2V2348.1h2V2349.6h4V2348.6h2V2347.6h2V2349.6h2V2347.6h2V2343.6h2V2328.6h2V2318.6h2V2324.1h2V2335.1h2V2343.1h2V2341.1h2V2346.1h2V2341.6h2V2344.1h2V2347.6h2V2349.6h4V2348.6h2V2347.6h2V2349.6h2V2346.6h2V2348.6h4V2349.6h6V2347.6h2V2349.6h4V2348.6h2V2343.6h2V2349.6h4V2347.1h2V2343.1h2V2349.6h2V2345.1h2V2345.6h2V2349.6h2V2345.1h2V2349.6h10V2347.1h4V2346.1h2V2348.6h2V2349.6h2V2345.6h2V2346.6h2V2349.6h8V2346.6h2V2349.6h4V2347.1h2V2346.6h2V2348.6h4V2349.6h2V2347.1h2V2349.6h2V2348.6h2V2349.6h6V2348.1h2V2349.6h2V2346.1h2V2348.6h2V2349.6h2V2348.1h2V2344.1h2V2346.1h2V2349.6h2V2347.1h2V2345.6h2V2349.6Z" fill="#0E6A62"/>
<line x1="98.2" y1="2349.0" x2="593.3" y2="2349.0" stroke="#0E6A62" stroke-width="1.5"/>
<text transform="translate(98.5,2329.3) scale(1.22,1)" font-size="21.5" text-anchor="end">4</text>
<text transform="translate(98.5,2349.0) scale(1.22,1)" font-size="21.5" text-anchor="end">0</text>
<text x="101.9" y="2334.8" font-size="27.5" fill="#0E6A62" textLength="48.1" lengthAdjust="spacingAndGlyphs">WT2</text>
<path d="M98.2,2389.5h6V2388.5h4V2389.5h6V2387.5h4V2386.5h2V2388.5h2V2389.5h18V2386.0h2V2386.5h2V2389.5h40V2388.5h4V2388.0h2V2386.5h2V2386.0h2V2387.0h2V2388.5h2V2389.5h2V2387.5h2V2383.5h2V2389.0h2V2389.5h30V2388.5h2V2389.5h2V2387.5h2V2389.5h18V2388.5h2V2389.5h32V2388.5h4V2389.5h22V2388.0h4V2389.5h2V2387.5h4V2389.5h24V2387.0h2V2385.5h2V2378.0h2V2371.5h2V2370.0h2V2375.5h4V2377.0h2V2375.5h2V2375.0h2V2374.0h2V2372.5h2V2374.0h2V2381.5h2V2386.5h2V2388.5h2V2389.5h6V2388.5h6V2389.5h10V2388.5h4V2387.5h2V2388.0h4V2389.5h2V2388.5h4V2388.0h2V2387.0h2V2386.5h2V2385.0h2V2382.5h2V2381.0h2V2379.5h2V2373.5h2V2362.0h2V2358.5h2V2368.0h2V2372.5h2V2382.5h2V2388.0h2V2389.5h2V2388.5h2V2389.5h6V2387.5h2V2389.5h8V2388.5h2V2389.5h16V2388.5h2V2389.5h2V2388.0h2V2389.5h30V2388.5h2V2389.5h10V2388.0h2V2389.0h2V2389.5h4V2388.5h2V2389.5h22V2389.0h2V2387.5h2V2389.5h8V2389.0h2V2389.5h6V2388.0h2V2389.5Z" fill="#F9A29E"/>
<line x1="98.2" y1="2388.9" x2="593.3" y2="2388.9" stroke="#F9A29E" stroke-width="1.5"/>
<text transform="translate(98.5,2369.2) scale(1.22,1)" font-size="21.5" text-anchor="end">4</text>
<text transform="translate(98.5,2388.9) scale(1.22,1)" font-size="21.5" text-anchor="end">0</text>
<text x="101.9" y="2374.7" font-size="27.5" fill="#F9A29E" textLength="45.5" lengthAdjust="spacingAndGlyphs">KO1</text>
<path d="M98.2,2429.4h2V2427.4h2V2429.4h8V2427.9h2V2425.9h2V2428.4h2V2426.9h2V2427.9h2V2429.4h6V2428.4h4V2429.4h4V2428.4h2V2429.4h4V2428.4h2V2426.9h2V2428.4h2V2429.4h6V2428.4h4V2429.4h6V2428.4h2V2429.4h4V2427.9h2V2429.4h10V2428.4h2V2429.4h8V2427.4h2V2427.9h2V2429.4h6V2428.4h2V2429.4h14V2427.4h2V2429.4h4V2428.4h2V2427.9h2V2429.4h6V2427.9h2V2428.4h2V2429.4h6V2428.4h2V2429.4h8V2428.4h2V2429.4h2V2427.4h2V2428.4h2V2429.4h6V2428.9h2V2429.4h8V2427.9h2V2428.4h2V2429.4h52V2427.4h2V2428.4h2V2429.4h14V2427.9h2V2428.4h2V2426.9h2V2424.9h2V2419.4h2V2413.9h2V2411.9h2V2413.9h2V2416.9h2V2412.9h2V2407.4h4V2410.4h2V2409.9h2V2413.4h2V2421.9h2V2426.9h4V2428.4h2V2427.4h2V2428.4h2V2427.9h4V2428.4h2V2429.4h14V2428.4h4V2429.4h8V2428.4h2V2427.4h2V2425.9h2V2424.4h2V2422.4h4V2419.4h2V2410.9h2V2405.9h2V2403.4h2V2404.4h2V2415.9h2V2424.4h2V2427.9h2V2429.4h48V2428.4h2V2429.4h44V2427.9h2V2429.4h16V2427.4h2V2427.9h2V2429.4h4V2426.4h2V2428.4h2V2429.4h4V2428.4h2V2429.4h10V2429.4Z" fill="#F9A29E"/>
<line x1="98.2" y1="2428.8" x2="593.3" y2="2428.8" stroke="#F9A29E" stroke-width="1.5"/>
<text transform="translate(98.5,2409.1) scale(1.22,1)" font-size="21.5" text-anchor="end">4</text>
<text transform="translate(98.5,2428.8) scale(1.22,1)" font-size="21.5" text-anchor="end">0</text>
<text x="101.9" y="2414.6" font-size="27.5" fill="#F9A29E" textLength="45.5" lengthAdjust="spacingAndGlyphs">KO2</text>
<rect x="355.3" y="1955.4" width="26.0" height="480.0999999999999" fill="none" stroke="#000" stroke-width="3.6" stroke-dasharray="17 8"/>
<rect x="359.4" y="2444.0" width="232.3" height="22.0" fill="#FAFAFA"/>
<line x1="362.4" y1="2455.0" x2="588.7" y2="2455.0" stroke="#0000AA" stroke-width="1.4"/>
<rect x="362.4" y="2450.0" width="3.6" height="10.0" fill="#0000AA"/>
<rect x="573.0" y="2451.0" width="15.7" height="8.0" fill="#0000AA"/>
<rect x="368.0" y="2451.5" width="1.4" height="7.0" fill="#0000AA"/>
<rect x="376.0" y="2451.5" width="1.4" height="7.0" fill="#0000AA"/>
<rect x="395.0" y="2451.5" width="1.4" height="7.0" fill="#0000AA"/>
<rect x="403.0" y="2451.5" width="1.4" height="7.0" fill="#0000AA"/>
<rect x="410.0" y="2451.5" width="1.4" height="7.0" fill="#0000AA"/>
<rect x="415.0" y="2451.5" width="1.4" height="7.0" fill="#0000AA"/>
<rect x="420.0" y="2451.5" width="1.4" height="7.0" fill="#0000AA"/>
<rect x="430.0" y="2451.5" width="1.4" height="7.0" fill="#0000AA"/>
<rect x="440.0" y="2451.5" width="1.4" height="7.0" fill="#0000AA"/>
<rect x="452.0" y="2451.5" width="1.4" height="7.0" fill="#0000AA"/>
<rect x="466.0" y="2451.5" width="1.4" height="7.0" fill="#0000AA"/>
<rect x="474.0" y="2451.5" width="1.4" height="7.0" fill="#0000AA"/>
<rect x="484.0" y="2451.5" width="1.4" height="7.0" fill="#0000AA"/>
<rect x="500.0" y="2451.5" width="1.4" height="7.0" fill="#0000AA"/>
<rect x="514.0" y="2451.5" width="1.4" height="7.0" fill="#0000AA"/>
<rect x="520.0" y="2451.5" width="1.4" height="7.0" fill="#0000AA"/>
<rect x="530.0" y="2451.5" width="1.4" height="7.0" fill="#0000AA"/>
<rect x="545.0" y="2451.5" width="1.4" height="7.0" fill="#0000AA"/>
<rect x="556.0" y="2451.5" width="1.4" height="7.0" fill="#0000AA"/>
<path d="M370.4,2452.5l2.5,2.5l-2.5,2.5" fill="none" stroke="#0000AA" stroke-width="0.9"/>
<path d="M380.4,2452.5l2.5,2.5l-2.5,2.5" fill="none" stroke="#0000AA" stroke-width="0.9"/>
<path d="M390.4,2452.5l2.5,2.5l-2.5,2.5" fill="none" stroke="#0000AA" stroke-width="0.9"/>
<path d="M400.4,2452.5l2.5,2.5l-2.5,2.5" fill="none" stroke="#0000AA" stroke-width="0.9"/>
<path d="M410.4,2452.5l2.5,2.5l-2.5,2.5" fill="none" stroke="#0000AA" stroke-width="0.9"/>
<path d="M420.4,2452.5l2.5,2.5l-2.5,2.5" fill="none" stroke="#0000AA" stroke-width="0.9"/>
<path d="M430.4,2452.5l2.5,2.5l-2.5,2.5" fill="none" stroke="#0000AA" stroke-width="0.9"/>
<path d="M440.4,2452.5l2.5,2.5l-2.5,2.5" fill="none" stroke="#0000AA" stroke-width="0.9"/>
<path d="M450.4,2452.5l2.5,2.5l-2.5,2.5" fill="none" stroke="#0000AA" stroke-width="0.9"/>
<path d="M460.4,2452.5l2.5,2.5l-2.5,2.5" fill="none" stroke="#0000AA" stroke-width="0.9"/>
<path d="M470.4,2452.5l2.5,2.5l-2.5,2.5" fill="none" stroke="#0000AA" stroke-width="0.9"/>
<path d="M480.4,2452.5l2.5,2.5l-2.5,2.5" fill="none" stroke="#0000AA" stroke-width="0.9"/>
<path d="M490.4,2452.5l2.5,2.5l-2.5,2.5" fill="none" stroke="#0000AA" stroke-width="0.9"/>
<path d="M500.4,2452.5l2.5,2.5l-2.5,2.5" fill="none" stroke="#0000AA" stroke-width="0.9"/>
<path d="M510.4,2452.5l2.5,2.5l-2.5,2.5" fill="none" stroke="#0000AA" stroke-width="0.9"/>
<path d="M520.4,2452.5l2.5,2.5l-2.5,2.5" fill="none" stroke="#0000AA" stroke-width="0.9"/>
<path d="M530.4,2452.5l2.5,2.5l-2.5,2.5" fill="none" stroke="#0000AA" stroke-width="0.9"/>
<path d="M540.4,2452.5l2.5,2.5l-2.5,2.5" fill="none" stroke="#0000AA" stroke-width="0.9"/>
<path d="M550.4,2452.5l2.5,2.5l-2.5,2.5" fill="none" stroke="#0000AA" stroke-width="0.9"/>
<path d="M560.4,2452.5l2.5,2.5l-2.5,2.5" fill="none" stroke="#0000AA" stroke-width="0.9"/>
<path d="M570.4,2452.5l2.5,2.5l-2.5,2.5" fill="none" stroke="#0000AA" stroke-width="0.9"/>
<path d="M580.4,2452.5l2.5,2.5l-2.5,2.5" fill="none" stroke="#0000AA" stroke-width="0.9"/>
<text x="362.4" y="2485.5" font-size="30" fill="#0000AA">Bdnf</text>
<line x1="68.6" y1="1953.6" x2="68.6" y2="2266.0" stroke="#000" stroke-width="3.2"/>
<line x1="68.2" y1="2274.7" x2="68.2" y2="2432.5" stroke="#000" stroke-width="3.2"/>
<text transform="translate(58,2106.4) rotate(-90)" font-size="31" text-anchor="middle" textLength="225.3" lengthAdjust="spacingAndGlyphs">MuSCs_ATAC-Seq</text>
<text transform="translate(58,2353) rotate(-90)" font-size="31" text-anchor="middle" textLength="191.1" lengthAdjust="spacingAndGlyphs">MuSCs_H3K27ac</text>
<text x="645.0" y="1928.0" font-size="35">j</text>
<rect x="655.5" y="1953.6" width="495.7" height="492.1" fill="#F8F8F8"/>
<path d="M655.5,1989.5h230V1988.5h2V1988.0h2V1987.5h2V1986.0h4V1985.5h4V1986.5h2V1987.0h2V1987.5h2V1988.5h2V1989.5h16V1988.5h2V1988.0h2V1988.5h2V1989.5h106V1988.0h2V1987.5h2V1986.5h2V1986.0h2V1985.0h2V1983.5h2V1980.0h2V1979.5h2V1983.5h2V1987.0h2V1988.5h2V1989.5h92V1989.5Z" fill="#17A097"/>
<line x1="655.5" y1="1988.9" x2="1151.2" y2="1988.9" stroke="#17A097" stroke-width="1.5"/>
<text transform="translate(657.5,1969.2) scale(1.22,1)" font-size="21.5" text-anchor="end">8</text>
<text transform="translate(657.5,1988.9) scale(1.22,1)" font-size="21.5" text-anchor="end">0</text>
<text x="661.0" y="1974.7" font-size="27.5" fill="#17A097" textLength="48.1" lengthAdjust="spacingAndGlyphs">WT1</text>
<path d="M655.5,2029.4h2V2028.4h2V2027.9h2V2028.4h2V2029.4h2V2028.4h2V2027.4h2V2026.4h2V2025.4h4V2026.4h2V2027.4h2V2026.9h2V2027.4h2V2029.4h18V2028.4h4V2029.4h8V2028.4h2V2029.4h6V2028.4h2V2027.9h2V2027.4h2V2027.9h2V2028.4h2V2029.4h4V2028.4h2V2026.9h2V2025.4h4V2025.9h2V2024.9h2V2025.9h2V2026.9h2V2027.4h2V2027.9h4V2028.4h2V2029.4h6V2028.4h2V2027.4h2V2026.9h2V2027.4h2V2028.4h2V2029.4h4V2028.9h2V2028.4h4V2028.9h2V2029.4h30V2028.4h2V2027.9h2V2026.9h2V2025.4h4V2026.4h2V2027.4h2V2027.9h2V2029.4h18V2028.4h2V2027.4h2V2029.4h30V2028.4h6V2027.9h4V2026.9h2V2025.9h2V2026.4h4V2026.9h2V2027.9h2V2026.9h2V2026.4h2V2026.9h2V2027.9h2V2026.4h2V2027.4h2V2028.4h2V2027.9h2V2027.4h2V2026.9h4V2027.4h2V2028.4h2V2027.9h4V2028.4h2V2029.4h2V2028.4h2V2027.9h2V2028.4h2V2029.4h2V2028.4h2V2027.4h2V2026.4h2V2027.9h2V2029.4h6V2028.4h2V2027.4h2V2026.9h4V2027.9h2V2026.9h2V2024.9h2V2026.4h2V2028.4h2V2029.4h2V2027.9h4V2029.4h10V2028.4h2V2029.4h10V2028.4h2V2027.9h4V2028.4h2V2028.9h2V2029.4h18V2028.4h2V2026.4h2V2024.4h2V2023.9h2V2022.9h4V2023.9h2V2027.9h2V2029.4h14V2028.4h2V2029.4h6V2028.4h2V2029.4h6V2028.4h2V2029.4h4V2028.4h4V2028.9h2V2029.4h12V2027.4h2V2025.9h2V2025.4h2V2025.9h4V2025.4h4V2024.9h2V2026.9h2V2028.4h2V2027.9h2V2027.4h2V2028.4h6V2029.4h4V2028.4h2V2027.9h6V2029.4Z" fill="#17A097"/>
<line x1="655.5" y1="2028.8" x2="1151.2" y2="2028.8" stroke="#17A097" stroke-width="1.5"/>
<text transform="translate(657.5,2009.1) scale(1.22,1)" font-size="21.5" text-anchor="end">8</text>
<text transform="translate(657.5,2028.8) scale(1.22,1)" font-size="21.5" text-anchor="end">0</text>
<text x="661.0" y="2014.6" font-size="27.5" fill="#17A097" textLength="48.1" lengthAdjust="spacingAndGlyphs">WT2</text>
<path d="M655.5,2069.2h12V2068.2h2V2069.2h26V2068.7h2V2069.2h84V2068.2h4V2069.2h4V2068.2h6V2069.2h10V2068.2h8V2069.2h2V2068.7h2V2068.2h2V2069.2h12V2068.2h8V2069.2h22V2068.2h4V2068.7h2V2069.2h8V2068.7h2V2069.2h12V2068.2h2V2067.7h2V2067.2h8V2067.7h2V2069.2h20V2068.2h4V2069.2h18V2068.2h4V2069.2h58V2068.2h6V2069.2h32V2067.7h2V2066.2h2V2065.7h2V2066.2h2V2066.7h2V2067.2h2V2067.7h2V2069.2h50V2068.2h4V2067.7h2V2068.2h2V2069.2h4V2068.2h2V2067.7h2V2069.2h10V2068.2h2V2068.7h2V2069.2h10V2069.2Z" fill="#17A097"/>
<line x1="655.5" y1="2068.6" x2="1151.2" y2="2068.6" stroke="#17A097" stroke-width="1.5"/>
<text transform="translate(657.5,2048.9) scale(1.22,1)" font-size="21.5" text-anchor="end">8</text>
<text transform="translate(657.5,2068.6) scale(1.22,1)" font-size="21.5" text-anchor="end">0</text>
<text x="661.0" y="2054.4" font-size="27.5" fill="#17A097" textLength="48.1" lengthAdjust="spacingAndGlyphs">WT3</text>
<path d="M655.5,2109.1h56V2108.1h2V2108.6h2V2109.1h156V2108.1h6V2109.1h8V2108.1h2V2107.6h2V2107.1h2V2106.6h2V2105.6h4V2105.1h2V2106.1h2V2106.6h2V2107.6h2V2108.1h2V2109.1h96V2108.1h6V2109.1h26V2107.6h2V2107.1h2V2106.1h2V2105.6h4V2104.6h2V2103.1h2V2102.6h2V2106.1h2V2108.1h2V2109.1h94V2109.1Z" fill="#17A097"/>
<line x1="655.5" y1="2108.5" x2="1151.2" y2="2108.5" stroke="#17A097" stroke-width="1.5"/>
<text transform="translate(657.5,2088.8) scale(1.22,1)" font-size="21.5" text-anchor="end">8</text>
<text transform="translate(657.5,2108.5) scale(1.22,1)" font-size="21.5" text-anchor="end">0</text>
<text x="661.0" y="2094.3" font-size="27.5" fill="#17A097" textLength="48.1" lengthAdjust="spacingAndGlyphs">WT4</text>
<path d="M655.5,2148.9h18V2146.4h4V2147.9h2V2148.9h34V2147.4h2V2146.9h4V2147.9h2V2148.9h36V2147.9h2V2147.4h2V2146.4h4V2147.4h2V2148.9h28V2147.9h2V2148.9h8V2147.4h2V2147.9h2V2148.9h28V2147.9h2V2146.9h4V2147.4h2V2147.9h2V2148.9h12V2147.9h2V2148.9h8V2147.4h2V2147.9h2V2148.9h8V2148.4h2V2147.4h2V2147.9h2V2146.4h2V2147.9h2V2146.9h2V2146.4h2V2148.4h2V2148.9h8V2147.9h2V2146.9h2V2145.4h2V2146.9h2V2148.9h56V2147.4h2V2148.9h48V2147.9h2V2147.4h2V2146.9h2V2146.4h2V2144.9h2V2144.4h2V2143.9h2V2143.4h2V2142.9h2V2141.4h2V2140.4h2V2139.4h2V2137.9h4V2136.4h2V2135.4h2V2124.4h2V2121.4h2V2132.9h2V2144.4h2V2144.9h2V2145.4h2V2146.9h2V2148.9h84V2148.9Z" fill="#F76565"/>
<line x1="655.5" y1="2148.3" x2="1151.2" y2="2148.3" stroke="#F76565" stroke-width="1.5"/>
<text transform="translate(657.5,2128.6) scale(1.22,1)" font-size="21.5" text-anchor="end">8</text>
<text transform="translate(657.5,2148.3) scale(1.22,1)" font-size="21.5" text-anchor="end">0</text>
<text x="661.0" y="2134.1" font-size="27.5" fill="#F76565" textLength="45.5" lengthAdjust="spacingAndGlyphs">KO1</text>
<path d="M655.5,2188.8h246V2187.8h2V2187.3h2V2187.8h2V2188.8h40V2187.8h2V2187.3h2V2186.3h2V2187.3h2V2188.8h64V2187.8h2V2187.3h2V2186.3h2V2185.3h2V2184.8h4V2183.8h2V2181.8h2V2182.3h2V2181.8h2V2180.8h2V2178.3h2V2177.3h2V2175.8h2V2176.8h2V2174.8h2V2165.3h2V2160.8h2V2172.8h2V2185.8h2V2185.3h2V2184.8h2V2185.8h2V2186.3h2V2187.3h2V2188.8h72V2188.3h2V2187.3h2V2187.8h2V2188.8h2V2188.8Z" fill="#F76565"/>
<line x1="655.5" y1="2188.2" x2="1151.2" y2="2188.2" stroke="#F76565" stroke-width="1.5"/>
<text transform="translate(657.5,2168.5) scale(1.22,1)" font-size="21.5" text-anchor="end">8</text>
<text transform="translate(657.5,2188.2) scale(1.22,1)" font-size="21.5" text-anchor="end">0</text>
<text x="661.0" y="2174.0" font-size="27.5" fill="#F76565" textLength="45.5" lengthAdjust="spacingAndGlyphs">KO2</text>
<path d="M655.5,2228.7h96V2227.7h2V2228.7h66V2227.7h2V2228.7h154V2227.7h4V2228.7h40V2227.7h2V2227.2h2V2226.7h2V2225.7h2V2225.2h2V2224.7h2V2223.7h2V2223.2h2V2222.2h2V2221.7h2V2220.2h2V2219.2h2V2217.7h2V2216.2h4V2213.7h2V2205.7h2V2200.7h2V2213.2h2V2225.7h2V2226.2h2V2226.7h2V2228.7h86V2228.7Z" fill="#F76565"/>
<line x1="655.5" y1="2228.1" x2="1151.2" y2="2228.1" stroke="#F76565" stroke-width="1.5"/>
<text transform="translate(657.5,2208.4) scale(1.22,1)" font-size="21.5" text-anchor="end">8</text>
<text transform="translate(657.5,2228.1) scale(1.22,1)" font-size="21.5" text-anchor="end">0</text>
<text x="661.0" y="2213.9" font-size="27.5" fill="#F76565" textLength="45.5" lengthAdjust="spacingAndGlyphs">KO3</text>
<path d="M655.5,2268.5h4V2267.5h4V2268.5h46V2268.0h2V2267.5h2V2268.5h4V2267.5h4V2268.5h60V2267.5h2V2267.0h2V2267.5h2V2268.5h74V2268.0h2V2268.5h156V2267.5h2V2267.0h2V2266.0h2V2265.5h2V2264.5h2V2264.0h2V2263.5h2V2263.0h2V2262.5h2V2261.0h2V2260.0h2V2257.5h2V2256.5h2V2255.5h2V2257.0h2V2254.0h2V2243.5h4V2251.5h2V2265.5h2V2266.0h2V2266.5h2V2268.5h78V2267.5h2V2267.0h2V2268.5h4V2268.5Z" fill="#F76565"/>
<line x1="655.5" y1="2267.9" x2="1151.2" y2="2267.9" stroke="#F76565" stroke-width="1.5"/>
<text transform="translate(657.5,2248.2) scale(1.22,1)" font-size="21.5" text-anchor="end">8</text>
<text transform="translate(657.5,2267.9) scale(1.22,1)" font-size="21.5" text-anchor="end">0</text>
<text x="661.0" y="2253.7" font-size="27.5" fill="#F76565" textLength="45.5" lengthAdjust="spacingAndGlyphs">KO4</text>
<path d="M655.5,2308.4h2V2307.4h2V2305.9h2V2308.4h2V2306.9h2V2304.9h2V2306.9h2V2308.4h10V2306.4h2V2303.9h2V2308.4h24V2304.9h2V2307.4h2V2308.4h10V2305.4h2V2308.4h4V2307.4h2V2305.4h2V2308.4h6V2304.9h6V2308.4h6V2307.4h2V2308.4h4V2305.4h2V2305.9h2V2308.4h4V2303.9h2V2305.9h4V2308.4h10V2305.4h2V2304.9h2V2306.9h2V2308.4h4V2306.4h2V2305.4h2V2307.9h2V2306.9h2V2305.4h2V2308.4h2V2306.4h2V2304.9h2V2308.4h4V2305.9h2V2304.9h2V2305.4h2V2306.9h2V2307.4h2V2305.4h2V2306.9h2V2307.4h2V2305.4h2V2306.4h2V2308.4h6V2304.4h2V2305.9h2V2308.4h12V2305.9h2V2308.4h6V2307.4h2V2305.9h2V2306.9h2V2308.4h4V2306.4h2V2307.9h2V2308.4h2V2306.9h4V2308.4h2V2307.4h2V2304.9h2V2302.9h2V2303.9h2V2305.4h2V2304.9h2V2305.9h2V2306.9h2V2307.9h2V2308.4h10V2304.4h2V2306.4h2V2308.4h12V2305.9h2V2306.9h2V2308.4h16V2306.4h2V2308.4h12V2307.4h2V2305.4h4V2304.4h2V2305.4h2V2306.9h2V2308.4h2V2306.9h4V2308.4h10V2307.4h4V2308.4h10V2306.4h2V2304.9h2V2305.4h2V2307.4h2V2308.4h20V2307.4h2V2304.9h2V2307.4h2V2308.4h6V2307.4h2V2306.9h4V2302.4h2V2302.9h2V2306.4h2V2308.4h40V2305.9h2V2307.9h2V2306.9h2V2307.4h2V2306.9h2V2307.4h2V2308.4h6V2307.4h2V2306.9h2V2306.4h2V2305.9h2V2302.4h2V2304.4h2V2306.4h2V2306.9h4V2303.9h2V2302.9h2V2303.9h2V2306.4h2V2308.4h12V2308.4Z" fill="#0E6A62"/>
<line x1="655.5" y1="2307.8" x2="1151.2" y2="2307.8" stroke="#0E6A62" stroke-width="1.5"/>
<text transform="translate(657.5,2288.1) scale(1.22,1)" font-size="21.5" text-anchor="end">8</text>
<text transform="translate(657.5,2307.8) scale(1.22,1)" font-size="21.5" text-anchor="end">0</text>
<text x="661.0" y="2293.6" font-size="27.5" fill="#0E6A62" textLength="48.1" lengthAdjust="spacingAndGlyphs">WT1</text>
<path d="M655.5,2348.2h8V2346.7h2V2345.7h2V2348.2h8V2346.7h2V2346.2h2V2348.2h8V2345.7h2V2348.2h4V2347.2h2V2347.7h2V2348.2h2V2347.2h2V2345.7h4V2347.7h2V2346.2h2V2345.2h4V2346.7h2V2348.2h10V2346.2h2V2347.2h2V2346.2h2V2348.2h8V2347.2h4V2348.2h10V2346.7h2V2347.2h2V2348.2h16V2347.2h2V2346.2h2V2348.2h2V2346.7h2V2345.2h2V2348.2h12V2346.7h2V2342.7h2V2345.7h2V2348.2h2V2346.7h2V2348.2h8V2345.7h2V2347.2h2V2348.2h20V2345.2h2V2347.2h2V2348.2h6V2344.2h2V2346.7h2V2343.7h2V2347.2h2V2348.2h8V2347.2h2V2348.2h8V2345.7h2V2346.7h2V2346.2h2V2347.2h2V2345.7h2V2343.7h2V2346.7h2V2348.2h2V2347.2h2V2345.7h2V2344.7h2V2343.7h4V2342.7h2V2343.2h2V2345.7h2V2347.2h2V2348.2h2V2345.7h2V2341.7h2V2347.2h2V2346.7h2V2346.2h2V2348.2h2V2346.7h2V2348.2h4V2347.2h4V2348.2h18V2345.2h2V2343.2h2V2348.2h8V2346.2h2V2345.2h2V2346.2h2V2348.2h6V2343.2h2V2345.2h2V2347.2h4V2348.2h4V2347.2h2V2342.7h2V2344.2h2V2348.2h2V2346.2h4V2348.2h32V2345.2h2V2341.2h2V2345.7h2V2344.2h2V2343.7h2V2342.2h2V2344.2h2V2344.7h2V2345.7h2V2348.2h14V2346.7h2V2346.2h2V2346.7h2V2347.2h2V2344.7h2V2344.2h2V2346.7h2V2348.2h2V2347.2h4V2348.2h20V2345.7h2V2348.2h14V2346.7h2V2345.7h2V2347.7h2V2347.2h4V2348.2h8V2344.7h2V2344.2h2V2348.2h10V2348.2Z" fill="#0E6A62"/>
<line x1="655.5" y1="2347.6" x2="1151.2" y2="2347.6" stroke="#0E6A62" stroke-width="1.5"/>
<text transform="translate(657.5,2327.9) scale(1.22,1)" font-size="21.5" text-anchor="end">8</text>
<text transform="translate(657.5,2347.6) scale(1.22,1)" font-size="21.5" text-anchor="end">0</text>
<text x="661.0" y="2333.4" font-size="27.5" fill="#0E6A62" textLength="48.1" lengthAdjust="spacingAndGlyphs">WT2</text>
<path d="M655.5,2388.1h2V2386.6h6V2388.1h8V2387.1h2V2386.1h2V2384.1h2V2383.1h2V2385.6h2V2386.6h2V2387.1h2V2386.6h2V2385.6h2V2386.6h2V2388.1h6V2387.1h6V2387.6h2V2387.1h6V2384.6h2V2381.6h2V2383.6h2V2385.1h2V2386.1h2V2386.6h2V2386.1h4V2387.1h4V2386.6h2V2386.1h2V2385.6h2V2386.1h6V2385.1h2V2383.1h2V2382.6h2V2381.6h2V2379.6h2V2380.1h2V2383.1h2V2384.1h4V2385.1h2V2384.1h2V2383.1h4V2382.6h4V2383.1h4V2382.6h2V2384.1h2V2385.6h2V2386.1h6V2385.6h2V2385.1h4V2386.1h4V2385.6h2V2386.1h2V2384.6h2V2382.6h2V2382.1h2V2385.1h2V2385.6h4V2384.6h2V2382.6h4V2383.6h2V2385.1h2V2385.6h4V2383.6h4V2385.1h2V2384.6h2V2383.6h2V2383.1h2V2383.6h2V2384.1h4V2383.6h2V2384.1h6V2384.6h2V2385.1h2V2385.6h4V2385.1h2V2384.6h2V2385.1h4V2384.6h2V2383.6h4V2384.6h2V2385.1h4V2385.6h4V2385.1h2V2384.1h2V2381.6h2V2381.1h2V2383.1h2V2384.6h2V2384.1h2V2383.6h2V2384.6h2V2384.1h4V2383.1h2V2382.1h2V2381.1h6V2380.6h2V2378.1h2V2376.6h2V2378.6h2V2380.6h2V2382.6h2V2384.1h4V2384.6h2V2383.6h2V2381.6h2V2382.1h2V2383.1h2V2384.1h2V2384.6h2V2384.1h4V2383.6h2V2383.1h6V2382.6h2V2383.6h6V2383.1h2V2381.1h2V2380.1h2V2381.1h2V2381.6h2V2383.1h4V2382.6h2V2383.1h2V2383.6h2V2383.1h2V2382.6h6V2381.6h2V2380.1h2V2381.1h2V2382.6h4V2381.6h2V2381.1h2V2380.6h4V2381.1h2V2382.1h2V2383.1h2V2381.1h2V2376.6h2V2371.6h2V2368.6h2V2364.1h2V2367.1h2V2365.6h2V2366.6h2V2366.1h4V2367.1h2V2368.6h2V2365.6h2V2365.1h2V2363.6h4V2366.6h2V2368.1h2V2371.1h2V2381.1h2V2384.1h2V2383.1h2V2383.6h2V2386.1h2V2388.1h14V2387.1h6V2388.1h12V2387.1h2V2386.1h2V2385.1h2V2385.6h2V2387.1h2V2388.1h6V2387.1h2V2385.6h2V2385.1h2V2386.1h2V2386.6h4V2387.1h6V2386.1h2V2385.6h2V2385.1h2V2384.6h4V2385.1h2V2387.1h2V2388.1Z" fill="#F9A29E"/>
<line x1="655.5" y1="2387.5" x2="1151.2" y2="2387.5" stroke="#F9A29E" stroke-width="1.5"/>
<text transform="translate(657.5,2367.8) scale(1.22,1)" font-size="21.5" text-anchor="end">8</text>
<text transform="translate(657.5,2387.5) scale(1.22,1)" font-size="21.5" text-anchor="end">0</text>
<text x="661.0" y="2373.3" font-size="27.5" fill="#F9A29E" textLength="45.5" lengthAdjust="spacingAndGlyphs">KO1</text>
<path d="M655.5,2428.0V2421.5h2V2423.0h4V2423.5h4V2425.0h2V2426.0h2V2426.5h6V2427.0h2V2427.5h2V2428.0h6V2427.0h2V2426.5h2V2426.0h2V2425.0h2V2424.5h4V2424.0h2V2424.5h2V2425.0h2V2424.0h2V2423.5h2V2424.5h4V2424.0h2V2426.0h4V2423.0h2V2425.0h2V2427.0h8V2426.5h6V2426.0h2V2425.5h6V2424.5h2V2423.5h4V2424.5h2V2425.5h4V2425.0h2V2425.5h2V2426.0h2V2426.5h4V2426.0h2V2426.5h2V2426.0h4V2425.5h2V2424.0h2V2423.5h2V2424.0h2V2424.5h2V2425.0h4V2424.0h2V2425.0h2V2426.0h10V2425.5h4V2425.0h2V2424.0h2V2422.0h2V2421.0h4V2421.5h2V2422.0h2V2424.0h2V2425.0h2V2425.5h2V2426.0h2V2425.0h2V2424.5h2V2425.5h6V2424.0h2V2423.0h2V2423.5h4V2423.0h2V2421.0h4V2423.5h2V2424.5h2V2425.5h4V2426.0h2V2424.5h2V2423.0h2V2425.0h2V2425.5h6V2425.0h2V2423.0h4V2423.5h2V2424.0h2V2425.0h4V2423.5h2V2422.5h2V2423.0h2V2424.0h2V2424.5h4V2424.0h2V2422.5h2V2420.5h2V2415.5h2V2416.5h2V2419.5h4V2419.0h2V2420.0h2V2421.5h2V2423.0h2V2423.5h2V2424.0h4V2424.5h6V2424.0h2V2424.5h2V2424.0h2V2424.5h2V2424.0h2V2423.0h4V2422.0h2V2421.0h2V2420.5h2V2422.0h2V2423.0h2V2423.5h4V2423.0h2V2423.5h6V2424.0h2V2423.5h2V2423.0h2V2422.5h2V2423.0h2V2423.5h2V2422.0h4V2423.0h2V2421.5h2V2422.0h4V2423.0h4V2423.5h2V2423.0h4V2422.5h4V2422.0h2V2421.5h2V2421.0h2V2420.5h2V2423.0h2V2423.5h2V2423.0h2V2421.0h2V2417.0h2V2412.0h2V2407.5h2V2408.5h2V2407.5h2V2404.5h4V2403.0h2V2400.0h2V2397.0h8V2398.5h2V2399.0h2V2402.0h2V2405.5h2V2410.0h2V2419.5h2V2421.5h2V2419.0h2V2418.0h2V2422.5h2V2424.5h2V2425.0h4V2426.0h2V2427.0h2V2426.5h2V2426.0h2V2426.5h2V2427.0h2V2428.0h10V2427.0h2V2426.0h2V2425.0h2V2424.5h2V2425.5h2V2428.0h6V2426.5h2V2425.5h2V2428.0h6V2426.5h2V2425.5h4V2427.0h2V2428.0h8V2426.0h2V2425.5h2V2426.0h6V2428.0Z" fill="#F9A29E"/>
<line x1="655.5" y1="2427.4" x2="1151.2" y2="2427.4" stroke="#F9A29E" stroke-width="1.5"/>
<text transform="translate(657.5,2407.7) scale(1.22,1)" font-size="21.5" text-anchor="end">8</text>
<text transform="translate(657.5,2427.4) scale(1.22,1)" font-size="21.5" text-anchor="end">0</text>
<text x="661.0" y="2413.2" font-size="27.5" fill="#F9A29E" textLength="45.5" lengthAdjust="spacingAndGlyphs">KO2</text>
<rect x="1020.5" y="1955.4" width="46.299999999999955" height="481.0999999999999" fill="none" stroke="#000" stroke-width="3.6" stroke-dasharray="17 8"/>
<rect x="876.3" y="2445.0" width="191.0" height="22.0" fill="#FAFAFA"/>
<line x1="879.3" y1="2456.0" x2="1064.3" y2="2456.0" stroke="#0000AA" stroke-width="1.4"/>
<rect x="879.3" y="2451.5" width="6.7" height="9.0" fill="#0000AA"/>
<rect x="895.0" y="2451.0" width="4.5" height="10.0" fill="#0000AA"/>
<rect x="931.0" y="2451.0" width="2.5" height="10.0" fill="#0000AA"/>
<rect x="938.0" y="2451.0" width="2.5" height="10.0" fill="#0000AA"/>
<rect x="1059.0" y="2451.5" width="6.0" height="9.0" fill="#0000AA"/>
<path d="M887.3,2453.5l2.5,2.5l-2.5,2.5" fill="none" stroke="#0000AA" stroke-width="0.9"/>
<path d="M897.3,2453.5l2.5,2.5l-2.5,2.5" fill="none" stroke="#0000AA" stroke-width="0.9"/>
<path d="M907.3,2453.5l2.5,2.5l-2.5,2.5" fill="none" stroke="#0000AA" stroke-width="0.9"/>
<path d="M917.3,2453.5l2.5,2.5l-2.5,2.5" fill="none" stroke="#0000AA" stroke-width="0.9"/>
<path d="M927.3,2453.5l2.5,2.5l-2.5,2.5" fill="none" stroke="#0000AA" stroke-width="0.9"/>
<path d="M937.3,2453.5l2.5,2.5l-2.5,2.5" fill="none" stroke="#0000AA" stroke-width="0.9"/>
<path d="M947.3,2453.5l2.5,2.5l-2.5,2.5" fill="none" stroke="#0000AA" stroke-width="0.9"/>
<path d="M957.3,2453.5l2.5,2.5l-2.5,2.5" fill="none" stroke="#0000AA" stroke-width="0.9"/>
<path d="M967.3,2453.5l2.5,2.5l-2.5,2.5" fill="none" stroke="#0000AA" stroke-width="0.9"/>
<path d="M977.3,2453.5l2.5,2.5l-2.5,2.5" fill="none" stroke="#0000AA" stroke-width="0.9"/>
<path d="M987.3,2453.5l2.5,2.5l-2.5,2.5" fill="none" stroke="#0000AA" stroke-width="0.9"/>
<path d="M997.3,2453.5l2.5,2.5l-2.5,2.5" fill="none" stroke="#0000AA" stroke-width="0.9"/>
<path d="M1007.3,2453.5l2.5,2.5l-2.5,2.5" fill="none" stroke="#0000AA" stroke-width="0.9"/>
<path d="M1017.3,2453.5l2.5,2.5l-2.5,2.5" fill="none" stroke="#0000AA" stroke-width="0.9"/>
<path d="M1027.3,2453.5l2.5,2.5l-2.5,2.5" fill="none" stroke="#0000AA" stroke-width="0.9"/>
<path d="M1037.3,2453.5l2.5,2.5l-2.5,2.5" fill="none" stroke="#0000AA" stroke-width="0.9"/>
<path d="M1047.3,2453.5l2.5,2.5l-2.5,2.5" fill="none" stroke="#0000AA" stroke-width="0.9"/>
<text x="980.3" y="2485.5" font-size="30" fill="#0000AA">Stmn3</text>
<text x="1204.5" y="1931.0" font-size="35">k</text>
<rect x="1221.0" y="1953.7" width="496.0" height="492.8" fill="#F8F8F8"/>
<path d="M1221.0,1989.0h100V1987.5h2V1986.5h2V1987.0h2V1987.5h2V1989.0h136V1988.0h2V1986.0h2V1982.0h2V1978.5h2V1976.5h2V1979.0h2V1982.5h2V1984.0h2V1985.5h2V1987.0h2V1988.0h2V1989.0h8V1988.5h2V1989.0h34V1988.5h2V1987.0h2V1984.5h2V1984.0h2V1985.0h2V1986.5h2V1988.0h2V1987.5h2V1986.0h4V1988.0h2V1989.0h146V1988.0h2V1987.5h2V1986.5h2V1987.5h2V1988.0h2V1989.0h8V1989.0Z" fill="#17A097"/>
<line x1="1221.0" y1="1988.4" x2="1717.0" y2="1988.4" stroke="#17A097" stroke-width="1.5"/>
<text transform="translate(1221.5,1968.7) scale(1.22,1)" font-size="21.5" text-anchor="end">6</text>
<text transform="translate(1221.5,1988.4) scale(1.22,1)" font-size="21.5" text-anchor="end">0</text>
<text x="1223.0" y="1974.2" font-size="27.5" fill="#17A097" textLength="48.1" lengthAdjust="spacingAndGlyphs">WT1</text>
<path d="M1221.0,2028.8h12V2026.8h2V2027.3h2V2028.8h28V2027.8h4V2027.3h8V2027.8h2V2028.8h42V2026.8h2V2024.8h2V2025.3h2V2026.8h2V2027.3h2V2026.8h2V2026.3h2V2026.8h2V2028.8h10V2027.8h2V2026.3h2V2024.3h2V2024.8h2V2027.8h2V2028.8h58V2027.8h2V2026.3h4V2028.3h2V2028.8h6V2027.8h2V2028.8h10V2027.8h2V2027.3h6V2027.8h2V2028.8h14V2027.8h2V2026.3h2V2022.3h2V2017.8h2V2017.3h2V2019.8h2V2021.8h2V2024.8h2V2025.3h2V2026.3h2V2027.3h2V2028.8h2V2027.8h4V2028.8h38V2027.8h2V2025.8h2V2022.8h2V2020.8h2V2022.3h2V2025.8h2V2027.3h4V2025.3h2V2025.8h2V2027.8h2V2028.8h2V2027.8h2V2026.8h2V2026.3h2V2026.8h2V2027.8h4V2028.3h2V2028.8h12V2027.8h2V2028.8h14V2027.3h4V2027.8h2V2028.8h16V2027.8h2V2026.3h2V2027.3h2V2028.8h4V2027.8h2V2027.3h4V2028.8h12V2027.3h2V2028.8h4V2027.8h2V2027.3h2V2028.8h6V2027.8h2V2028.8h6V2028.3h2V2027.8h2V2028.8h20V2028.3h2V2028.8h2V2027.8h2V2026.3h2V2025.3h2V2026.3h2V2027.3h4V2026.8h2V2026.3h2V2026.8h2V2028.8Z" fill="#17A097"/>
<line x1="1221.0" y1="2028.2" x2="1717.0" y2="2028.2" stroke="#17A097" stroke-width="1.5"/>
<text transform="translate(1221.5,2008.5) scale(1.22,1)" font-size="21.5" text-anchor="end">6</text>
<text transform="translate(1221.5,2028.2) scale(1.22,1)" font-size="21.5" text-anchor="end">0</text>
<text x="1223.0" y="2014.0" font-size="27.5" fill="#17A097" textLength="48.1" lengthAdjust="spacingAndGlyphs">WT2</text>
<path d="M1221.0,2068.6h2V2068.1h2V2067.6h8V2067.1h4V2067.6h4V2068.6h2V2067.1h4V2068.6h16V2067.6h2V2066.6h4V2067.6h2V2068.6h34V2067.6h2V2067.1h4V2066.6h2V2067.1h2V2068.6h6V2067.1h2V2066.6h2V2065.6h4V2066.1h2V2067.6h2V2068.6h16V2067.1h4V2067.6h2V2068.6h46V2068.1h2V2067.6h6V2068.6h24V2067.1h4V2068.1h2V2068.6h6V2067.6h2V2067.1h6V2068.6h8V2067.6h2V2065.6h2V2063.6h2V2061.6h2V2058.1h2V2055.6h2V2053.1h2V2057.1h2V2060.1h2V2061.6h2V2065.1h2V2066.6h2V2067.1h2V2067.6h8V2068.6h10V2067.1h2V2066.6h2V2067.1h4V2067.6h2V2068.6h14V2067.6h4V2066.6h2V2064.1h2V2063.6h2V2064.1h2V2066.6h2V2067.6h4V2065.1h2V2066.1h2V2067.6h2V2068.6h10V2068.1h2V2067.6h2V2066.1h4V2067.1h2V2066.1h4V2068.6h4V2067.6h2V2067.1h2V2066.6h2V2067.1h2V2068.1h2V2068.6h16V2067.6h2V2068.6h12V2067.6h2V2068.6h12V2066.6h2V2066.1h2V2067.1h2V2068.1h2V2068.6h14V2067.6h2V2067.1h2V2067.6h2V2068.6h2V2067.1h4V2067.6h6V2068.6h8V2067.6h2V2067.1h2V2067.6h2V2068.6h2V2067.6h8V2067.1h2V2066.1h4V2066.6h2V2067.6h2V2068.6h8V2068.6Z" fill="#17A097"/>
<line x1="1221.0" y1="2068.0" x2="1717.0" y2="2068.0" stroke="#17A097" stroke-width="1.5"/>
<text transform="translate(1221.5,2048.3) scale(1.22,1)" font-size="21.5" text-anchor="end">6</text>
<text transform="translate(1221.5,2068.0) scale(1.22,1)" font-size="21.5" text-anchor="end">0</text>
<text x="1223.0" y="2053.8" font-size="27.5" fill="#17A097" textLength="48.1" lengthAdjust="spacingAndGlyphs">WT3</text>
<path d="M1221.0,2108.4h100V2106.9h2V2106.4h4V2106.9h2V2108.4h94V2107.4h2V2108.4h40V2107.4h2V2105.9h2V2101.4h2V2097.4h2V2095.4h2V2098.4h2V2101.4h2V2102.9h2V2104.9h2V2105.9h2V2106.9h2V2108.4h44V2107.4h2V2105.9h2V2103.9h2V2103.4h2V2104.4h2V2106.4h2V2107.4h2V2106.9h2V2104.9h4V2106.9h2V2108.4h146V2107.4h2V2106.4h2V2105.9h2V2106.4h2V2107.4h2V2108.4h8V2108.4Z" fill="#17A097"/>
<line x1="1221.0" y1="2107.8" x2="1717.0" y2="2107.8" stroke="#17A097" stroke-width="1.5"/>
<text transform="translate(1221.5,2088.1) scale(1.22,1)" font-size="21.5" text-anchor="end">6</text>
<text transform="translate(1221.5,2107.8) scale(1.22,1)" font-size="21.5" text-anchor="end">0</text>
<text x="1223.0" y="2093.6" font-size="27.5" fill="#17A097" textLength="48.1" lengthAdjust="spacingAndGlyphs">WT4</text>
<path d="M1221.0,2148.2h24V2147.2h2V2146.2h2V2145.7h2V2145.2h4V2143.7h2V2142.7h2V2143.7h2V2144.7h4V2144.2h2V2143.2h2V2142.7h2V2143.2h2V2145.7h2V2147.2h2V2148.2h4V2146.7h2V2145.2h2V2144.2h4V2146.2h2V2147.2h2V2145.7h2V2146.7h2V2148.2h14V2147.2h2V2146.7h2V2145.2h2V2143.2h2V2140.7h2V2139.7h2V2138.2h2V2136.7h2V2138.2h2V2141.2h2V2142.7h2V2144.2h2V2145.7h2V2147.2h2V2148.2h14V2146.7h2V2145.7h6V2145.2h2V2146.2h2V2147.7h2V2148.2h12V2147.2h2V2146.7h2V2146.2h2V2145.7h2V2144.2h4V2145.7h2V2146.7h2V2147.2h4V2146.7h4V2146.2h2V2144.2h2V2142.2h2V2139.7h2V2138.2h2V2136.7h2V2139.2h2V2142.2h2V2145.2h2V2146.2h2V2145.7h4V2146.7h2V2148.2h10V2147.2h2V2146.2h2V2145.7h2V2144.2h2V2144.7h2V2146.2h2V2147.7h2V2148.2h10V2147.2h2V2145.7h2V2143.7h2V2141.7h2V2139.7h2V2136.2h2V2128.2h2V2124.2h2V2118.2h2V2117.2h2V2117.7h2V2120.7h2V2125.2h2V2128.2h2V2134.2h2V2136.2h2V2140.2h2V2143.2h2V2144.7h2V2146.2h2V2146.7h2V2147.7h2V2148.2h2V2147.2h2V2144.7h2V2145.2h2V2144.7h2V2143.2h2V2141.7h2V2137.7h2V2135.2h2V2132.7h2V2124.7h2V2117.2h2V2120.2h2V2121.7h2V2118.7h2V2121.7h2V2123.2h2V2130.2h2V2134.2h2V2137.2h2V2138.2h2V2141.7h2V2143.7h2V2145.2h6V2145.7h2V2146.2h4V2145.7h2V2148.2h8V2147.2h2V2146.2h4V2146.7h2V2147.2h4V2146.2h2V2144.7h2V2146.7h2V2148.2h4V2147.7h2V2146.7h2V2145.7h2V2144.7h2V2144.2h2V2145.2h2V2146.7h2V2147.2h2V2148.2h4V2147.2h2V2146.2h2V2144.7h2V2144.2h2V2145.2h2V2146.7h2V2147.2h2V2146.7h2V2145.2h2V2146.2h2V2146.7h2V2146.2h2V2147.7h2V2147.2h2V2146.2h2V2145.7h2V2145.2h4V2145.7h2V2146.2h4V2144.7h2V2145.7h2V2147.2h2V2146.7h4V2148.2h8V2147.2h4V2148.2h16V2146.2h2V2144.2h2V2143.2h2V2141.7h4V2143.2h2V2145.2h2V2146.7h2V2148.2h4V2148.2Z" fill="#F76565"/>
<line x1="1221.0" y1="2147.6" x2="1717.0" y2="2147.6" stroke="#F76565" stroke-width="1.5"/>
<text transform="translate(1221.5,2127.9) scale(1.22,1)" font-size="21.5" text-anchor="end">6</text>
<text transform="translate(1221.5,2147.6) scale(1.22,1)" font-size="21.5" text-anchor="end">0</text>
<text x="1223.0" y="2133.4" font-size="27.5" fill="#F76565" textLength="45.5" lengthAdjust="spacingAndGlyphs">KO1</text>
<path d="M1221.0,2188.0h18V2187.0h2V2186.5h2V2188.0h6V2187.0h2V2186.5h2V2184.5h2V2185.0h2V2187.0h2V2188.0h4V2187.5h2V2187.0h4V2187.5h2V2188.0h38V2187.0h2V2185.5h4V2185.0h2V2183.0h2V2181.0h2V2178.5h2V2179.0h4V2180.0h2V2181.5h4V2183.5h2V2185.5h2V2187.0h2V2188.0h18V2187.0h2V2188.0h12V2187.5h2V2188.0h28V2187.0h4V2186.0h2V2184.0h2V2183.0h2V2182.5h2V2182.0h2V2183.5h2V2184.5h2V2185.5h2V2186.5h2V2187.0h2V2188.0h38V2187.0h2V2186.0h2V2185.0h2V2183.0h2V2179.0h2V2176.5h2V2171.5h2V2162.0h2V2157.0h2V2158.0h2V2159.5h2V2160.0h2V2163.5h2V2168.5h2V2173.5h2V2177.0h2V2179.5h2V2181.5h2V2182.5h2V2184.5h2V2185.5h2V2186.0h2V2186.5h4V2186.0h2V2185.5h2V2184.5h2V2182.5h2V2180.5h2V2177.0h2V2174.5h2V2170.0h2V2169.0h2V2168.5h2V2163.5h2V2165.5h2V2160.0h2V2159.5h2V2164.0h2V2171.5h2V2173.5h2V2179.0h2V2181.5h2V2183.0h2V2184.5h2V2186.0h2V2187.0h2V2188.0h18V2186.5h4V2186.0h2V2186.5h2V2187.0h2V2188.0h20V2187.0h2V2186.5h2V2187.0h2V2188.0h26V2187.0h2V2186.5h2V2188.0h4V2186.5h4V2188.0h10V2187.0h4V2188.0h34V2186.0h2V2184.5h2V2181.5h2V2181.0h2V2181.5h2V2182.5h2V2185.0h2V2186.5h2V2188.0h4V2188.0Z" fill="#F76565"/>
<line x1="1221.0" y1="2187.4" x2="1717.0" y2="2187.4" stroke="#F76565" stroke-width="1.5"/>
<text transform="translate(1221.5,2167.7) scale(1.22,1)" font-size="21.5" text-anchor="end">6</text>
<text transform="translate(1221.5,2187.4) scale(1.22,1)" font-size="21.5" text-anchor="end">0</text>
<text x="1223.0" y="2173.2" font-size="27.5" fill="#F76565" textLength="45.5" lengthAdjust="spacingAndGlyphs">KO2</text>
<path d="M1221.0,2227.8h10V2226.8h4V2225.3h2V2223.8h2V2224.3h2V2225.8h2V2227.8h26V2226.8h2V2225.8h2V2226.8h2V2227.8h12V2226.8h4V2227.8h16V2226.8h4V2226.3h2V2225.8h2V2224.8h2V2222.8h2V2221.8h2V2219.3h2V2218.3h2V2218.8h2V2220.3h2V2221.8h2V2222.8h2V2224.8h2V2225.3h4V2225.8h2V2226.3h2V2226.8h4V2226.3h2V2225.3h4V2226.3h2V2226.8h2V2227.8h4V2227.3h4V2227.8h24V2226.8h4V2226.3h2V2226.8h2V2227.8h6V2226.8h2V2226.3h2V2224.8h2V2223.3h2V2222.3h2V2221.3h2V2221.8h2V2223.3h2V2225.3h2V2226.3h2V2227.8h32V2226.8h2V2225.3h2V2223.8h4V2224.8h4V2223.8h2V2222.3h2V2219.8h2V2214.8h2V2207.8h2V2200.8h2V2196.8h4V2199.3h2V2201.8h2V2205.3h2V2207.8h2V2211.3h2V2215.3h2V2217.3h2V2219.3h2V2223.3h2V2225.8h2V2226.8h2V2227.3h2V2227.8h2V2226.8h4V2225.8h2V2224.3h2V2221.3h2V2218.8h2V2216.3h2V2213.8h2V2210.8h2V2208.8h2V2208.3h2V2203.3h2V2203.8h2V2199.3h2V2202.3h2V2203.8h2V2207.8h2V2213.3h2V2217.3h2V2219.8h2V2222.8h2V2224.8h2V2225.8h2V2226.3h2V2227.8h14V2226.8h2V2227.3h2V2227.8h26V2226.8h2V2226.3h2V2225.8h6V2227.8h28V2226.3h2V2226.8h2V2227.8h22V2227.3h2V2227.8h28V2226.8h2V2226.3h2V2223.8h2V2222.3h2V2219.8h2V2220.3h2V2222.3h2V2224.3h2V2225.3h2V2225.8h2V2226.3h2V2227.8Z" fill="#F76565"/>
<line x1="1221.0" y1="2227.2" x2="1717.0" y2="2227.2" stroke="#F76565" stroke-width="1.5"/>
<text transform="translate(1221.5,2207.5) scale(1.22,1)" font-size="21.5" text-anchor="end">6</text>
<text transform="translate(1221.5,2227.2) scale(1.22,1)" font-size="21.5" text-anchor="end">0</text>
<text x="1223.0" y="2213.0" font-size="27.5" fill="#F76565" textLength="45.5" lengthAdjust="spacingAndGlyphs">KO3</text>
<path d="M1221.0,2267.6V2265.6h2V2266.1h2V2267.6h38V2266.6h2V2266.1h2V2266.6h2V2267.6h14V2266.6h4V2267.6h4V2267.1h2V2266.6h4V2267.1h2V2267.6h2V2266.6h2V2267.6h8V2266.6h2V2265.6h2V2264.6h2V2263.1h2V2261.6h2V2259.6h2V2258.6h2V2257.1h4V2258.6h2V2261.1h2V2264.1h2V2265.6h2V2266.6h2V2267.6h14V2266.1h2V2265.6h2V2266.1h2V2267.6h18V2266.1h4V2267.6h6V2266.1h4V2267.6h10V2266.6h2V2266.1h2V2265.6h2V2265.1h2V2263.1h2V2262.1h2V2261.1h4V2263.1h2V2264.6h2V2265.1h2V2266.1h2V2267.6h8V2266.6h2V2265.6h2V2266.1h2V2266.6h8V2267.6h16V2266.6h2V2265.1h2V2263.6h2V2261.6h2V2259.1h2V2253.6h2V2251.1h2V2242.1h2V2238.1h2V2236.6h2V2241.6h2V2240.6h2V2243.1h2V2246.6h2V2250.6h2V2254.6h2V2258.6h2V2261.6h2V2264.1h2V2265.6h4V2266.6h2V2267.6h2V2266.6h2V2266.1h2V2265.6h2V2264.6h2V2263.1h2V2260.6h2V2258.1h2V2255.6h2V2250.6h2V2249.6h2V2246.1h2V2244.6h2V2242.6h2V2241.1h2V2243.1h2V2243.6h2V2250.6h2V2253.6h2V2256.1h2V2260.1h2V2262.6h2V2264.1h2V2265.6h2V2266.6h2V2267.6h14V2266.6h2V2266.1h2V2265.6h2V2266.1h2V2267.1h2V2267.6h16V2266.1h2V2265.1h2V2266.6h2V2267.6h2V2266.6h2V2266.1h4V2267.6h12V2266.6h6V2266.1h4V2267.1h2V2267.6h12V2266.6h6V2266.1h2V2267.1h2V2267.6h38V2266.6h2V2265.6h2V2263.6h2V2261.6h2V2260.6h2V2261.1h2V2262.1h2V2265.1h2V2266.1h2V2267.6h4V2267.6Z" fill="#F76565"/>
<line x1="1221.0" y1="2267.0" x2="1717.0" y2="2267.0" stroke="#F76565" stroke-width="1.5"/>
<text transform="translate(1221.5,2247.3) scale(1.22,1)" font-size="21.5" text-anchor="end">6</text>
<text transform="translate(1221.5,2267.0) scale(1.22,1)" font-size="21.5" text-anchor="end">0</text>
<text x="1223.0" y="2252.8" font-size="27.5" fill="#F76565" textLength="45.5" lengthAdjust="spacingAndGlyphs">KO4</text>
<path d="M1221.0,2307.4h20V2305.4h2V2306.4h2V2307.4h6V2305.4h2V2303.9h2V2307.4h2V2305.4h2V2307.4h2V2305.4h2V2304.9h2V2307.4h62V2306.4h2V2303.9h2V2307.4h14V2305.9h2V2301.4h2V2305.9h4V2301.9h2V2305.4h2V2305.9h2V2307.4h18V2306.4h2V2307.4h10V2306.4h2V2303.9h2V2307.4h4V2305.9h2V2307.4h8V2305.4h2V2307.4h10V2306.4h2V2305.4h2V2305.9h2V2307.4h4V2305.9h2V2306.4h2V2307.4h10V2303.9h2V2305.4h2V2307.4h24V2305.4h2V2306.4h2V2307.4h6V2303.9h2V2307.4h6V2305.9h2V2307.4h6V2304.9h2V2305.9h2V2307.4h12V2306.4h2V2307.4h4V2306.4h2V2307.4h4V2305.9h2V2304.9h2V2306.4h2V2307.4h6V2305.9h2V2306.4h2V2307.4h8V2305.9h2V2304.9h2V2306.4h2V2304.9h2V2306.4h2V2307.4h4V2305.9h2V2307.4h10V2306.4h2V2307.4h6V2305.9h2V2306.4h2V2307.4h6V2306.4h2V2307.4h30V2305.9h2V2307.4h16V2304.9h2V2301.9h2V2306.4h2V2307.4h20V2305.4h2V2303.4h2V2307.4h18V2304.9h2V2307.4h6V2303.9h2V2307.4h16V2307.4Z" fill="#0E6A62"/>
<line x1="1221.0" y1="2306.8" x2="1717.0" y2="2306.8" stroke="#0E6A62" stroke-width="1.5"/>
<text transform="translate(1221.5,2287.1) scale(1.22,1)" font-size="21.5" text-anchor="end">6</text>
<text transform="translate(1221.5,2306.8) scale(1.22,1)" font-size="21.5" text-anchor="end">0</text>
<text x="1223.0" y="2292.6" font-size="27.5" fill="#0E6A62" textLength="48.1" lengthAdjust="spacingAndGlyphs">WT1</text>
<path d="M1221.0,2347.2h2V2346.2h2V2344.2h2V2347.2h2V2345.2h2V2347.2h2V2346.2h2V2347.2h6V2345.7h2V2345.2h2V2345.7h2V2347.2h14V2346.2h2V2344.2h2V2347.2h4V2345.7h2V2347.2h26V2346.2h4V2347.2h10V2346.2h2V2347.2h4V2345.7h2V2347.2h4V2343.2h4V2347.2h4V2344.7h2V2343.7h2V2347.2h4V2346.2h2V2343.7h4V2346.7h2V2347.2h6V2345.2h4V2347.2h6V2344.7h2V2347.2h4V2344.2h2V2346.7h2V2347.2h30V2346.2h2V2347.2h4V2346.2h2V2347.2h8V2345.7h2V2346.2h4V2345.2h4V2346.2h2V2347.2h20V2344.7h2V2347.2h12V2344.7h2V2343.7h2V2345.7h2V2347.2h4V2345.2h2V2347.2h26V2345.2h2V2345.7h2V2347.2h14V2343.7h2V2346.7h2V2347.2h14V2345.7h2V2346.2h2V2347.2h24V2343.7h2V2347.2h16V2346.2h4V2347.2h24V2345.7h2V2346.2h2V2347.2h2V2345.7h2V2347.2h4V2345.2h2V2344.7h2V2346.2h2V2347.2h10V2345.7h2V2347.2h20V2345.2h2V2347.2h12V2345.2h2V2343.7h2V2347.2h16V2342.7h2V2339.7h2V2346.2h2V2345.2h2V2341.7h2V2345.7h2V2347.2h4V2346.2h2V2347.2h2V2347.2Z" fill="#0E6A62"/>
<line x1="1221.0" y1="2346.6" x2="1717.0" y2="2346.6" stroke="#0E6A62" stroke-width="1.5"/>
<text transform="translate(1221.5,2326.9) scale(1.22,1)" font-size="21.5" text-anchor="end">6</text>
<text transform="translate(1221.5,2346.6) scale(1.22,1)" font-size="21.5" text-anchor="end">0</text>
<text x="1223.0" y="2332.4" font-size="27.5" fill="#0E6A62" textLength="48.1" lengthAdjust="spacingAndGlyphs">WT2</text>
<path d="M1221.0,2387.0V2382.5h2V2380.0h4V2382.0h2V2383.0h2V2384.0h4V2384.5h2V2385.5h2V2385.0h2V2385.5h4V2385.0h4V2384.5h2V2384.0h8V2383.5h2V2383.0h2V2383.5h2V2384.0h2V2384.5h4V2384.0h2V2383.5h2V2382.5h4V2383.5h2V2384.0h2V2384.5h2V2384.0h2V2383.5h2V2383.0h2V2383.5h2V2383.0h2V2382.5h2V2382.0h2V2381.5h2V2382.0h6V2381.5h2V2382.0h2V2381.0h2V2379.5h2V2378.5h2V2378.0h2V2374.0h2V2372.0h2V2370.5h2V2369.5h2V2371.5h2V2374.5h2V2376.0h2V2378.5h2V2380.5h2V2382.0h4V2382.5h2V2383.0h4V2383.5h2V2382.5h2V2382.0h4V2381.0h2V2381.5h2V2382.0h2V2382.5h4V2382.0h2V2381.5h4V2383.0h4V2382.5h2V2382.0h2V2381.5h2V2382.0h2V2383.0h6V2383.5h4V2384.0h2V2383.5h2V2382.0h2V2381.5h2V2381.0h2V2380.0h2V2379.5h4V2378.0h4V2378.5h2V2377.0h2V2377.5h2V2378.0h4V2378.5h2V2382.5h2V2384.0h2V2383.5h2V2385.0h4V2384.5h6V2385.5h2V2386.0h4V2385.5h2V2384.5h2V2384.0h4V2384.5h4V2384.0h2V2383.5h4V2383.0h2V2381.0h2V2377.5h2V2376.0h2V2372.5h2V2371.0h2V2368.5h2V2362.5h4V2362.0h2V2363.5h2V2367.0h2V2370.5h4V2373.5h2V2376.0h2V2378.0h2V2379.0h2V2379.5h2V2381.5h2V2382.5h4V2382.0h2V2381.5h2V2383.0h2V2382.5h2V2380.0h2V2376.5h2V2373.5h2V2371.5h4V2370.0h2V2369.5h2V2369.0h2V2368.0h2V2367.0h2V2364.5h2V2369.0h2V2370.5h2V2374.5h2V2376.5h2V2378.0h2V2380.5h2V2381.5h2V2383.0h2V2384.0h2V2385.0h2V2384.5h2V2385.0h2V2385.5h2V2386.0h2V2386.5h2V2386.0h6V2385.5h2V2385.0h2V2383.5h2V2382.0h2V2381.5h2V2382.0h4V2383.0h2V2384.0h2V2384.5h2V2384.0h2V2381.0h2V2380.0h2V2382.0h2V2383.5h2V2383.0h2V2382.0h2V2381.5h2V2382.5h2V2383.5h4V2383.0h6V2381.5h2V2380.0h2V2378.0h2V2377.5h2V2379.0h2V2379.5h2V2381.5h2V2382.0h2V2382.5h4V2383.5h2V2383.0h4V2384.0h2V2383.5h2V2384.0h2V2383.5h10V2383.0h2V2382.0h2V2381.0h2V2382.0h2V2383.0h2V2383.5h2V2383.0h2V2382.0h2V2381.5h2V2383.0h2V2384.0h2V2385.0h2V2384.5h4V2384.0h2V2382.5h2V2381.0h2V2380.5h2V2379.0h2V2378.0h2V2377.5h2V2376.5h2V2379.5h2V2383.0h2V2385.0h2V2386.0h2V2387.0Z" fill="#F9A29E"/>
<line x1="1221.0" y1="2386.4" x2="1717.0" y2="2386.4" stroke="#F9A29E" stroke-width="1.5"/>
<text transform="translate(1221.5,2366.7) scale(1.22,1)" font-size="21.5" text-anchor="end">6</text>
<text transform="translate(1221.5,2386.4) scale(1.22,1)" font-size="21.5" text-anchor="end">0</text>
<text x="1223.0" y="2372.2" font-size="27.5" fill="#F9A29E" textLength="45.5" lengthAdjust="spacingAndGlyphs">KO1</text>
<path d="M1221.0,2426.8V2425.8h2V2425.3h2V2423.8h2V2423.3h2V2425.3h12V2424.8h16V2423.3h2V2422.3h2V2421.3h2V2422.3h2V2423.8h2V2424.3h8V2423.8h4V2423.3h6V2422.8h2V2422.3h2V2421.8h2V2420.8h2V2420.3h2V2421.3h2V2422.8h2V2423.3h2V2424.3h2V2423.3h2V2422.8h2V2423.3h2V2422.3h4V2420.8h2V2418.3h2V2416.3h2V2416.8h2V2414.3h2V2410.3h4V2413.3h2V2415.8h2V2416.8h2V2417.3h2V2418.8h2V2419.3h2V2418.8h2V2419.3h2V2420.8h2V2422.3h2V2422.8h2V2421.8h2V2420.3h4V2421.3h2V2422.3h2V2422.8h4V2422.3h6V2421.8h4V2422.3h2V2422.8h2V2423.3h2V2422.8h4V2421.8h2V2422.3h2V2421.8h2V2422.3h2V2423.3h2V2423.8h2V2423.3h8V2421.8h2V2420.8h2V2420.3h2V2418.8h2V2416.8h4V2418.3h2V2417.8h2V2418.3h4V2419.8h2V2420.3h2V2420.8h4V2422.3h2V2424.8h2V2425.3h6V2424.8h2V2424.3h2V2423.8h2V2424.3h2V2425.3h2V2424.8h2V2423.8h2V2424.8h2V2424.3h2V2422.8h2V2421.8h2V2421.3h4V2418.8h2V2416.3h2V2415.3h2V2412.8h2V2408.8h2V2405.3h2V2401.3h2V2398.8h2V2400.3h2V2401.3h2V2404.8h2V2405.8h2V2407.8h2V2413.3h2V2415.8h2V2418.3h2V2421.8h2V2423.8h8V2423.3h2V2422.8h2V2422.3h4V2420.8h2V2417.8h2V2414.8h2V2413.3h2V2412.3h2V2410.8h2V2408.8h2V2405.8h2V2406.3h2V2407.3h2V2409.8h2V2409.3h2V2411.3h2V2414.3h2V2416.3h2V2417.8h2V2419.8h2V2420.8h4V2422.3h2V2422.8h10V2423.3h2V2423.8h2V2425.3h2V2425.8h10V2425.3h4V2424.3h2V2423.3h2V2422.3h2V2421.3h4V2422.3h2V2423.3h2V2424.3h2V2423.8h2V2422.8h2V2423.3h2V2423.8h2V2423.3h4V2422.8h10V2421.8h2V2422.8h2V2423.8h2V2423.3h10V2422.8h2V2423.3h4V2423.8h4V2422.8h2V2422.3h2V2422.8h6V2422.3h2V2421.8h4V2422.3h2V2423.3h2V2423.8h4V2421.8h2V2419.8h2V2422.3h2V2423.8h2V2422.3h4V2423.8h2V2424.3h4V2423.3h2V2421.3h2V2419.3h2V2416.3h2V2416.8h2V2418.3h2V2416.3h2V2418.3h2V2420.8h2V2422.8h2V2424.8h2V2425.8h2V2426.8Z" fill="#F9A29E"/>
<line x1="1221.0" y1="2426.2" x2="1717.0" y2="2426.2" stroke="#F9A29E" stroke-width="1.5"/>
<text transform="translate(1221.5,2406.5) scale(1.22,1)" font-size="21.5" text-anchor="end">6</text>
<text transform="translate(1221.5,2426.2) scale(1.22,1)" font-size="21.5" text-anchor="end">0</text>
<text x="1223.0" y="2412.0" font-size="27.5" fill="#F9A29E" textLength="45.5" lengthAdjust="spacingAndGlyphs">KO2</text>
<rect x="1513.3" y="1955.4" width="46.200000000000045" height="480.9000000000001" fill="none" stroke="#000" stroke-width="3.6" stroke-dasharray="17 8"/>
<rect x="1533.0" y="2444.8" width="147.0" height="22.0" fill="#FAFAFA"/>
<line x1="1536.0" y1="2455.8" x2="1677.0" y2="2455.8" stroke="#0000AA" stroke-width="1.4"/>
<rect x="1535.5" y="2450.8" width="3.0" height="10.0" fill="#0000AA"/>
<rect x="1548.0" y="2450.3" width="1.2" height="11.0" fill="#0000AA"/>
<rect x="1584.5" y="2450.3" width="1.3" height="11.0" fill="#0000AA"/>
<rect x="1596.0" y="2450.3" width="1.3" height="11.0" fill="#0000AA"/>
<rect x="1624.5" y="2449.8" width="2.3" height="12.0" fill="#0000AA"/>
<rect x="1630.0" y="2449.6" width="6.0" height="12.5" fill="#0000AA"/>
<rect x="1643.5" y="2449.6" width="7.5" height="12.5" fill="#0000AA"/>
<rect x="1672.5" y="2451.3" width="5.5" height="9.0" fill="#0000AA"/>
<path d="M1544.0,2453.3l2.5,2.5l-2.5,2.5" fill="none" stroke="#0000AA" stroke-width="0.9"/>
<path d="M1554.0,2453.3l2.5,2.5l-2.5,2.5" fill="none" stroke="#0000AA" stroke-width="0.9"/>
<path d="M1564.0,2453.3l2.5,2.5l-2.5,2.5" fill="none" stroke="#0000AA" stroke-width="0.9"/>
<path d="M1574.0,2453.3l2.5,2.5l-2.5,2.5" fill="none" stroke="#0000AA" stroke-width="0.9"/>
<path d="M1584.0,2453.3l2.5,2.5l-2.5,2.5" fill="none" stroke="#0000AA" stroke-width="0.9"/>
<path d="M1594.0,2453.3l2.5,2.5l-2.5,2.5" fill="none" stroke="#0000AA" stroke-width="0.9"/>
<path d="M1604.0,2453.3l2.5,2.5l-2.5,2.5" fill="none" stroke="#0000AA" stroke-width="0.9"/>
<path d="M1614.0,2453.3l2.5,2.5l-2.5,2.5" fill="none" stroke="#0000AA" stroke-width="0.9"/>
<path d="M1624.0,2453.3l2.5,2.5l-2.5,2.5" fill="none" stroke="#0000AA" stroke-width="0.9"/>
<path d="M1634.0,2453.3l2.5,2.5l-2.5,2.5" fill="none" stroke="#0000AA" stroke-width="0.9"/>
<path d="M1644.0,2453.3l2.5,2.5l-2.5,2.5" fill="none" stroke="#0000AA" stroke-width="0.9"/>
<path d="M1654.0,2453.3l2.5,2.5l-2.5,2.5" fill="none" stroke="#0000AA" stroke-width="0.9"/>
<path d="M1664.0,2453.3l2.5,2.5l-2.5,2.5" fill="none" stroke="#0000AA" stroke-width="0.9"/>
<text x="1529.8" y="2486.0" font-size="30" fill="#0000AA">Chga</text>
</svg></body></html>
